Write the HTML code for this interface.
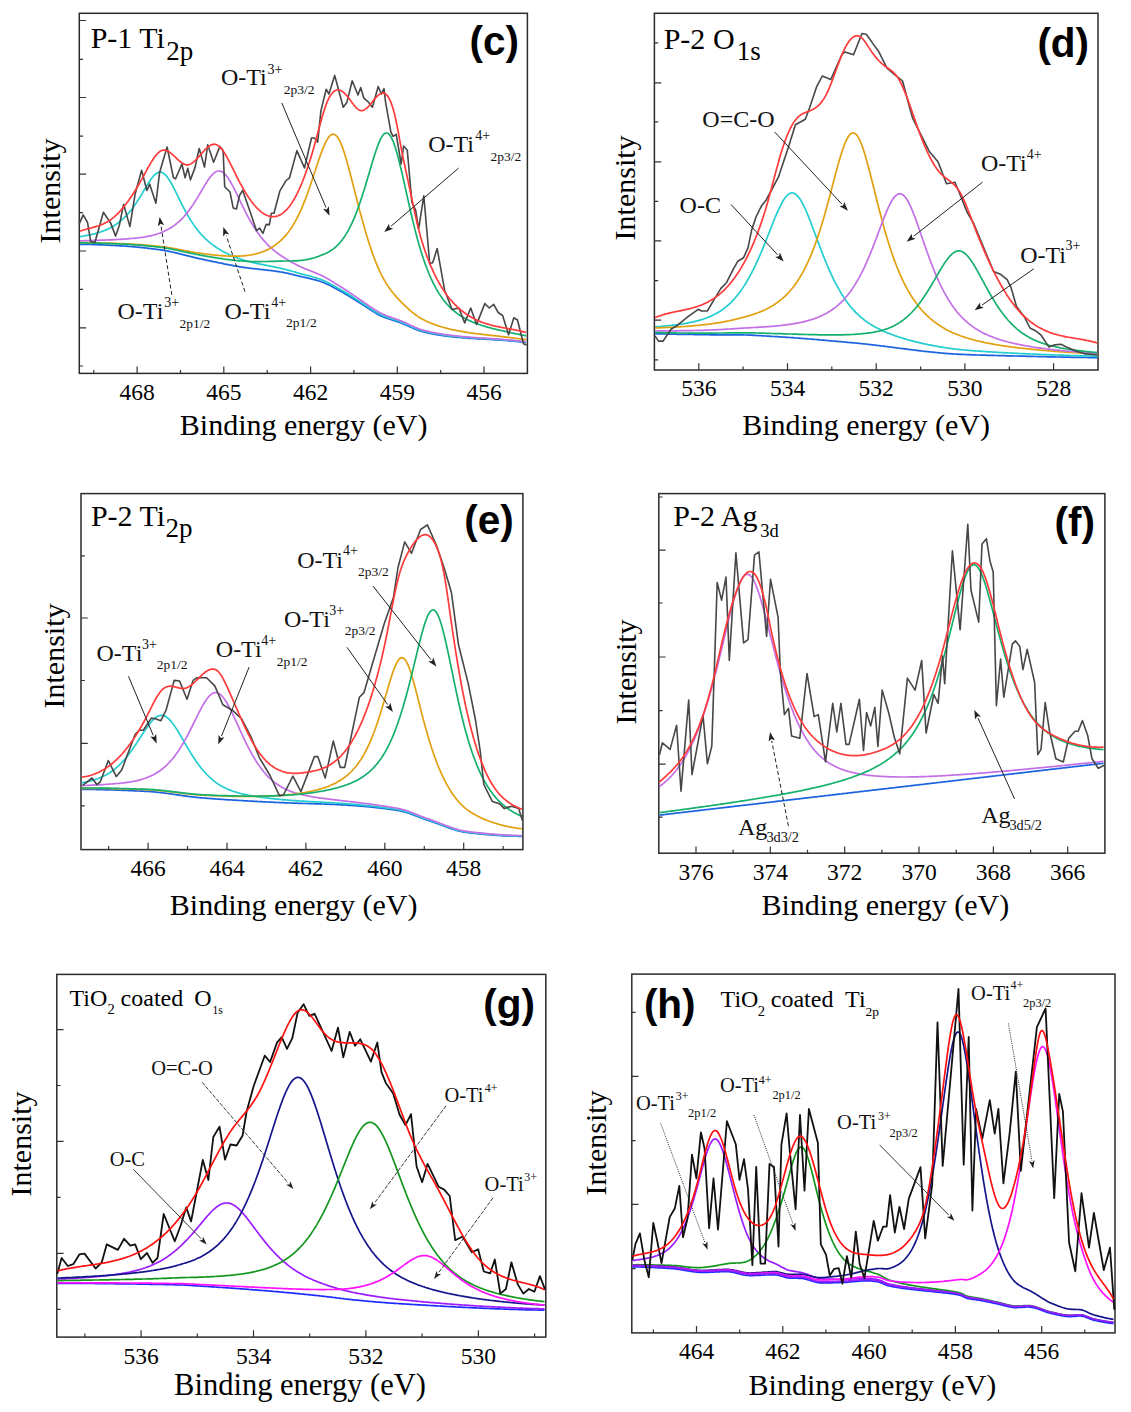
<!DOCTYPE html><html><head><meta charset="utf-8"><style>html,body{margin:0;padding:0;background:#fff;}svg{display:block}</style></head><body>
<svg width="1131" height="1412" viewBox="0 0 1131 1412">
<rect width="1131" height="1412" fill="#fff"/>
<rect x="79.3" y="13.3" width="448.1" height="360.1" fill="none" stroke="#2b2b2b" stroke-width="1.5"/>
<path d="M137.1,373.4V366.6 M223.8,373.4V366.6 M310.6,373.4V366.6 M397.3,373.4V366.6 M484.0,373.4V366.6 M93.8,373.4V369.9 M180.5,373.4V369.9 M267.2,373.4V369.9 M353.9,373.4V369.9 M440.7,373.4V369.9 M79.3,20.5H86.1 M79.3,97.5H86.1 M79.3,174.2H86.1 M79.3,251.0H86.1 M79.3,327.8H86.1 M79.3,59.3H83.1 M79.3,136.1H83.1 M79.3,212.6H83.1 M79.3,289.3H83.1 M79.3,366.0H83.1" stroke="#333" stroke-width="1.2" fill="none"/>
<text x="137.1" y="400.0" text-anchor="middle" font-family='"Liberation Serif", serif' font-size="23.5" fill="#000">468</text>
<text x="223.8" y="400.0" text-anchor="middle" font-family='"Liberation Serif", serif' font-size="23.5" fill="#000">465</text>
<text x="310.6" y="400.0" text-anchor="middle" font-family='"Liberation Serif", serif' font-size="23.5" fill="#000">462</text>
<text x="397.3" y="400.0" text-anchor="middle" font-family='"Liberation Serif", serif' font-size="23.5" fill="#000">459</text>
<text x="484.0" y="400.0" text-anchor="middle" font-family='"Liberation Serif", serif' font-size="23.5" fill="#000">456</text>
<path d="M80.0,244.3 L81.0,244.3 L82.0,244.3 L83.0,244.3 L84.0,244.4 L85.0,244.4 L86.0,244.4 L87.0,244.4 L88.0,244.4 L89.0,244.5 L90.0,244.5 L91.0,244.5 L92.0,244.5 L93.0,244.6 L94.0,244.6 L95.0,244.6 L96.0,244.7 L97.0,244.7 L98.0,244.7 L99.0,244.8 L100.0,244.8 L101.0,244.9 L102.0,244.9 L103.0,244.9 L104.0,245.0 L105.0,245.0 L106.0,245.1 L107.0,245.1 L108.0,245.2 L109.0,245.2 L110.0,245.3 L111.0,245.3 L112.0,245.4 L113.0,245.4 L114.0,245.5 L115.0,245.5 L116.0,245.6 L117.0,245.6 L118.0,245.7 L119.0,245.7 L120.0,245.8 L121.0,245.9 L122.0,245.9 L123.0,246.0 L124.0,246.0 L125.0,246.1 L126.0,246.2 L127.0,246.2 L128.1,246.3 L129.1,246.4 L130.1,246.5 L131.1,246.6 L132.1,246.6 L133.1,246.7 L134.1,246.8 L135.1,246.9 L136.1,247.0 L137.1,247.1 L138.1,247.2 L139.1,247.3 L140.1,247.4 L141.1,247.5 L142.1,247.6 L143.1,247.7 L144.1,247.8 L145.1,247.9 L146.1,248.0 L147.1,248.1 L148.1,248.3 L149.1,248.4 L150.1,248.5 L151.1,248.6 L152.1,248.8 L153.1,248.9 L154.1,249.0 L155.1,249.1 L156.1,249.3 L157.1,249.4 L158.1,249.5 L159.1,249.7 L160.1,249.8 L161.1,249.9 L162.1,250.1 L163.1,250.3 L164.1,250.4 L165.1,250.6 L166.1,250.8 L167.1,251.0 L168.1,251.2 L169.1,251.4 L170.1,251.6 L171.1,251.8 L172.1,252.0 L173.1,252.2 L174.1,252.5 L175.1,252.7 L176.1,252.9 L177.1,253.2 L178.1,253.4 L179.1,253.7 L180.1,253.9 L181.1,254.2 L182.1,254.4 L183.1,254.7 L184.1,254.9 L185.1,255.2 L186.1,255.4 L187.1,255.7 L188.1,255.9 L189.1,256.2 L190.1,256.4 L191.1,256.7 L192.1,256.9 L193.1,257.2 L194.1,257.4 L195.1,257.7 L196.1,257.9 L197.1,258.1 L198.1,258.4 L199.1,258.6 L200.1,258.8 L201.1,259.0 L202.1,259.2 L203.1,259.4 L204.1,259.6 L205.1,259.9 L206.1,260.1 L207.1,260.3 L208.1,260.5 L209.1,260.7 L210.1,260.9 L211.1,261.1 L212.1,261.4 L213.1,261.6 L214.1,261.8 L215.1,262.0 L216.1,262.2 L217.1,262.4 L218.1,262.6 L219.1,262.8 L220.1,263.0 L221.1,263.2 L222.1,263.4 L223.1,263.6 L224.1,263.9 L225.1,264.1 L226.1,264.3 L227.1,264.4 L228.1,264.6 L229.1,264.8 L230.1,265.0 L231.1,265.2 L232.1,265.4 L233.1,265.6 L234.1,265.8 L235.1,265.9 L236.1,266.1 L237.1,266.3 L238.1,266.5 L239.1,266.6 L240.1,266.8 L241.1,267.0 L242.1,267.1 L243.1,267.3 L244.1,267.4 L245.1,267.6 L246.1,267.7 L247.1,267.8 L248.1,268.0 L249.1,268.1 L250.1,268.2 L251.1,268.3 L252.1,268.5 L253.1,268.6 L254.1,268.7 L255.1,268.8 L256.1,268.9 L257.1,269.0 L258.1,269.1 L259.1,269.3 L260.1,269.4 L261.1,269.5 L262.1,269.6 L263.1,269.7 L264.1,269.8 L265.1,269.9 L266.1,270.0 L267.1,270.1 L268.1,270.3 L269.1,270.4 L270.1,270.5 L271.1,270.6 L272.1,270.7 L273.1,270.9 L274.1,271.0 L275.1,271.1 L276.1,271.3 L277.1,271.4 L278.1,271.6 L279.1,271.7 L280.1,271.9 L281.1,272.0 L282.1,272.2 L283.1,272.4 L284.1,272.6 L285.1,272.8 L286.1,273.0 L287.1,273.2 L288.1,273.4 L289.1,273.6 L290.1,273.9 L291.1,274.1 L292.1,274.3 L293.1,274.6 L294.1,274.8 L295.1,275.1 L296.1,275.3 L297.1,275.6 L298.1,275.8 L299.1,276.1 L300.1,276.3 L301.1,276.5 L302.1,276.8 L303.1,277.0 L304.1,277.2 L305.1,277.5 L306.1,277.7 L307.1,277.9 L308.1,278.1 L309.1,278.4 L310.1,278.6 L311.1,278.8 L312.1,279.1 L313.1,279.3 L314.1,279.6 L315.1,279.8 L316.1,280.1 L317.1,280.4 L318.1,280.7 L319.1,281.0 L320.1,281.3 L321.1,281.7 L322.1,282.0 L323.1,282.4 L324.1,282.8 L325.1,283.2 L326.1,283.7 L327.1,284.2 L328.1,284.6 L329.1,285.1 L330.1,285.6 L331.1,286.1 L332.1,286.6 L333.1,287.2 L334.1,287.7 L335.1,288.3 L336.1,288.8 L337.1,289.3 L338.1,289.9 L339.1,290.4 L340.1,291.0 L341.1,291.5 L342.1,292.1 L343.1,292.6 L344.1,293.2 L345.1,293.8 L346.1,294.4 L347.1,295.0 L348.1,295.6 L349.1,296.2 L350.1,296.8 L351.1,297.5 L352.1,298.1 L353.1,298.7 L354.1,299.4 L355.1,300.0 L356.1,300.6 L357.1,301.2 L358.1,301.9 L359.1,302.5 L360.1,303.1 L361.1,303.7 L362.1,304.3 L363.1,305.0 L364.1,305.6 L365.1,306.3 L366.1,306.9 L367.1,307.6 L368.1,308.3 L369.1,308.9 L370.1,309.6 L371.1,310.2 L372.1,310.9 L373.1,311.5 L374.1,312.1 L375.1,312.7 L376.1,313.3 L377.1,313.9 L378.1,314.4 L379.1,315.0 L380.1,315.5 L381.1,315.9 L382.1,316.4 L383.1,316.8 L384.1,317.2 L385.1,317.6 L386.1,317.9 L387.1,318.3 L388.1,318.6 L389.1,319.0 L390.1,319.3 L391.1,319.6 L392.1,320.0 L393.1,320.3 L394.1,320.6 L395.1,320.9 L396.1,321.3 L397.1,321.6 L398.1,321.9 L399.1,322.3 L400.1,322.6 L401.1,323.0 L402.1,323.4 L403.1,323.8 L404.1,324.2 L405.1,324.7 L406.1,325.1 L407.1,325.5 L408.1,326.0 L409.1,326.4 L410.1,326.9 L411.1,327.3 L412.1,327.8 L413.1,328.2 L414.1,328.7 L415.1,329.1 L416.1,329.5 L417.1,329.9 L418.1,330.2 L419.1,330.6 L420.1,330.9 L421.1,331.2 L422.1,331.5 L423.1,331.8 L424.1,332.0 L425.1,332.3 L426.1,332.5 L427.1,332.8 L428.1,333.0 L429.1,333.2 L430.1,333.4 L431.1,333.6 L432.1,333.8 L433.1,334.0 L434.1,334.2 L435.1,334.4 L436.1,334.6 L437.1,334.7 L438.1,334.9 L439.1,335.1 L440.1,335.2 L441.1,335.4 L442.1,335.5 L443.1,335.6 L444.1,335.8 L445.1,335.9 L446.1,336.0 L447.1,336.2 L448.1,336.3 L449.1,336.4 L450.1,336.5 L451.1,336.6 L452.1,336.8 L453.1,336.9 L454.1,337.0 L455.1,337.1 L456.1,337.2 L457.1,337.3 L458.1,337.4 L459.1,337.5 L460.1,337.5 L461.1,337.6 L462.1,337.7 L463.1,337.8 L464.1,337.9 L465.1,338.0 L466.1,338.0 L467.1,338.1 L468.1,338.2 L469.1,338.3 L470.1,338.3 L471.1,338.4 L472.1,338.5 L473.1,338.5 L474.1,338.6 L475.1,338.6 L476.1,338.7 L477.1,338.8 L478.1,338.8 L479.1,338.9 L480.1,338.9 L481.1,339.0 L482.1,339.0 L483.1,339.1 L484.1,339.1 L485.1,339.2 L486.1,339.2 L487.1,339.3 L488.1,339.4 L489.1,339.4 L490.1,339.5 L491.1,339.5 L492.1,339.6 L493.1,339.6 L494.1,339.7 L495.1,339.8 L496.1,339.8 L497.1,339.9 L498.1,340.0 L499.1,340.0 L500.1,340.1 L501.1,340.2 L502.1,340.2 L503.1,340.3 L504.1,340.4 L505.1,340.5 L506.1,340.5 L507.1,340.6 L508.1,340.7 L509.1,340.8 L510.1,340.9 L511.1,341.0 L512.0,341.0 L513.0,341.1 L514.0,341.2 L515.0,341.3 L516.0,341.4 L517.0,341.5 L518.0,341.6 L519.0,341.7 L520.0,341.8 L521.0,341.9 L522.0,342.0 L523.0,342.1 L524.0,342.2 L525.0,342.3 L526.0,342.4" stroke="#1a62e0" stroke-width="1.7" fill="none" transform="translate(0,0)"/>
<path d="M80.0,236.7 L81.0,236.5 L82.0,236.3 L83.0,236.2 L84.0,236.0 L85.0,235.8 L86.0,235.6 L87.0,235.4 L88.0,235.2 L89.0,235.0 L90.0,234.8 L91.0,234.6 L92.0,234.3 L93.0,234.1 L94.0,233.8 L95.0,233.6 L96.0,233.3 L97.0,233.0 L98.0,232.7 L99.0,232.4 L100.0,232.1 L101.0,231.8 L102.0,231.4 L103.0,231.1 L104.0,230.7 L105.0,230.3 L106.0,229.9 L107.0,229.4 L108.0,229.0 L109.0,228.5 L110.0,228.0 L111.0,227.5 L112.0,226.9 L113.0,226.4 L114.0,225.7 L115.0,225.1 L116.0,224.4 L117.0,223.7 L118.0,223.0 L119.0,222.2 L120.0,221.4 L121.0,220.6 L122.0,219.7 L123.0,218.8 L124.0,217.9 L125.0,216.9 L126.0,215.9 L127.0,214.8 L128.1,213.7 L129.1,212.5 L130.1,211.3 L131.1,210.1 L132.1,208.8 L133.1,207.4 L134.1,206.0 L135.1,204.6 L136.1,203.2 L137.1,201.6 L138.1,200.1 L139.1,198.5 L140.1,196.9 L141.1,195.2 L142.1,193.6 L143.1,191.9 L144.1,190.2 L145.1,188.5 L146.1,186.9 L147.1,185.2 L148.1,183.6 L149.1,182.0 L150.1,180.5 L151.1,179.1 L152.1,177.8 L153.1,176.5 L154.1,175.4 L155.1,174.5 L156.1,173.7 L157.1,173.0 L158.1,172.5 L159.1,172.2 L160.1,172.1 L161.1,172.2 L162.1,172.5 L163.1,173.0 L164.1,173.7 L165.1,174.6 L166.1,175.6 L167.1,176.8 L168.1,178.2 L169.1,179.7 L170.1,181.3 L171.1,183.0 L172.1,184.8 L173.1,186.7 L174.1,188.7 L175.1,190.6 L176.1,192.7 L177.1,194.7 L178.1,196.7 L179.1,198.8 L180.1,200.8 L181.1,202.8 L182.1,204.8 L183.1,206.7 L184.1,208.7 L185.1,210.5 L186.1,212.4 L187.1,214.2 L188.1,215.9 L189.1,217.6 L190.1,219.3 L191.1,220.9 L192.1,222.4 L193.1,223.9 L194.1,225.4 L195.1,226.8 L196.1,228.1 L197.1,229.4 L198.1,230.7 L199.1,231.9 L200.1,233.1 L201.1,234.2 L202.1,235.3 L203.1,236.3 L204.1,237.4 L205.1,238.3 L206.1,239.3 L207.1,240.2 L208.1,241.1 L209.1,241.9 L210.1,242.8 L211.1,243.6 L212.1,244.4 L213.1,245.1 L214.1,245.8 L215.1,246.5 L216.1,247.2 L217.1,247.9 L218.1,248.5 L219.1,249.2 L220.1,249.8 L221.1,250.4 L222.1,250.9 L223.1,251.5 L224.1,252.0 L225.1,252.5 L226.1,253.1 L227.1,253.6 L228.1,254.0 L229.1,254.5 L230.1,255.0 L231.1,255.4 L232.1,255.8 L233.1,256.3 L234.1,256.7 L235.1,257.1 L236.1,257.4 L237.1,257.8 L238.1,258.2 L239.1,258.5 L240.1,258.9 L241.1,259.2 L242.1,259.6 L243.1,259.9 L244.1,260.2 L245.1,260.5 L246.1,260.8 L247.1,261.1 L248.1,261.3 L249.1,261.6 L250.1,261.8 L251.1,262.1 L252.1,262.3 L253.1,262.6 L254.1,262.8 L255.1,263.0 L256.1,263.3 L257.1,263.5 L258.1,263.7 L259.1,263.9 L260.1,264.1 L261.1,264.3 L262.1,264.5 L263.1,264.7 L264.1,264.9 L265.1,265.1 L266.1,265.3 L267.1,265.5 L268.1,265.7 L269.1,265.9 L270.1,266.1 L271.1,266.3 L272.1,266.5 L273.1,266.7 L274.1,266.9 L275.1,267.1 L276.1,267.3 L277.1,267.5 L278.1,267.7 L279.1,268.0 L280.1,268.2 L281.1,268.4 L282.1,268.6 L283.1,268.8 L284.1,269.1 L285.1,269.3 L286.1,269.6 L287.1,269.9 L288.1,270.1 L289.1,270.4 L290.1,270.7 L291.1,271.0 L292.1,271.3 L293.1,271.5 L294.1,271.8 L295.1,272.1 L296.1,272.4 L297.1,272.7 L298.1,273.0 L299.1,273.3 L300.1,273.6 L301.1,273.8 L302.1,274.1 L303.1,274.4 L304.1,274.6 L305.1,274.9 L306.1,275.1 L307.1,275.4 L308.1,275.6 L309.1,275.9 L310.1,276.2 L311.1,276.4 L312.1,276.7 L313.1,277.0 L314.1,277.3 L315.1,277.6 L316.1,277.9 L317.1,278.2 L318.1,278.5 L319.1,278.8 L320.1,279.2 L321.1,279.6 L322.1,279.9 L323.1,280.4 L324.1,280.8 L325.1,281.2 L326.1,281.7 L327.1,282.2 L328.1,282.7 L329.1,283.2 L330.1,283.7 L331.1,284.3 L332.1,284.8 L333.1,285.3 L334.1,285.9 L335.1,286.5 L336.1,287.0 L337.1,287.6 L338.1,288.2 L339.1,288.7 L340.1,289.3 L341.1,289.9 L342.1,290.4 L343.1,291.0 L344.1,291.6 L345.1,292.2 L346.1,292.8 L347.1,293.4 L348.1,294.0 L349.1,294.7 L350.1,295.3 L351.1,296.0 L352.1,296.6 L353.1,297.2 L354.1,297.9 L355.1,298.5 L356.1,299.2 L357.1,299.8 L358.1,300.5 L359.1,301.1 L360.1,301.7 L361.1,302.4 L362.1,303.0 L363.1,303.6 L364.1,304.3 L365.1,305.0 L366.1,305.6 L367.1,306.3 L368.1,307.0 L369.1,307.7 L370.1,308.3 L371.1,309.0 L372.1,309.7 L373.1,310.3 L374.1,310.9 L375.1,311.6 L376.1,312.2 L377.1,312.7 L378.1,313.3 L379.1,313.8 L380.1,314.3 L381.1,314.8 L382.1,315.2 L383.1,315.7 L384.1,316.1 L385.1,316.5 L386.1,316.9 L387.1,317.2 L388.1,317.6 L389.1,317.9 L390.1,318.3 L391.1,318.6 L392.1,318.9 L393.1,319.3 L394.1,319.6 L395.1,319.9 L396.1,320.3 L397.1,320.6 L398.1,321.0 L399.1,321.3 L400.1,321.7 L401.1,322.1 L402.1,322.5 L403.1,322.9 L404.1,323.3 L405.1,323.7 L406.1,324.2 L407.1,324.6 L408.1,325.1 L409.1,325.5 L410.1,326.0 L411.1,326.5 L412.1,326.9 L413.1,327.4 L414.1,327.8 L415.1,328.2 L416.1,328.6 L417.1,329.0 L418.1,329.4 L419.1,329.8 L420.1,330.1 L421.1,330.4 L422.1,330.7 L423.1,331.0 L424.1,331.2 L425.1,331.5 L426.1,331.7 L427.1,332.0 L428.1,332.2 L429.1,332.4 L430.1,332.7 L431.1,332.9 L432.1,333.1 L433.1,333.3 L434.1,333.5 L435.1,333.7 L436.1,333.8 L437.1,334.0 L438.1,334.2 L439.1,334.3 L440.1,334.5 L441.1,334.7 L442.1,334.8 L443.1,335.0 L444.1,335.1 L445.1,335.2 L446.1,335.4 L447.1,335.5 L448.1,335.6 L449.1,335.8 L450.1,335.9 L451.1,336.0 L452.1,336.1 L453.1,336.2 L454.1,336.3 L455.1,336.4 L456.1,336.5 L457.1,336.6 L458.1,336.7 L459.1,336.8 L460.1,336.9 L461.1,337.0 L462.1,337.1 L463.1,337.2 L464.1,337.3 L465.1,337.4 L466.1,337.4 L467.1,337.5 L468.1,337.6 L469.1,337.7 L470.1,337.7 L471.1,337.8 L472.1,337.9 L473.1,337.9 L474.1,338.0 L475.1,338.1 L476.1,338.1 L477.1,338.2 L478.1,338.3 L479.1,338.3 L480.1,338.4 L481.1,338.4 L482.1,338.5 L483.1,338.6 L484.1,338.6 L485.1,338.7 L486.1,338.7 L487.1,338.8 L488.1,338.8 L489.1,338.9 L490.1,339.0 L491.1,339.0 L492.1,339.1 L493.1,339.1 L494.1,339.2 L495.1,339.3 L496.1,339.3 L497.1,339.4 L498.1,339.5 L499.1,339.5 L500.1,339.6 L501.1,339.7 L502.1,339.8 L503.1,339.8 L504.1,339.9 L505.1,340.0 L506.1,340.1 L507.1,340.2 L508.1,340.2 L509.1,340.3 L510.1,340.4 L511.1,340.5 L512.0,340.6 L513.0,340.7 L514.0,340.8 L515.0,340.9 L516.0,341.0 L517.0,341.1 L518.0,341.2 L519.0,341.3 L520.0,341.4 L521.0,341.5 L522.0,341.6 L523.0,341.7 L524.0,341.8 L525.0,341.9 L526.0,342.0" stroke="#22cdd0" stroke-width="1.7" fill="none"/>
<path d="M80.0,240.9 L81.0,240.8 L82.0,240.8 L83.0,240.8 L84.0,240.7 L85.0,240.7 L86.0,240.7 L87.0,240.6 L88.0,240.6 L89.0,240.6 L90.0,240.5 L91.0,240.5 L92.0,240.5 L93.0,240.4 L94.0,240.4 L95.0,240.4 L96.0,240.3 L97.0,240.3 L98.0,240.3 L99.0,240.3 L100.0,240.2 L101.0,240.2 L102.0,240.2 L103.0,240.1 L104.0,240.1 L105.0,240.1 L106.0,240.0 L107.0,240.0 L108.0,239.9 L109.0,239.9 L110.0,239.9 L111.0,239.8 L112.0,239.8 L113.0,239.7 L114.0,239.7 L115.0,239.6 L116.0,239.6 L117.0,239.5 L118.0,239.5 L119.0,239.4 L120.0,239.3 L121.0,239.3 L122.0,239.2 L123.0,239.1 L124.0,239.1 L125.0,239.0 L126.0,238.9 L127.0,238.9 L128.1,238.8 L129.1,238.7 L130.1,238.6 L131.1,238.5 L132.1,238.5 L133.1,238.4 L134.1,238.3 L135.1,238.2 L136.1,238.1 L137.1,238.0 L138.1,237.9 L139.1,237.7 L140.1,237.6 L141.1,237.5 L142.1,237.3 L143.1,237.2 L144.1,237.0 L145.1,236.9 L146.1,236.7 L147.1,236.5 L148.1,236.3 L149.1,236.1 L150.1,235.9 L151.1,235.7 L152.1,235.5 L153.1,235.2 L154.1,234.9 L155.1,234.7 L156.1,234.4 L157.1,234.0 L158.1,233.7 L159.1,233.3 L160.1,233.0 L161.1,232.6 L162.1,232.2 L163.1,231.7 L164.1,231.3 L165.1,230.8 L166.1,230.3 L167.1,229.8 L168.1,229.3 L169.1,228.8 L170.1,228.2 L171.1,227.6 L172.1,226.9 L173.1,226.3 L174.1,225.6 L175.1,224.8 L176.1,224.0 L177.1,223.2 L178.1,222.4 L179.1,221.5 L180.1,220.6 L181.1,219.6 L182.1,218.6 L183.1,217.6 L184.1,216.5 L185.1,215.3 L186.1,214.1 L187.1,212.9 L188.1,211.6 L189.1,210.3 L190.1,208.9 L191.1,207.5 L192.1,206.1 L193.1,204.6 L194.1,203.0 L195.1,201.5 L196.1,199.9 L197.1,198.2 L198.1,196.6 L199.1,194.9 L200.1,193.2 L201.1,191.5 L202.1,189.8 L203.1,188.0 L204.1,186.4 L205.1,184.7 L206.1,183.1 L207.1,181.5 L208.1,180.0 L209.1,178.6 L210.1,177.3 L211.1,176.0 L212.1,174.9 L213.1,173.9 L214.1,173.0 L215.1,172.3 L216.1,171.7 L217.1,171.3 L218.1,171.0 L219.1,171.0 L220.1,171.1 L221.1,171.4 L222.1,171.8 L223.1,172.5 L224.1,173.3 L225.1,174.3 L226.1,175.4 L227.1,176.7 L228.1,178.1 L229.1,179.6 L230.1,181.2 L231.1,183.0 L232.1,184.8 L233.1,186.7 L234.1,188.6 L235.1,190.6 L236.1,192.7 L237.1,194.7 L238.1,196.8 L239.1,198.9 L240.1,201.0 L241.1,203.1 L242.1,205.1 L243.1,207.2 L244.1,209.2 L245.1,211.2 L246.1,213.1 L247.1,215.0 L248.1,216.9 L249.1,218.7 L250.1,220.5 L251.1,222.3 L252.1,224.0 L253.1,225.6 L254.1,227.2 L255.1,228.8 L256.1,230.3 L257.1,231.8 L258.1,233.2 L259.1,234.6 L260.1,235.9 L261.1,237.2 L262.1,238.4 L263.1,239.6 L264.1,240.8 L265.1,241.9 L266.1,243.0 L267.1,244.1 L268.1,245.1 L269.1,246.1 L270.1,247.0 L271.1,247.9 L272.1,248.8 L273.1,249.7 L274.1,250.5 L275.1,251.3 L276.1,252.1 L277.1,252.8 L278.1,253.6 L279.1,254.3 L280.1,255.0 L281.1,255.7 L282.1,256.3 L283.1,257.0 L284.1,257.6 L285.1,258.2 L286.1,258.9 L287.1,259.5 L288.1,260.1 L289.1,260.7 L290.1,261.3 L291.1,261.8 L292.1,262.4 L293.1,262.9 L294.1,263.5 L295.1,264.0 L296.1,264.5 L297.1,265.1 L298.1,265.6 L299.1,266.0 L300.1,266.5 L301.1,267.0 L302.1,267.4 L303.1,267.9 L304.1,268.3 L305.1,268.7 L306.1,269.1 L307.1,269.5 L308.1,269.9 L309.1,270.3 L310.1,270.7 L311.1,271.1 L312.1,271.5 L313.1,271.9 L314.1,272.3 L315.1,272.7 L316.1,273.1 L317.1,273.5 L318.1,274.0 L319.1,274.4 L320.1,274.8 L321.1,275.3 L322.1,275.8 L323.1,276.3 L324.1,276.8 L325.1,277.3 L326.1,277.9 L327.1,278.4 L328.1,279.0 L329.1,279.6 L330.1,280.2 L331.1,280.8 L332.1,281.4 L333.1,282.0 L334.1,282.6 L335.1,283.3 L336.1,283.9 L337.1,284.5 L338.1,285.1 L339.1,285.8 L340.1,286.4 L341.1,287.0 L342.1,287.6 L343.1,288.2 L344.1,288.9 L345.1,289.5 L346.1,290.2 L347.1,290.8 L348.1,291.5 L349.1,292.2 L350.1,292.9 L351.1,293.6 L352.1,294.2 L353.1,294.9 L354.1,295.6 L355.1,296.3 L356.1,297.0 L357.1,297.7 L358.1,298.3 L359.1,299.0 L360.1,299.7 L361.1,300.3 L362.1,301.0 L363.1,301.7 L364.1,302.4 L365.1,303.1 L366.1,303.8 L367.1,304.5 L368.1,305.2 L369.1,305.9 L370.1,306.6 L371.1,307.3 L372.1,307.9 L373.1,308.6 L374.1,309.3 L375.1,309.9 L376.1,310.5 L377.1,311.1 L378.1,311.7 L379.1,312.3 L380.1,312.8 L381.1,313.3 L382.1,313.8 L383.1,314.2 L384.1,314.6 L385.1,315.1 L386.1,315.5 L387.1,315.8 L388.1,316.2 L389.1,316.6 L390.1,316.9 L391.1,317.3 L392.1,317.7 L393.1,318.0 L394.1,318.3 L395.1,318.7 L396.1,319.1 L397.1,319.4 L398.1,319.8 L399.1,320.1 L400.1,320.5 L401.1,320.9 L402.1,321.3 L403.1,321.8 L404.1,322.2 L405.1,322.6 L406.1,323.1 L407.1,323.6 L408.1,324.0 L409.1,324.5 L410.1,325.0 L411.1,325.5 L412.1,325.9 L413.1,326.4 L414.1,326.8 L415.1,327.3 L416.1,327.7 L417.1,328.1 L418.1,328.5 L419.1,328.9 L420.1,329.2 L421.1,329.5 L422.1,329.8 L423.1,330.1 L424.1,330.4 L425.1,330.6 L426.1,330.9 L427.1,331.1 L428.1,331.4 L429.1,331.6 L430.1,331.8 L431.1,332.1 L432.1,332.3 L433.1,332.5 L434.1,332.7 L435.1,332.9 L436.1,333.1 L437.1,333.3 L438.1,333.4 L439.1,333.6 L440.1,333.8 L441.1,333.9 L442.1,334.1 L443.1,334.3 L444.1,334.4 L445.1,334.5 L446.1,334.7 L447.1,334.8 L448.1,335.0 L449.1,335.1 L450.1,335.2 L451.1,335.3 L452.1,335.5 L453.1,335.6 L454.1,335.7 L455.1,335.8 L456.1,335.9 L457.1,336.0 L458.1,336.1 L459.1,336.2 L460.1,336.3 L461.1,336.4 L462.1,336.5 L463.1,336.6 L464.1,336.7 L465.1,336.8 L466.1,336.9 L467.1,337.0 L468.1,337.1 L469.1,337.1 L470.1,337.2 L471.1,337.3 L472.1,337.4 L473.1,337.4 L474.1,337.5 L475.1,337.6 L476.1,337.6 L477.1,337.7 L478.1,337.8 L479.1,337.8 L480.1,337.9 L481.1,338.0 L482.1,338.0 L483.1,338.1 L484.1,338.1 L485.1,338.2 L486.1,338.3 L487.1,338.3 L488.1,338.4 L489.1,338.4 L490.1,338.5 L491.1,338.6 L492.1,338.6 L493.1,338.7 L494.1,338.8 L495.1,338.8 L496.1,338.9 L497.1,339.0 L498.1,339.0 L499.1,339.1 L500.1,339.2 L501.1,339.3 L502.1,339.4 L503.1,339.4 L504.1,339.5 L505.1,339.6 L506.1,339.7 L507.1,339.8 L508.1,339.9 L509.1,339.9 L510.1,340.0 L511.1,340.1 L512.0,340.2 L513.0,340.3 L514.0,340.4 L515.0,340.5 L516.0,340.6 L517.0,340.7 L518.0,340.8 L519.0,340.9 L520.0,341.0 L521.0,341.1 L522.0,341.2 L523.0,341.3 L524.0,341.4 L525.0,341.5 L526.0,341.7" stroke="#c36fe6" stroke-width="1.7" fill="none"/>
<path d="M80.0,242.7 L81.0,242.7 L82.0,242.7 L83.0,242.7 L84.0,242.7 L85.0,242.7 L86.0,242.7 L87.0,242.7 L88.0,242.7 L89.0,242.7 L90.0,242.7 L91.0,242.8 L92.0,242.8 L93.0,242.8 L94.0,242.8 L95.0,242.8 L96.0,242.8 L97.0,242.9 L98.0,242.9 L99.0,242.9 L100.0,242.9 L101.0,243.0 L102.0,243.0 L103.0,243.0 L104.0,243.0 L105.0,243.1 L106.0,243.1 L107.0,243.1 L108.0,243.2 L109.0,243.2 L110.0,243.2 L111.0,243.3 L112.0,243.3 L113.0,243.3 L114.0,243.4 L115.0,243.4 L116.0,243.4 L117.0,243.5 L118.0,243.5 L119.0,243.5 L120.0,243.6 L121.0,243.6 L122.0,243.6 L123.0,243.7 L124.0,243.7 L125.0,243.8 L126.0,243.8 L127.0,243.9 L128.1,243.9 L129.1,244.0 L130.1,244.0 L131.1,244.1 L132.1,244.1 L133.1,244.2 L134.1,244.3 L135.1,244.3 L136.1,244.4 L137.1,244.5 L138.1,244.5 L139.1,244.6 L140.1,244.7 L141.1,244.7 L142.1,244.8 L143.1,244.9 L144.1,245.0 L145.1,245.1 L146.1,245.1 L147.1,245.2 L148.1,245.3 L149.1,245.4 L150.1,245.5 L151.1,245.6 L152.1,245.7 L153.1,245.8 L154.1,245.9 L155.1,246.0 L156.1,246.1 L157.1,246.2 L158.1,246.3 L159.1,246.4 L160.1,246.5 L161.1,246.6 L162.1,246.7 L163.1,246.8 L164.1,246.9 L165.1,247.1 L166.1,247.2 L167.1,247.4 L168.1,247.5 L169.1,247.7 L170.1,247.8 L171.1,248.0 L172.1,248.2 L173.1,248.4 L174.1,248.5 L175.1,248.7 L176.1,248.9 L177.1,249.1 L178.1,249.3 L179.1,249.5 L180.1,249.7 L181.1,249.9 L182.1,250.1 L183.1,250.3 L184.1,250.5 L185.1,250.7 L186.1,250.9 L187.1,251.1 L188.1,251.2 L189.1,251.4 L190.1,251.6 L191.1,251.8 L192.1,252.0 L193.1,252.2 L194.1,252.3 L195.1,252.5 L196.1,252.7 L197.1,252.8 L198.1,253.0 L199.1,253.1 L200.1,253.3 L201.1,253.4 L202.1,253.5 L203.1,253.7 L204.1,253.8 L205.1,253.9 L206.1,254.0 L207.1,254.2 L208.1,254.3 L209.1,254.4 L210.1,254.5 L211.1,254.6 L212.1,254.8 L213.1,254.9 L214.1,255.0 L215.1,255.1 L216.1,255.2 L217.1,255.3 L218.1,255.4 L219.1,255.5 L220.1,255.5 L221.1,255.6 L222.1,255.7 L223.1,255.8 L224.1,255.8 L225.1,255.9 L226.1,256.0 L227.1,256.0 L228.1,256.1 L229.1,256.1 L230.1,256.1 L231.1,256.2 L232.1,256.2 L233.1,256.2 L234.1,256.2 L235.1,256.2 L236.1,256.2 L237.1,256.2 L238.1,256.2 L239.1,256.1 L240.1,256.1 L241.1,256.0 L242.1,256.0 L243.1,255.9 L244.1,255.8 L245.1,255.7 L246.1,255.6 L247.1,255.5 L248.1,255.3 L249.1,255.2 L250.1,255.0 L251.1,254.9 L252.1,254.7 L253.1,254.5 L254.1,254.3 L255.1,254.0 L256.1,253.8 L257.1,253.5 L258.1,253.2 L259.1,252.9 L260.1,252.6 L261.1,252.3 L262.1,251.9 L263.1,251.6 L264.1,251.2 L265.1,250.8 L266.1,250.3 L267.1,249.9 L268.1,249.4 L269.1,248.9 L270.1,248.3 L271.1,247.8 L272.1,247.2 L273.1,246.6 L274.1,245.9 L275.1,245.2 L276.1,244.5 L277.1,243.7 L278.1,242.9 L279.1,242.1 L280.1,241.2 L281.1,240.2 L282.1,239.3 L283.1,238.2 L284.1,237.2 L285.1,236.1 L286.1,234.9 L287.1,233.7 L288.1,232.4 L289.1,231.1 L290.1,229.7 L291.1,228.2 L292.1,226.7 L293.1,225.1 L294.1,223.4 L295.1,221.7 L296.1,219.9 L297.1,218.0 L298.1,216.0 L299.1,214.0 L300.1,211.8 L301.1,209.6 L302.1,207.3 L303.1,204.9 L304.1,202.4 L305.1,199.9 L306.1,197.2 L307.1,194.5 L308.1,191.8 L309.1,188.9 L310.1,186.0 L311.1,183.1 L312.1,180.1 L313.1,177.1 L314.1,174.1 L315.1,171.0 L316.1,168.0 L317.1,165.0 L318.1,162.0 L319.1,159.0 L320.1,156.1 L321.1,153.3 L322.1,150.6 L323.1,148.1 L324.1,145.7 L325.1,143.4 L326.1,141.4 L327.1,139.6 L328.1,138.0 L329.1,136.6 L330.1,135.6 L331.1,134.8 L332.1,134.3 L333.1,134.1 L334.1,134.3 L335.1,134.7 L336.1,135.5 L337.1,136.6 L338.1,138.0 L339.1,139.7 L340.1,141.7 L341.1,143.9 L342.1,146.4 L343.1,149.2 L344.1,152.1 L345.1,155.3 L346.1,158.6 L347.1,162.1 L348.1,165.7 L349.1,169.4 L350.1,173.2 L351.1,177.1 L352.1,181.0 L353.1,185.0 L354.1,188.9 L355.1,192.9 L356.1,196.8 L357.1,200.7 L358.1,204.6 L359.1,208.4 L360.1,212.1 L361.1,215.8 L362.1,219.5 L363.1,223.1 L364.1,226.6 L365.1,230.1 L366.1,233.5 L367.1,236.8 L368.1,240.0 L369.1,243.2 L370.1,246.3 L371.1,249.3 L372.1,252.2 L373.1,255.0 L374.1,257.7 L375.1,260.4 L376.1,262.9 L377.1,265.3 L378.1,267.7 L379.1,269.9 L380.1,272.1 L381.1,274.2 L382.1,276.1 L383.1,278.0 L384.1,279.8 L385.1,281.5 L386.1,283.2 L387.1,284.8 L388.1,286.3 L389.1,287.7 L390.1,289.1 L391.1,290.5 L392.1,291.8 L393.1,293.0 L394.1,294.3 L395.1,295.4 L396.1,296.6 L397.1,297.7 L398.1,298.7 L399.1,299.8 L400.1,300.8 L401.1,301.8 L402.1,302.8 L403.1,303.8 L404.1,304.8 L405.1,305.8 L406.1,306.7 L407.1,307.7 L408.1,308.6 L409.1,309.5 L410.1,310.4 L411.1,311.2 L412.1,312.1 L413.1,312.9 L414.1,313.7 L415.1,314.5 L416.1,315.2 L417.1,315.9 L418.1,316.6 L419.1,317.3 L420.1,317.9 L421.1,318.5 L422.1,319.0 L423.1,319.6 L424.1,320.1 L425.1,320.6 L426.1,321.0 L427.1,321.5 L428.1,322.0 L429.1,322.4 L430.1,322.8 L431.1,323.2 L432.1,323.6 L433.1,324.0 L434.1,324.4 L435.1,324.8 L436.1,325.1 L437.1,325.4 L438.1,325.8 L439.1,326.1 L440.1,326.4 L441.1,326.7 L442.1,327.0 L443.1,327.3 L444.1,327.6 L445.1,327.8 L446.1,328.1 L447.1,328.4 L448.1,328.6 L449.1,328.9 L450.1,329.1 L451.1,329.3 L452.1,329.6 L453.1,329.8 L454.1,330.0 L455.1,330.2 L456.1,330.4 L457.1,330.6 L458.1,330.8 L459.1,331.0 L460.1,331.2 L461.1,331.4 L462.1,331.6 L463.1,331.7 L464.1,331.9 L465.1,332.1 L466.1,332.2 L467.1,332.4 L468.1,332.5 L469.1,332.7 L470.1,332.8 L471.1,333.0 L472.1,333.1 L473.1,333.2 L474.1,333.4 L475.1,333.5 L476.1,333.6 L477.1,333.8 L478.1,333.9 L479.1,334.0 L480.1,334.1 L481.1,334.2 L482.1,334.4 L483.1,334.5 L484.1,334.6 L485.1,334.7 L486.1,334.8 L487.1,334.9 L488.1,335.0 L489.1,335.1 L490.1,335.3 L491.1,335.4 L492.1,335.5 L493.1,335.6 L494.1,335.7 L495.1,335.8 L496.1,335.9 L497.1,336.0 L498.1,336.1 L499.1,336.2 L500.1,336.4 L501.1,336.5 L502.1,336.6 L503.1,336.7 L504.1,336.8 L505.1,336.9 L506.1,337.1 L507.1,337.2 L508.1,337.3 L509.1,337.4 L510.1,337.5 L511.1,337.7 L512.0,337.8 L513.0,337.9 L514.0,338.0 L515.0,338.2 L516.0,338.3 L517.0,338.4 L518.0,338.5 L519.0,338.7 L520.0,338.8 L521.0,338.9 L522.0,339.1 L523.0,339.2 L524.0,339.3 L525.0,339.5 L526.0,339.6" stroke="#e0a010" stroke-width="1.7" fill="none"/>
<path d="M80.0,242.9 L81.0,242.9 L82.0,242.9 L83.0,242.9 L84.0,242.9 L85.0,242.9 L86.0,242.9 L87.0,242.9 L88.0,243.0 L89.0,243.0 L90.0,243.0 L91.0,243.0 L92.0,243.0 L93.0,243.0 L94.0,243.1 L95.0,243.1 L96.0,243.1 L97.0,243.1 L98.0,243.2 L99.0,243.2 L100.0,243.2 L101.0,243.3 L102.0,243.3 L103.0,243.3 L104.0,243.4 L105.0,243.4 L106.0,243.4 L107.0,243.5 L108.0,243.5 L109.0,243.5 L110.0,243.6 L111.0,243.6 L112.0,243.6 L113.0,243.7 L114.0,243.7 L115.0,243.8 L116.0,243.8 L117.0,243.8 L118.0,243.9 L119.0,243.9 L120.0,244.0 L121.0,244.0 L122.0,244.0 L123.0,244.1 L124.0,244.1 L125.0,244.2 L126.0,244.2 L127.0,244.3 L128.1,244.4 L129.1,244.4 L130.1,244.5 L131.1,244.6 L132.1,244.6 L133.1,244.7 L134.1,244.8 L135.1,244.8 L136.1,244.9 L137.1,245.0 L138.1,245.1 L139.1,245.2 L140.1,245.2 L141.1,245.3 L142.1,245.4 L143.1,245.5 L144.1,245.6 L145.1,245.7 L146.1,245.8 L147.1,245.9 L148.1,246.0 L149.1,246.1 L150.1,246.2 L151.1,246.3 L152.1,246.4 L153.1,246.5 L154.1,246.6 L155.1,246.7 L156.1,246.8 L157.1,246.9 L158.1,247.0 L159.1,247.2 L160.1,247.3 L161.1,247.4 L162.1,247.5 L163.1,247.7 L164.1,247.8 L165.1,248.0 L166.1,248.1 L167.1,248.3 L168.1,248.5 L169.1,248.6 L170.1,248.8 L171.1,249.0 L172.1,249.2 L173.1,249.4 L174.1,249.6 L175.1,249.8 L176.1,250.0 L177.1,250.2 L178.1,250.4 L179.1,250.7 L180.1,250.9 L181.1,251.1 L182.1,251.3 L183.1,251.5 L184.1,251.8 L185.1,252.0 L186.1,252.2 L187.1,252.4 L188.1,252.7 L189.1,252.9 L190.1,253.1 L191.1,253.3 L192.1,253.5 L193.1,253.7 L194.1,253.9 L195.1,254.1 L196.1,254.3 L197.1,254.5 L198.1,254.7 L199.1,254.9 L200.1,255.1 L201.1,255.3 L202.1,255.4 L203.1,255.6 L204.1,255.8 L205.1,256.0 L206.1,256.1 L207.1,256.3 L208.1,256.5 L209.1,256.6 L210.1,256.8 L211.1,257.0 L212.1,257.1 L213.1,257.3 L214.1,257.5 L215.1,257.6 L216.1,257.8 L217.1,258.0 L218.1,258.1 L219.1,258.3 L220.1,258.4 L221.1,258.6 L222.1,258.7 L223.1,258.9 L224.1,259.0 L225.1,259.2 L226.1,259.3 L227.1,259.4 L228.1,259.6 L229.1,259.7 L230.1,259.8 L231.1,260.0 L232.1,260.1 L233.1,260.2 L234.1,260.3 L235.1,260.4 L236.1,260.5 L237.1,260.6 L238.1,260.7 L239.1,260.8 L240.1,260.9 L241.1,261.0 L242.1,261.0 L243.1,261.1 L244.1,261.2 L245.1,261.2 L246.1,261.3 L247.1,261.3 L248.1,261.4 L249.1,261.4 L250.1,261.5 L251.1,261.5 L252.1,261.5 L253.1,261.5 L254.1,261.5 L255.1,261.6 L256.1,261.6 L257.1,261.6 L258.1,261.6 L259.1,261.6 L260.1,261.6 L261.1,261.6 L262.1,261.5 L263.1,261.5 L264.1,261.5 L265.1,261.5 L266.1,261.5 L267.1,261.5 L268.1,261.4 L269.1,261.4 L270.1,261.4 L271.1,261.4 L272.1,261.3 L273.1,261.3 L274.1,261.3 L275.1,261.3 L276.1,261.2 L277.1,261.2 L278.1,261.2 L279.1,261.2 L280.1,261.1 L281.1,261.1 L282.1,261.1 L283.1,261.0 L284.1,261.0 L285.1,261.0 L286.1,261.0 L287.1,261.0 L288.1,261.0 L289.1,261.0 L290.1,261.0 L291.1,261.0 L292.1,260.9 L293.1,260.9 L294.1,260.9 L295.1,260.9 L296.1,260.8 L297.1,260.8 L298.1,260.7 L299.1,260.6 L300.1,260.5 L301.1,260.4 L302.1,260.3 L303.1,260.2 L304.1,260.0 L305.1,259.9 L306.1,259.7 L307.1,259.5 L308.1,259.3 L309.1,259.1 L310.1,258.8 L311.1,258.6 L312.1,258.3 L313.1,258.0 L314.1,257.8 L315.1,257.5 L316.1,257.1 L317.1,256.8 L318.1,256.5 L319.1,256.1 L320.1,255.7 L321.1,255.3 L322.1,254.9 L323.1,254.5 L324.1,254.1 L325.1,253.7 L326.1,253.2 L327.1,252.7 L328.1,252.2 L329.1,251.7 L330.1,251.1 L331.1,250.4 L332.1,249.8 L333.1,249.1 L334.1,248.3 L335.1,247.5 L336.1,246.6 L337.1,245.7 L338.1,244.7 L339.1,243.6 L340.1,242.5 L341.1,241.2 L342.1,239.9 L343.1,238.6 L344.1,237.2 L345.1,235.6 L346.1,234.1 L347.1,232.4 L348.1,230.7 L349.1,228.8 L350.1,226.9 L351.1,224.9 L352.1,222.8 L353.1,220.6 L354.1,218.3 L355.1,215.9 L356.1,213.4 L357.1,210.8 L358.1,208.1 L359.1,205.3 L360.1,202.3 L361.1,199.3 L362.1,196.3 L363.1,193.1 L364.1,189.9 L365.1,186.7 L366.1,183.3 L367.1,180.0 L368.1,176.6 L369.1,173.2 L370.1,169.8 L371.1,166.4 L372.1,163.1 L373.1,159.8 L374.1,156.5 L375.1,153.4 L376.1,150.4 L377.1,147.5 L378.1,144.9 L379.1,142.4 L380.1,140.1 L381.1,138.1 L382.1,136.4 L383.1,135.0 L384.1,134.0 L385.1,133.3 L386.1,133.0 L387.1,133.0 L388.1,133.5 L389.1,134.3 L390.1,135.5 L391.1,137.1 L392.1,139.1 L393.1,141.4 L394.1,144.0 L395.1,146.9 L396.1,150.2 L397.1,153.6 L398.1,157.3 L399.1,161.1 L400.1,165.2 L401.1,169.3 L402.1,173.6 L403.1,178.0 L404.1,182.4 L405.1,186.9 L406.1,191.4 L407.1,195.9 L408.1,200.4 L409.1,204.8 L410.1,209.2 L411.1,213.6 L412.1,217.8 L413.1,222.0 L414.1,226.1 L415.1,230.1 L416.1,234.0 L417.1,237.7 L418.1,241.4 L419.1,244.9 L420.1,248.3 L421.1,251.6 L422.1,254.8 L423.1,257.8 L424.1,260.8 L425.1,263.6 L426.1,266.4 L427.1,269.0 L428.1,271.5 L429.1,274.0 L430.1,276.3 L431.1,278.6 L432.1,280.7 L433.1,282.8 L434.1,284.8 L435.1,286.7 L436.1,288.6 L437.1,290.3 L438.1,292.0 L439.1,293.6 L440.1,295.1 L441.1,296.6 L442.1,298.0 L443.1,299.4 L444.1,300.7 L445.1,301.9 L446.1,303.1 L447.1,304.3 L448.1,305.3 L449.1,306.4 L450.1,307.4 L451.1,308.4 L452.1,309.3 L453.1,310.2 L454.1,311.0 L455.1,311.8 L456.1,312.6 L457.1,313.4 L458.1,314.1 L459.1,314.8 L460.1,315.5 L461.1,316.1 L462.1,316.7 L463.1,317.3 L464.1,317.9 L465.1,318.5 L466.1,319.0 L467.1,319.5 L468.1,320.0 L469.1,320.5 L470.1,320.9 L471.1,321.4 L472.1,321.8 L473.1,322.2 L474.1,322.6 L475.1,323.0 L476.1,323.4 L477.1,323.8 L478.1,324.1 L479.1,324.5 L480.1,324.8 L481.1,325.2 L482.1,325.5 L483.1,325.8 L484.1,326.1 L485.1,326.4 L486.1,326.7 L487.1,327.0 L488.1,327.3 L489.1,327.5 L490.1,327.8 L491.1,328.1 L492.1,328.3 L493.1,328.6 L494.1,328.8 L495.1,329.1 L496.1,329.3 L497.1,329.6 L498.1,329.8 L499.1,330.1 L500.1,330.3 L501.1,330.5 L502.1,330.7 L503.1,331.0 L504.1,331.2 L505.1,331.4 L506.1,331.7 L507.1,331.9 L508.1,332.1 L509.1,332.3 L510.1,332.5 L511.1,332.7 L512.0,333.0 L513.0,333.2 L514.0,333.4 L515.0,333.6 L516.0,333.8 L517.0,334.0 L518.0,334.2 L519.0,334.4 L520.0,334.6 L521.0,334.8 L522.0,335.0 L523.0,335.2 L524.0,335.4 L525.0,335.6 L526.0,335.8" stroke="#16b06e" stroke-width="1.7" fill="none"/>
<path d="M79.0,224.4 L83.2,214.9 L87.5,222.3 L90.7,241.4 L94.9,242.5 L103.4,212.2 L110.8,223.4 L115.6,236.1 L119.3,225.5 L123.6,204.3 L129.9,226.6 L135.2,193.7 L141.6,170.3 L146.9,190.5 L149.6,184.1 L155.9,203.2 L159.6,172.4 L167.1,147.0 L173.4,177.7 L175.6,178.8 L181.9,164.0 L185.1,177.7 L187.8,168.2 L190.4,179.9 L195.0,167.6 L199.2,148.5 L204.5,167.1 L207.7,144.8 L213.6,162.3 L219.9,146.4 L223.1,150.6 L224.7,186.7 L230.0,192.0 L233.2,207.9 L236.4,209.0 L239.6,195.2 L242.7,190.4 L250.2,212.1 L256.5,230.7 L259.7,228.1 L262.9,233.4 L266.1,224.4 L269.3,224.9 L271.4,213.2 L274.0,213.2 L279.9,190.9 L286.2,180.3 L289.4,178.2 L296.9,150.6 L304.5,168.0 L311.5,138.0 L314.5,138.0 L317.7,142.2 L320.9,110.9 L326.2,89.2 L328.9,94.0 L334.7,75.4 L343.2,107.2 L346.9,102.4 L352.2,80.7 L358.0,95.0 L360.7,87.6 L363.9,98.2 L368.7,102.4 L372.4,107.2 L378.2,86.5 L381.4,94.0 L384.0,88.6 L385.6,102.4 L390.9,132.1 L393.1,136.4 L396.2,134.3 L401.2,164.0 L403.6,146.0 L407.3,150.3 L411.9,202.5 L415.6,209.9 L418.6,229.2 L423.8,195.8 L429.7,263.4 L432.7,262.7 L437.2,248.6 L444.6,290.2 L452.1,309.5 L458.8,308.0 L464.7,322.9 L470.7,308.0 L476.6,324.4 L484.8,303.6 L489.2,308.0 L493.7,304.3 L498.2,312.5 L502.6,315.5 L508.6,334.8 L513.8,317.7 L517.5,320.0 L523.5,343.7 L526.5,345.0" stroke="#474747" stroke-width="1.6" fill="none" stroke-linejoin="round"/>
<path d="M80.0,231.1 L81.0,230.8 L82.0,230.5 L83.0,230.1 L84.0,229.8 L85.0,229.5 L86.0,229.3 L87.0,229.0 L88.0,228.7 L89.0,228.5 L90.0,228.2 L91.0,228.0 L92.0,227.7 L93.0,227.4 L94.0,227.2 L95.0,226.9 L96.0,226.6 L97.0,226.3 L98.0,226.0 L99.0,225.6 L100.0,225.3 L101.0,224.9 L102.0,224.5 L103.0,224.1 L104.0,223.6 L105.0,223.1 L106.0,222.6 L107.0,222.1 L108.0,221.5 L109.0,220.8 L110.0,220.2 L111.0,219.5 L112.0,218.7 L113.0,217.9 L114.0,217.1 L115.0,216.2 L116.0,215.3 L117.0,214.3 L118.0,213.3 L119.0,212.3 L120.0,211.2 L121.0,210.1 L122.0,208.9 L123.0,207.7 L124.0,206.5 L125.0,205.2 L126.0,203.9 L127.0,202.5 L128.1,201.2 L129.1,199.8 L130.1,198.3 L131.1,196.8 L132.1,195.3 L133.1,193.8 L134.1,192.2 L135.1,190.6 L136.1,189.0 L137.1,187.3 L138.1,185.7 L139.1,183.9 L140.1,182.2 L141.1,180.4 L142.1,178.6 L143.1,176.8 L144.1,175.0 L145.1,173.1 L146.1,171.3 L147.1,169.4 L148.1,167.6 L149.1,165.8 L150.1,164.1 L151.1,162.4 L152.1,160.8 L153.1,159.2 L154.1,157.7 L155.1,156.4 L156.1,155.1 L157.1,154.0 L158.1,153.0 L159.1,152.1 L160.1,151.3 L161.1,150.8 L162.1,150.4 L163.1,150.2 L164.1,150.1 L165.1,150.2 L166.1,150.5 L167.1,150.8 L168.1,151.3 L169.1,151.9 L170.1,152.6 L171.1,153.4 L172.1,154.2 L173.1,155.1 L174.1,156.0 L175.1,157.0 L176.1,157.9 L177.1,158.9 L178.1,159.8 L179.1,160.7 L180.1,161.5 L181.1,162.3 L182.1,163.0 L183.1,163.6 L184.1,164.1 L185.1,164.5 L186.1,164.8 L187.1,164.8 L188.1,164.8 L189.1,164.5 L190.1,164.2 L191.1,163.7 L192.1,163.1 L193.1,162.3 L194.1,161.5 L195.1,160.6 L196.1,159.6 L197.1,158.6 L198.1,157.5 L199.1,156.4 L200.1,155.3 L201.1,154.1 L202.1,153.0 L203.1,151.9 L204.1,150.8 L205.1,149.7 L206.1,148.7 L207.1,147.8 L208.1,147.0 L209.1,146.2 L210.1,145.6 L211.1,145.0 L212.1,144.6 L213.1,144.4 L214.1,144.2 L215.1,144.3 L216.1,144.5 L217.1,145.0 L218.1,145.6 L219.1,146.3 L220.1,147.3 L221.1,148.4 L222.1,149.6 L223.1,150.9 L224.1,152.4 L225.1,154.0 L226.1,155.7 L227.1,157.4 L228.1,159.3 L229.1,161.2 L230.1,163.1 L231.1,165.1 L232.1,167.1 L233.1,169.2 L234.1,171.2 L235.1,173.2 L236.1,175.3 L237.1,177.3 L238.1,179.3 L239.1,181.2 L240.1,183.1 L241.1,184.9 L242.1,186.7 L243.1,188.5 L244.1,190.2 L245.1,191.9 L246.1,193.5 L247.1,195.1 L248.1,196.7 L249.1,198.1 L250.1,199.6 L251.1,201.0 L252.1,202.3 L253.1,203.6 L254.1,204.8 L255.1,206.0 L256.1,207.1 L257.1,208.2 L258.1,209.2 L259.1,210.1 L260.1,211.0 L261.1,211.8 L262.1,212.6 L263.1,213.3 L264.1,213.9 L265.1,214.5 L266.1,215.0 L267.1,215.5 L268.1,215.8 L269.1,216.2 L270.1,216.4 L271.1,216.6 L272.1,216.7 L273.1,216.7 L274.1,216.7 L275.1,216.6 L276.1,216.4 L277.1,216.1 L278.1,215.8 L279.1,215.3 L280.1,214.9 L281.1,214.3 L282.1,213.6 L283.1,212.9 L284.1,212.1 L285.1,211.2 L286.1,210.2 L287.1,209.1 L288.1,208.0 L289.1,206.8 L290.1,205.4 L291.1,204.0 L292.1,202.5 L293.1,200.9 L294.1,199.3 L295.1,197.5 L296.1,195.6 L297.1,193.7 L298.1,191.6 L299.1,189.5 L300.1,187.2 L301.1,184.9 L302.1,182.5 L303.1,180.0 L304.1,177.4 L305.1,174.7 L306.1,171.9 L307.1,169.1 L308.1,166.1 L309.1,163.1 L310.1,159.9 L311.1,156.7 L312.1,153.4 L313.1,150.0 L314.1,146.5 L315.1,143.0 L316.1,139.3 L317.1,135.6 L318.1,131.8 L319.1,128.1 L320.1,124.3 L321.1,120.7 L322.1,117.1 L323.1,113.7 L324.1,110.4 L325.1,107.4 L326.1,104.6 L327.1,102.0 L328.1,99.8 L329.1,97.7 L330.1,96.0 L331.1,94.5 L332.1,93.2 L333.1,92.1 L334.1,91.3 L335.1,90.7 L336.1,90.2 L337.1,90.0 L338.1,89.9 L339.1,90.0 L340.1,90.3 L341.1,90.7 L342.1,91.3 L343.1,92.0 L344.1,92.8 L345.1,93.8 L346.1,94.8 L347.1,96.0 L348.1,97.2 L349.1,98.5 L350.1,99.9 L351.1,101.3 L352.1,102.7 L353.1,104.0 L354.1,105.3 L355.1,106.5 L356.1,107.6 L357.1,108.6 L358.1,109.4 L359.1,110.1 L360.1,110.5 L361.1,110.7 L362.1,110.7 L363.1,110.5 L364.1,110.0 L365.1,109.4 L366.1,108.7 L367.1,107.8 L368.1,106.8 L369.1,105.7 L370.1,104.5 L371.1,103.3 L372.1,102.1 L373.1,100.8 L374.1,99.6 L375.1,98.4 L376.1,97.3 L377.1,96.3 L378.1,95.4 L379.1,94.6 L380.1,93.9 L381.1,93.5 L382.1,93.2 L383.1,93.1 L384.1,93.3 L385.1,93.7 L386.1,94.4 L387.1,95.4 L388.1,96.7 L389.1,98.3 L390.1,100.4 L391.1,102.8 L392.1,105.6 L393.1,108.8 L394.1,112.4 L395.1,116.4 L396.1,120.9 L397.1,125.8 L398.1,131.1 L399.1,136.7 L400.1,142.3 L401.1,147.7 L402.1,152.8 L403.1,157.7 L404.1,162.6 L405.1,167.2 L406.1,171.9 L407.1,176.5 L408.1,181.1 L409.1,185.7 L410.1,190.5 L411.1,195.2 L412.1,200.0 L413.1,204.8 L414.1,209.5 L415.1,214.1 L416.1,218.6 L417.1,223.0 L418.1,227.2 L419.1,231.1 L420.1,234.9 L421.1,238.5 L422.1,241.9 L423.1,245.1 L424.1,248.2 L425.1,251.2 L426.1,254.0 L427.1,256.7 L428.1,259.3 L429.1,261.9 L430.1,264.3 L431.1,266.6 L432.1,268.9 L433.1,271.1 L434.1,273.3 L435.1,275.3 L436.1,277.3 L437.1,279.3 L438.1,281.1 L439.1,283.0 L440.1,284.7 L441.1,286.4 L442.1,288.0 L443.1,289.6 L444.1,291.1 L445.1,292.6 L446.1,294.0 L447.1,295.4 L448.1,296.7 L449.1,298.0 L450.1,299.2 L451.1,300.4 L452.1,301.5 L453.1,302.6 L454.1,303.7 L455.1,304.7 L456.1,305.7 L457.1,306.7 L458.1,307.6 L459.1,308.5 L460.1,309.3 L461.1,310.2 L462.1,311.0 L463.1,311.8 L464.1,312.5 L465.1,313.3 L466.1,314.0 L467.1,314.6 L468.1,315.3 L469.1,315.9 L470.1,316.5 L471.1,317.1 L472.1,317.7 L473.1,318.2 L474.1,318.7 L475.1,319.3 L476.1,319.7 L477.1,320.2 L478.1,320.6 L479.1,321.1 L480.1,321.5 L481.1,321.9 L482.1,322.3 L483.1,322.6 L484.1,323.0 L485.1,323.3 L486.1,323.6 L487.1,324.0 L488.1,324.2 L489.1,324.5 L490.1,324.8 L491.1,325.1 L492.1,325.3 L493.1,325.6 L494.1,325.8 L495.1,326.0 L496.1,326.3 L497.1,326.5 L498.1,326.7 L499.1,326.9 L500.1,327.1 L501.1,327.3 L502.1,327.5 L503.1,327.7 L504.1,327.9 L505.1,328.0 L506.1,328.2 L507.1,328.4 L508.1,328.6 L509.1,328.8 L510.1,328.9 L511.1,329.1 L512.0,329.3 L513.0,329.5 L514.0,329.7 L515.0,329.9 L516.0,330.1 L517.0,330.3 L518.0,330.5 L519.0,330.7 L520.0,330.9 L521.0,331.1 L522.0,331.4 L523.0,331.6 L524.0,331.9 L525.0,332.1 L526.0,332.4" stroke="#ff3a3a" stroke-width="1.7" fill="none"/>
<text x="90.7" y="48.2" font-family='"Liberation Serif", serif' font-size="30" fill="#000">P-1 Ti</text>
<text x="166.2" y="59.6" font-family='"Liberation Serif", serif' font-size="27" fill="#000">2p</text>
<text x="518.9" y="55.3" font-family='"Liberation Sans", sans-serif' font-size="40.5" font-weight="bold" fill="#000" text-anchor="end">(c)</text>
<text x="220.9" y="85.2" font-family='"Liberation Serif", serif' font-size="24" fill="#111">O-Ti</text>
<text x="267.5" y="73.6" font-family='"Liberation Serif", serif' font-size="14" fill="#111">3+</text>
<text x="283.7" y="93.7" font-family='"Liberation Serif", serif' font-size="13.5" fill="#111">2p3/2</text>
<text x="428.2" y="152.1" font-family='"Liberation Serif", serif' font-size="24" fill="#111">O-Ti</text>
<text x="475.3" y="140.4" font-family='"Liberation Serif", serif' font-size="14" fill="#111">4+</text>
<text x="490.4" y="160.9" font-family='"Liberation Serif", serif' font-size="13.5" fill="#111">2p3/2</text>
<text x="117.5" y="319.0" font-family='"Liberation Serif", serif' font-size="24" fill="#111">O-Ti</text>
<text x="164.2" y="307.4" font-family='"Liberation Serif", serif' font-size="14" fill="#111">3+</text>
<text x="179.6" y="327.8" font-family='"Liberation Serif", serif' font-size="13.5" fill="#111">2p1/2</text>
<text x="224.5" y="318.6" font-family='"Liberation Serif", serif' font-size="24" fill="#111">O-Ti</text>
<text x="271.2" y="307.0" font-family='"Liberation Serif", serif' font-size="14" fill="#111">4+</text>
<text x="285.9" y="327.4" font-family='"Liberation Serif", serif' font-size="13.5" fill="#111">2p1/2</text>
<path d="M281.8,103.0L326.0,207.5" stroke="#222" stroke-width="1.0" fill="none"/>
<path d="M329.5,215.8L323.0,208.8L326.8,209.4L328.9,206.3Z" fill="#222"/>
<path d="M458.6,168.1L391.1,226.2" stroke="#222" stroke-width="1.0" fill="none"/>
<path d="M384.3,232.1L389.0,223.8L389.6,227.5L393.2,228.7Z" fill="#222"/>
<path d="M171.8,294.9L161.0,225.8" stroke="#222" stroke-width="1.0" stroke-dasharray="4,2.5" fill="none"/>
<path d="M159.6,216.9L164.2,225.3L160.7,223.8L157.8,226.3Z" fill="#222"/>
<path d="M245.0,291.7L226.2,235.5" stroke="#222" stroke-width="1.0" stroke-dasharray="4,2.5" fill="none"/>
<path d="M223.3,227.0L229.2,234.5L225.5,233.6L223.1,236.6Z" fill="#222"/>
<text x="179.8" y="434.6" font-family='"Liberation Serif", serif' font-size="30" fill="#000">Binding energy (eV)</text>
<text transform="translate(59.7,242.4) rotate(-90)" font-family='"Liberation Serif", serif' font-size="30" fill="#000" x="-1">Intensity</text>
<rect x="654.4" y="13.3" width="443.6" height="356.7" fill="none" stroke="#2b2b2b" stroke-width="1.5"/>
<path d="M698.8,370.0V363.2 M787.5,370.0V363.2 M876.2,370.0V363.2 M964.9,370.0V363.2 M1053.6,370.0V363.2 M743.1,370.0V366.5 M831.8,370.0V366.5 M920.6,370.0V366.5 M1009.3,370.0V366.5 M654.4,82.9H661.2 M654.4,161.8H661.2 M654.4,240.9H661.2 M654.4,320.2H661.2 M654.4,42.8H658.2 M654.4,121.9H658.2 M654.4,201.3H658.2 M654.4,280.7H658.2 M654.4,359.8H658.2" stroke="#333" stroke-width="1.2" fill="none"/>
<text x="698.8" y="396.0" text-anchor="middle" font-family='"Liberation Serif", serif' font-size="23.5" fill="#000">536</text>
<text x="787.5" y="396.0" text-anchor="middle" font-family='"Liberation Serif", serif' font-size="23.5" fill="#000">534</text>
<text x="876.2" y="396.0" text-anchor="middle" font-family='"Liberation Serif", serif' font-size="23.5" fill="#000">532</text>
<text x="964.9" y="396.0" text-anchor="middle" font-family='"Liberation Serif", serif' font-size="23.5" fill="#000">530</text>
<text x="1053.6" y="396.0" text-anchor="middle" font-family='"Liberation Serif", serif' font-size="23.5" fill="#000">528</text>
<path d="M655.1,333.7 L656.1,333.8 L657.1,333.8 L658.1,333.8 L659.1,333.8 L660.1,333.9 L661.1,333.9 L662.1,333.9 L663.1,333.9 L664.1,334.0 L665.1,334.0 L666.1,334.0 L667.1,334.0 L668.1,334.1 L669.1,334.1 L670.1,334.1 L671.1,334.1 L672.1,334.2 L673.1,334.2 L674.1,334.2 L675.1,334.2 L676.1,334.2 L677.1,334.3 L678.1,334.3 L679.1,334.3 L680.1,334.3 L681.1,334.3 L682.1,334.4 L683.1,334.4 L684.1,334.4 L685.1,334.4 L686.1,334.4 L687.1,334.5 L688.1,334.5 L689.1,334.5 L690.1,334.5 L691.1,334.5 L692.1,334.5 L693.1,334.5 L694.1,334.6 L695.1,334.6 L696.1,334.6 L697.1,334.6 L698.1,334.6 L699.1,334.6 L700.1,334.6 L701.1,334.7 L702.1,334.7 L703.1,334.7 L704.1,334.7 L705.1,334.7 L706.1,334.7 L707.1,334.7 L708.1,334.7 L709.1,334.7 L710.1,334.8 L711.1,334.8 L712.1,334.8 L713.1,334.8 L714.1,334.8 L715.1,334.8 L716.1,334.8 L717.1,334.8 L718.1,334.8 L719.1,334.8 L720.1,334.8 L721.1,334.8 L722.1,334.8 L723.1,334.8 L724.1,334.8 L725.1,334.8 L726.1,334.8 L727.1,334.8 L728.1,334.8 L729.1,334.8 L730.1,334.9 L731.1,334.9 L732.1,334.9 L733.1,334.9 L734.1,334.9 L735.1,334.9 L736.1,334.9 L737.1,334.9 L738.1,334.9 L739.1,334.9 L740.1,334.9 L741.1,334.9 L742.1,334.9 L743.1,334.9 L744.1,335.0 L745.1,335.0 L746.1,335.0 L747.1,335.0 L748.1,335.1 L749.1,335.1 L750.1,335.2 L751.1,335.2 L752.1,335.2 L753.1,335.3 L754.1,335.3 L755.1,335.4 L756.1,335.4 L757.1,335.5 L758.1,335.6 L759.1,335.6 L760.1,335.7 L761.1,335.7 L762.1,335.8 L763.1,335.8 L764.1,335.9 L765.1,336.0 L766.1,336.0 L767.1,336.1 L768.1,336.2 L769.1,336.2 L770.1,336.3 L771.1,336.3 L772.1,336.4 L773.1,336.5 L774.1,336.5 L775.1,336.6 L776.1,336.6 L777.1,336.7 L778.1,336.7 L779.1,336.8 L780.1,336.9 L781.1,336.9 L782.1,337.0 L783.1,337.1 L784.1,337.1 L785.1,337.2 L786.1,337.3 L787.1,337.3 L788.1,337.4 L789.1,337.5 L790.1,337.5 L791.1,337.6 L792.1,337.7 L793.1,337.7 L794.1,337.8 L795.1,337.9 L796.1,338.0 L797.1,338.0 L798.1,338.1 L799.1,338.2 L800.1,338.3 L801.1,338.3 L802.1,338.4 L803.1,338.5 L804.1,338.6 L805.1,338.6 L806.1,338.7 L807.1,338.8 L808.1,338.9 L809.1,339.0 L810.1,339.0 L811.1,339.1 L812.1,339.2 L813.1,339.3 L814.1,339.4 L815.1,339.5 L816.1,339.5 L817.1,339.6 L818.1,339.7 L819.1,339.8 L820.1,339.9 L821.1,340.0 L822.1,340.1 L823.1,340.1 L824.1,340.2 L825.1,340.3 L826.1,340.4 L827.1,340.5 L828.1,340.6 L829.1,340.7 L830.1,340.8 L831.1,340.8 L832.1,340.9 L833.1,341.0 L834.1,341.1 L835.1,341.2 L836.1,341.3 L837.1,341.4 L838.1,341.5 L839.1,341.6 L840.1,341.6 L841.1,341.7 L842.1,341.8 L843.1,341.9 L844.1,342.0 L845.1,342.1 L846.1,342.2 L847.1,342.3 L848.1,342.4 L849.1,342.5 L850.1,342.6 L851.1,342.6 L852.1,342.7 L853.1,342.8 L854.1,342.9 L855.1,343.0 L856.1,343.1 L857.1,343.2 L858.1,343.3 L859.1,343.4 L860.1,343.5 L861.1,343.6 L862.1,343.7 L863.1,343.8 L864.1,343.9 L865.1,344.0 L866.1,344.1 L867.1,344.2 L868.1,344.3 L869.1,344.5 L870.1,344.6 L871.1,344.7 L872.1,344.8 L873.1,344.9 L874.1,345.0 L875.1,345.1 L876.1,345.3 L877.1,345.4 L878.1,345.5 L879.1,345.6 L880.1,345.8 L881.1,345.9 L882.1,346.0 L883.1,346.1 L884.1,346.2 L885.1,346.4 L886.1,346.5 L887.1,346.6 L888.1,346.8 L889.1,346.9 L890.1,347.0 L891.1,347.1 L892.1,347.3 L893.1,347.4 L894.1,347.5 L895.1,347.7 L896.1,347.8 L897.1,347.9 L898.1,348.0 L899.1,348.2 L900.1,348.3 L901.1,348.4 L902.1,348.6 L903.1,348.7 L904.1,348.8 L905.1,348.9 L906.1,349.1 L907.1,349.2 L908.1,349.3 L909.1,349.5 L910.1,349.6 L911.1,349.7 L912.1,349.8 L913.1,350.0 L914.1,350.1 L915.1,350.2 L916.1,350.3 L917.1,350.4 L918.1,350.6 L919.1,350.7 L920.1,350.8 L921.1,350.9 L922.1,351.0 L923.1,351.2 L924.1,351.3 L925.1,351.4 L926.1,351.5 L927.1,351.6 L928.1,351.7 L929.1,351.8 L930.1,351.9 L931.1,352.0 L932.1,352.1 L933.1,352.2 L934.1,352.3 L935.1,352.4 L936.1,352.5 L937.1,352.6 L938.1,352.7 L939.1,352.8 L940.1,352.9 L941.1,353.0 L942.1,353.1 L943.1,353.2 L944.1,353.3 L945.1,353.3 L946.1,353.4 L947.1,353.5 L948.1,353.6 L949.1,353.7 L950.1,353.7 L951.1,353.8 L952.1,353.9 L953.1,353.9 L954.1,354.0 L955.1,354.0 L956.1,354.1 L957.1,354.2 L958.1,354.2 L959.1,354.3 L960.1,354.3 L961.1,354.4 L962.1,354.4 L963.1,354.4 L964.1,354.5 L965.1,354.5 L966.1,354.6 L967.1,354.6 L968.1,354.6 L969.1,354.7 L970.1,354.7 L971.1,354.8 L972.1,354.8 L973.1,354.8 L974.1,354.9 L975.1,354.9 L976.1,354.9 L977.1,355.0 L978.1,355.0 L979.1,355.0 L980.1,355.1 L981.1,355.1 L982.1,355.1 L983.1,355.1 L984.1,355.2 L985.1,355.2 L986.1,355.2 L987.1,355.3 L988.1,355.3 L989.1,355.3 L990.1,355.3 L991.1,355.4 L992.1,355.4 L993.1,355.4 L994.1,355.4 L995.1,355.5 L996.1,355.5 L997.1,355.5 L998.1,355.6 L999.1,355.6 L1000.1,355.6 L1001.1,355.6 L1002.1,355.7 L1003.1,355.7 L1004.1,355.7 L1005.1,355.7 L1006.1,355.8 L1007.1,355.8 L1008.1,355.8 L1009.1,355.8 L1010.1,355.9 L1011.1,355.9 L1012.1,355.9 L1013.1,355.9 L1014.1,356.0 L1015.1,356.0 L1016.1,356.0 L1017.1,356.0 L1018.1,356.1 L1019.1,356.1 L1020.1,356.1 L1021.1,356.1 L1022.1,356.2 L1023.1,356.2 L1024.2,356.2 L1025.2,356.2 L1026.2,356.3 L1027.2,356.3 L1028.2,356.3 L1029.2,356.3 L1030.2,356.4 L1031.2,356.4 L1032.2,356.4 L1033.2,356.4 L1034.2,356.5 L1035.2,356.5 L1036.2,356.5 L1037.2,356.5 L1038.2,356.6 L1039.2,356.6 L1040.2,356.6 L1041.2,356.6 L1042.2,356.7 L1043.2,356.7 L1044.2,356.7 L1045.2,356.7 L1046.2,356.7 L1047.2,356.8 L1048.2,356.8 L1049.2,356.8 L1050.2,356.8 L1051.2,356.9 L1052.2,356.9 L1053.2,356.9 L1054.2,356.9 L1055.2,356.9 L1056.2,357.0 L1057.2,357.0 L1058.2,357.0 L1059.2,357.0 L1060.2,357.0 L1061.2,357.1 L1062.2,357.1 L1063.2,357.1 L1064.2,357.1 L1065.2,357.1 L1066.2,357.2 L1067.2,357.2 L1068.2,357.2 L1069.2,357.2 L1070.2,357.2 L1071.2,357.3 L1072.2,357.3 L1073.2,357.3 L1074.2,357.3 L1075.2,357.3 L1076.2,357.4 L1077.2,357.4 L1078.2,357.4 L1079.2,357.4 L1080.2,357.4 L1081.2,357.4 L1082.2,357.5 L1083.2,357.5 L1084.2,357.5 L1085.2,357.5 L1086.2,357.5 L1087.2,357.5 L1088.2,357.6 L1089.2,357.6 L1090.2,357.6 L1091.2,357.6 L1092.2,357.6 L1093.2,357.6 L1094.2,357.6 L1095.2,357.7 L1096.2,357.7 L1097.2,357.7" stroke="#1a62e0" stroke-width="1.7" fill="none" transform="translate(0,0)"/>
<path d="M655.1,326.8 L656.1,326.8 L657.1,326.7 L658.1,326.6 L659.1,326.5 L660.1,326.5 L661.1,326.4 L662.1,326.3 L663.1,326.2 L664.1,326.1 L665.1,326.0 L666.1,325.9 L667.1,325.8 L668.1,325.7 L669.1,325.6 L670.1,325.5 L671.1,325.4 L672.1,325.3 L673.1,325.2 L674.1,325.1 L675.1,325.0 L676.1,324.8 L677.1,324.7 L678.1,324.6 L679.1,324.4 L680.1,324.3 L681.1,324.1 L682.1,324.0 L683.1,323.8 L684.1,323.6 L685.1,323.5 L686.1,323.3 L687.1,323.1 L688.1,322.9 L689.1,322.7 L690.1,322.5 L691.1,322.3 L692.1,322.1 L693.1,321.9 L694.1,321.7 L695.1,321.4 L696.1,321.2 L697.1,320.9 L698.1,320.6 L699.1,320.4 L700.1,320.1 L701.1,319.8 L702.1,319.5 L703.1,319.2 L704.1,318.8 L705.1,318.5 L706.1,318.1 L707.1,317.7 L708.1,317.3 L709.1,316.9 L710.1,316.5 L711.1,316.1 L712.1,315.6 L713.1,315.1 L714.1,314.6 L715.1,314.1 L716.1,313.6 L717.1,313.0 L718.1,312.4 L719.1,311.8 L720.1,311.2 L721.1,310.6 L722.1,309.9 L723.1,309.2 L724.1,308.4 L725.1,307.6 L726.1,306.8 L727.1,306.0 L728.1,305.1 L729.1,304.2 L730.1,303.3 L731.1,302.3 L732.1,301.3 L733.1,300.2 L734.1,299.2 L735.1,298.0 L736.1,296.8 L737.1,295.6 L738.1,294.4 L739.1,293.1 L740.1,291.7 L741.1,290.3 L742.1,288.9 L743.1,287.4 L744.1,285.9 L745.1,284.3 L746.1,282.7 L747.1,281.0 L748.1,279.3 L749.1,277.5 L750.1,275.7 L751.1,273.8 L752.1,271.9 L753.1,269.9 L754.1,267.9 L755.1,265.8 L756.1,263.7 L757.1,261.6 L758.1,259.4 L759.1,257.1 L760.1,254.8 L761.1,252.5 L762.1,250.1 L763.1,247.7 L764.1,245.2 L765.1,242.7 L766.1,240.2 L767.1,237.7 L768.1,235.2 L769.1,232.6 L770.1,230.1 L771.1,227.5 L772.1,225.0 L773.1,222.5 L774.1,220.0 L775.1,217.5 L776.1,215.2 L777.1,212.8 L778.1,210.6 L779.1,208.4 L780.1,206.3 L781.1,204.3 L782.1,202.5 L783.1,200.8 L784.1,199.2 L785.1,197.8 L786.1,196.5 L787.1,195.5 L788.1,194.6 L789.1,193.9 L790.1,193.3 L791.1,193.0 L792.1,192.9 L793.1,193.0 L794.1,193.3 L795.1,193.9 L796.1,194.6 L797.1,195.5 L798.1,196.6 L799.1,197.8 L800.1,199.3 L801.1,200.9 L802.1,202.7 L803.1,204.6 L804.1,206.6 L805.1,208.7 L806.1,211.0 L807.1,213.3 L808.1,215.7 L809.1,218.2 L810.1,220.8 L811.1,223.4 L812.1,226.0 L813.1,228.7 L814.1,231.3 L815.1,234.0 L816.1,236.7 L817.1,239.4 L818.1,242.1 L819.1,244.8 L820.1,247.4 L821.1,250.0 L822.1,252.6 L823.1,255.2 L824.1,257.7 L825.1,260.2 L826.1,262.6 L827.1,265.0 L828.1,267.3 L829.1,269.6 L830.1,271.9 L831.1,274.0 L832.1,276.2 L833.1,278.3 L834.1,280.3 L835.1,282.3 L836.1,284.2 L837.1,286.1 L838.1,287.9 L839.1,289.7 L840.1,291.4 L841.1,293.1 L842.1,294.7 L843.1,296.3 L844.1,297.9 L845.1,299.3 L846.1,300.8 L847.1,302.2 L848.1,303.5 L849.1,304.8 L850.1,306.1 L851.1,307.3 L852.1,308.4 L853.1,309.6 L854.1,310.7 L855.1,311.7 L856.1,312.8 L857.1,313.7 L858.1,314.7 L859.1,315.6 L860.1,316.5 L861.1,317.4 L862.1,318.2 L863.1,319.0 L864.1,319.8 L865.1,320.6 L866.1,321.3 L867.1,322.0 L868.1,322.7 L869.1,323.4 L870.1,324.1 L871.1,324.7 L872.1,325.3 L873.1,325.9 L874.1,326.5 L875.1,327.0 L876.1,327.6 L877.1,328.1 L878.1,328.6 L879.1,329.1 L880.1,329.6 L881.1,330.1 L882.1,330.6 L883.1,331.0 L884.1,331.5 L885.1,331.9 L886.1,332.3 L887.1,332.7 L888.1,333.1 L889.1,333.5 L890.1,333.9 L891.1,334.3 L892.1,334.7 L893.1,335.0 L894.1,335.4 L895.1,335.8 L896.1,336.1 L897.1,336.4 L898.1,336.8 L899.1,337.1 L900.1,337.4 L901.1,337.7 L902.1,338.0 L903.1,338.4 L904.1,338.7 L905.1,338.9 L906.1,339.2 L907.1,339.5 L908.1,339.8 L909.1,340.1 L910.1,340.4 L911.1,340.6 L912.1,340.9 L913.1,341.2 L914.1,341.4 L915.1,341.7 L916.1,341.9 L917.1,342.2 L918.1,342.4 L919.1,342.6 L920.1,342.9 L921.1,343.1 L922.1,343.3 L923.1,343.6 L924.1,343.8 L925.1,344.0 L926.1,344.2 L927.1,344.4 L928.1,344.6 L929.1,344.8 L930.1,345.1 L931.1,345.2 L932.1,345.4 L933.1,345.6 L934.1,345.8 L935.1,346.0 L936.1,346.2 L937.1,346.4 L938.1,346.5 L939.1,346.7 L940.1,346.9 L941.1,347.1 L942.1,347.2 L943.1,347.4 L944.1,347.5 L945.1,347.7 L946.1,347.8 L947.1,348.0 L948.1,348.1 L949.1,348.3 L950.1,348.4 L951.1,348.5 L952.1,348.7 L953.1,348.8 L954.1,348.9 L955.1,349.0 L956.1,349.1 L957.1,349.3 L958.1,349.4 L959.1,349.5 L960.1,349.6 L961.1,349.7 L962.1,349.8 L963.1,349.9 L964.1,350.0 L965.1,350.0 L966.1,350.1 L967.1,350.2 L968.1,350.3 L969.1,350.4 L970.1,350.5 L971.1,350.6 L972.1,350.6 L973.1,350.7 L974.1,350.8 L975.1,350.9 L976.1,351.0 L977.1,351.0 L978.1,351.1 L979.1,351.2 L980.1,351.2 L981.1,351.3 L982.1,351.4 L983.1,351.4 L984.1,351.5 L985.1,351.6 L986.1,351.6 L987.1,351.7 L988.1,351.8 L989.1,351.8 L990.1,351.9 L991.1,351.9 L992.1,352.0 L993.1,352.1 L994.1,352.1 L995.1,352.2 L996.1,352.2 L997.1,352.3 L998.1,352.4 L999.1,352.4 L1000.1,352.5 L1001.1,352.5 L1002.1,352.6 L1003.1,352.6 L1004.1,352.7 L1005.1,352.7 L1006.1,352.8 L1007.1,352.9 L1008.1,352.9 L1009.1,353.0 L1010.1,353.0 L1011.1,353.1 L1012.1,353.1 L1013.1,353.2 L1014.1,353.2 L1015.1,353.3 L1016.1,353.3 L1017.1,353.4 L1018.1,353.4 L1019.1,353.5 L1020.1,353.5 L1021.1,353.6 L1022.1,353.6 L1023.1,353.6 L1024.2,353.7 L1025.2,353.7 L1026.2,353.8 L1027.2,353.8 L1028.2,353.9 L1029.2,353.9 L1030.2,354.0 L1031.2,354.0 L1032.2,354.0 L1033.2,354.1 L1034.2,354.1 L1035.2,354.2 L1036.2,354.2 L1037.2,354.3 L1038.2,354.3 L1039.2,354.3 L1040.2,354.4 L1041.2,354.4 L1042.2,354.5 L1043.2,354.5 L1044.2,354.5 L1045.2,354.6 L1046.2,354.6 L1047.2,354.7 L1048.2,354.7 L1049.2,354.7 L1050.2,354.8 L1051.2,354.8 L1052.2,354.9 L1053.2,354.9 L1054.2,354.9 L1055.2,355.0 L1056.2,355.0 L1057.2,355.0 L1058.2,355.1 L1059.2,355.1 L1060.2,355.1 L1061.2,355.2 L1062.2,355.2 L1063.2,355.2 L1064.2,355.3 L1065.2,355.3 L1066.2,355.3 L1067.2,355.4 L1068.2,355.4 L1069.2,355.4 L1070.2,355.5 L1071.2,355.5 L1072.2,355.5 L1073.2,355.6 L1074.2,355.6 L1075.2,355.6 L1076.2,355.7 L1077.2,355.7 L1078.2,355.7 L1079.2,355.7 L1080.2,355.8 L1081.2,355.8 L1082.2,355.8 L1083.2,355.9 L1084.2,355.9 L1085.2,355.9 L1086.2,355.9 L1087.2,356.0 L1088.2,356.0 L1089.2,356.0 L1090.2,356.0 L1091.2,356.1 L1092.2,356.1 L1093.2,356.1 L1094.2,356.1 L1095.2,356.2 L1096.2,356.2 L1097.2,356.2" stroke="#22cdd0" stroke-width="1.7" fill="none"/>
<path d="M655.1,327.9 L656.1,327.9 L657.1,327.9 L658.1,327.8 L659.1,327.8 L660.1,327.8 L661.1,327.7 L662.1,327.7 L663.1,327.7 L664.1,327.6 L665.1,327.6 L666.1,327.5 L667.1,327.5 L668.1,327.5 L669.1,327.4 L670.1,327.4 L671.1,327.3 L672.1,327.3 L673.1,327.2 L674.1,327.2 L675.1,327.1 L676.1,327.0 L677.1,327.0 L678.1,326.9 L679.1,326.9 L680.1,326.8 L681.1,326.7 L682.1,326.7 L683.1,326.6 L684.1,326.5 L685.1,326.5 L686.1,326.4 L687.1,326.3 L688.1,326.2 L689.1,326.2 L690.1,326.1 L691.1,326.0 L692.1,325.9 L693.1,325.8 L694.1,325.7 L695.1,325.6 L696.1,325.5 L697.1,325.5 L698.1,325.4 L699.1,325.3 L700.1,325.1 L701.1,325.0 L702.1,324.9 L703.1,324.8 L704.1,324.7 L705.1,324.6 L706.1,324.5 L707.1,324.3 L708.1,324.2 L709.1,324.1 L710.1,324.0 L711.1,323.8 L712.1,323.7 L713.1,323.5 L714.1,323.4 L715.1,323.3 L716.1,323.1 L717.1,322.9 L718.1,322.8 L719.1,322.6 L720.1,322.5 L721.1,322.3 L722.1,322.1 L723.1,321.9 L724.1,321.7 L725.1,321.6 L726.1,321.4 L727.1,321.2 L728.1,321.0 L729.1,320.8 L730.1,320.5 L731.1,320.3 L732.1,320.1 L733.1,319.9 L734.1,319.7 L735.1,319.4 L736.1,319.2 L737.1,318.9 L738.1,318.7 L739.1,318.4 L740.1,318.2 L741.1,317.9 L742.1,317.6 L743.1,317.4 L744.1,317.1 L745.1,316.8 L746.1,316.5 L747.1,316.3 L748.1,316.0 L749.1,315.7 L750.1,315.4 L751.1,315.1 L752.1,314.7 L753.1,314.4 L754.1,314.1 L755.1,313.7 L756.1,313.4 L757.1,313.0 L758.1,312.7 L759.1,312.3 L760.1,311.9 L761.1,311.5 L762.1,311.1 L763.1,310.6 L764.1,310.2 L765.1,309.7 L766.1,309.2 L767.1,308.7 L768.1,308.2 L769.1,307.7 L770.1,307.1 L771.1,306.6 L772.1,306.0 L773.1,305.4 L774.1,304.7 L775.1,304.1 L776.1,303.4 L777.1,302.7 L778.1,302.0 L779.1,301.2 L780.1,300.4 L781.1,299.6 L782.1,298.8 L783.1,297.9 L784.1,297.0 L785.1,296.1 L786.1,295.1 L787.1,294.1 L788.1,293.0 L789.1,292.0 L790.1,290.8 L791.1,289.7 L792.1,288.5 L793.1,287.2 L794.1,285.9 L795.1,284.5 L796.1,283.1 L797.1,281.7 L798.1,280.2 L799.1,278.6 L800.1,277.0 L801.1,275.3 L802.1,273.6 L803.1,271.8 L804.1,269.9 L805.1,268.0 L806.1,266.0 L807.1,263.9 L808.1,261.7 L809.1,259.5 L810.1,257.2 L811.1,254.9 L812.1,252.4 L813.1,249.9 L814.1,247.3 L815.1,244.6 L816.1,241.8 L817.1,238.9 L818.1,236.0 L819.1,232.9 L820.1,229.8 L821.1,226.6 L822.1,223.4 L823.1,220.0 L824.1,216.6 L825.1,213.1 L826.1,209.5 L827.1,205.9 L828.1,202.2 L829.1,198.5 L830.1,194.7 L831.1,191.0 L832.1,187.1 L833.1,183.3 L834.1,179.5 L835.1,175.7 L836.1,172.0 L837.1,168.3 L838.1,164.6 L839.1,161.1 L840.1,157.7 L841.1,154.4 L842.1,151.3 L843.1,148.3 L844.1,145.6 L845.1,143.0 L846.1,140.7 L847.1,138.7 L848.1,137.0 L849.1,135.5 L850.1,134.4 L851.1,133.5 L852.1,133.0 L853.1,132.9 L854.1,133.1 L855.1,133.6 L856.1,134.4 L857.1,135.6 L858.1,137.1 L859.1,138.9 L860.1,141.0 L861.1,143.3 L862.1,145.9 L863.1,148.8 L864.1,151.8 L865.1,155.0 L866.1,158.5 L867.1,162.0 L868.1,165.7 L869.1,169.5 L870.1,173.3 L871.1,177.3 L872.1,181.3 L873.1,185.3 L874.1,189.3 L875.1,193.3 L876.1,197.3 L877.1,201.3 L878.1,205.3 L879.1,209.2 L880.1,213.0 L881.1,216.8 L882.1,220.6 L883.1,224.3 L884.1,227.9 L885.1,231.4 L886.1,234.8 L887.1,238.2 L888.1,241.5 L889.1,244.7 L890.1,247.8 L891.1,250.8 L892.1,253.8 L893.1,256.6 L894.1,259.4 L895.1,262.1 L896.1,264.7 L897.1,267.3 L898.1,269.8 L899.1,272.2 L900.1,274.5 L901.1,276.7 L902.1,278.9 L903.1,281.0 L904.1,283.1 L905.1,285.0 L906.1,286.9 L907.1,288.8 L908.1,290.6 L909.1,292.3 L910.1,294.0 L911.1,295.6 L912.1,297.2 L913.1,298.7 L914.1,300.2 L915.1,301.6 L916.1,303.0 L917.1,304.3 L918.1,305.6 L919.1,306.9 L920.1,308.1 L921.1,309.3 L922.1,310.4 L923.1,311.5 L924.1,312.6 L925.1,313.6 L926.1,314.6 L927.1,315.6 L928.1,316.5 L929.1,317.4 L930.1,318.3 L931.1,319.2 L932.1,320.0 L933.1,320.8 L934.1,321.6 L935.1,322.4 L936.1,323.1 L937.1,323.8 L938.1,324.5 L939.1,325.2 L940.1,325.8 L941.1,326.5 L942.1,327.1 L943.1,327.7 L944.1,328.3 L945.1,328.9 L946.1,329.4 L947.1,329.9 L948.1,330.5 L949.1,331.0 L950.1,331.5 L951.1,331.9 L952.1,332.4 L953.1,332.9 L954.1,333.3 L955.1,333.7 L956.1,334.1 L957.1,334.5 L958.1,334.9 L959.1,335.3 L960.1,335.7 L961.1,336.0 L962.1,336.4 L963.1,336.7 L964.1,337.1 L965.1,337.4 L966.1,337.7 L967.1,338.0 L968.1,338.3 L969.1,338.6 L970.1,338.9 L971.1,339.2 L972.1,339.5 L973.1,339.7 L974.1,340.0 L975.1,340.3 L976.1,340.5 L977.1,340.8 L978.1,341.0 L979.1,341.2 L980.1,341.5 L981.1,341.7 L982.1,341.9 L983.1,342.1 L984.1,342.4 L985.1,342.6 L986.1,342.8 L987.1,343.0 L988.1,343.2 L989.1,343.4 L990.1,343.6 L991.1,343.7 L992.1,343.9 L993.1,344.1 L994.1,344.3 L995.1,344.5 L996.1,344.6 L997.1,344.8 L998.1,345.0 L999.1,345.1 L1000.1,345.3 L1001.1,345.5 L1002.1,345.6 L1003.1,345.8 L1004.1,345.9 L1005.1,346.1 L1006.1,346.2 L1007.1,346.3 L1008.1,346.5 L1009.1,346.6 L1010.1,346.8 L1011.1,346.9 L1012.1,347.0 L1013.1,347.2 L1014.1,347.3 L1015.1,347.4 L1016.1,347.6 L1017.1,347.7 L1018.1,347.8 L1019.1,347.9 L1020.1,348.0 L1021.1,348.2 L1022.1,348.3 L1023.1,348.4 L1024.2,348.5 L1025.2,348.6 L1026.2,348.7 L1027.2,348.8 L1028.2,348.9 L1029.2,349.0 L1030.2,349.1 L1031.2,349.2 L1032.2,349.3 L1033.2,349.4 L1034.2,349.5 L1035.2,349.6 L1036.2,349.7 L1037.2,349.8 L1038.2,349.9 L1039.2,350.0 L1040.2,350.1 L1041.2,350.2 L1042.2,350.3 L1043.2,350.4 L1044.2,350.5 L1045.2,350.5 L1046.2,350.6 L1047.2,350.7 L1048.2,350.8 L1049.2,350.9 L1050.2,351.0 L1051.2,351.0 L1052.2,351.1 L1053.2,351.2 L1054.2,351.3 L1055.2,351.3 L1056.2,351.4 L1057.2,351.5 L1058.2,351.6 L1059.2,351.6 L1060.2,351.7 L1061.2,351.8 L1062.2,351.9 L1063.2,351.9 L1064.2,352.0 L1065.2,352.1 L1066.2,352.1 L1067.2,352.2 L1068.2,352.3 L1069.2,352.3 L1070.2,352.4 L1071.2,352.4 L1072.2,352.5 L1073.2,352.6 L1074.2,352.6 L1075.2,352.7 L1076.2,352.7 L1077.2,352.8 L1078.2,352.9 L1079.2,352.9 L1080.2,353.0 L1081.2,353.0 L1082.2,353.1 L1083.2,353.1 L1084.2,353.2 L1085.2,353.2 L1086.2,353.3 L1087.2,353.3 L1088.2,353.4 L1089.2,353.4 L1090.2,353.5 L1091.2,353.5 L1092.2,353.6 L1093.2,353.6 L1094.2,353.7 L1095.2,353.7 L1096.2,353.8 L1097.2,353.8" stroke="#e0a010" stroke-width="1.7" fill="none"/>
<path d="M655.1,330.8 L656.1,330.8 L657.1,330.8 L658.1,330.8 L659.1,330.8 L660.1,330.9 L661.1,330.9 L662.1,330.9 L663.1,330.9 L664.1,330.9 L665.1,330.8 L666.1,330.8 L667.1,330.8 L668.1,330.8 L669.1,330.8 L670.1,330.8 L671.1,330.8 L672.1,330.8 L673.1,330.8 L674.1,330.8 L675.1,330.8 L676.1,330.8 L677.1,330.8 L678.1,330.8 L679.1,330.8 L680.1,330.7 L681.1,330.7 L682.1,330.7 L683.1,330.7 L684.1,330.7 L685.1,330.7 L686.1,330.7 L687.1,330.6 L688.1,330.6 L689.1,330.6 L690.1,330.6 L691.1,330.6 L692.1,330.6 L693.1,330.5 L694.1,330.5 L695.1,330.5 L696.1,330.5 L697.1,330.4 L698.1,330.4 L699.1,330.4 L700.1,330.4 L701.1,330.3 L702.1,330.3 L703.1,330.3 L704.1,330.2 L705.1,330.2 L706.1,330.2 L707.1,330.1 L708.1,330.1 L709.1,330.0 L710.1,330.0 L711.1,330.0 L712.1,329.9 L713.1,329.9 L714.1,329.8 L715.1,329.8 L716.1,329.8 L717.1,329.7 L718.1,329.7 L719.1,329.6 L720.1,329.6 L721.1,329.5 L722.1,329.4 L723.1,329.4 L724.1,329.3 L725.1,329.3 L726.1,329.2 L727.1,329.2 L728.1,329.1 L729.1,329.0 L730.1,329.0 L731.1,328.9 L732.1,328.9 L733.1,328.8 L734.1,328.7 L735.1,328.7 L736.1,328.6 L737.1,328.5 L738.1,328.4 L739.1,328.4 L740.1,328.3 L741.1,328.2 L742.1,328.2 L743.1,328.1 L744.1,328.0 L745.1,328.0 L746.1,327.9 L747.1,327.9 L748.1,327.8 L749.1,327.8 L750.1,327.7 L751.1,327.7 L752.1,327.6 L753.1,327.5 L754.1,327.5 L755.1,327.4 L756.1,327.4 L757.1,327.3 L758.1,327.3 L759.1,327.2 L760.1,327.2 L761.1,327.1 L762.1,327.1 L763.1,327.0 L764.1,326.9 L765.1,326.9 L766.1,326.8 L767.1,326.7 L768.1,326.7 L769.1,326.6 L770.1,326.5 L771.1,326.4 L772.1,326.4 L773.1,326.3 L774.1,326.2 L775.1,326.1 L776.1,326.0 L777.1,325.9 L778.1,325.8 L779.1,325.7 L780.1,325.6 L781.1,325.5 L782.1,325.3 L783.1,325.2 L784.1,325.1 L785.1,325.0 L786.1,324.8 L787.1,324.7 L788.1,324.6 L789.1,324.4 L790.1,324.3 L791.1,324.1 L792.1,324.0 L793.1,323.8 L794.1,323.6 L795.1,323.5 L796.1,323.3 L797.1,323.1 L798.1,322.9 L799.1,322.7 L800.1,322.5 L801.1,322.3 L802.1,322.1 L803.1,321.8 L804.1,321.6 L805.1,321.4 L806.1,321.1 L807.1,320.8 L808.1,320.6 L809.1,320.3 L810.1,320.0 L811.1,319.7 L812.1,319.4 L813.1,319.1 L814.1,318.7 L815.1,318.4 L816.1,318.0 L817.1,317.6 L818.1,317.2 L819.1,316.8 L820.1,316.4 L821.1,315.9 L822.1,315.5 L823.1,315.0 L824.1,314.5 L825.1,314.0 L826.1,313.4 L827.1,312.9 L828.1,312.3 L829.1,311.7 L830.1,311.1 L831.1,310.4 L832.1,309.7 L833.1,309.0 L834.1,308.3 L835.1,307.6 L836.1,306.8 L837.1,305.9 L838.1,305.1 L839.1,304.2 L840.1,303.3 L841.1,302.3 L842.1,301.3 L843.1,300.3 L844.1,299.2 L845.1,298.1 L846.1,296.9 L847.1,295.8 L848.1,294.5 L849.1,293.2 L850.1,291.9 L851.1,290.5 L852.1,289.1 L853.1,287.6 L854.1,286.1 L855.1,284.5 L856.1,282.8 L857.1,281.1 L858.1,279.4 L859.1,277.6 L860.1,275.7 L861.1,273.8 L862.1,271.9 L863.1,269.8 L864.1,267.8 L865.1,265.6 L866.1,263.4 L867.1,261.2 L868.1,258.9 L869.1,256.5 L870.1,254.1 L871.1,251.7 L872.1,249.2 L873.1,246.6 L874.1,244.0 L875.1,241.4 L876.1,238.8 L877.1,236.1 L878.1,233.4 L879.1,230.8 L880.1,228.1 L881.1,225.4 L882.1,222.8 L883.1,220.2 L884.1,217.6 L885.1,215.1 L886.1,212.6 L887.1,210.3 L888.1,208.0 L889.1,205.9 L890.1,203.9 L891.1,202.0 L892.1,200.3 L893.1,198.8 L894.1,197.4 L895.1,196.3 L896.1,195.3 L897.1,194.6 L898.1,194.1 L899.1,193.8 L900.1,193.8 L901.1,194.0 L902.1,194.4 L903.1,195.0 L904.1,195.9 L905.1,197.0 L906.1,198.3 L907.1,199.8 L908.1,201.5 L909.1,203.4 L910.1,205.5 L911.1,207.6 L912.1,210.0 L913.1,212.4 L914.1,215.0 L915.1,217.6 L916.1,220.3 L917.1,223.1 L918.1,226.0 L919.1,228.8 L920.1,231.7 L921.1,234.7 L922.1,237.6 L923.1,240.5 L924.1,243.4 L925.1,246.3 L926.1,249.1 L927.1,252.0 L928.1,254.7 L929.1,257.5 L930.1,260.2 L931.1,262.8 L932.1,265.4 L933.1,268.0 L934.1,270.5 L935.1,272.9 L936.1,275.3 L937.1,277.6 L938.1,279.8 L939.1,282.0 L940.1,284.2 L941.1,286.2 L942.1,288.3 L943.1,290.2 L944.1,292.1 L945.1,293.9 L946.1,295.7 L947.1,297.5 L948.1,299.1 L949.1,300.8 L950.1,302.3 L951.1,303.8 L952.1,305.3 L953.1,306.7 L954.1,308.1 L955.1,309.4 L956.1,310.7 L957.1,312.0 L958.1,313.1 L959.1,314.3 L960.1,315.4 L961.1,316.5 L962.1,317.5 L963.1,318.5 L964.1,319.5 L965.1,320.4 L966.1,321.3 L967.1,322.2 L968.1,323.1 L969.1,323.9 L970.1,324.7 L971.1,325.4 L972.1,326.2 L973.1,326.9 L974.1,327.6 L975.1,328.3 L976.1,328.9 L977.1,329.5 L978.1,330.1 L979.1,330.7 L980.1,331.3 L981.1,331.8 L982.1,332.4 L983.1,332.9 L984.1,333.4 L985.1,333.9 L986.1,334.3 L987.1,334.8 L988.1,335.2 L989.1,335.7 L990.1,336.1 L991.1,336.5 L992.1,336.9 L993.1,337.3 L994.1,337.7 L995.1,338.0 L996.1,338.4 L997.1,338.7 L998.1,339.1 L999.1,339.4 L1000.1,339.7 L1001.1,340.0 L1002.1,340.3 L1003.1,340.6 L1004.1,340.9 L1005.1,341.2 L1006.1,341.5 L1007.1,341.7 L1008.1,342.0 L1009.1,342.3 L1010.1,342.5 L1011.1,342.7 L1012.1,343.0 L1013.1,343.2 L1014.1,343.5 L1015.1,343.7 L1016.1,343.9 L1017.1,344.1 L1018.1,344.3 L1019.1,344.5 L1020.1,344.7 L1021.1,344.9 L1022.1,345.1 L1023.1,345.3 L1024.2,345.5 L1025.2,345.7 L1026.2,345.9 L1027.2,346.0 L1028.2,346.2 L1029.2,346.4 L1030.2,346.6 L1031.2,346.7 L1032.2,346.9 L1033.2,347.0 L1034.2,347.2 L1035.2,347.3 L1036.2,347.5 L1037.2,347.6 L1038.2,347.8 L1039.2,347.9 L1040.2,348.1 L1041.2,348.2 L1042.2,348.3 L1043.2,348.5 L1044.2,348.6 L1045.2,348.7 L1046.2,348.9 L1047.2,349.0 L1048.2,349.1 L1049.2,349.2 L1050.2,349.3 L1051.2,349.5 L1052.2,349.6 L1053.2,349.7 L1054.2,349.8 L1055.2,349.9 L1056.2,350.0 L1057.2,350.1 L1058.2,350.2 L1059.2,350.3 L1060.2,350.4 L1061.2,350.5 L1062.2,350.6 L1063.2,350.7 L1064.2,350.8 L1065.2,350.9 L1066.2,351.0 L1067.2,351.1 L1068.2,351.2 L1069.2,351.3 L1070.2,351.3 L1071.2,351.4 L1072.2,351.5 L1073.2,351.6 L1074.2,351.7 L1075.2,351.8 L1076.2,351.8 L1077.2,351.9 L1078.2,352.0 L1079.2,352.1 L1080.2,352.1 L1081.2,352.2 L1082.2,352.3 L1083.2,352.3 L1084.2,352.4 L1085.2,352.5 L1086.2,352.6 L1087.2,352.6 L1088.2,352.7 L1089.2,352.8 L1090.2,352.8 L1091.2,352.9 L1092.2,352.9 L1093.2,353.0 L1094.2,353.1 L1095.2,353.1 L1096.2,353.2 L1097.2,353.2" stroke="#c36fe6" stroke-width="1.7" fill="none"/>
<path d="M655.1,332.6 L656.1,332.6 L657.1,332.6 L658.1,332.7 L659.1,332.7 L660.1,332.7 L661.1,332.7 L662.1,332.7 L663.1,332.8 L664.1,332.8 L665.1,332.8 L666.1,332.8 L667.1,332.8 L668.1,332.8 L669.1,332.9 L670.1,332.9 L671.1,332.9 L672.1,332.9 L673.1,332.9 L674.1,332.9 L675.1,332.9 L676.1,332.9 L677.1,333.0 L678.1,333.0 L679.1,333.0 L680.1,333.0 L681.1,333.0 L682.1,333.0 L683.1,333.0 L684.1,333.0 L685.1,333.0 L686.1,333.0 L687.1,333.1 L688.1,333.1 L689.1,333.1 L690.1,333.1 L691.1,333.1 L692.1,333.1 L693.1,333.1 L694.1,333.1 L695.1,333.1 L696.1,333.1 L697.1,333.1 L698.1,333.1 L699.1,333.1 L700.1,333.1 L701.1,333.1 L702.1,333.1 L703.1,333.1 L704.1,333.1 L705.1,333.1 L706.1,333.1 L707.1,333.1 L708.1,333.1 L709.1,333.1 L710.1,333.1 L711.1,333.1 L712.1,333.1 L713.1,333.1 L714.1,333.1 L715.1,333.1 L716.1,333.1 L717.1,333.0 L718.1,333.0 L719.1,333.0 L720.1,333.0 L721.1,333.0 L722.1,333.0 L723.1,333.0 L724.1,333.0 L725.1,333.0 L726.1,332.9 L727.1,332.9 L728.1,332.9 L729.1,332.9 L730.1,332.9 L731.1,332.9 L732.1,332.9 L733.1,332.9 L734.1,332.8 L735.1,332.8 L736.1,332.8 L737.1,332.8 L738.1,332.8 L739.1,332.8 L740.1,332.8 L741.1,332.8 L742.1,332.8 L743.1,332.8 L744.1,332.8 L745.1,332.8 L746.1,332.8 L747.1,332.8 L748.1,332.8 L749.1,332.8 L750.1,332.8 L751.1,332.8 L752.1,332.9 L753.1,332.9 L754.1,332.9 L755.1,332.9 L756.1,333.0 L757.1,333.0 L758.1,333.0 L759.1,333.1 L760.1,333.1 L761.1,333.1 L762.1,333.2 L763.1,333.2 L764.1,333.2 L765.1,333.3 L766.1,333.3 L767.1,333.3 L768.1,333.4 L769.1,333.4 L770.1,333.4 L771.1,333.5 L772.1,333.5 L773.1,333.5 L774.1,333.6 L775.1,333.6 L776.1,333.6 L777.1,333.6 L778.1,333.7 L779.1,333.7 L780.1,333.7 L781.1,333.7 L782.1,333.8 L783.1,333.8 L784.1,333.8 L785.1,333.9 L786.1,333.9 L787.1,333.9 L788.1,334.0 L789.1,334.0 L790.1,334.0 L791.1,334.0 L792.1,334.1 L793.1,334.1 L794.1,334.1 L795.1,334.2 L796.1,334.2 L797.1,334.2 L798.1,334.3 L799.1,334.3 L800.1,334.3 L801.1,334.3 L802.1,334.4 L803.1,334.4 L804.1,334.4 L805.1,334.5 L806.1,334.5 L807.1,334.5 L808.1,334.5 L809.1,334.6 L810.1,334.6 L811.1,334.6 L812.1,334.6 L813.1,334.7 L814.1,334.7 L815.1,334.7 L816.1,334.7 L817.1,334.7 L818.1,334.8 L819.1,334.8 L820.1,334.8 L821.1,334.8 L822.1,334.8 L823.1,334.8 L824.1,334.9 L825.1,334.9 L826.1,334.9 L827.1,334.9 L828.1,334.9 L829.1,334.9 L830.1,334.9 L831.1,334.9 L832.1,334.9 L833.1,334.9 L834.1,334.9 L835.1,334.9 L836.1,334.9 L837.1,334.9 L838.1,334.9 L839.1,334.9 L840.1,334.9 L841.1,334.8 L842.1,334.8 L843.1,334.8 L844.1,334.8 L845.1,334.7 L846.1,334.7 L847.1,334.7 L848.1,334.6 L849.1,334.6 L850.1,334.6 L851.1,334.5 L852.1,334.5 L853.1,334.4 L854.1,334.3 L855.1,334.3 L856.1,334.2 L857.1,334.1 L858.1,334.1 L859.1,334.0 L860.1,333.9 L861.1,333.8 L862.1,333.7 L863.1,333.6 L864.1,333.5 L865.1,333.4 L866.1,333.3 L867.1,333.2 L868.1,333.1 L869.1,332.9 L870.1,332.8 L871.1,332.6 L872.1,332.5 L873.1,332.3 L874.1,332.1 L875.1,331.9 L876.1,331.7 L877.1,331.5 L878.1,331.3 L879.1,331.1 L880.1,330.8 L881.1,330.6 L882.1,330.3 L883.1,330.0 L884.1,329.7 L885.1,329.4 L886.1,329.1 L887.1,328.7 L888.1,328.4 L889.1,328.0 L890.1,327.6 L891.1,327.1 L892.1,326.7 L893.1,326.2 L894.1,325.7 L895.1,325.2 L896.1,324.6 L897.1,324.1 L898.1,323.5 L899.1,322.9 L900.1,322.2 L901.1,321.5 L902.1,320.8 L903.1,320.1 L904.1,319.3 L905.1,318.5 L906.1,317.7 L907.1,316.8 L908.1,315.9 L909.1,315.0 L910.1,314.0 L911.1,313.0 L912.1,312.0 L913.1,310.9 L914.1,309.8 L915.1,308.7 L916.1,307.5 L917.1,306.3 L918.1,305.0 L919.1,303.7 L920.1,302.4 L921.1,301.1 L922.1,299.7 L923.1,298.2 L924.1,296.8 L925.1,295.3 L926.1,293.7 L927.1,292.2 L928.1,290.6 L929.1,289.0 L930.1,287.3 L931.1,285.7 L932.1,284.0 L933.1,282.3 L934.1,280.6 L935.1,278.8 L936.1,277.1 L937.1,275.4 L938.1,273.7 L939.1,272.0 L940.1,270.3 L941.1,268.6 L942.1,267.0 L943.1,265.4 L944.1,263.8 L945.1,262.3 L946.1,260.9 L947.1,259.5 L948.1,258.2 L949.1,257.0 L950.1,255.8 L951.1,254.8 L952.1,253.9 L953.1,253.1 L954.1,252.4 L955.1,251.8 L956.1,251.4 L957.1,251.1 L958.1,250.9 L959.1,250.9 L960.1,251.0 L961.1,251.3 L962.1,251.6 L963.1,252.2 L964.1,252.8 L965.1,253.6 L966.1,254.5 L967.1,255.5 L968.1,256.6 L969.1,257.9 L970.1,259.2 L971.1,260.6 L972.1,262.1 L973.1,263.6 L974.1,265.2 L975.1,266.9 L976.1,268.6 L977.1,270.4 L978.1,272.2 L979.1,274.0 L980.1,275.8 L981.1,277.7 L982.1,279.5 L983.1,281.4 L984.1,283.2 L985.1,285.1 L986.1,286.9 L987.1,288.7 L988.1,290.5 L989.1,292.3 L990.1,294.0 L991.1,295.8 L992.1,297.5 L993.1,299.1 L994.1,300.8 L995.1,302.4 L996.1,304.0 L997.1,305.5 L998.1,307.0 L999.1,308.5 L1000.1,309.9 L1001.1,311.3 L1002.1,312.7 L1003.1,314.0 L1004.1,315.3 L1005.1,316.6 L1006.1,317.8 L1007.1,319.0 L1008.1,320.2 L1009.1,321.3 L1010.1,322.4 L1011.1,323.4 L1012.1,324.4 L1013.1,325.4 L1014.1,326.4 L1015.1,327.3 L1016.1,328.2 L1017.1,329.1 L1018.1,329.9 L1019.1,330.7 L1020.1,331.5 L1021.1,332.2 L1022.1,333.0 L1023.1,333.7 L1024.2,334.3 L1025.2,335.0 L1026.2,335.6 L1027.2,336.2 L1028.2,336.8 L1029.2,337.4 L1030.2,337.9 L1031.2,338.4 L1032.2,339.0 L1033.2,339.4 L1034.2,339.9 L1035.2,340.4 L1036.2,340.8 L1037.2,341.2 L1038.2,341.6 L1039.2,342.0 L1040.2,342.4 L1041.2,342.8 L1042.2,343.1 L1043.2,343.4 L1044.2,343.8 L1045.2,344.1 L1046.2,344.4 L1047.2,344.7 L1048.2,345.0 L1049.2,345.3 L1050.2,345.5 L1051.2,345.8 L1052.2,346.0 L1053.2,346.3 L1054.2,346.5 L1055.2,346.7 L1056.2,347.0 L1057.2,347.2 L1058.2,347.4 L1059.2,347.6 L1060.2,347.8 L1061.2,348.0 L1062.2,348.2 L1063.2,348.3 L1064.2,348.5 L1065.2,348.7 L1066.2,348.9 L1067.2,349.0 L1068.2,349.2 L1069.2,349.3 L1070.2,349.5 L1071.2,349.6 L1072.2,349.8 L1073.2,349.9 L1074.2,350.1 L1075.2,350.2 L1076.2,350.3 L1077.2,350.5 L1078.2,350.6 L1079.2,350.7 L1080.2,350.8 L1081.2,350.9 L1082.2,351.1 L1083.2,351.2 L1084.2,351.3 L1085.2,351.4 L1086.2,351.5 L1087.2,351.6 L1088.2,351.7 L1089.2,351.8 L1090.2,351.9 L1091.2,352.0 L1092.2,352.1 L1093.2,352.2 L1094.2,352.3 L1095.2,352.4 L1096.2,352.4 L1097.2,352.5" stroke="#16b06e" stroke-width="1.7" fill="none"/>
<path d="M655.0,336.0 L658.5,341.1 L663.1,341.1 L671.0,329.2 L676.7,325.8 L688.0,316.7 L698.2,309.3 L701.6,311.0 L707.3,311.0 L714.1,299.7 L720.9,288.4 L726.5,282.7 L733.3,269.1 L737.9,261.2 L743.5,257.8 L748.1,247.6 L751.5,230.6 L756.0,217.0 L761.6,205.7 L766.2,200.0 L778.4,177.2 L788.3,147.5 L795.4,124.8 L805.3,119.2 L809.6,107.8 L816.7,86.6 L822.3,76.0 L830.8,79.5 L836.5,66.7 L842.2,54.0 L845.0,51.9 L853.5,54.7 L862.0,33.5 L866.3,34.2 L873.3,44.1 L878.5,51.2 L887.0,68.2 L895.5,75.3 L902.6,81.0 L909.7,107.9 L912.5,117.8 L922.4,137.6 L929.5,151.8 L938.0,161.7 L946.5,183.7 L955.0,182.3 L961.0,197.0 L967.0,212.0 L973.5,223.1 L993.6,271.5 L1000.4,274.2 L1007.1,279.6 L1011.1,287.7 L1016.5,306.5 L1024.6,317.3 L1030.0,328.0 L1035.4,330.7 L1040.8,334.8 L1048.8,346.9 L1054.2,344.9 L1060.9,344.2 L1067.7,347.6 L1075.7,350.9 L1083.8,353.6 L1097.0,355.0" stroke="#474747" stroke-width="1.6" fill="none" stroke-linejoin="round"/>
<path d="M655.1,317.5 L656.1,317.1 L657.1,316.8 L658.1,316.4 L659.1,316.0 L660.1,315.7 L661.1,315.4 L662.1,315.0 L663.1,314.7 L664.1,314.4 L665.1,314.2 L666.1,313.9 L667.1,313.6 L668.1,313.4 L669.1,313.1 L670.1,312.9 L671.1,312.7 L672.1,312.5 L673.1,312.2 L674.1,312.0 L675.1,311.8 L676.1,311.6 L677.1,311.4 L678.1,311.2 L679.1,311.0 L680.1,310.8 L681.1,310.6 L682.1,310.4 L683.1,310.2 L684.1,309.9 L685.1,309.7 L686.1,309.5 L687.1,309.3 L688.1,309.0 L689.1,308.8 L690.1,308.6 L691.1,308.3 L692.1,308.0 L693.1,307.8 L694.1,307.5 L695.1,307.2 L696.1,306.9 L697.1,306.5 L698.1,306.2 L699.1,305.8 L700.1,305.5 L701.1,305.1 L702.1,304.7 L703.1,304.3 L704.1,303.8 L705.1,303.4 L706.1,302.9 L707.1,302.4 L708.1,301.9 L709.1,301.3 L710.1,300.8 L711.1,300.2 L712.1,299.6 L713.1,298.9 L714.1,298.3 L715.1,297.6 L716.1,296.9 L717.1,296.1 L718.1,295.4 L719.1,294.6 L720.1,293.7 L721.1,292.9 L722.1,292.0 L723.1,291.0 L724.1,290.1 L725.1,289.1 L726.1,288.0 L727.1,287.0 L728.1,285.9 L729.1,284.7 L730.1,283.5 L731.1,282.3 L732.1,281.1 L733.1,279.8 L734.1,278.4 L735.1,277.1 L736.1,275.6 L737.1,274.2 L738.1,272.7 L739.1,271.1 L740.1,269.5 L741.1,267.9 L742.1,266.2 L743.1,264.4 L744.1,262.6 L745.1,260.8 L746.1,258.9 L747.1,257.0 L748.1,255.0 L749.1,252.9 L750.1,250.8 L751.1,248.7 L752.1,246.4 L753.1,244.1 L754.1,241.8 L755.1,239.3 L756.1,236.8 L757.1,234.3 L758.1,231.6 L759.1,228.9 L760.1,226.1 L761.1,223.2 L762.1,220.3 L763.1,217.2 L764.1,214.1 L765.1,210.9 L766.1,207.6 L767.1,204.2 L768.1,200.7 L769.1,197.1 L770.1,193.4 L771.1,189.7 L772.1,185.9 L773.1,182.1 L774.1,178.3 L775.1,174.5 L776.1,170.8 L777.1,167.0 L778.1,163.4 L779.1,159.8 L780.1,156.3 L781.1,152.9 L782.1,149.7 L783.1,146.6 L784.1,143.7 L785.1,140.9 L786.1,138.2 L787.1,135.7 L788.1,133.3 L789.1,131.0 L790.1,128.9 L791.1,126.9 L792.1,125.1 L793.1,123.4 L794.1,121.9 L795.1,120.4 L796.1,119.2 L797.1,118.0 L798.1,117.0 L799.1,116.2 L800.1,115.4 L801.1,114.7 L802.1,114.1 L803.1,113.6 L804.1,113.1 L805.1,112.7 L806.1,112.3 L807.1,111.9 L808.1,111.5 L809.1,111.1 L810.1,110.7 L811.1,110.3 L812.1,109.8 L813.1,109.3 L814.1,108.7 L815.1,108.1 L816.1,107.4 L817.1,106.6 L818.1,105.8 L819.1,104.8 L820.1,103.8 L821.1,102.6 L822.1,101.4 L823.1,99.9 L824.1,98.4 L825.1,96.7 L826.1,94.9 L827.1,92.9 L828.1,90.7 L829.1,88.4 L830.1,86.0 L831.1,83.5 L832.1,80.9 L833.1,78.2 L834.1,75.5 L835.1,72.8 L836.1,70.0 L837.1,67.3 L838.1,64.6 L839.1,61.9 L840.1,59.3 L841.1,56.7 L842.1,54.3 L843.1,52.0 L844.1,49.8 L845.1,47.8 L846.1,45.9 L847.1,44.2 L848.1,42.6 L849.1,41.2 L850.1,39.9 L851.1,38.8 L852.1,37.9 L853.1,37.1 L854.1,36.5 L855.1,36.1 L856.1,35.8 L857.1,35.8 L858.1,35.9 L859.1,36.2 L860.1,36.7 L861.1,37.4 L862.1,38.2 L863.1,39.3 L864.1,40.5 L865.1,41.9 L866.1,43.3 L867.1,44.8 L868.1,46.4 L869.1,47.9 L870.1,49.5 L871.1,51.0 L872.1,52.4 L873.1,53.8 L874.1,55.1 L875.1,56.4 L876.1,57.6 L877.1,58.8 L878.1,59.9 L879.1,61.0 L880.1,62.0 L881.1,62.9 L882.1,63.9 L883.1,64.7 L884.1,65.5 L885.1,66.2 L886.1,66.9 L887.1,67.6 L888.1,68.3 L889.1,69.0 L890.1,69.7 L891.1,70.4 L892.1,71.2 L893.1,72.1 L894.1,73.1 L895.1,74.1 L896.1,75.3 L897.1,76.6 L898.1,78.1 L899.1,79.7 L900.1,81.5 L901.1,83.5 L902.1,85.6 L903.1,87.8 L904.1,90.1 L905.1,92.6 L906.1,95.1 L907.1,97.7 L908.1,100.4 L909.1,103.2 L910.1,106.0 L911.1,108.8 L912.1,111.7 L913.1,114.6 L914.1,117.5 L915.1,120.4 L916.1,123.2 L917.1,126.1 L918.1,128.9 L919.1,131.7 L920.1,134.4 L921.1,137.0 L922.1,139.6 L923.1,142.1 L924.1,144.5 L925.1,146.9 L926.1,149.1 L927.1,151.4 L928.1,153.5 L929.1,155.6 L930.1,157.5 L931.1,159.4 L932.1,161.3 L933.1,163.0 L934.1,164.7 L935.1,166.3 L936.1,167.8 L937.1,169.2 L938.1,170.5 L939.1,171.8 L940.1,172.9 L941.1,174.0 L942.1,174.9 L943.1,175.8 L944.1,176.7 L945.1,177.5 L946.1,178.2 L947.1,179.0 L948.1,179.7 L949.1,180.4 L950.1,181.2 L951.1,181.9 L952.1,182.8 L953.1,183.7 L954.1,184.6 L955.1,185.6 L956.1,186.8 L957.1,188.0 L958.1,189.4 L959.1,190.9 L960.1,192.5 L961.1,194.3 L962.1,196.3 L963.1,198.4 L964.1,200.6 L965.1,202.9 L966.1,205.2 L967.1,207.7 L968.1,210.2 L969.1,212.8 L970.1,215.4 L971.1,218.1 L972.1,220.7 L973.1,223.3 L974.1,225.9 L975.1,228.5 L976.1,231.1 L977.1,233.6 L978.1,236.1 L979.1,238.6 L980.1,241.0 L981.1,243.5 L982.1,245.9 L983.1,248.2 L984.1,250.6 L985.1,252.9 L986.1,255.1 L987.1,257.4 L988.1,259.6 L989.1,261.8 L990.1,263.9 L991.1,266.0 L992.1,268.1 L993.1,270.1 L994.1,272.1 L995.1,274.1 L996.1,276.1 L997.1,278.0 L998.1,279.9 L999.1,281.7 L1000.1,283.5 L1001.1,285.3 L1002.1,287.0 L1003.1,288.7 L1004.1,290.4 L1005.1,292.0 L1006.1,293.6 L1007.1,295.2 L1008.1,296.7 L1009.1,298.2 L1010.1,299.7 L1011.1,301.1 L1012.1,302.5 L1013.1,303.8 L1014.1,305.1 L1015.1,306.4 L1016.1,307.6 L1017.1,308.8 L1018.1,310.0 L1019.1,311.1 L1020.1,312.2 L1021.1,313.3 L1022.1,314.3 L1023.1,315.3 L1024.2,316.3 L1025.2,317.2 L1026.2,318.2 L1027.2,319.0 L1028.2,319.9 L1029.2,320.7 L1030.2,321.5 L1031.2,322.3 L1032.2,323.0 L1033.2,323.7 L1034.2,324.4 L1035.2,325.1 L1036.2,325.7 L1037.2,326.4 L1038.2,327.0 L1039.2,327.5 L1040.2,328.1 L1041.2,328.6 L1042.2,329.1 L1043.2,329.6 L1044.2,330.1 L1045.2,330.6 L1046.2,331.0 L1047.2,331.4 L1048.2,331.8 L1049.2,332.2 L1050.2,332.6 L1051.2,332.9 L1052.2,333.2 L1053.2,333.6 L1054.2,333.9 L1055.2,334.2 L1056.2,334.5 L1057.2,334.7 L1058.2,335.0 L1059.2,335.3 L1060.2,335.5 L1061.2,335.7 L1062.2,336.0 L1063.2,336.2 L1064.2,336.4 L1065.2,336.6 L1066.2,336.8 L1067.2,337.0 L1068.2,337.2 L1069.2,337.3 L1070.2,337.5 L1071.2,337.7 L1072.2,337.9 L1073.2,338.0 L1074.2,338.2 L1075.2,338.4 L1076.2,338.5 L1077.2,338.7 L1078.2,338.9 L1079.2,339.0 L1080.2,339.2 L1081.2,339.4 L1082.2,339.5 L1083.2,339.7 L1084.2,339.9 L1085.2,340.1 L1086.2,340.3 L1087.2,340.5 L1088.2,340.7 L1089.2,340.9 L1090.2,341.1 L1091.2,341.4 L1092.2,341.6 L1093.2,341.8 L1094.2,342.1 L1095.2,342.4 L1096.2,342.7 L1097.2,343.0" stroke="#ff3a3a" stroke-width="1.7" fill="none"/>
<text x="663.7" y="49.4" font-family='"Liberation Serif", serif' font-size="30" fill="#000">P-2</text>
<text x="712.9" y="49.4" font-family='"Liberation Serif", serif' font-size="30" fill="#000">O</text>
<text x="736.8" y="59.6" font-family='"Liberation Serif", serif' font-size="27" fill="#000">1s</text>
<text x="1089.1" y="57.0" font-family='"Liberation Sans", sans-serif' font-size="40.5" font-weight="bold" fill="#000" text-anchor="end">(d)</text>
<text x="702.3" y="126.6" font-family='"Liberation Serif", serif' font-size="24" fill="#111">O=C-O</text>
<text x="679.6" y="213.0" font-family='"Liberation Serif", serif' font-size="24" fill="#111">O-C</text>
<text x="980.9" y="170.9" font-family='"Liberation Serif", serif' font-size="24" fill="#111">O-Ti</text>
<text x="1026.7" y="159.0" font-family='"Liberation Serif", serif' font-size="14" fill="#111">4+</text>
<text x="1020.2" y="262.8" font-family='"Liberation Serif", serif' font-size="24" fill="#111">O-Ti</text>
<text x="1065.6" y="250.0" font-family='"Liberation Serif", serif' font-size="14" fill="#111">3+</text>
<path d="M731.0,204.5L777.6,254.8" stroke="#222" stroke-width="1.0" fill="none"/>
<path d="M783.7,261.4L775.2,257.0L778.9,256.3L779.9,252.6Z" fill="#222"/>
<path d="M774.7,132.0L841.9,204.1" stroke="#222" stroke-width="1.0" fill="none"/>
<path d="M848.0,210.7L839.5,206.3L843.2,205.6L844.2,201.9Z" fill="#222"/>
<path d="M982.5,182.2L913.7,236.2" stroke="#222" stroke-width="1.0" fill="none"/>
<path d="M906.6,241.8L911.7,233.7L912.1,237.5L915.7,238.8Z" fill="#222"/>
<path d="M1033.8,268.8L982.0,305.1" stroke="#222" stroke-width="1.0" fill="none"/>
<path d="M974.6,310.3L980.1,302.5L980.3,306.3L983.8,307.8Z" fill="#222"/>
<text x="742.2" y="434.6" font-family='"Liberation Serif", serif' font-size="30" fill="#000">Binding energy (eV)</text>
<text transform="translate(635.2,239.4) rotate(-90)" font-family='"Liberation Serif", serif' font-size="30" fill="#000" x="-1">Intensity</text>
<rect x="81.0" y="493.6" width="441.9" height="356.0" fill="none" stroke="#2b2b2b" stroke-width="1.5"/>
<path d="M148.1,849.6V842.8 M227.0,849.6V842.8 M305.9,849.6V842.8 M384.8,849.6V842.8 M463.7,849.6V842.8 M108.6,849.6V846.1 M187.5,849.6V846.1 M266.4,849.6V846.1 M345.4,849.6V846.1 M424.3,849.6V846.1 M503.2,849.6V846.1 M81.0,618.0H87.8 M81.0,743.4H87.8 M81.0,555.9H84.8 M81.0,680.5H84.8 M81.0,805.9H84.8" stroke="#333" stroke-width="1.2" fill="none"/>
<text x="148.1" y="875.8" text-anchor="middle" font-family='"Liberation Serif", serif' font-size="23.5" fill="#000">466</text>
<text x="227.0" y="875.8" text-anchor="middle" font-family='"Liberation Serif", serif' font-size="23.5" fill="#000">464</text>
<text x="305.9" y="875.8" text-anchor="middle" font-family='"Liberation Serif", serif' font-size="23.5" fill="#000">462</text>
<text x="384.8" y="875.8" text-anchor="middle" font-family='"Liberation Serif", serif' font-size="23.5" fill="#000">460</text>
<text x="463.7" y="875.8" text-anchor="middle" font-family='"Liberation Serif", serif' font-size="23.5" fill="#000">458</text>
<path d="M81.8,789.4 L82.8,789.4 L83.8,789.4 L84.8,789.4 L85.8,789.4 L86.8,789.4 L87.8,789.4 L88.8,789.4 L89.8,789.5 L90.8,789.5 L91.8,789.5 L92.8,789.5 L93.8,789.5 L94.8,789.5 L95.8,789.5 L96.8,789.6 L97.8,789.6 L98.8,789.6 L99.8,789.6 L100.8,789.6 L101.8,789.7 L102.8,789.7 L103.8,789.7 L104.8,789.7 L105.8,789.8 L106.8,789.8 L107.8,789.8 L108.8,789.8 L109.8,789.9 L110.8,789.9 L111.8,789.9 L112.8,790.0 L113.8,790.0 L114.8,790.0 L115.8,790.1 L116.8,790.1 L117.8,790.1 L118.8,790.2 L119.8,790.2 L120.8,790.2 L121.8,790.3 L122.8,790.3 L123.8,790.4 L124.8,790.4 L125.8,790.4 L126.8,790.5 L127.8,790.5 L128.8,790.6 L129.8,790.6 L130.8,790.6 L131.8,790.7 L132.8,790.7 L133.8,790.8 L134.8,790.8 L135.8,790.9 L136.8,790.9 L137.8,791.0 L138.8,791.0 L139.8,791.1 L140.8,791.1 L141.8,791.1 L142.8,791.2 L143.8,791.2 L144.8,791.3 L145.8,791.3 L146.8,791.4 L147.8,791.4 L148.8,791.5 L149.8,791.6 L150.8,791.6 L151.8,791.7 L152.8,791.8 L153.8,791.9 L154.8,792.0 L155.8,792.1 L156.8,792.2 L157.8,792.3 L158.8,792.4 L159.8,792.5 L160.8,792.6 L161.8,792.7 L162.8,792.8 L163.8,793.0 L164.8,793.1 L165.8,793.2 L166.8,793.4 L167.8,793.5 L168.8,793.6 L169.8,793.8 L170.8,793.9 L171.8,794.0 L172.8,794.2 L173.8,794.3 L174.8,794.5 L175.8,794.6 L176.8,794.8 L177.8,794.9 L178.8,795.1 L179.8,795.2 L180.8,795.3 L181.8,795.5 L182.8,795.6 L183.8,795.8 L184.8,795.9 L185.8,796.1 L186.8,796.2 L187.8,796.3 L188.8,796.5 L189.8,796.6 L190.8,796.7 L191.8,796.8 L192.8,797.0 L193.8,797.1 L194.8,797.2 L195.8,797.3 L196.8,797.4 L197.8,797.5 L198.8,797.6 L199.8,797.7 L200.8,797.8 L201.8,797.9 L202.8,797.9 L203.8,798.0 L204.8,798.1 L205.8,798.2 L206.8,798.3 L207.8,798.3 L208.8,798.4 L209.8,798.5 L210.8,798.6 L211.8,798.7 L212.8,798.7 L213.8,798.8 L214.8,798.9 L215.8,798.9 L216.8,799.0 L217.8,799.1 L218.8,799.2 L219.8,799.2 L220.8,799.3 L221.8,799.4 L222.8,799.4 L223.8,799.5 L224.8,799.6 L225.8,799.6 L226.8,799.7 L227.8,799.8 L228.8,799.8 L229.8,799.9 L230.8,799.9 L231.8,800.0 L232.8,800.1 L233.8,800.1 L234.8,800.2 L235.8,800.2 L236.8,800.3 L237.8,800.4 L238.8,800.4 L239.8,800.5 L240.8,800.5 L241.8,800.6 L242.8,800.7 L243.8,800.7 L244.8,800.8 L245.8,800.8 L246.8,800.9 L247.8,800.9 L248.8,801.0 L249.8,801.1 L250.8,801.1 L251.8,801.2 L252.8,801.2 L253.8,801.3 L254.8,801.3 L255.8,801.4 L256.8,801.4 L257.8,801.5 L258.8,801.5 L259.8,801.6 L260.8,801.7 L261.8,801.7 L262.8,801.8 L263.8,801.8 L264.8,801.9 L265.8,801.9 L266.8,802.0 L267.8,802.0 L268.8,802.1 L269.8,802.1 L270.8,802.2 L271.8,802.2 L272.8,802.2 L273.8,802.3 L274.8,802.3 L275.8,802.4 L276.8,802.4 L277.8,802.5 L278.8,802.5 L279.8,802.6 L280.8,802.6 L281.8,802.7 L282.8,802.7 L283.8,802.7 L284.8,802.8 L285.8,802.8 L286.8,802.9 L287.8,802.9 L288.8,802.9 L289.8,803.0 L290.8,803.0 L291.8,803.1 L292.8,803.1 L293.8,803.1 L294.8,803.2 L295.8,803.2 L296.8,803.2 L297.8,803.3 L298.8,803.3 L299.8,803.3 L300.8,803.4 L301.8,803.4 L302.8,803.4 L303.8,803.5 L304.8,803.5 L305.8,803.5 L306.8,803.5 L307.8,803.6 L308.8,803.6 L309.8,803.6 L310.8,803.7 L311.8,803.7 L312.8,803.7 L313.8,803.7 L314.8,803.8 L315.8,803.8 L316.8,803.8 L317.8,803.9 L318.8,803.9 L319.8,803.9 L320.8,803.9 L321.8,804.0 L322.8,804.0 L323.8,804.0 L324.8,804.1 L325.8,804.1 L326.8,804.2 L327.8,804.2 L328.8,804.2 L329.8,804.3 L330.8,804.3 L331.8,804.4 L332.8,804.4 L333.8,804.4 L334.8,804.5 L335.8,804.5 L336.8,804.6 L337.8,804.6 L338.8,804.7 L339.8,804.7 L340.8,804.8 L341.8,804.8 L342.8,804.9 L343.8,805.0 L344.8,805.0 L345.8,805.1 L346.8,805.1 L347.8,805.2 L348.8,805.3 L349.8,805.3 L350.8,805.4 L351.8,805.5 L352.8,805.5 L353.8,805.6 L354.8,805.7 L355.8,805.7 L356.8,805.8 L357.8,805.9 L358.8,806.0 L359.8,806.1 L360.8,806.1 L361.8,806.2 L362.8,806.3 L363.8,806.4 L364.8,806.5 L365.8,806.6 L366.8,806.7 L367.8,806.7 L368.8,806.8 L369.8,806.9 L370.8,807.0 L371.8,807.1 L372.8,807.2 L373.8,807.3 L374.8,807.4 L375.8,807.6 L376.8,807.7 L377.8,807.8 L378.8,807.9 L379.8,808.0 L380.8,808.1 L381.8,808.2 L382.8,808.4 L383.8,808.5 L384.8,808.6 L385.8,808.7 L386.8,808.9 L387.8,809.0 L388.8,809.1 L389.8,809.3 L390.8,809.4 L391.8,809.6 L392.8,809.7 L393.8,809.8 L394.8,810.0 L395.8,810.2 L396.8,810.3 L397.8,810.5 L398.8,810.6 L399.8,810.8 L400.8,811.0 L401.8,811.3 L402.8,811.5 L403.8,811.8 L404.8,812.0 L405.8,812.3 L406.8,812.7 L407.8,813.0 L408.8,813.3 L409.8,813.7 L410.8,814.0 L411.8,814.4 L412.8,814.8 L413.8,815.1 L414.8,815.5 L415.8,815.9 L416.8,816.3 L417.8,816.7 L418.8,817.0 L419.8,817.4 L420.8,817.8 L421.8,818.2 L422.8,818.5 L423.8,818.9 L424.8,819.3 L425.8,819.6 L426.8,819.9 L427.8,820.2 L428.8,820.6 L429.8,820.9 L430.8,821.3 L431.8,821.6 L432.8,822.0 L433.8,822.3 L434.8,822.7 L435.8,823.1 L436.8,823.4 L437.8,823.8 L438.8,824.2 L439.8,824.5 L440.8,824.9 L441.8,825.3 L442.8,825.7 L443.8,826.0 L444.8,826.4 L445.8,826.8 L446.8,827.1 L447.8,827.5 L448.8,827.9 L449.8,828.2 L450.8,828.5 L451.8,828.9 L452.8,829.2 L453.8,829.5 L454.8,829.8 L455.8,830.1 L456.8,830.4 L457.8,830.7 L458.8,830.9 L459.8,831.2 L460.8,831.4 L461.8,831.7 L462.8,831.9 L463.8,832.1 L464.8,832.2 L465.8,832.4 L466.8,832.5 L467.8,832.7 L468.8,832.8 L469.8,832.9 L470.8,833.0 L471.8,833.1 L472.8,833.2 L473.8,833.3 L474.8,833.4 L475.8,833.5 L476.8,833.6 L477.8,833.7 L478.8,833.8 L479.8,833.9 L480.8,834.0 L481.8,834.1 L482.8,834.2 L483.8,834.3 L484.8,834.4 L485.8,834.5 L486.8,834.6 L487.8,834.7 L488.8,834.7 L489.8,834.8 L490.8,834.9 L491.8,835.0 L492.8,835.1 L493.8,835.1 L494.8,835.2 L495.8,835.3 L496.8,835.4 L497.8,835.4 L498.8,835.5 L499.8,835.5 L500.8,835.6 L501.8,835.7 L502.8,835.7 L503.8,835.8 L504.8,835.8 L505.8,835.9 L506.8,835.9 L507.8,836.0 L508.8,836.0 L509.8,836.0 L510.8,836.1 L511.8,836.1 L512.8,836.1 L513.8,836.2 L514.8,836.2 L515.8,836.2 L516.8,836.2 L517.8,836.3 L518.8,836.3 L519.8,836.3 L520.8,836.3 L521.8,836.3" stroke="#1a62e0" stroke-width="1.7" fill="none" transform="translate(0,0)"/>
<path d="M81.8,782.8 L82.8,782.6 L83.8,782.4 L84.8,782.2 L85.8,782.0 L86.8,781.8 L87.8,781.6 L88.8,781.3 L89.8,781.1 L90.8,780.9 L91.8,780.6 L92.8,780.3 L93.8,780.0 L94.8,779.7 L95.8,779.4 L96.8,779.0 L97.8,778.7 L98.8,778.3 L99.8,777.9 L100.8,777.5 L101.8,777.1 L102.8,776.6 L103.8,776.1 L104.8,775.6 L105.8,775.1 L106.8,774.5 L107.8,774.0 L108.8,773.4 L109.8,772.7 L110.8,772.0 L111.8,771.3 L112.8,770.6 L113.8,769.8 L114.8,769.1 L115.8,768.2 L116.8,767.4 L117.8,766.5 L118.8,765.5 L119.8,764.6 L120.8,763.5 L121.8,762.5 L122.8,761.4 L123.8,760.3 L124.8,759.2 L125.8,758.0 L126.8,756.8 L127.8,755.5 L128.8,754.2 L129.8,752.9 L130.8,751.5 L131.8,750.2 L132.8,748.7 L133.8,747.3 L134.8,745.8 L135.8,744.4 L136.8,742.9 L137.8,741.3 L138.8,739.8 L139.8,738.3 L140.8,736.7 L141.8,735.2 L142.8,733.6 L143.8,732.1 L144.8,730.6 L145.8,729.1 L146.8,727.7 L147.8,726.2 L148.8,724.9 L149.8,723.6 L150.8,722.3 L151.8,721.2 L152.8,720.1 L153.8,719.1 L154.8,718.2 L155.8,717.5 L156.8,716.8 L157.8,716.2 L158.8,715.8 L159.8,715.5 L160.8,715.4 L161.8,715.4 L162.8,715.5 L163.8,715.7 L164.8,716.1 L165.8,716.6 L166.8,717.3 L167.8,718.1 L168.8,718.9 L169.8,719.9 L170.8,721.1 L171.8,722.3 L172.8,723.5 L173.8,724.9 L174.8,726.4 L175.8,727.9 L176.8,729.4 L177.8,731.0 L178.8,732.7 L179.8,734.4 L180.8,736.1 L181.8,737.8 L182.8,739.5 L183.8,741.2 L184.8,743.0 L185.8,744.7 L186.8,746.4 L187.8,748.1 L188.8,749.8 L189.8,751.4 L190.8,753.1 L191.8,754.7 L192.8,756.3 L193.8,757.8 L194.8,759.3 L195.8,760.8 L196.8,762.2 L197.8,763.6 L198.8,765.0 L199.8,766.3 L200.8,767.6 L201.8,768.8 L202.8,770.0 L203.8,771.2 L204.8,772.3 L205.8,773.4 L206.8,774.5 L207.8,775.5 L208.8,776.5 L209.8,777.4 L210.8,778.3 L211.8,779.2 L212.8,780.1 L213.8,780.9 L214.8,781.6 L215.8,782.4 L216.8,783.1 L217.8,783.8 L218.8,784.4 L219.8,785.1 L220.8,785.7 L221.8,786.2 L222.8,786.8 L223.8,787.3 L224.8,787.8 L225.8,788.3 L226.8,788.8 L227.8,789.2 L228.8,789.6 L229.8,790.0 L230.8,790.4 L231.8,790.8 L232.8,791.1 L233.8,791.5 L234.8,791.8 L235.8,792.1 L236.8,792.4 L237.8,792.7 L238.8,793.0 L239.8,793.3 L240.8,793.5 L241.8,793.8 L242.8,794.0 L243.8,794.2 L244.8,794.4 L245.8,794.7 L246.8,794.9 L247.8,795.1 L248.8,795.3 L249.8,795.5 L250.8,795.6 L251.8,795.8 L252.8,796.0 L253.8,796.2 L254.8,796.3 L255.8,796.5 L256.8,796.6 L257.8,796.8 L258.8,796.9 L259.8,797.1 L260.8,797.2 L261.8,797.3 L262.8,797.5 L263.8,797.6 L264.8,797.7 L265.8,797.9 L266.8,798.0 L267.8,798.1 L268.8,798.2 L269.8,798.3 L270.8,798.5 L271.8,798.6 L272.8,798.7 L273.8,798.8 L274.8,798.9 L275.8,799.0 L276.8,799.1 L277.8,799.2 L278.8,799.3 L279.8,799.4 L280.8,799.5 L281.8,799.6 L282.8,799.7 L283.8,799.8 L284.8,799.8 L285.8,799.9 L286.8,800.0 L287.8,800.1 L288.8,800.2 L289.8,800.3 L290.8,800.3 L291.8,800.4 L292.8,800.5 L293.8,800.6 L294.8,800.6 L295.8,800.7 L296.8,800.8 L297.8,800.8 L298.8,800.9 L299.8,801.0 L300.8,801.0 L301.8,801.1 L302.8,801.2 L303.8,801.2 L304.8,801.3 L305.8,801.3 L306.8,801.4 L307.8,801.4 L308.8,801.5 L309.8,801.6 L310.8,801.6 L311.8,801.7 L312.8,801.7 L313.8,801.8 L314.8,801.8 L315.8,801.9 L316.8,801.9 L317.8,802.0 L318.8,802.0 L319.8,802.1 L320.8,802.1 L321.8,802.2 L322.8,802.3 L323.8,802.3 L324.8,802.4 L325.8,802.4 L326.8,802.5 L327.8,802.5 L328.8,802.6 L329.8,802.6 L330.8,802.7 L331.8,802.8 L332.8,802.8 L333.8,802.9 L334.8,803.0 L335.8,803.0 L336.8,803.1 L337.8,803.2 L338.8,803.2 L339.8,803.3 L340.8,803.4 L341.8,803.4 L342.8,803.5 L343.8,803.6 L344.8,803.6 L345.8,803.7 L346.8,803.8 L347.8,803.9 L348.8,803.9 L349.8,804.0 L350.8,804.1 L351.8,804.2 L352.8,804.3 L353.8,804.4 L354.8,804.4 L355.8,804.5 L356.8,804.6 L357.8,804.7 L358.8,804.8 L359.8,804.9 L360.8,805.0 L361.8,805.1 L362.8,805.2 L363.8,805.3 L364.8,805.4 L365.8,805.5 L366.8,805.6 L367.8,805.7 L368.8,805.8 L369.8,805.9 L370.8,806.0 L371.8,806.1 L372.8,806.2 L373.8,806.3 L374.8,806.4 L375.8,806.5 L376.8,806.7 L377.8,806.8 L378.8,806.9 L379.8,807.0 L380.8,807.2 L381.8,807.3 L382.8,807.4 L383.8,807.5 L384.8,807.7 L385.8,807.8 L386.8,808.0 L387.8,808.1 L388.8,808.2 L389.8,808.4 L390.8,808.5 L391.8,808.7 L392.8,808.8 L393.8,809.0 L394.8,809.1 L395.8,809.3 L396.8,809.5 L397.8,809.6 L398.8,809.8 L399.8,810.0 L400.8,810.2 L401.8,810.4 L402.8,810.7 L403.8,811.0 L404.8,811.3 L405.8,811.6 L406.8,811.9 L407.8,812.2 L408.8,812.6 L409.8,812.9 L410.8,813.3 L411.8,813.6 L412.8,814.0 L413.8,814.4 L414.8,814.8 L415.8,815.2 L416.8,815.6 L417.8,816.0 L418.8,816.3 L419.8,816.7 L420.8,817.1 L421.8,817.5 L422.8,817.9 L423.8,818.2 L424.8,818.6 L425.8,818.9 L426.8,819.3 L427.8,819.6 L428.8,819.9 L429.8,820.3 L430.8,820.6 L431.8,821.0 L432.8,821.3 L433.8,821.7 L434.8,822.1 L435.8,822.4 L436.8,822.8 L437.8,823.2 L438.8,823.6 L439.8,823.9 L440.8,824.3 L441.8,824.7 L442.8,825.1 L443.8,825.5 L444.8,825.8 L445.8,826.2 L446.8,826.6 L447.8,826.9 L448.8,827.3 L449.8,827.6 L450.8,828.0 L451.8,828.3 L452.8,828.6 L453.8,829.0 L454.8,829.3 L455.8,829.6 L456.8,829.9 L457.8,830.2 L458.8,830.4 L459.8,830.7 L460.8,830.9 L461.8,831.1 L462.8,831.4 L463.8,831.6 L464.8,831.7 L465.8,831.9 L466.8,832.0 L467.8,832.2 L468.8,832.3 L469.8,832.4 L470.8,832.5 L471.8,832.6 L472.8,832.7 L473.8,832.8 L474.8,833.0 L475.8,833.1 L476.8,833.2 L477.8,833.3 L478.8,833.4 L479.8,833.5 L480.8,833.6 L481.8,833.7 L482.8,833.8 L483.8,833.9 L484.8,834.0 L485.8,834.0 L486.8,834.1 L487.8,834.2 L488.8,834.3 L489.8,834.4 L490.8,834.5 L491.8,834.6 L492.8,834.6 L493.8,834.7 L494.8,834.8 L495.8,834.9 L496.8,834.9 L497.8,835.0 L498.8,835.1 L499.8,835.1 L500.8,835.2 L501.8,835.3 L502.8,835.3 L503.8,835.4 L504.8,835.4 L505.8,835.5 L506.8,835.5 L507.8,835.6 L508.8,835.6 L509.8,835.7 L510.8,835.7 L511.8,835.7 L512.8,835.8 L513.8,835.8 L514.8,835.8 L515.8,835.8 L516.8,835.9 L517.8,835.9 L518.8,835.9 L519.8,835.9 L520.8,835.9 L521.8,835.9" stroke="#22cdd0" stroke-width="1.7" fill="none"/>
<path d="M81.8,785.7 L82.8,785.6 L83.8,785.6 L84.8,785.5 L85.8,785.5 L86.8,785.4 L87.8,785.4 L88.8,785.3 L89.8,785.3 L90.8,785.2 L91.8,785.2 L92.8,785.1 L93.8,785.1 L94.8,785.0 L95.8,785.0 L96.8,784.9 L97.8,784.9 L98.8,784.8 L99.8,784.8 L100.8,784.7 L101.8,784.6 L102.8,784.6 L103.8,784.5 L104.8,784.5 L105.8,784.4 L106.8,784.3 L107.8,784.3 L108.8,784.2 L109.8,784.1 L110.8,784.0 L111.8,784.0 L112.8,783.9 L113.8,783.8 L114.8,783.7 L115.8,783.6 L116.8,783.5 L117.8,783.5 L118.8,783.4 L119.8,783.3 L120.8,783.2 L121.8,783.0 L122.8,782.9 L123.8,782.8 L124.8,782.7 L125.8,782.6 L126.8,782.4 L127.8,782.3 L128.8,782.1 L129.8,782.0 L130.8,781.8 L131.8,781.6 L132.8,781.5 L133.8,781.3 L134.8,781.1 L135.8,780.9 L136.8,780.6 L137.8,780.4 L138.8,780.1 L139.8,779.9 L140.8,779.6 L141.8,779.3 L142.8,779.0 L143.8,778.7 L144.8,778.3 L145.8,778.0 L146.8,777.6 L147.8,777.2 L148.8,776.8 L149.8,776.4 L150.8,775.9 L151.8,775.4 L152.8,774.9 L153.8,774.4 L154.8,773.9 L155.8,773.3 L156.8,772.7 L157.8,772.1 L158.8,771.5 L159.8,770.8 L160.8,770.1 L161.8,769.3 L162.8,768.5 L163.8,767.7 L164.8,766.8 L165.8,765.9 L166.8,765.0 L167.8,764.0 L168.8,763.0 L169.8,761.9 L170.8,760.8 L171.8,759.7 L172.8,758.5 L173.8,757.2 L174.8,755.9 L175.8,754.6 L176.8,753.2 L177.8,751.8 L178.8,750.3 L179.8,748.7 L180.8,747.1 L181.8,745.5 L182.8,743.8 L183.8,742.1 L184.8,740.4 L185.8,738.6 L186.8,736.7 L187.8,734.8 L188.8,732.9 L189.8,731.0 L190.8,729.0 L191.8,727.0 L192.8,725.0 L193.8,723.0 L194.8,721.0 L195.8,718.9 L196.8,716.9 L197.8,714.9 L198.8,712.9 L199.8,711.0 L200.8,709.1 L201.8,707.2 L202.8,705.4 L203.8,703.7 L204.8,702.0 L205.8,700.5 L206.8,699.1 L207.8,697.8 L208.8,696.6 L209.8,695.5 L210.8,694.6 L211.8,693.9 L212.8,693.3 L213.8,692.9 L214.8,692.6 L215.8,692.6 L216.8,692.7 L217.8,693.0 L218.8,693.5 L219.8,694.1 L220.8,694.9 L221.8,695.9 L222.8,697.0 L223.8,698.3 L224.8,699.7 L225.8,701.2 L226.8,702.8 L227.8,704.5 L228.8,706.4 L229.8,708.3 L230.8,710.3 L231.8,712.3 L232.8,714.4 L233.8,716.5 L234.8,718.7 L235.8,720.8 L236.8,723.0 L237.8,725.2 L238.8,727.4 L239.8,729.6 L240.8,731.8 L241.8,734.0 L242.8,736.1 L243.8,738.2 L244.8,740.3 L245.8,742.4 L246.8,744.4 L247.8,746.4 L248.8,748.3 L249.8,750.2 L250.8,752.0 L251.8,753.8 L252.8,755.6 L253.8,757.3 L254.8,759.0 L255.8,760.6 L256.8,762.2 L257.8,763.7 L258.8,765.1 L259.8,766.6 L260.8,767.9 L261.8,769.3 L262.8,770.5 L263.8,771.8 L264.8,773.0 L265.8,774.1 L266.8,775.2 L267.8,776.3 L268.8,777.3 L269.8,778.3 L270.8,779.2 L271.8,780.1 L272.8,780.9 L273.8,781.8 L274.8,782.6 L275.8,783.3 L276.8,784.0 L277.8,784.7 L278.8,785.4 L279.8,786.0 L280.8,786.6 L281.8,787.2 L282.8,787.7 L283.8,788.3 L284.8,788.8 L285.8,789.3 L286.8,789.7 L287.8,790.2 L288.8,790.6 L289.8,791.0 L290.8,791.4 L291.8,791.7 L292.8,792.1 L293.8,792.4 L294.8,792.8 L295.8,793.1 L296.8,793.4 L297.8,793.6 L298.8,793.9 L299.8,794.2 L300.8,794.4 L301.8,794.7 L302.8,794.9 L303.8,795.1 L304.8,795.3 L305.8,795.5 L306.8,795.7 L307.8,795.9 L308.8,796.1 L309.8,796.3 L310.8,796.5 L311.8,796.7 L312.8,796.8 L313.8,797.0 L314.8,797.2 L315.8,797.3 L316.8,797.5 L317.8,797.6 L318.8,797.8 L319.8,797.9 L320.8,798.0 L321.8,798.2 L322.8,798.3 L323.8,798.4 L324.8,798.6 L325.8,798.7 L326.8,798.8 L327.8,799.0 L328.8,799.1 L329.8,799.2 L330.8,799.3 L331.8,799.4 L332.8,799.6 L333.8,799.7 L334.8,799.8 L335.8,799.9 L336.8,800.1 L337.8,800.2 L338.8,800.3 L339.8,800.4 L340.8,800.5 L341.8,800.7 L342.8,800.8 L343.8,800.9 L344.8,801.0 L345.8,801.1 L346.8,801.2 L347.8,801.4 L348.8,801.5 L349.8,801.6 L350.8,801.7 L351.8,801.8 L352.8,801.9 L353.8,802.1 L354.8,802.2 L355.8,802.3 L356.8,802.4 L357.8,802.6 L358.8,802.7 L359.8,802.8 L360.8,802.9 L361.8,803.0 L362.8,803.2 L363.8,803.3 L364.8,803.4 L365.8,803.6 L366.8,803.7 L367.8,803.8 L368.8,803.9 L369.8,804.1 L370.8,804.2 L371.8,804.3 L372.8,804.5 L373.8,804.6 L374.8,804.8 L375.8,804.9 L376.8,805.0 L377.8,805.2 L378.8,805.3 L379.8,805.5 L380.8,805.6 L381.8,805.8 L382.8,805.9 L383.8,806.1 L384.8,806.2 L385.8,806.4 L386.8,806.5 L387.8,806.7 L388.8,806.8 L389.8,807.0 L390.8,807.2 L391.8,807.3 L392.8,807.5 L393.8,807.7 L394.8,807.9 L395.8,808.0 L396.8,808.2 L397.8,808.4 L398.8,808.6 L399.8,808.8 L400.8,809.0 L401.8,809.3 L402.8,809.5 L403.8,809.8 L404.8,810.1 L405.8,810.4 L406.8,810.8 L407.8,811.1 L408.8,811.5 L409.8,811.8 L410.8,812.2 L411.8,812.6 L412.8,813.0 L413.8,813.4 L414.8,813.8 L415.8,814.2 L416.8,814.6 L417.8,815.0 L418.8,815.4 L419.8,815.8 L420.8,816.2 L421.8,816.5 L422.8,816.9 L423.8,817.3 L424.8,817.7 L425.8,818.0 L426.8,818.4 L427.8,818.7 L428.8,819.0 L429.8,819.4 L430.8,819.8 L431.8,820.1 L432.8,820.5 L433.8,820.9 L434.8,821.2 L435.8,821.6 L436.8,822.0 L437.8,822.4 L438.8,822.8 L439.8,823.2 L440.8,823.5 L441.8,823.9 L442.8,824.3 L443.8,824.7 L444.8,825.1 L445.8,825.5 L446.8,825.8 L447.8,826.2 L448.8,826.6 L449.8,826.9 L450.8,827.3 L451.8,827.6 L452.8,828.0 L453.8,828.3 L454.8,828.6 L455.8,828.9 L456.8,829.2 L457.8,829.5 L458.8,829.8 L459.8,830.0 L460.8,830.3 L461.8,830.5 L462.8,830.7 L463.8,830.9 L464.8,831.1 L465.8,831.3 L466.8,831.4 L467.8,831.6 L468.8,831.7 L469.8,831.8 L470.8,831.9 L471.8,832.0 L472.8,832.2 L473.8,832.3 L474.8,832.4 L475.8,832.5 L476.8,832.6 L477.8,832.7 L478.8,832.8 L479.8,832.9 L480.8,833.0 L481.8,833.1 L482.8,833.2 L483.8,833.3 L484.8,833.4 L485.8,833.5 L486.8,833.6 L487.8,833.7 L488.8,833.8 L489.8,833.9 L490.8,834.0 L491.8,834.1 L492.8,834.2 L493.8,834.2 L494.8,834.3 L495.8,834.4 L496.8,834.5 L497.8,834.5 L498.8,834.6 L499.8,834.7 L500.8,834.7 L501.8,834.8 L502.8,834.9 L503.8,834.9 L504.8,835.0 L505.8,835.0 L506.8,835.1 L507.8,835.1 L508.8,835.2 L509.8,835.2 L510.8,835.3 L511.8,835.3 L512.8,835.4 L513.8,835.4 L514.8,835.4 L515.8,835.4 L516.8,835.5 L517.8,835.5 L518.8,835.5 L519.8,835.5 L520.8,835.5 L521.8,835.5" stroke="#c36fe6" stroke-width="1.7" fill="none"/>
<path d="M81.8,788.3 L82.8,788.3 L83.8,788.3 L84.8,788.3 L85.8,788.3 L86.8,788.3 L87.8,788.3 L88.8,788.3 L89.8,788.3 L90.8,788.3 L91.8,788.3 L92.8,788.3 L93.8,788.3 L94.8,788.3 L95.8,788.4 L96.8,788.4 L97.8,788.4 L98.8,788.4 L99.8,788.4 L100.8,788.4 L101.8,788.4 L102.8,788.4 L103.8,788.5 L104.8,788.5 L105.8,788.5 L106.8,788.5 L107.8,788.5 L108.8,788.6 L109.8,788.6 L110.8,788.6 L111.8,788.6 L112.8,788.6 L113.8,788.7 L114.8,788.7 L115.8,788.7 L116.8,788.7 L117.8,788.8 L118.8,788.8 L119.8,788.8 L120.8,788.8 L121.8,788.9 L122.8,788.9 L123.8,788.9 L124.8,789.0 L125.8,789.0 L126.8,789.0 L127.8,789.0 L128.8,789.1 L129.8,789.1 L130.8,789.1 L131.8,789.2 L132.8,789.2 L133.8,789.2 L134.8,789.3 L135.8,789.3 L136.8,789.3 L137.8,789.4 L138.8,789.4 L139.8,789.4 L140.8,789.5 L141.8,789.5 L142.8,789.5 L143.8,789.6 L144.8,789.6 L145.8,789.7 L146.8,789.7 L147.8,789.7 L148.8,789.8 L149.8,789.8 L150.8,789.9 L151.8,789.9 L152.8,790.0 L153.8,790.1 L154.8,790.1 L155.8,790.2 L156.8,790.3 L157.8,790.4 L158.8,790.5 L159.8,790.6 L160.8,790.7 L161.8,790.8 L162.8,790.9 L163.8,791.0 L164.8,791.1 L165.8,791.2 L166.8,791.4 L167.8,791.5 L168.8,791.6 L169.8,791.7 L170.8,791.8 L171.8,792.0 L172.8,792.1 L173.8,792.2 L174.8,792.3 L175.8,792.5 L176.8,792.6 L177.8,792.7 L178.8,792.8 L179.8,793.0 L180.8,793.1 L181.8,793.2 L182.8,793.3 L183.8,793.5 L184.8,793.6 L185.8,793.7 L186.8,793.8 L187.8,793.9 L188.8,794.0 L189.8,794.1 L190.8,794.2 L191.8,794.3 L192.8,794.4 L193.8,794.5 L194.8,794.6 L195.8,794.7 L196.8,794.8 L197.8,794.9 L198.8,794.9 L199.8,795.0 L200.8,795.1 L201.8,795.1 L202.8,795.2 L203.8,795.2 L204.8,795.3 L205.8,795.3 L206.8,795.4 L207.8,795.4 L208.8,795.5 L209.8,795.5 L210.8,795.6 L211.8,795.6 L212.8,795.7 L213.8,795.7 L214.8,795.7 L215.8,795.8 L216.8,795.8 L217.8,795.9 L218.8,795.9 L219.8,795.9 L220.8,796.0 L221.8,796.0 L222.8,796.0 L223.8,796.1 L224.8,796.1 L225.8,796.1 L226.8,796.1 L227.8,796.2 L228.8,796.2 L229.8,796.2 L230.8,796.2 L231.8,796.2 L232.8,796.3 L233.8,796.3 L234.8,796.3 L235.8,796.3 L236.8,796.3 L237.8,796.3 L238.8,796.3 L239.8,796.4 L240.8,796.4 L241.8,796.4 L242.8,796.4 L243.8,796.4 L244.8,796.4 L245.8,796.4 L246.8,796.4 L247.8,796.4 L248.8,796.4 L249.8,796.4 L250.8,796.4 L251.8,796.4 L252.8,796.4 L253.8,796.4 L254.8,796.4 L255.8,796.3 L256.8,796.3 L257.8,796.3 L258.8,796.3 L259.8,796.3 L260.8,796.3 L261.8,796.2 L262.8,796.2 L263.8,796.2 L264.8,796.2 L265.8,796.1 L266.8,796.1 L267.8,796.1 L268.8,796.0 L269.8,796.0 L270.8,795.9 L271.8,795.9 L272.8,795.9 L273.8,795.8 L274.8,795.8 L275.8,795.7 L276.8,795.7 L277.8,795.6 L278.8,795.5 L279.8,795.5 L280.8,795.4 L281.8,795.3 L282.8,795.3 L283.8,795.2 L284.8,795.1 L285.8,795.0 L286.8,794.9 L287.8,794.8 L288.8,794.7 L289.8,794.7 L290.8,794.6 L291.8,794.4 L292.8,794.3 L293.8,794.2 L294.8,794.1 L295.8,794.0 L296.8,793.8 L297.8,793.7 L298.8,793.6 L299.8,793.4 L300.8,793.3 L301.8,793.1 L302.8,792.9 L303.8,792.8 L304.8,792.6 L305.8,792.4 L306.8,792.2 L307.8,792.0 L308.8,791.8 L309.8,791.6 L310.8,791.4 L311.8,791.2 L312.8,791.0 L313.8,790.7 L314.8,790.5 L315.8,790.2 L316.8,790.0 L317.8,789.7 L318.8,789.4 L319.8,789.1 L320.8,788.8 L321.8,788.5 L322.8,788.2 L323.8,787.9 L324.8,787.6 L325.8,787.2 L326.8,786.8 L327.8,786.5 L328.8,786.1 L329.8,785.7 L330.8,785.2 L331.8,784.8 L332.8,784.3 L333.8,783.9 L334.8,783.4 L335.8,782.9 L336.8,782.3 L337.8,781.8 L338.8,781.2 L339.8,780.6 L340.8,780.0 L341.8,779.3 L342.8,778.7 L343.8,777.9 L344.8,777.2 L345.8,776.4 L346.8,775.6 L347.8,774.8 L348.8,773.9 L349.8,773.0 L350.8,772.0 L351.8,771.0 L352.8,769.9 L353.8,768.8 L354.8,767.7 L355.8,766.5 L356.8,765.2 L357.8,763.9 L358.8,762.5 L359.8,761.1 L360.8,759.6 L361.8,758.0 L362.8,756.3 L363.8,754.6 L364.8,752.8 L365.8,751.0 L366.8,749.0 L367.8,747.0 L368.8,744.8 L369.8,742.6 L370.8,740.3 L371.8,737.9 L372.8,735.4 L373.8,732.8 L374.8,730.2 L375.8,727.4 L376.8,724.5 L377.8,721.6 L378.8,718.5 L379.8,715.4 L380.8,712.2 L381.8,708.9 L382.8,705.6 L383.8,702.2 L384.8,698.8 L385.8,695.3 L386.8,691.9 L387.8,688.5 L388.8,685.1 L389.8,681.8 L390.8,678.5 L391.8,675.4 L392.8,672.4 L393.8,669.7 L394.8,667.1 L395.8,664.8 L396.8,662.7 L397.8,661.0 L398.8,659.6 L399.8,658.5 L400.8,657.9 L401.8,657.6 L402.8,657.8 L403.8,658.3 L404.8,659.3 L405.8,660.6 L406.8,662.3 L407.8,664.4 L408.8,666.8 L409.8,669.5 L410.8,672.5 L411.8,675.6 L412.8,679.0 L413.8,682.6 L414.8,686.3 L415.8,690.1 L416.8,694.0 L417.8,697.9 L418.8,701.9 L419.8,705.8 L420.8,709.7 L421.8,713.6 L422.8,717.5 L423.8,721.3 L424.8,725.0 L425.8,728.6 L426.8,732.1 L427.8,735.6 L428.8,738.9 L429.8,742.2 L430.8,745.4 L431.8,748.5 L432.8,751.4 L433.8,754.4 L434.8,757.2 L435.8,759.9 L436.8,762.5 L437.8,765.1 L438.8,767.5 L439.8,769.9 L440.8,772.2 L441.8,774.4 L442.8,776.6 L443.8,778.7 L444.8,780.7 L445.8,782.6 L446.8,784.4 L447.8,786.2 L448.8,787.9 L449.8,789.6 L450.8,791.2 L451.8,792.7 L452.8,794.2 L453.8,795.6 L454.8,797.0 L455.8,798.3 L456.8,799.5 L457.8,800.7 L458.8,801.9 L459.8,803.0 L460.8,804.0 L461.8,805.0 L462.8,806.0 L463.8,806.9 L464.8,807.8 L465.8,808.6 L466.8,809.4 L467.8,810.1 L468.8,810.8 L469.8,811.5 L470.8,812.2 L471.8,812.8 L472.8,813.4 L473.8,814.0 L474.8,814.6 L475.8,815.1 L476.8,815.7 L477.8,816.2 L478.8,816.7 L479.8,817.2 L480.8,817.7 L481.8,818.2 L482.8,818.6 L483.8,819.0 L484.8,819.5 L485.8,819.9 L486.8,820.3 L487.8,820.7 L488.8,821.0 L489.8,821.4 L490.8,821.8 L491.8,822.1 L492.8,822.5 L493.8,822.8 L494.8,823.1 L495.8,823.4 L496.8,823.7 L497.8,824.0 L498.8,824.3 L499.8,824.6 L500.8,824.8 L501.8,825.1 L502.8,825.3 L503.8,825.6 L504.8,825.8 L505.8,826.0 L506.8,826.3 L507.8,826.5 L508.8,826.7 L509.8,826.9 L510.8,827.1 L511.8,827.3 L512.8,827.4 L513.8,827.6 L514.8,827.8 L515.8,828.0 L516.8,828.1 L517.8,828.3 L518.8,828.4 L519.8,828.5 L520.8,828.7 L521.8,828.8" stroke="#e0a010" stroke-width="1.7" fill="none"/>
<path d="M81.8,788.0 L82.8,788.0 L83.8,788.0 L84.8,788.0 L85.8,788.0 L86.8,788.0 L87.8,788.0 L88.8,788.0 L89.8,788.0 L90.8,788.0 L91.8,788.0 L92.8,788.0 L93.8,788.0 L94.8,788.0 L95.8,788.0 L96.8,788.1 L97.8,788.1 L98.8,788.1 L99.8,788.1 L100.8,788.1 L101.8,788.1 L102.8,788.1 L103.8,788.1 L104.8,788.2 L105.8,788.2 L106.8,788.2 L107.8,788.2 L108.8,788.2 L109.8,788.2 L110.8,788.3 L111.8,788.3 L112.8,788.3 L113.8,788.3 L114.8,788.4 L115.8,788.4 L116.8,788.4 L117.8,788.4 L118.8,788.4 L119.8,788.5 L120.8,788.5 L121.8,788.5 L122.8,788.6 L123.8,788.6 L124.8,788.6 L125.8,788.6 L126.8,788.7 L127.8,788.7 L128.8,788.7 L129.8,788.8 L130.8,788.8 L131.8,788.8 L132.8,788.8 L133.8,788.9 L134.8,788.9 L135.8,788.9 L136.8,789.0 L137.8,789.0 L138.8,789.0 L139.8,789.1 L140.8,789.1 L141.8,789.1 L142.8,789.2 L143.8,789.2 L144.8,789.2 L145.8,789.3 L146.8,789.3 L147.8,789.4 L148.8,789.4 L149.8,789.4 L150.8,789.5 L151.8,789.6 L152.8,789.6 L153.8,789.7 L154.8,789.8 L155.8,789.8 L156.8,789.9 L157.8,790.0 L158.8,790.1 L159.8,790.2 L160.8,790.3 L161.8,790.4 L162.8,790.5 L163.8,790.6 L164.8,790.7 L165.8,790.8 L166.8,791.0 L167.8,791.1 L168.8,791.2 L169.8,791.3 L170.8,791.4 L171.8,791.6 L172.8,791.7 L173.8,791.8 L174.8,791.9 L175.8,792.1 L176.8,792.2 L177.8,792.3 L178.8,792.4 L179.8,792.6 L180.8,792.7 L181.8,792.8 L182.8,792.9 L183.8,793.1 L184.8,793.2 L185.8,793.3 L186.8,793.4 L187.8,793.5 L188.8,793.6 L189.8,793.7 L190.8,793.8 L191.8,793.9 L192.8,794.0 L193.8,794.1 L194.8,794.2 L195.8,794.3 L196.8,794.4 L197.8,794.4 L198.8,794.5 L199.8,794.6 L200.8,794.6 L201.8,794.7 L202.8,794.8 L203.8,794.8 L204.8,794.9 L205.8,794.9 L206.8,795.0 L207.8,795.0 L208.8,795.1 L209.8,795.1 L210.8,795.2 L211.8,795.2 L212.8,795.3 L213.8,795.3 L214.8,795.3 L215.8,795.4 L216.8,795.4 L217.8,795.5 L218.8,795.5 L219.8,795.5 L220.8,795.6 L221.8,795.6 L222.8,795.6 L223.8,795.7 L224.8,795.7 L225.8,795.7 L226.8,795.7 L227.8,795.8 L228.8,795.8 L229.8,795.8 L230.8,795.8 L231.8,795.9 L232.8,795.9 L233.8,795.9 L234.8,795.9 L235.8,795.9 L236.8,796.0 L237.8,796.0 L238.8,796.0 L239.8,796.0 L240.8,796.0 L241.8,796.0 L242.8,796.0 L243.8,796.1 L244.8,796.1 L245.8,796.1 L246.8,796.1 L247.8,796.1 L248.8,796.1 L249.8,796.1 L250.8,796.1 L251.8,796.1 L252.8,796.1 L253.8,796.1 L254.8,796.1 L255.8,796.1 L256.8,796.1 L257.8,796.1 L258.8,796.1 L259.8,796.1 L260.8,796.1 L261.8,796.0 L262.8,796.0 L263.8,796.0 L264.8,796.0 L265.8,796.0 L266.8,796.0 L267.8,795.9 L268.8,795.9 L269.8,795.9 L270.8,795.9 L271.8,795.8 L272.8,795.8 L273.8,795.8 L274.8,795.8 L275.8,795.7 L276.8,795.7 L277.8,795.6 L278.8,795.6 L279.8,795.6 L280.8,795.5 L281.8,795.5 L282.8,795.4 L283.8,795.4 L284.8,795.3 L285.8,795.3 L286.8,795.2 L287.8,795.1 L288.8,795.1 L289.8,795.0 L290.8,795.0 L291.8,794.9 L292.8,794.8 L293.8,794.7 L294.8,794.7 L295.8,794.6 L296.8,794.5 L297.8,794.4 L298.8,794.3 L299.8,794.2 L300.8,794.1 L301.8,794.0 L302.8,793.9 L303.8,793.8 L304.8,793.7 L305.8,793.5 L306.8,793.4 L307.8,793.3 L308.8,793.2 L309.8,793.0 L310.8,792.9 L311.8,792.8 L312.8,792.6 L313.8,792.5 L314.8,792.3 L315.8,792.2 L316.8,792.0 L317.8,791.9 L318.8,791.7 L319.8,791.5 L320.8,791.3 L321.8,791.2 L322.8,791.0 L323.8,790.8 L324.8,790.6 L325.8,790.4 L326.8,790.2 L327.8,790.0 L328.8,789.8 L329.8,789.6 L330.8,789.3 L331.8,789.1 L332.8,788.9 L333.8,788.6 L334.8,788.4 L335.8,788.1 L336.8,787.9 L337.8,787.6 L338.8,787.3 L339.8,787.0 L340.8,786.7 L341.8,786.4 L342.8,786.1 L343.8,785.8 L344.8,785.4 L345.8,785.1 L346.8,784.7 L347.8,784.4 L348.8,784.0 L349.8,783.6 L350.8,783.2 L351.8,782.7 L352.8,782.3 L353.8,781.8 L354.8,781.4 L355.8,780.9 L356.8,780.4 L357.8,779.8 L358.8,779.3 L359.8,778.7 L360.8,778.1 L361.8,777.5 L362.8,776.8 L363.8,776.1 L364.8,775.4 L365.8,774.7 L366.8,773.9 L367.8,773.1 L368.8,772.3 L369.8,771.4 L370.8,770.5 L371.8,769.5 L372.8,768.6 L373.8,767.5 L374.8,766.4 L375.8,765.3 L376.8,764.1 L377.8,762.9 L378.8,761.6 L379.8,760.3 L380.8,758.8 L381.8,757.4 L382.8,755.8 L383.8,754.2 L384.8,752.6 L385.8,750.8 L386.8,749.0 L387.8,747.1 L388.8,745.1 L389.8,743.0 L390.8,740.9 L391.8,738.7 L392.8,736.3 L393.8,733.9 L394.8,731.4 L395.8,728.7 L396.8,726.0 L397.8,723.2 L398.8,720.3 L399.8,717.3 L400.8,714.2 L401.8,711.0 L402.8,707.7 L403.8,704.3 L404.8,700.8 L405.8,697.3 L406.8,693.7 L407.8,689.9 L408.8,686.1 L409.8,682.2 L410.8,678.3 L411.8,674.3 L412.8,670.2 L413.8,666.1 L414.8,661.9 L415.8,657.8 L416.8,653.7 L417.8,649.5 L418.8,645.5 L419.8,641.5 L420.8,637.6 L421.8,633.8 L422.8,630.2 L423.8,626.8 L424.8,623.6 L425.8,620.7 L426.8,618.1 L427.8,615.7 L428.8,613.7 L429.8,612.1 L430.8,611.0 L431.8,610.2 L432.8,609.9 L433.8,610.0 L434.8,610.5 L435.8,611.6 L436.8,613.0 L437.8,614.9 L438.8,617.1 L439.8,619.8 L440.8,622.8 L441.8,626.1 L442.8,629.7 L443.8,633.6 L444.8,637.7 L445.8,642.0 L446.8,646.5 L447.8,651.1 L448.8,655.8 L449.8,660.6 L450.8,665.5 L451.8,670.3 L452.8,675.2 L453.8,680.0 L454.8,684.8 L455.8,689.5 L456.8,694.2 L457.8,698.8 L458.8,703.3 L459.8,707.7 L460.8,712.0 L461.8,716.2 L462.8,720.3 L463.8,724.2 L464.8,728.1 L465.8,731.8 L466.8,735.3 L467.8,738.8 L468.8,742.1 L469.8,745.3 L470.8,748.4 L471.8,751.4 L472.8,754.3 L473.8,757.1 L474.8,759.8 L475.8,762.4 L476.8,764.9 L477.8,767.3 L478.8,769.6 L479.8,771.8 L480.8,774.0 L481.8,776.0 L482.8,778.0 L483.8,779.9 L484.8,781.7 L485.8,783.5 L486.8,785.1 L487.8,786.8 L488.8,788.3 L489.8,789.8 L490.8,791.2 L491.8,792.6 L492.8,793.9 L493.8,795.2 L494.8,796.4 L495.8,797.6 L496.8,798.7 L497.8,799.8 L498.8,800.8 L499.8,801.8 L500.8,802.8 L501.8,803.7 L502.8,804.6 L503.8,805.4 L504.8,806.3 L505.8,807.0 L506.8,807.8 L507.8,808.5 L508.8,809.2 L509.8,809.9 L510.8,810.6 L511.8,811.2 L512.8,811.8 L513.8,812.4 L514.8,812.9 L515.8,813.5 L516.8,814.0 L517.8,814.5 L518.8,814.9 L519.8,815.4 L520.8,815.9 L521.8,816.3" stroke="#16b06e" stroke-width="1.7" fill="none"/>
<path d="M82.7,785.4 L92.1,778.0 L96.8,784.7 L100.2,782.0 L108.3,760.5 L116.3,776.6 L121.7,769.9 L135.2,734.2 L139.2,730.2 L143.3,730.2 L151.3,718.1 L155.4,718.7 L160.8,720.8 L166.1,710.0 L174.2,680.4 L179.6,681.0 L187.0,699.2 L193.1,680.4 L197.1,677.7 L206.6,677.8 L214.8,685.9 L222.9,704.8 L232.3,710.2 L241.7,718.9 L251.1,737.1 L259.2,757.3 L270.0,775.5 L279.4,795.6 L283.4,795.0 L292.9,776.1 L300.9,791.6 L314.4,756.6 L317.8,756.6 L325.2,778.1 L333.3,741.0 L340.2,767.4 L344.7,767.4 L359.4,697.2 L364.0,692.6 L375.3,654.1 L384.3,623.5 L393.4,597.5 L397.9,568.0 L404.7,541.9 L411.5,553.3 L420.6,529.5 L427.4,524.9 L436.4,545.3 L444.1,567.8 L451.3,591.9 L458.5,644.8 L468.2,683.4 L475.4,719.5 L480.2,750.8 L483.8,784.5 L492.3,801.4 L499.5,803.8 L504.3,808.6 L511.5,806.2 L518.7,808.6 L522.4,820.6" stroke="#474747" stroke-width="1.6" fill="none" stroke-linejoin="round"/>
<path d="M81.8,777.1 L82.8,777.0 L83.8,776.8 L84.8,776.7 L85.8,776.5 L86.8,776.3 L87.8,776.1 L88.8,775.8 L89.8,775.6 L90.8,775.3 L91.8,775.0 L92.8,774.7 L93.8,774.3 L94.8,773.9 L95.8,773.5 L96.8,773.1 L97.8,772.7 L98.8,772.2 L99.8,771.7 L100.8,771.2 L101.8,770.6 L102.8,770.1 L103.8,769.5 L104.8,768.9 L105.8,768.2 L106.8,767.5 L107.8,766.9 L108.8,766.1 L109.8,765.4 L110.8,764.6 L111.8,763.8 L112.8,763.0 L113.8,762.1 L114.8,761.2 L115.8,760.3 L116.8,759.3 L117.8,758.4 L118.8,757.4 L119.8,756.3 L120.8,755.3 L121.8,754.2 L122.8,753.0 L123.8,751.9 L124.8,750.7 L125.8,749.5 L126.8,748.2 L127.8,747.0 L128.8,745.6 L129.8,744.3 L130.8,742.9 L131.8,741.5 L132.8,740.1 L133.8,738.6 L134.8,737.1 L135.8,735.5 L136.8,734.0 L137.8,732.4 L138.8,730.7 L139.8,729.0 L140.8,727.3 L141.8,725.6 L142.8,723.8 L143.8,722.0 L144.8,720.1 L145.8,718.2 L146.8,716.3 L147.8,714.3 L148.8,712.3 L149.8,710.3 L150.8,708.3 L151.8,706.3 L152.8,704.3 L153.8,702.4 L154.8,700.5 L155.8,698.7 L156.8,697.0 L157.8,695.4 L158.8,693.9 L159.8,692.5 L160.8,691.3 L161.8,690.2 L162.8,689.2 L163.8,688.4 L164.8,687.8 L165.8,687.3 L166.8,686.8 L167.8,686.5 L168.8,686.3 L169.8,686.2 L170.8,686.2 L171.8,686.3 L172.8,686.4 L173.8,686.6 L174.8,686.8 L175.8,687.1 L176.8,687.3 L177.8,687.6 L178.8,687.9 L179.8,688.1 L180.8,688.3 L181.8,688.4 L182.8,688.5 L183.8,688.4 L184.8,688.3 L185.8,688.1 L186.8,687.7 L187.8,687.2 L188.8,686.7 L189.8,686.1 L190.8,685.4 L191.8,684.6 L192.8,683.8 L193.8,682.9 L194.8,682.0 L195.8,681.0 L196.8,680.0 L197.8,679.1 L198.8,678.1 L199.8,677.1 L200.8,676.1 L201.8,675.2 L202.8,674.2 L203.8,673.4 L204.8,672.5 L205.8,671.8 L206.8,671.1 L207.8,670.5 L208.8,670.0 L209.8,669.6 L210.8,669.3 L211.8,669.1 L212.8,669.1 L213.8,669.2 L214.8,669.4 L215.8,669.8 L216.8,670.4 L217.8,671.2 L218.8,672.2 L219.8,673.4 L220.8,674.8 L221.8,676.3 L222.8,678.1 L223.8,680.0 L224.8,682.0 L225.8,684.1 L226.8,686.2 L227.8,688.4 L228.8,690.7 L229.8,692.9 L230.8,695.1 L231.8,697.4 L232.8,699.7 L233.8,702.0 L234.8,704.3 L235.8,706.6 L236.8,708.9 L237.8,711.2 L238.8,713.5 L239.8,715.7 L240.8,718.0 L241.8,720.2 L242.8,722.4 L243.8,724.6 L244.8,726.8 L245.8,728.9 L246.8,731.0 L247.8,733.0 L248.8,735.0 L249.8,737.0 L250.8,738.9 L251.8,740.8 L252.8,742.6 L253.8,744.3 L254.8,746.0 L255.8,747.6 L256.8,749.2 L257.8,750.7 L258.8,752.1 L259.8,753.5 L260.8,754.8 L261.8,756.0 L262.8,757.3 L263.8,758.4 L264.8,759.5 L265.8,760.6 L266.8,761.6 L267.8,762.5 L268.8,763.4 L269.8,764.3 L270.8,765.1 L271.8,765.8 L272.8,766.6 L273.8,767.2 L274.8,767.9 L275.8,768.5 L276.8,769.0 L277.8,769.5 L278.8,770.0 L279.8,770.4 L280.8,770.8 L281.8,771.2 L282.8,771.5 L283.8,771.8 L284.8,772.1 L285.8,772.4 L286.8,772.6 L287.8,772.8 L288.8,772.9 L289.8,773.0 L290.8,773.1 L291.8,773.2 L292.8,773.3 L293.8,773.3 L294.8,773.3 L295.8,773.3 L296.8,773.3 L297.8,773.3 L298.8,773.2 L299.8,773.1 L300.8,773.0 L301.8,772.9 L302.8,772.8 L303.8,772.7 L304.8,772.6 L305.8,772.4 L306.8,772.3 L307.8,772.1 L308.8,772.0 L309.8,771.8 L310.8,771.6 L311.8,771.4 L312.8,771.2 L313.8,771.0 L314.8,770.8 L315.8,770.5 L316.8,770.3 L317.8,770.0 L318.8,769.7 L319.8,769.4 L320.8,769.1 L321.8,768.7 L322.8,768.3 L323.8,767.9 L324.8,767.5 L325.8,767.1 L326.8,766.6 L327.8,766.1 L328.8,765.5 L329.8,764.9 L330.8,764.3 L331.8,763.7 L332.8,763.0 L333.8,762.3 L334.8,761.5 L335.8,760.7 L336.8,759.9 L337.8,759.0 L338.8,758.1 L339.8,757.1 L340.8,756.1 L341.8,755.0 L342.8,753.9 L343.8,752.8 L344.8,751.6 L345.8,750.3 L346.8,749.0 L347.8,747.6 L348.8,746.2 L349.8,744.7 L350.8,743.2 L351.8,741.6 L352.8,739.9 L353.8,738.2 L354.8,736.4 L355.8,734.5 L356.8,732.6 L357.8,730.6 L358.8,728.6 L359.8,726.4 L360.8,724.2 L361.8,721.9 L362.8,719.6 L363.8,717.1 L364.8,714.6 L365.8,712.0 L366.8,709.3 L367.8,706.6 L368.8,703.7 L369.8,700.7 L370.8,697.7 L371.8,694.6 L372.8,691.3 L373.8,688.0 L374.8,684.6 L375.8,681.1 L376.8,677.5 L377.8,673.7 L378.8,669.9 L379.8,665.9 L380.8,661.9 L381.8,657.6 L382.8,653.3 L383.8,648.8 L384.8,644.2 L385.8,639.4 L386.8,634.5 L387.8,629.4 L388.8,624.2 L389.8,619.0 L390.8,613.7 L391.8,608.4 L392.8,603.3 L393.8,598.2 L394.8,593.3 L395.8,588.6 L396.8,584.1 L397.8,580.0 L398.8,576.1 L399.8,572.6 L400.8,569.4 L401.8,566.5 L402.8,563.8 L403.8,561.3 L404.8,559.0 L405.8,556.8 L406.8,554.9 L407.8,553.0 L408.8,551.2 L409.8,549.5 L410.8,547.9 L411.8,546.3 L412.8,544.8 L413.8,543.4 L414.8,542.0 L415.8,540.8 L416.8,539.6 L417.8,538.5 L418.8,537.6 L419.8,536.8 L420.8,536.1 L421.8,535.5 L422.8,535.1 L423.8,534.8 L424.8,534.7 L425.8,534.7 L426.8,534.9 L427.8,535.3 L428.8,535.8 L429.8,536.6 L430.8,537.5 L431.8,538.6 L432.8,539.9 L433.8,541.5 L434.8,543.2 L435.8,545.2 L436.8,547.4 L437.8,549.8 L438.8,552.6 L439.8,555.7 L440.8,559.1 L441.8,563.1 L442.8,567.5 L443.8,572.4 L444.8,578.0 L445.8,584.1 L446.8,590.6 L447.8,597.4 L448.8,604.4 L449.8,611.6 L450.8,618.6 L451.8,625.6 L452.8,632.5 L453.8,639.2 L454.8,645.7 L455.8,652.1 L456.8,658.3 L457.8,664.4 L458.8,670.2 L459.8,675.9 L460.8,681.5 L461.8,686.8 L462.8,692.0 L463.8,697.0 L464.8,701.9 L465.8,706.6 L466.8,711.1 L467.8,715.5 L468.8,719.8 L469.8,723.9 L470.8,727.8 L471.8,731.6 L472.8,735.3 L473.8,738.9 L474.8,742.3 L475.8,745.6 L476.8,748.8 L477.8,751.8 L478.8,754.8 L479.8,757.6 L480.8,760.3 L481.8,762.9 L482.8,765.4 L483.8,767.8 L484.8,770.1 L485.8,772.4 L486.8,774.5 L487.8,776.5 L488.8,778.4 L489.8,780.3 L490.8,782.0 L491.8,783.7 L492.8,785.3 L493.8,786.9 L494.8,788.3 L495.8,789.7 L496.8,791.0 L497.8,792.3 L498.8,793.5 L499.8,794.6 L500.8,795.7 L501.8,796.7 L502.8,797.7 L503.8,798.6 L504.8,799.4 L505.8,800.2 L506.8,801.0 L507.8,801.8 L508.8,802.5 L509.8,803.1 L510.8,803.8 L511.8,804.4 L512.8,804.9 L513.8,805.5 L514.8,806.0 L515.8,806.5 L516.8,807.0 L517.8,807.5 L518.8,808.0 L519.8,808.4 L520.8,808.9 L521.8,809.3" stroke="#ff3a3a" stroke-width="1.7" fill="none"/>
<text x="90.9" y="525.8" font-family='"Liberation Serif", serif' font-size="30" fill="#000">P-2 Ti</text>
<text x="165.6" y="537.2" font-family='"Liberation Serif", serif' font-size="27" fill="#000">2p</text>
<text x="513.7" y="534.1" font-family='"Liberation Sans", sans-serif' font-size="40.5" font-weight="bold" fill="#000" text-anchor="end">(e)</text>
<text x="96.5" y="660.9" font-family='"Liberation Serif", serif' font-size="24" fill="#111">O-Ti</text>
<text x="142.0" y="649.3" font-family='"Liberation Serif", serif' font-size="14" fill="#111">3+</text>
<text x="156.8" y="668.9" font-family='"Liberation Serif", serif' font-size="13.5" fill="#111">2p1/2</text>
<text x="215.8" y="657.0" font-family='"Liberation Serif", serif' font-size="24" fill="#111">O-Ti</text>
<text x="261.3" y="645.4" font-family='"Liberation Serif", serif' font-size="14" fill="#111">4+</text>
<text x="276.8" y="665.8" font-family='"Liberation Serif", serif' font-size="13.5" fill="#111">2p1/2</text>
<text x="297.2" y="567.6" font-family='"Liberation Serif", serif' font-size="24" fill="#111">O-Ti</text>
<text x="343.0" y="554.9" font-family='"Liberation Serif", serif' font-size="14" fill="#111">4+</text>
<text x="357.9" y="575.6" font-family='"Liberation Serif", serif' font-size="13.5" fill="#111">2p3/2</text>
<text x="284.0" y="627.4" font-family='"Liberation Serif", serif' font-size="24" fill="#111">O-Ti</text>
<text x="329.2" y="614.7" font-family='"Liberation Serif", serif' font-size="14" fill="#111">3+</text>
<text x="344.7" y="635.4" font-family='"Liberation Serif", serif' font-size="13.5" fill="#111">2p3/2</text>
<path d="M128.5,676.3L153.2,735.3" stroke="#222" stroke-width="1.0" fill="none"/>
<path d="M156.7,743.6L150.3,736.5L154.0,737.1L156.2,734.1Z" fill="#222"/>
<path d="M249.1,667.1L221.5,736.1" stroke="#222" stroke-width="1.0" fill="none"/>
<path d="M218.2,744.5L218.6,735.0L220.8,738.0L224.5,737.3Z" fill="#222"/>
<path d="M373.0,586.1L430.8,659.5" stroke="#222" stroke-width="1.0" fill="none"/>
<path d="M436.4,666.6L428.3,661.5L432.1,661.1L433.3,657.5Z" fill="#222"/>
<path d="M347.0,647.3L387.7,704.6" stroke="#222" stroke-width="1.0" fill="none"/>
<path d="M392.9,711.9L385.1,706.4L388.8,706.2L390.3,702.7Z" fill="#222"/>
<text x="169.8" y="914.6" font-family='"Liberation Serif", serif' font-size="30" fill="#000">Binding energy (eV)</text>
<text transform="translate(63.7,707.5) rotate(-90)" font-family='"Liberation Serif", serif' font-size="30" fill="#000" x="-1">Intensity</text>
<rect x="658.8" y="493.6" width="446.1" height="359.6" fill="none" stroke="#2b2b2b" stroke-width="1.5"/>
<path d="M696.0,853.2V846.4 M770.3,853.2V846.4 M844.7,853.2V846.4 M919.0,853.2V846.4 M993.4,853.2V846.4 M1067.7,853.2V846.4 M733.1,853.2V849.7 M807.5,853.2V849.7 M881.9,853.2V849.7 M956.2,853.2V849.7 M1030.6,853.2V849.7 M658.8,550.2H665.6 M658.8,657.0H665.6 M658.8,764.1H665.6 M658.8,497.0H662.6 M658.8,603.0H662.6 M658.8,710.6H662.6 M658.8,817.2H662.6" stroke="#333" stroke-width="1.2" fill="none"/>
<text x="696.0" y="879.8" text-anchor="middle" font-family='"Liberation Serif", serif' font-size="23.5" fill="#000">376</text>
<text x="770.3" y="879.8" text-anchor="middle" font-family='"Liberation Serif", serif' font-size="23.5" fill="#000">374</text>
<text x="844.7" y="879.8" text-anchor="middle" font-family='"Liberation Serif", serif' font-size="23.5" fill="#000">372</text>
<text x="919.0" y="879.8" text-anchor="middle" font-family='"Liberation Serif", serif' font-size="23.5" fill="#000">370</text>
<text x="993.4" y="879.8" text-anchor="middle" font-family='"Liberation Serif", serif' font-size="23.5" fill="#000">368</text>
<text x="1067.7" y="879.8" text-anchor="middle" font-family='"Liberation Serif", serif' font-size="23.5" fill="#000">366</text>
<path d="M659.5,815.1 L660.5,815.0 L661.5,814.9 L662.5,814.8 L663.5,814.7 L664.5,814.5 L665.5,814.4 L666.5,814.3 L667.5,814.2 L668.5,814.1 L669.5,814.0 L670.5,813.8 L671.5,813.7 L672.5,813.6 L673.5,813.5 L674.5,813.4 L675.5,813.2 L676.5,813.1 L677.5,813.0 L678.5,812.9 L679.5,812.8 L680.5,812.7 L681.5,812.5 L682.5,812.4 L683.5,812.3 L684.5,812.2 L685.5,812.1 L686.5,812.0 L687.5,811.8 L688.5,811.7 L689.5,811.6 L690.5,811.5 L691.5,811.4 L692.5,811.3 L693.5,811.1 L694.5,811.0 L695.5,810.9 L696.5,810.8 L697.5,810.7 L698.5,810.6 L699.5,810.4 L700.5,810.3 L701.5,810.2 L702.5,810.1 L703.5,810.0 L704.5,809.9 L705.5,809.7 L706.5,809.6 L707.5,809.5 L708.5,809.4 L709.5,809.3 L710.5,809.2 L711.5,809.0 L712.5,808.9 L713.5,808.8 L714.5,808.7 L715.5,808.6 L716.5,808.5 L717.5,808.3 L718.5,808.2 L719.5,808.1 L720.5,808.0 L721.5,807.9 L722.5,807.8 L723.5,807.6 L724.5,807.5 L725.5,807.4 L726.5,807.3 L727.5,807.2 L728.5,807.1 L729.5,806.9 L730.5,806.8 L731.5,806.7 L732.5,806.6 L733.5,806.5 L734.5,806.4 L735.5,806.2 L736.5,806.1 L737.5,806.0 L738.5,805.9 L739.5,805.8 L740.5,805.7 L741.5,805.5 L742.5,805.4 L743.5,805.3 L744.5,805.2 L745.5,805.1 L746.5,805.0 L747.5,804.8 L748.5,804.7 L749.5,804.6 L750.5,804.5 L751.5,804.4 L752.5,804.3 L753.5,804.1 L754.5,804.0 L755.5,803.9 L756.5,803.8 L757.5,803.7 L758.5,803.6 L759.5,803.4 L760.5,803.3 L761.5,803.2 L762.5,803.1 L763.5,803.0 L764.5,802.8 L765.5,802.7 L766.5,802.6 L767.5,802.5 L768.5,802.4 L769.5,802.3 L770.5,802.1 L771.5,802.0 L772.5,801.9 L773.5,801.8 L774.5,801.7 L775.5,801.6 L776.5,801.4 L777.5,801.3 L778.5,801.2 L779.5,801.1 L780.5,801.0 L781.5,800.9 L782.5,800.7 L783.5,800.6 L784.5,800.5 L785.5,800.4 L786.5,800.3 L787.5,800.2 L788.5,800.0 L789.5,799.9 L790.5,799.8 L791.5,799.7 L792.5,799.6 L793.5,799.5 L794.5,799.3 L795.5,799.2 L796.5,799.1 L797.5,799.0 L798.5,798.9 L799.5,798.8 L800.5,798.6 L801.5,798.5 L802.5,798.4 L803.5,798.3 L804.5,798.2 L805.5,798.1 L806.5,797.9 L807.5,797.8 L808.5,797.7 L809.5,797.6 L810.5,797.5 L811.5,797.4 L812.5,797.2 L813.5,797.1 L814.5,797.0 L815.5,796.9 L816.5,796.8 L817.5,796.7 L818.5,796.5 L819.5,796.4 L820.5,796.3 L821.5,796.2 L822.5,796.1 L823.5,796.0 L824.5,795.8 L825.5,795.7 L826.5,795.6 L827.5,795.5 L828.5,795.4 L829.5,795.3 L830.5,795.1 L831.5,795.0 L832.5,794.9 L833.5,794.8 L834.5,794.7 L835.5,794.6 L836.5,794.4 L837.5,794.3 L838.5,794.2 L839.5,794.1 L840.5,794.0 L841.5,793.9 L842.5,793.7 L843.5,793.6 L844.5,793.5 L845.5,793.4 L846.5,793.3 L847.5,793.1 L848.5,793.0 L849.5,792.9 L850.5,792.8 L851.5,792.7 L852.5,792.6 L853.5,792.4 L854.5,792.3 L855.5,792.2 L856.5,792.1 L857.5,792.0 L858.5,791.9 L859.5,791.7 L860.5,791.6 L861.5,791.5 L862.5,791.4 L863.5,791.3 L864.5,791.2 L865.5,791.0 L866.5,790.9 L867.5,790.8 L868.5,790.7 L869.5,790.6 L870.5,790.5 L871.5,790.3 L872.5,790.2 L873.5,790.1 L874.5,790.0 L875.5,789.9 L876.5,789.8 L877.5,789.6 L878.5,789.5 L879.5,789.4 L880.5,789.3 L881.5,789.2 L882.5,789.1 L883.5,788.9 L884.5,788.8 L885.5,788.7 L886.5,788.6 L887.5,788.5 L888.5,788.4 L889.5,788.2 L890.5,788.1 L891.5,788.0 L892.5,787.9 L893.5,787.8 L894.5,787.7 L895.5,787.5 L896.5,787.4 L897.5,787.3 L898.5,787.2 L899.5,787.1 L900.5,787.0 L901.5,786.8 L902.5,786.7 L903.5,786.6 L904.5,786.5 L905.5,786.4 L906.5,786.3 L907.5,786.1 L908.5,786.0 L909.5,785.9 L910.5,785.8 L911.5,785.7 L912.5,785.6 L913.5,785.4 L914.5,785.3 L915.5,785.2 L916.5,785.1 L917.5,785.0 L918.5,784.9 L919.5,784.7 L920.5,784.6 L921.5,784.5 L922.5,784.4 L923.5,784.3 L924.5,784.2 L925.5,784.0 L926.5,783.9 L927.5,783.8 L928.5,783.7 L929.5,783.6 L930.5,783.5 L931.5,783.3 L932.5,783.2 L933.5,783.1 L934.5,783.0 L935.5,782.9 L936.5,782.7 L937.5,782.6 L938.5,782.5 L939.5,782.4 L940.5,782.3 L941.5,782.2 L942.5,782.0 L943.5,781.9 L944.5,781.8 L945.5,781.7 L946.5,781.6 L947.5,781.5 L948.5,781.3 L949.5,781.2 L950.5,781.1 L951.5,781.0 L952.5,780.9 L953.5,780.8 L954.5,780.6 L955.5,780.5 L956.5,780.4 L957.5,780.3 L958.5,780.2 L959.5,780.1 L960.5,779.9 L961.5,779.8 L962.5,779.7 L963.5,779.6 L964.5,779.5 L965.5,779.4 L966.5,779.2 L967.5,779.1 L968.5,779.0 L969.5,778.9 L970.5,778.8 L971.5,778.7 L972.5,778.5 L973.5,778.4 L974.5,778.3 L975.5,778.2 L976.5,778.1 L977.5,778.0 L978.5,777.8 L979.5,777.7 L980.5,777.6 L981.5,777.5 L982.5,777.4 L983.5,777.3 L984.5,777.1 L985.5,777.0 L986.5,776.9 L987.5,776.8 L988.5,776.7 L989.5,776.6 L990.5,776.4 L991.5,776.3 L992.5,776.2 L993.5,776.1 L994.5,776.0 L995.5,775.9 L996.5,775.7 L997.5,775.6 L998.5,775.5 L999.5,775.4 L1000.5,775.3 L1001.5,775.2 L1002.5,775.0 L1003.5,774.9 L1004.5,774.8 L1005.5,774.7 L1006.5,774.6 L1007.5,774.5 L1008.5,774.3 L1009.5,774.2 L1010.5,774.1 L1011.5,774.0 L1012.5,773.9 L1013.5,773.8 L1014.5,773.6 L1015.5,773.5 L1016.5,773.4 L1017.5,773.3 L1018.5,773.2 L1019.5,773.1 L1020.5,772.9 L1021.5,772.8 L1022.5,772.7 L1023.5,772.6 L1024.5,772.5 L1025.5,772.3 L1026.5,772.2 L1027.5,772.1 L1028.5,772.0 L1029.5,771.9 L1030.5,771.8 L1031.5,771.6 L1032.5,771.5 L1033.5,771.4 L1034.5,771.3 L1035.5,771.2 L1036.5,771.1 L1037.5,770.9 L1038.5,770.8 L1039.5,770.7 L1040.5,770.6 L1041.5,770.5 L1042.5,770.4 L1043.5,770.2 L1044.5,770.1 L1045.5,770.0 L1046.5,769.9 L1047.5,769.8 L1048.5,769.7 L1049.5,769.5 L1050.5,769.4 L1051.5,769.3 L1052.5,769.2 L1053.5,769.1 L1054.5,769.0 L1055.5,768.8 L1056.5,768.7 L1057.5,768.6 L1058.5,768.5 L1059.5,768.4 L1060.5,768.3 L1061.5,768.1 L1062.5,768.0 L1063.5,767.9 L1064.5,767.8 L1065.5,767.7 L1066.5,767.6 L1067.5,767.4 L1068.5,767.3 L1069.5,767.2 L1070.5,767.1 L1071.5,767.0 L1072.5,766.9 L1073.5,766.7 L1074.5,766.6 L1075.5,766.5 L1076.5,766.4 L1077.5,766.3 L1078.5,766.2 L1079.5,766.0 L1080.5,765.9 L1081.5,765.8 L1082.5,765.7 L1083.5,765.6 L1084.5,765.5 L1085.5,765.3 L1086.5,765.2 L1087.5,765.1 L1088.5,765.0 L1089.5,764.9 L1090.5,764.8 L1091.5,764.6 L1092.5,764.5 L1093.5,764.4 L1094.5,764.3 L1095.5,764.2 L1096.5,764.1 L1097.5,763.9 L1098.5,763.8 L1099.5,763.7 L1100.5,763.6 L1101.5,763.5 L1102.5,763.4 L1103.5,763.2" stroke="#1a62e0" stroke-width="1.7" fill="none" transform="translate(0,0)"/>
<path d="M659.5,786.5 L660.5,785.8 L661.5,785.0 L662.5,784.2 L663.5,783.4 L664.5,782.5 L665.5,781.6 L666.5,780.7 L667.5,779.8 L668.5,778.8 L669.5,777.9 L670.5,776.8 L671.5,775.8 L672.5,774.7 L673.5,773.5 L674.5,772.4 L675.5,771.2 L676.5,769.9 L677.5,768.6 L678.5,767.3 L679.5,765.9 L680.5,764.5 L681.5,763.0 L682.5,761.5 L683.5,759.9 L684.5,758.2 L685.5,756.6 L686.5,754.8 L687.5,753.0 L688.5,751.1 L689.5,749.2 L690.5,747.2 L691.5,745.2 L692.5,743.0 L693.5,740.9 L694.5,738.6 L695.5,736.3 L696.5,733.9 L697.5,731.4 L698.5,728.8 L699.5,726.2 L700.5,723.5 L701.5,720.7 L702.5,717.9 L703.5,714.9 L704.5,711.9 L705.5,708.8 L706.5,705.6 L707.5,702.4 L708.5,699.0 L709.5,695.6 L710.5,692.1 L711.5,688.5 L712.5,684.9 L713.5,681.2 L714.5,677.4 L715.5,673.6 L716.5,669.7 L717.5,665.7 L718.5,661.7 L719.5,657.6 L720.5,653.5 L721.5,649.4 L722.5,645.2 L723.5,641.1 L724.5,636.9 L725.5,632.7 L726.5,628.6 L727.5,624.5 L728.5,620.4 L729.5,616.4 L730.5,612.5 L731.5,608.7 L732.5,604.9 L733.5,601.3 L734.5,597.9 L735.5,594.6 L736.5,591.5 L737.5,588.6 L738.5,586.0 L739.5,583.5 L740.5,581.4 L741.5,579.4 L742.5,577.8 L743.5,576.5 L744.5,575.4 L745.5,574.7 L746.5,574.3 L747.5,574.2 L748.5,574.4 L749.5,574.9 L750.5,575.8 L751.5,576.9 L752.5,578.3 L753.5,580.0 L754.5,582.0 L755.5,584.2 L756.5,586.7 L757.5,589.4 L758.5,592.2 L759.5,595.3 L760.5,598.5 L761.5,601.9 L762.5,605.4 L763.5,609.0 L764.5,612.7 L765.5,616.5 L766.5,620.3 L767.5,624.2 L768.5,628.1 L769.5,632.0 L770.5,636.0 L771.5,639.9 L772.5,643.8 L773.5,647.7 L774.5,651.6 L775.5,655.4 L776.5,659.2 L777.5,662.9 L778.5,666.6 L779.5,670.2 L780.5,673.7 L781.5,677.2 L782.5,680.6 L783.5,683.9 L784.5,687.2 L785.5,690.3 L786.5,693.4 L787.5,696.5 L788.5,699.4 L789.5,702.3 L790.5,705.0 L791.5,707.7 L792.5,710.3 L793.5,712.9 L794.5,715.4 L795.5,717.7 L796.5,720.1 L797.5,722.3 L798.5,724.4 L799.5,726.5 L800.5,728.6 L801.5,730.5 L802.5,732.4 L803.5,734.2 L804.5,736.0 L805.5,737.6 L806.5,739.3 L807.5,740.8 L808.5,742.3 L809.5,743.8 L810.5,745.2 L811.5,746.5 L812.5,747.8 L813.5,749.1 L814.5,750.3 L815.5,751.4 L816.5,752.5 L817.5,753.6 L818.5,754.6 L819.5,755.5 L820.5,756.5 L821.5,757.4 L822.5,758.2 L823.5,759.0 L824.5,759.8 L825.5,760.6 L826.5,761.3 L827.5,762.0 L828.5,762.7 L829.5,763.3 L830.5,763.9 L831.5,764.5 L832.5,765.1 L833.5,765.6 L834.5,766.1 L835.5,766.6 L836.5,767.1 L837.5,767.5 L838.5,768.0 L839.5,768.4 L840.5,768.8 L841.5,769.2 L842.5,769.6 L843.5,769.9 L844.5,770.2 L845.5,770.6 L846.5,770.9 L847.5,771.2 L848.5,771.5 L849.5,771.7 L850.5,772.0 L851.5,772.3 L852.5,772.5 L853.5,772.7 L854.5,773.0 L855.5,773.2 L856.5,773.4 L857.5,773.6 L858.5,773.8 L859.5,773.9 L860.5,774.1 L861.5,774.3 L862.5,774.4 L863.5,774.6 L864.5,774.7 L865.5,774.9 L866.5,775.0 L867.5,775.1 L868.5,775.3 L869.5,775.4 L870.5,775.5 L871.5,775.6 L872.5,775.7 L873.5,775.8 L874.5,775.9 L875.5,776.0 L876.5,776.0 L877.5,776.1 L878.5,776.2 L879.5,776.3 L880.5,776.3 L881.5,776.4 L882.5,776.4 L883.5,776.5 L884.5,776.6 L885.5,776.6 L886.5,776.6 L887.5,776.7 L888.5,776.7 L889.5,776.8 L890.5,776.8 L891.5,776.8 L892.5,776.9 L893.5,776.9 L894.5,776.9 L895.5,776.9 L896.5,776.9 L897.5,777.0 L898.5,777.0 L899.5,777.0 L900.5,777.0 L901.5,777.0 L902.5,777.0 L903.5,777.0 L904.5,777.0 L905.5,777.0 L906.5,777.0 L907.5,777.0 L908.5,777.0 L909.5,776.9 L910.5,776.9 L911.5,776.9 L912.5,776.9 L913.5,776.9 L914.5,776.9 L915.5,776.8 L916.5,776.8 L917.5,776.8 L918.5,776.8 L919.5,776.7 L920.5,776.7 L921.5,776.7 L922.5,776.7 L923.5,776.6 L924.5,776.6 L925.5,776.6 L926.5,776.5 L927.5,776.5 L928.5,776.4 L929.5,776.4 L930.5,776.4 L931.5,776.3 L932.5,776.3 L933.5,776.2 L934.5,776.2 L935.5,776.1 L936.5,776.1 L937.5,776.0 L938.5,776.0 L939.5,775.9 L940.5,775.9 L941.5,775.8 L942.5,775.8 L943.5,775.7 L944.5,775.7 L945.5,775.6 L946.5,775.5 L947.5,775.5 L948.5,775.4 L949.5,775.4 L950.5,775.3 L951.5,775.2 L952.5,775.2 L953.5,775.1 L954.5,775.0 L955.5,775.0 L956.5,774.9 L957.5,774.9 L958.5,774.8 L959.5,774.7 L960.5,774.6 L961.5,774.6 L962.5,774.5 L963.5,774.4 L964.5,774.4 L965.5,774.3 L966.5,774.2 L967.5,774.2 L968.5,774.1 L969.5,774.0 L970.5,773.9 L971.5,773.9 L972.5,773.8 L973.5,773.7 L974.5,773.6 L975.5,773.5 L976.5,773.5 L977.5,773.4 L978.5,773.3 L979.5,773.2 L980.5,773.2 L981.5,773.1 L982.5,773.0 L983.5,772.9 L984.5,772.8 L985.5,772.8 L986.5,772.7 L987.5,772.6 L988.5,772.5 L989.5,772.4 L990.5,772.3 L991.5,772.3 L992.5,772.2 L993.5,772.1 L994.5,772.0 L995.5,771.9 L996.5,771.8 L997.5,771.7 L998.5,771.7 L999.5,771.6 L1000.5,771.5 L1001.5,771.4 L1002.5,771.3 L1003.5,771.2 L1004.5,771.1 L1005.5,771.0 L1006.5,770.9 L1007.5,770.9 L1008.5,770.8 L1009.5,770.7 L1010.5,770.6 L1011.5,770.5 L1012.5,770.4 L1013.5,770.3 L1014.5,770.2 L1015.5,770.1 L1016.5,770.0 L1017.5,769.9 L1018.5,769.9 L1019.5,769.8 L1020.5,769.7 L1021.5,769.6 L1022.5,769.5 L1023.5,769.4 L1024.5,769.3 L1025.5,769.2 L1026.5,769.1 L1027.5,769.0 L1028.5,768.9 L1029.5,768.8 L1030.5,768.7 L1031.5,768.6 L1032.5,768.5 L1033.5,768.4 L1034.5,768.3 L1035.5,768.2 L1036.5,768.1 L1037.5,768.0 L1038.5,767.9 L1039.5,767.9 L1040.5,767.8 L1041.5,767.7 L1042.5,767.6 L1043.5,767.5 L1044.5,767.4 L1045.5,767.3 L1046.5,767.2 L1047.5,767.1 L1048.5,767.0 L1049.5,766.9 L1050.5,766.8 L1051.5,766.7 L1052.5,766.6 L1053.5,766.5 L1054.5,766.4 L1055.5,766.3 L1056.5,766.2 L1057.5,766.1 L1058.5,766.0 L1059.5,765.9 L1060.5,765.8 L1061.5,765.7 L1062.5,765.6 L1063.5,765.5 L1064.5,765.4 L1065.5,765.3 L1066.5,765.2 L1067.5,765.1 L1068.5,764.9 L1069.5,764.8 L1070.5,764.7 L1071.5,764.6 L1072.5,764.5 L1073.5,764.4 L1074.5,764.3 L1075.5,764.2 L1076.5,764.1 L1077.5,764.0 L1078.5,763.9 L1079.5,763.8 L1080.5,763.7 L1081.5,763.6 L1082.5,763.5 L1083.5,763.4 L1084.5,763.3 L1085.5,763.2 L1086.5,763.1 L1087.5,763.0 L1088.5,762.9 L1089.5,762.8 L1090.5,762.7 L1091.5,762.6 L1092.5,762.5 L1093.5,762.4 L1094.5,762.2 L1095.5,762.1 L1096.5,762.0 L1097.5,761.9 L1098.5,761.8 L1099.5,761.7 L1100.5,761.6 L1101.5,761.5 L1102.5,761.4 L1103.5,761.3" stroke="#c36fe6" stroke-width="1.7" fill="none"/>
<path d="M659.5,812.7 L660.5,812.5 L661.5,812.4 L662.5,812.3 L663.5,812.1 L664.5,812.0 L665.5,811.9 L666.5,811.7 L667.5,811.6 L668.5,811.5 L669.5,811.3 L670.5,811.2 L671.5,811.1 L672.5,810.9 L673.5,810.8 L674.5,810.7 L675.5,810.5 L676.5,810.4 L677.5,810.3 L678.5,810.1 L679.5,810.0 L680.5,809.8 L681.5,809.7 L682.5,809.6 L683.5,809.4 L684.5,809.3 L685.5,809.2 L686.5,809.0 L687.5,808.9 L688.5,808.8 L689.5,808.6 L690.5,808.5 L691.5,808.3 L692.5,808.2 L693.5,808.1 L694.5,807.9 L695.5,807.8 L696.5,807.6 L697.5,807.5 L698.5,807.4 L699.5,807.2 L700.5,807.1 L701.5,806.9 L702.5,806.8 L703.5,806.7 L704.5,806.5 L705.5,806.4 L706.5,806.2 L707.5,806.1 L708.5,806.0 L709.5,805.8 L710.5,805.7 L711.5,805.5 L712.5,805.4 L713.5,805.2 L714.5,805.1 L715.5,805.0 L716.5,804.8 L717.5,804.7 L718.5,804.5 L719.5,804.4 L720.5,804.2 L721.5,804.1 L722.5,803.9 L723.5,803.8 L724.5,803.6 L725.5,803.5 L726.5,803.3 L727.5,803.2 L728.5,803.0 L729.5,802.9 L730.5,802.8 L731.5,802.6 L732.5,802.4 L733.5,802.3 L734.5,802.1 L735.5,802.0 L736.5,801.8 L737.5,801.7 L738.5,801.5 L739.5,801.4 L740.5,801.2 L741.5,801.1 L742.5,800.9 L743.5,800.8 L744.5,800.6 L745.5,800.5 L746.5,800.3 L747.5,800.1 L748.5,800.0 L749.5,799.8 L750.5,799.7 L751.5,799.5 L752.5,799.3 L753.5,799.2 L754.5,799.0 L755.5,798.9 L756.5,798.7 L757.5,798.5 L758.5,798.4 L759.5,798.2 L760.5,798.0 L761.5,797.9 L762.5,797.7 L763.5,797.6 L764.5,797.4 L765.5,797.2 L766.5,797.0 L767.5,796.9 L768.5,796.7 L769.5,796.5 L770.5,796.4 L771.5,796.2 L772.5,796.0 L773.5,795.8 L774.5,795.7 L775.5,795.5 L776.5,795.3 L777.5,795.1 L778.5,795.0 L779.5,794.8 L780.5,794.6 L781.5,794.4 L782.5,794.2 L783.5,794.1 L784.5,793.9 L785.5,793.7 L786.5,793.5 L787.5,793.3 L788.5,793.1 L789.5,792.9 L790.5,792.7 L791.5,792.6 L792.5,792.4 L793.5,792.2 L794.5,792.0 L795.5,791.8 L796.5,791.6 L797.5,791.4 L798.5,791.2 L799.5,791.0 L800.5,790.8 L801.5,790.6 L802.5,790.4 L803.5,790.1 L804.5,789.9 L805.5,789.7 L806.5,789.5 L807.5,789.3 L808.5,789.1 L809.5,788.9 L810.5,788.6 L811.5,788.4 L812.5,788.2 L813.5,788.0 L814.5,787.8 L815.5,787.5 L816.5,787.3 L817.5,787.1 L818.5,786.8 L819.5,786.6 L820.5,786.3 L821.5,786.1 L822.5,785.9 L823.5,785.6 L824.5,785.4 L825.5,785.1 L826.5,784.9 L827.5,784.6 L828.5,784.3 L829.5,784.1 L830.5,783.8 L831.5,783.6 L832.5,783.3 L833.5,783.0 L834.5,782.7 L835.5,782.5 L836.5,782.2 L837.5,781.9 L838.5,781.6 L839.5,781.3 L840.5,781.0 L841.5,780.7 L842.5,780.4 L843.5,780.1 L844.5,779.8 L845.5,779.5 L846.5,779.1 L847.5,778.8 L848.5,778.5 L849.5,778.1 L850.5,777.8 L851.5,777.5 L852.5,777.1 L853.5,776.8 L854.5,776.4 L855.5,776.0 L856.5,775.6 L857.5,775.3 L858.5,774.9 L859.5,774.5 L860.5,774.1 L861.5,773.7 L862.5,773.3 L863.5,772.9 L864.5,772.4 L865.5,772.0 L866.5,771.6 L867.5,771.1 L868.5,770.7 L869.5,770.2 L870.5,769.7 L871.5,769.2 L872.5,768.7 L873.5,768.2 L874.5,767.7 L875.5,767.2 L876.5,766.6 L877.5,766.1 L878.5,765.5 L879.5,764.9 L880.5,764.4 L881.5,763.8 L882.5,763.1 L883.5,762.5 L884.5,761.9 L885.5,761.2 L886.5,760.5 L887.5,759.8 L888.5,759.1 L889.5,758.4 L890.5,757.6 L891.5,756.8 L892.5,756.1 L893.5,755.2 L894.5,754.4 L895.5,753.5 L896.5,752.6 L897.5,751.7 L898.5,750.8 L899.5,749.8 L900.5,748.8 L901.5,747.8 L902.5,746.8 L903.5,745.7 L904.5,744.6 L905.5,743.4 L906.5,742.2 L907.5,741.0 L908.5,739.7 L909.5,738.4 L910.5,737.1 L911.5,735.7 L912.5,734.2 L913.5,732.7 L914.5,731.2 L915.5,729.6 L916.5,728.0 L917.5,726.3 L918.5,724.6 L919.5,722.8 L920.5,720.9 L921.5,719.0 L922.5,717.0 L923.5,714.9 L924.5,712.8 L925.5,710.7 L926.5,708.4 L927.5,706.1 L928.5,703.7 L929.5,701.2 L930.5,698.7 L931.5,696.0 L932.5,693.3 L933.5,690.5 L934.5,687.7 L935.5,684.7 L936.5,681.7 L937.5,678.5 L938.5,675.3 L939.5,672.1 L940.5,668.7 L941.5,665.2 L942.5,661.7 L943.5,658.1 L944.5,654.4 L945.5,650.6 L946.5,646.8 L947.5,642.9 L948.5,639.0 L949.5,635.0 L950.5,631.0 L951.5,627.0 L952.5,622.9 L953.5,618.9 L954.5,614.8 L955.5,610.8 L956.5,606.8 L957.5,602.9 L958.5,599.0 L959.5,595.3 L960.5,591.7 L961.5,588.2 L962.5,584.9 L963.5,581.7 L964.5,578.8 L965.5,576.1 L966.5,573.6 L967.5,571.4 L968.5,569.5 L969.5,567.9 L970.5,566.6 L971.5,565.6 L972.5,565.0 L973.5,564.7 L974.5,564.7 L975.5,565.1 L976.5,565.8 L977.5,566.8 L978.5,568.2 L979.5,569.8 L980.5,571.8 L981.5,574.0 L982.5,576.4 L983.5,579.1 L984.5,582.0 L985.5,585.0 L986.5,588.3 L987.5,591.7 L988.5,595.2 L989.5,598.8 L990.5,602.4 L991.5,606.2 L992.5,610.0 L993.5,613.8 L994.5,617.6 L995.5,621.4 L996.5,625.3 L997.5,629.0 L998.5,632.8 L999.5,636.5 L1000.5,640.1 L1001.5,643.7 L1002.5,647.3 L1003.5,650.7 L1004.5,654.1 L1005.5,657.4 L1006.5,660.6 L1007.5,663.8 L1008.5,666.8 L1009.5,669.8 L1010.5,672.7 L1011.5,675.5 L1012.5,678.3 L1013.5,680.9 L1014.5,683.5 L1015.5,686.0 L1016.5,688.4 L1017.5,690.7 L1018.5,692.9 L1019.5,695.1 L1020.5,697.2 L1021.5,699.2 L1022.5,701.2 L1023.5,703.1 L1024.5,704.9 L1025.5,706.6 L1026.5,708.3 L1027.5,710.0 L1028.5,711.5 L1029.5,713.1 L1030.5,714.5 L1031.5,715.9 L1032.5,717.3 L1033.5,718.6 L1034.5,719.8 L1035.5,721.0 L1036.5,722.2 L1037.5,723.3 L1038.5,724.4 L1039.5,725.4 L1040.5,726.4 L1041.5,727.4 L1042.5,728.3 L1043.5,729.2 L1044.5,730.1 L1045.5,730.9 L1046.5,731.7 L1047.5,732.5 L1048.5,733.2 L1049.5,733.9 L1050.5,734.6 L1051.5,735.2 L1052.5,735.9 L1053.5,736.5 L1054.5,737.1 L1055.5,737.6 L1056.5,738.2 L1057.5,738.7 L1058.5,739.2 L1059.5,739.7 L1060.5,740.1 L1061.5,740.6 L1062.5,741.0 L1063.5,741.4 L1064.5,741.8 L1065.5,742.2 L1066.5,742.6 L1067.5,742.9 L1068.5,743.3 L1069.5,743.6 L1070.5,743.9 L1071.5,744.2 L1072.5,744.5 L1073.5,744.8 L1074.5,745.1 L1075.5,745.3 L1076.5,745.6 L1077.5,745.8 L1078.5,746.1 L1079.5,746.3 L1080.5,746.5 L1081.5,746.7 L1082.5,746.9 L1083.5,747.1 L1084.5,747.3 L1085.5,747.5 L1086.5,747.7 L1087.5,747.8 L1088.5,748.0 L1089.5,748.1 L1090.5,748.3 L1091.5,748.4 L1092.5,748.6 L1093.5,748.7 L1094.5,748.8 L1095.5,748.9 L1096.5,749.0 L1097.5,749.1 L1098.5,749.2 L1099.5,749.3 L1100.5,749.4 L1101.5,749.5 L1102.5,749.6 L1103.5,749.7" stroke="#16b06e" stroke-width="1.7" fill="none"/>
<path d="M659.5,754.9 L662.4,742.8 L670.1,749.4 L676.6,725.3 L681.0,791.1 L688.7,700.0 L692.0,774.7 L703.0,715.4 L707.4,763.7 L711.8,746.1 L717.2,582.6 L721.6,600.1 L726.0,577.1 L729.3,660.5 L735.9,552.9 L743.6,642.9 L748.0,639.6 L754.5,555.1 L758.9,551.8 L766.6,636.4 L770.5,579.2 L778.1,617.3 L780.3,671.4 L784.4,714.6 L788.5,708.4 L791.6,736.1 L799.8,738.2 L807.0,673.5 L814.2,716.6 L818.3,714.6 L825.5,761.8 L832.7,703.3 L836.8,732.0 L840.9,703.3 L846.0,744.4 L849.1,744.4 L859.4,699.2 L863.5,750.5 L866.6,712.5 L870.7,725.9 L874.8,707.4 L877.9,746.4 L882.2,690.1 L888.8,713.2 L894.3,737.3 L899.7,753.8 L907.4,678.1 L915.1,690.1 L921.7,660.5 L926.1,733.0 L933.8,694.5 L938.1,703.3 L942.5,656.1 L944.7,683.6 L952.4,550.7 L960.1,629.8 L967.8,524.4 L971.0,590.3 L978.7,622.1 L982.0,544.1 L986.4,538.7 L990.0,561.2 L993.2,571.9 L996.4,705.7 L1000.6,659.0 L1003.8,697.2 L1012.3,644.1 L1015.5,640.9 L1019.7,646.2 L1022.9,669.6 L1027.2,649.4 L1034.6,682.3 L1037.8,754.6 L1041.0,749.3 L1045.2,702.5 L1049.5,731.2 L1055.9,758.8 L1063.3,762.0 L1068.6,738.6 L1075.0,731.2 L1078.2,731.2 L1082.4,720.6 L1087.7,735.5 L1092.0,758.8 L1098.3,768.4 L1104.0,765.2" stroke="#474747" stroke-width="1.6" fill="none" stroke-linejoin="round"/>
<path d="M659.5,782.0 L660.5,781.1 L661.5,780.2 L662.5,779.3 L663.5,778.4 L664.5,777.5 L665.5,776.6 L666.5,775.6 L667.5,774.7 L668.5,773.7 L669.5,772.8 L670.5,771.8 L671.5,770.8 L672.5,769.8 L673.5,768.7 L674.5,767.6 L675.5,766.5 L676.5,765.4 L677.5,764.2 L678.5,763.0 L679.5,761.7 L680.5,760.4 L681.5,759.1 L682.5,757.7 L683.5,756.3 L684.5,754.8 L685.5,753.2 L686.5,751.6 L687.5,750.0 L688.5,748.3 L689.5,746.5 L690.5,744.7 L691.5,742.7 L692.5,740.8 L693.5,738.7 L694.5,736.6 L695.5,734.4 L696.5,732.1 L697.5,729.7 L698.5,727.3 L699.5,724.7 L700.5,722.1 L701.5,719.4 L702.5,716.6 L703.5,713.7 L704.5,710.7 L705.5,707.5 L706.5,704.3 L707.5,701.0 L708.5,697.6 L709.5,694.1 L710.5,690.4 L711.5,686.6 L712.5,682.8 L713.5,678.8 L714.5,674.7 L715.5,670.5 L716.5,666.2 L717.5,661.9 L718.5,657.6 L719.5,653.2 L720.5,648.9 L721.5,644.5 L722.5,640.3 L723.5,636.1 L724.5,632.0 L725.5,628.0 L726.5,624.1 L727.5,620.2 L728.5,616.5 L729.5,612.9 L730.5,609.5 L731.5,606.1 L732.5,602.8 L733.5,599.7 L734.5,596.7 L735.5,593.9 L736.5,591.1 L737.5,588.6 L738.5,586.1 L739.5,583.9 L740.5,581.8 L741.5,579.8 L742.5,578.1 L743.5,576.5 L744.5,575.2 L745.5,574.0 L746.5,573.1 L747.5,572.3 L748.5,571.8 L749.5,571.5 L750.5,571.5 L751.5,571.7 L752.5,572.2 L753.5,572.9 L754.5,573.9 L755.5,575.2 L756.5,576.8 L757.5,578.6 L758.5,580.8 L759.5,583.3 L760.5,586.0 L761.5,589.1 L762.5,592.4 L763.5,596.0 L764.5,599.9 L765.5,604.0 L766.5,608.3 L767.5,612.9 L768.5,617.7 L769.5,622.6 L770.5,627.4 L771.5,632.1 L772.5,636.6 L773.5,641.0 L774.5,645.3 L775.5,649.5 L776.5,653.6 L777.5,657.5 L778.5,661.3 L779.5,665.0 L780.5,668.6 L781.5,672.1 L782.5,675.5 L783.5,678.8 L784.5,681.9 L785.5,685.0 L786.5,688.0 L787.5,690.8 L788.5,693.6 L789.5,696.3 L790.5,698.8 L791.5,701.3 L792.5,703.7 L793.5,706.0 L794.5,708.3 L795.5,710.4 L796.5,712.5 L797.5,714.5 L798.5,716.4 L799.5,718.3 L800.5,720.0 L801.5,721.7 L802.5,723.4 L803.5,724.9 L804.5,726.4 L805.5,727.9 L806.5,729.3 L807.5,730.6 L808.5,731.9 L809.5,733.1 L810.5,734.3 L811.5,735.4 L812.5,736.5 L813.5,737.5 L814.5,738.5 L815.5,739.4 L816.5,740.3 L817.5,741.2 L818.5,742.0 L819.5,742.9 L820.5,743.6 L821.5,744.4 L822.5,745.1 L823.5,745.8 L824.5,746.4 L825.5,747.1 L826.5,747.7 L827.5,748.3 L828.5,748.9 L829.5,749.4 L830.5,749.9 L831.5,750.4 L832.5,750.9 L833.5,751.3 L834.5,751.7 L835.5,752.1 L836.5,752.5 L837.5,752.9 L838.5,753.2 L839.5,753.5 L840.5,753.8 L841.5,754.1 L842.5,754.3 L843.5,754.5 L844.5,754.7 L845.5,754.9 L846.5,755.1 L847.5,755.2 L848.5,755.3 L849.5,755.4 L850.5,755.5 L851.5,755.6 L852.5,755.6 L853.5,755.6 L854.5,755.7 L855.5,755.6 L856.5,755.6 L857.5,755.6 L858.5,755.5 L859.5,755.4 L860.5,755.3 L861.5,755.2 L862.5,755.1 L863.5,755.0 L864.5,754.8 L865.5,754.6 L866.5,754.4 L867.5,754.2 L868.5,754.0 L869.5,753.8 L870.5,753.6 L871.5,753.3 L872.5,753.0 L873.5,752.7 L874.5,752.4 L875.5,752.1 L876.5,751.8 L877.5,751.5 L878.5,751.1 L879.5,750.8 L880.5,750.4 L881.5,750.0 L882.5,749.6 L883.5,749.2 L884.5,748.8 L885.5,748.4 L886.5,747.9 L887.5,747.4 L888.5,746.9 L889.5,746.4 L890.5,745.8 L891.5,745.3 L892.5,744.7 L893.5,744.0 L894.5,743.4 L895.5,742.7 L896.5,742.0 L897.5,741.2 L898.5,740.4 L899.5,739.6 L900.5,738.7 L901.5,737.8 L902.5,736.9 L903.5,735.9 L904.5,734.9 L905.5,733.8 L906.5,732.7 L907.5,731.5 L908.5,730.3 L909.5,729.1 L910.5,727.8 L911.5,726.4 L912.5,725.0 L913.5,723.5 L914.5,722.0 L915.5,720.4 L916.5,718.8 L917.5,717.0 L918.5,715.3 L919.5,713.4 L920.5,711.6 L921.5,709.6 L922.5,707.6 L923.5,705.5 L924.5,703.3 L925.5,701.1 L926.5,698.7 L927.5,696.4 L928.5,693.9 L929.5,691.4 L930.5,688.7 L931.5,686.1 L932.5,683.3 L933.5,680.4 L934.5,677.5 L935.5,674.5 L936.5,671.3 L937.5,668.1 L938.5,664.9 L939.5,661.5 L940.5,658.0 L941.5,654.5 L942.5,650.8 L943.5,647.1 L944.5,643.3 L945.5,639.4 L946.5,635.5 L947.5,631.6 L948.5,627.7 L949.5,623.8 L950.5,619.9 L951.5,616.0 L952.5,612.1 L953.5,608.4 L954.5,604.6 L955.5,601.0 L956.5,597.5 L957.5,594.0 L958.5,590.7 L959.5,587.5 L960.5,584.5 L961.5,581.6 L962.5,579.0 L963.5,576.5 L964.5,574.1 L965.5,572.0 L966.5,570.1 L967.5,568.5 L968.5,567.0 L969.5,565.7 L970.5,564.7 L971.5,563.9 L972.5,563.3 L973.5,563.0 L974.5,562.9 L975.5,563.0 L976.5,563.4 L977.5,564.0 L978.5,564.9 L979.5,566.0 L980.5,567.4 L981.5,569.0 L982.5,570.9 L983.5,573.1 L984.5,575.5 L985.5,578.2 L986.5,581.1 L987.5,584.2 L988.5,587.5 L989.5,590.9 L990.5,594.5 L991.5,598.2 L992.5,602.0 L993.5,605.9 L994.5,609.9 L995.5,613.9 L996.5,618.0 L997.5,622.0 L998.5,626.0 L999.5,630.0 L1000.5,634.0 L1001.5,637.8 L1002.5,641.6 L1003.5,645.4 L1004.5,649.0 L1005.5,652.6 L1006.5,656.1 L1007.5,659.5 L1008.5,662.9 L1009.5,666.2 L1010.5,669.4 L1011.5,672.5 L1012.5,675.5 L1013.5,678.5 L1014.5,681.4 L1015.5,684.2 L1016.5,686.9 L1017.5,689.5 L1018.5,692.0 L1019.5,694.4 L1020.5,696.8 L1021.5,699.0 L1022.5,701.2 L1023.5,703.3 L1024.5,705.2 L1025.5,707.1 L1026.5,708.9 L1027.5,710.7 L1028.5,712.3 L1029.5,713.9 L1030.5,715.4 L1031.5,716.8 L1032.5,718.2 L1033.5,719.5 L1034.5,720.7 L1035.5,721.9 L1036.5,723.0 L1037.5,724.1 L1038.5,725.1 L1039.5,726.0 L1040.5,726.9 L1041.5,727.8 L1042.5,728.6 L1043.5,729.4 L1044.5,730.1 L1045.5,730.8 L1046.5,731.5 L1047.5,732.2 L1048.5,732.8 L1049.5,733.4 L1050.5,733.9 L1051.5,734.5 L1052.5,735.0 L1053.5,735.5 L1054.5,736.1 L1055.5,736.5 L1056.5,737.0 L1057.5,737.5 L1058.5,738.0 L1059.5,738.4 L1060.5,738.9 L1061.5,739.3 L1062.5,739.7 L1063.5,740.1 L1064.5,740.5 L1065.5,740.9 L1066.5,741.3 L1067.5,741.6 L1068.5,742.0 L1069.5,742.3 L1070.5,742.6 L1071.5,743.0 L1072.5,743.3 L1073.5,743.6 L1074.5,743.8 L1075.5,744.1 L1076.5,744.4 L1077.5,744.6 L1078.5,744.9 L1079.5,745.1 L1080.5,745.3 L1081.5,745.5 L1082.5,745.7 L1083.5,745.9 L1084.5,746.1 L1085.5,746.2 L1086.5,746.4 L1087.5,746.5 L1088.5,746.6 L1089.5,746.7 L1090.5,746.8 L1091.5,746.9 L1092.5,747.0 L1093.5,747.1 L1094.5,747.1 L1095.5,747.2 L1096.5,747.2 L1097.5,747.2 L1098.5,747.3 L1099.5,747.3 L1100.5,747.3 L1101.5,747.2 L1102.5,747.2 L1103.5,747.2" stroke="#ff3a3a" stroke-width="1.7" fill="none"/>
<text x="673.3" y="526.4" font-family='"Liberation Serif", serif' font-size="30" fill="#000">P-2 Ag</text>
<text x="760.3" y="536.7" font-family='"Liberation Serif", serif' font-size="18.5" fill="#000">3d</text>
<text x="1095.0" y="536.4" font-family='"Liberation Sans", sans-serif' font-size="40.5" font-weight="bold" fill="#000" text-anchor="end">(f)</text>
<text x="737.9" y="834.5" font-family='"Liberation Serif", serif' font-size="24" fill="#111">Ag</text>
<text x="766.4" y="842.4" font-family='"Liberation Serif", serif' font-size="14.3" fill="#111">3d3/2</text>
<text x="981.2" y="822.5" font-family='"Liberation Serif", serif' font-size="24" fill="#111">Ag</text>
<text x="1009.4" y="829.7" font-family='"Liberation Serif", serif' font-size="14.3" fill="#111">3d5/2</text>
<path d="M788.4,826.0L771.7,740.8" stroke="#222" stroke-width="1.0" stroke-dasharray="4,2.5" fill="none"/>
<path d="M770.0,732.0L774.9,740.2L771.3,738.9L768.6,741.4Z" fill="#222"/>
<path d="M1014.6,799.0L978.0,718.1" stroke="#222" stroke-width="1.0" fill="none"/>
<path d="M974.3,709.9L980.9,716.8L977.2,716.3L975.1,719.4Z" fill="#222"/>
<text x="761.5" y="915.1" font-family='"Liberation Serif", serif' font-size="30" fill="#000">Binding energy (eV)</text>
<text transform="translate(636.3,723.4) rotate(-90)" font-family='"Liberation Serif", serif' font-size="30" fill="#000" x="-1">Intensity</text>
<rect x="56.8" y="974.4" width="489.0" height="362.7" fill="none" stroke="#2b2b2b" stroke-width="1.5"/>
<path d="M141.1,1337.1V1330.3 M253.5,1337.1V1330.3 M365.9,1337.1V1330.3 M478.4,1337.1V1330.3 M84.9,1337.1V1333.6 M197.3,1337.1V1333.6 M309.7,1337.1V1333.6 M422.1,1337.1V1333.6 M534.6,1337.1V1333.6 M56.8,1029.6H63.6 M56.8,1141.3H63.6 M56.8,1253.3H63.6 M56.8,1085.5H60.6 M56.8,1197.4H60.6 M56.8,1309.4H60.6" stroke="#333" stroke-width="1.2" fill="none"/>
<text x="141.1" y="1363.6" text-anchor="middle" font-family='"Liberation Serif", serif' font-size="23.5" fill="#000">536</text>
<text x="253.5" y="1363.6" text-anchor="middle" font-family='"Liberation Serif", serif' font-size="23.5" fill="#000">534</text>
<text x="365.9" y="1363.6" text-anchor="middle" font-family='"Liberation Serif", serif' font-size="23.5" fill="#000">532</text>
<text x="478.4" y="1363.6" text-anchor="middle" font-family='"Liberation Serif", serif' font-size="23.5" fill="#000">530</text>
<path d="M57.5,1283.4 L58.5,1283.4 L59.5,1283.4 L60.5,1283.4 L61.5,1283.4 L62.5,1283.4 L63.5,1283.4 L64.5,1283.4 L65.5,1283.4 L66.5,1283.4 L67.5,1283.4 L68.5,1283.4 L69.5,1283.4 L70.5,1283.4 L71.5,1283.4 L72.5,1283.4 L73.5,1283.4 L74.5,1283.4 L75.5,1283.4 L76.5,1283.4 L77.5,1283.4 L78.5,1283.5 L79.5,1283.5 L80.5,1283.5 L81.5,1283.5 L82.5,1283.5 L83.5,1283.5 L84.5,1283.5 L85.5,1283.5 L86.5,1283.5 L87.5,1283.5 L88.5,1283.5 L89.5,1283.5 L90.5,1283.5 L91.5,1283.5 L92.5,1283.5 L93.5,1283.5 L94.5,1283.5 L95.5,1283.6 L96.5,1283.6 L97.5,1283.6 L98.5,1283.6 L99.5,1283.6 L100.5,1283.6 L101.5,1283.6 L102.5,1283.6 L103.5,1283.6 L104.5,1283.6 L105.5,1283.6 L106.5,1283.7 L107.5,1283.7 L108.5,1283.7 L109.5,1283.7 L110.5,1283.7 L111.5,1283.7 L112.5,1283.7 L113.5,1283.7 L114.5,1283.7 L115.5,1283.8 L116.5,1283.8 L117.5,1283.8 L118.5,1283.8 L119.5,1283.8 L120.5,1283.8 L121.5,1283.8 L122.5,1283.8 L123.5,1283.9 L124.5,1283.9 L125.5,1283.9 L126.5,1283.9 L127.5,1283.9 L128.6,1283.9 L129.6,1283.9 L130.6,1283.9 L131.6,1284.0 L132.6,1284.0 L133.6,1284.0 L134.6,1284.0 L135.6,1284.0 L136.6,1284.0 L137.6,1284.1 L138.6,1284.1 L139.6,1284.1 L140.6,1284.1 L141.6,1284.1 L142.6,1284.1 L143.6,1284.2 L144.6,1284.2 L145.6,1284.2 L146.6,1284.2 L147.6,1284.2 L148.6,1284.2 L149.6,1284.3 L150.6,1284.3 L151.6,1284.3 L152.6,1284.3 L153.6,1284.3 L154.6,1284.4 L155.6,1284.4 L156.6,1284.4 L157.6,1284.4 L158.6,1284.4 L159.6,1284.5 L160.6,1284.5 L161.6,1284.5 L162.6,1284.5 L163.6,1284.5 L164.6,1284.6 L165.6,1284.6 L166.6,1284.6 L167.6,1284.6 L168.6,1284.6 L169.6,1284.7 L170.6,1284.7 L171.6,1284.7 L172.6,1284.7 L173.6,1284.7 L174.6,1284.8 L175.6,1284.8 L176.6,1284.8 L177.6,1284.8 L178.6,1284.9 L179.6,1284.9 L180.6,1284.9 L181.6,1284.9 L182.6,1285.0 L183.6,1285.0 L184.6,1285.1 L185.6,1285.1 L186.6,1285.2 L187.6,1285.2 L188.6,1285.3 L189.6,1285.4 L190.6,1285.4 L191.6,1285.5 L192.6,1285.6 L193.6,1285.6 L194.6,1285.7 L195.6,1285.8 L196.6,1285.8 L197.6,1285.9 L198.6,1286.0 L199.6,1286.0 L200.6,1286.1 L201.6,1286.1 L202.6,1286.2 L203.6,1286.3 L204.6,1286.3 L205.6,1286.4 L206.6,1286.5 L207.6,1286.5 L208.6,1286.6 L209.6,1286.7 L210.6,1286.7 L211.6,1286.8 L212.6,1286.9 L213.6,1286.9 L214.6,1287.0 L215.6,1287.0 L216.6,1287.1 L217.6,1287.2 L218.6,1287.3 L219.6,1287.3 L220.6,1287.4 L221.6,1287.5 L222.6,1287.5 L223.6,1287.6 L224.6,1287.7 L225.6,1287.7 L226.6,1287.8 L227.6,1287.9 L228.6,1287.9 L229.6,1288.0 L230.6,1288.1 L231.6,1288.1 L232.6,1288.2 L233.6,1288.3 L234.6,1288.4 L235.6,1288.4 L236.6,1288.5 L237.6,1288.6 L238.6,1288.7 L239.6,1288.7 L240.6,1288.8 L241.6,1288.9 L242.6,1288.9 L243.6,1289.0 L244.6,1289.1 L245.6,1289.2 L246.6,1289.2 L247.6,1289.3 L248.6,1289.4 L249.6,1289.5 L250.6,1289.6 L251.6,1289.6 L252.6,1289.7 L253.6,1289.8 L254.6,1289.9 L255.6,1289.9 L256.6,1290.0 L257.6,1290.1 L258.6,1290.2 L259.6,1290.3 L260.6,1290.3 L261.6,1290.4 L262.6,1290.5 L263.6,1290.6 L264.6,1290.7 L265.6,1290.7 L266.6,1290.8 L267.6,1290.9 L268.6,1291.0 L269.6,1291.1 L270.6,1291.1 L271.6,1291.2 L272.6,1291.3 L273.6,1291.4 L274.6,1291.5 L275.6,1291.6 L276.6,1291.7 L277.6,1291.7 L278.6,1291.8 L279.6,1291.9 L280.6,1292.0 L281.6,1292.1 L282.6,1292.2 L283.6,1292.3 L284.6,1292.4 L285.6,1292.5 L286.6,1292.6 L287.6,1292.6 L288.6,1292.7 L289.6,1292.8 L290.6,1292.9 L291.6,1293.0 L292.6,1293.1 L293.6,1293.2 L294.6,1293.3 L295.6,1293.4 L296.6,1293.5 L297.6,1293.6 L298.6,1293.7 L299.6,1293.8 L300.6,1293.9 L301.6,1294.0 L302.6,1294.1 L303.6,1294.2 L304.6,1294.3 L305.6,1294.4 L306.6,1294.5 L307.6,1294.6 L308.6,1294.7 L309.6,1294.8 L310.6,1294.9 L311.6,1295.0 L312.6,1295.1 L313.6,1295.2 L314.6,1295.3 L315.6,1295.4 L316.6,1295.5 L317.6,1295.6 L318.6,1295.7 L319.6,1295.9 L320.6,1296.0 L321.6,1296.1 L322.6,1296.2 L323.6,1296.3 L324.6,1296.4 L325.6,1296.5 L326.6,1296.6 L327.6,1296.8 L328.6,1296.9 L329.6,1297.0 L330.6,1297.1 L331.6,1297.2 L332.6,1297.4 L333.6,1297.5 L334.6,1297.6 L335.6,1297.7 L336.6,1297.9 L337.6,1298.0 L338.6,1298.1 L339.6,1298.2 L340.6,1298.4 L341.6,1298.5 L342.6,1298.6 L343.6,1298.7 L344.6,1298.9 L345.6,1299.0 L346.6,1299.1 L347.6,1299.2 L348.6,1299.3 L349.6,1299.4 L350.6,1299.5 L351.6,1299.6 L352.6,1299.8 L353.6,1299.9 L354.6,1300.0 L355.6,1300.1 L356.6,1300.2 L357.6,1300.2 L358.6,1300.3 L359.6,1300.4 L360.6,1300.5 L361.6,1300.6 L362.6,1300.7 L363.6,1300.8 L364.6,1300.9 L365.6,1301.0 L366.6,1301.1 L367.6,1301.2 L368.6,1301.3 L369.6,1301.4 L370.6,1301.5 L371.6,1301.5 L372.6,1301.6 L373.6,1301.7 L374.6,1301.8 L375.6,1301.9 L376.6,1302.0 L377.6,1302.1 L378.6,1302.1 L379.6,1302.2 L380.6,1302.3 L381.6,1302.4 L382.6,1302.5 L383.6,1302.5 L384.6,1302.6 L385.6,1302.7 L386.6,1302.8 L387.6,1302.9 L388.6,1302.9 L389.6,1303.0 L390.6,1303.1 L391.6,1303.1 L392.6,1303.2 L393.6,1303.3 L394.6,1303.4 L395.6,1303.4 L396.6,1303.5 L397.6,1303.5 L398.6,1303.6 L399.6,1303.7 L400.6,1303.7 L401.6,1303.8 L402.6,1303.9 L403.6,1303.9 L404.6,1304.0 L405.6,1304.0 L406.6,1304.1 L407.6,1304.2 L408.6,1304.2 L409.6,1304.3 L410.6,1304.3 L411.6,1304.4 L412.6,1304.5 L413.6,1304.5 L414.6,1304.6 L415.6,1304.6 L416.6,1304.7 L417.6,1304.8 L418.6,1304.8 L419.6,1304.9 L420.6,1304.9 L421.6,1305.0 L422.6,1305.1 L423.6,1305.1 L424.6,1305.2 L425.6,1305.2 L426.6,1305.3 L427.6,1305.3 L428.6,1305.4 L429.6,1305.5 L430.6,1305.5 L431.6,1305.6 L432.6,1305.6 L433.6,1305.7 L434.6,1305.7 L435.6,1305.8 L436.6,1305.9 L437.6,1305.9 L438.6,1306.0 L439.6,1306.0 L440.6,1306.1 L441.6,1306.1 L442.6,1306.2 L443.6,1306.3 L444.6,1306.3 L445.6,1306.4 L446.6,1306.4 L447.6,1306.5 L448.6,1306.5 L449.6,1306.6 L450.6,1306.6 L451.6,1306.7 L452.6,1306.7 L453.6,1306.8 L454.6,1306.8 L455.6,1306.9 L456.6,1307.0 L457.6,1307.0 L458.6,1307.1 L459.6,1307.1 L460.6,1307.2 L461.6,1307.2 L462.6,1307.3 L463.6,1307.3 L464.6,1307.4 L465.6,1307.4 L466.6,1307.5 L467.6,1307.5 L468.6,1307.6 L469.6,1307.6 L470.6,1307.7 L471.6,1307.7 L472.6,1307.8 L473.6,1307.8 L474.6,1307.8 L475.6,1307.9 L476.6,1307.9 L477.6,1308.0 L478.6,1308.0 L479.6,1308.1 L480.6,1308.1 L481.6,1308.2 L482.6,1308.2 L483.6,1308.3 L484.6,1308.3 L485.6,1308.3 L486.6,1308.4 L487.6,1308.4 L488.6,1308.5 L489.6,1308.5 L490.6,1308.6 L491.6,1308.6 L492.6,1308.6 L493.6,1308.7 L494.6,1308.7 L495.6,1308.8 L496.6,1308.8 L497.6,1308.8 L498.6,1308.9 L499.6,1308.9 L500.6,1309.0 L501.6,1309.0 L502.6,1309.0 L503.6,1309.1 L504.6,1309.1 L505.6,1309.1 L506.6,1309.2 L507.6,1309.2 L508.6,1309.2 L509.6,1309.3 L510.6,1309.3 L511.6,1309.3 L512.5,1309.4 L513.5,1309.4 L514.5,1309.4 L515.5,1309.5 L516.5,1309.5 L517.5,1309.5 L518.5,1309.6 L519.5,1309.6 L520.5,1309.6 L521.5,1309.7 L522.5,1309.7 L523.5,1309.7 L524.5,1309.7 L525.5,1309.8 L526.5,1309.8 L527.5,1309.8 L528.5,1309.8 L529.5,1309.9 L530.5,1309.9 L531.5,1309.9 L532.5,1309.9 L533.5,1310.0 L534.5,1310.0 L535.5,1310.0 L536.5,1310.0 L537.5,1310.0 L538.5,1310.1 L539.5,1310.1 L540.5,1310.1 L541.5,1310.1 L542.5,1310.1 L543.5,1310.2 L544.5,1310.2" stroke="#1f2cff" stroke-width="1.7" fill="none" transform="translate(0,0)"/>
<path d="M57.5,1279.1 L58.5,1279.1 L59.5,1279.0 L60.5,1279.0 L61.5,1279.0 L62.5,1278.9 L63.5,1278.9 L64.5,1278.8 L65.5,1278.8 L66.5,1278.7 L67.5,1278.6 L68.5,1278.6 L69.5,1278.5 L70.5,1278.5 L71.5,1278.4 L72.5,1278.4 L73.5,1278.3 L74.5,1278.3 L75.5,1278.2 L76.5,1278.1 L77.5,1278.1 L78.5,1278.0 L79.5,1277.9 L80.5,1277.9 L81.5,1277.8 L82.5,1277.7 L83.5,1277.7 L84.5,1277.6 L85.5,1277.5 L86.5,1277.5 L87.5,1277.4 L88.5,1277.3 L89.5,1277.2 L90.5,1277.2 L91.5,1277.1 L92.5,1277.0 L93.5,1276.9 L94.5,1276.8 L95.5,1276.7 L96.5,1276.7 L97.5,1276.6 L98.5,1276.5 L99.5,1276.4 L100.5,1276.3 L101.5,1276.2 L102.5,1276.1 L103.5,1276.0 L104.5,1275.9 L105.5,1275.8 L106.5,1275.7 L107.5,1275.5 L108.5,1275.4 L109.5,1275.3 L110.5,1275.2 L111.5,1275.1 L112.5,1274.9 L113.5,1274.8 L114.5,1274.7 L115.5,1274.5 L116.5,1274.4 L117.5,1274.2 L118.5,1274.1 L119.5,1273.9 L120.5,1273.8 L121.5,1273.6 L122.5,1273.4 L123.5,1273.2 L124.5,1273.1 L125.5,1272.9 L126.5,1272.7 L127.5,1272.5 L128.6,1272.3 L129.6,1272.1 L130.6,1271.9 L131.6,1271.6 L132.6,1271.4 L133.6,1271.2 L134.6,1270.9 L135.6,1270.7 L136.6,1270.4 L137.6,1270.1 L138.6,1269.9 L139.6,1269.6 L140.6,1269.3 L141.6,1269.0 L142.6,1268.7 L143.6,1268.3 L144.6,1268.0 L145.6,1267.7 L146.6,1267.3 L147.6,1266.9 L148.6,1266.5 L149.6,1266.2 L150.6,1265.8 L151.6,1265.3 L152.6,1264.9 L153.6,1264.5 L154.6,1264.0 L155.6,1263.5 L156.6,1263.0 L157.6,1262.5 L158.6,1262.0 L159.6,1261.5 L160.6,1260.9 L161.6,1260.4 L162.6,1259.8 L163.6,1259.2 L164.6,1258.6 L165.6,1257.9 L166.6,1257.3 L167.6,1256.6 L168.6,1255.9 L169.6,1255.2 L170.6,1254.5 L171.6,1253.7 L172.6,1252.9 L173.6,1252.1 L174.6,1251.3 L175.6,1250.5 L176.6,1249.6 L177.6,1248.8 L178.6,1247.9 L179.6,1247.0 L180.6,1246.0 L181.6,1245.1 L182.6,1244.1 L183.6,1243.1 L184.6,1242.1 L185.6,1241.1 L186.6,1240.1 L187.6,1239.0 L188.6,1238.0 L189.6,1236.9 L190.6,1235.8 L191.6,1234.7 L192.6,1233.6 L193.6,1232.4 L194.6,1231.2 L195.6,1230.1 L196.6,1228.9 L197.6,1227.7 L198.6,1226.5 L199.6,1225.3 L200.6,1224.1 L201.6,1222.9 L202.6,1221.7 L203.6,1220.5 L204.6,1219.3 L205.6,1218.1 L206.6,1216.9 L207.6,1215.8 L208.6,1214.7 L209.6,1213.6 L210.6,1212.5 L211.6,1211.5 L212.6,1210.5 L213.6,1209.5 L214.6,1208.6 L215.6,1207.8 L216.6,1207.0 L217.6,1206.3 L218.6,1205.6 L219.6,1205.0 L220.6,1204.5 L221.6,1204.0 L222.6,1203.7 L223.6,1203.4 L224.6,1203.1 L225.6,1203.0 L226.6,1203.0 L227.6,1203.0 L228.6,1203.1 L229.6,1203.3 L230.6,1203.6 L231.6,1204.0 L232.6,1204.5 L233.6,1205.0 L234.6,1205.6 L235.6,1206.3 L236.6,1207.1 L237.6,1207.9 L238.6,1208.8 L239.6,1209.7 L240.6,1210.7 L241.6,1211.8 L242.6,1212.9 L243.6,1214.0 L244.6,1215.2 L245.6,1216.4 L246.6,1217.7 L247.6,1219.0 L248.6,1220.2 L249.6,1221.6 L250.6,1222.9 L251.6,1224.2 L252.6,1225.5 L253.6,1226.9 L254.6,1228.2 L255.6,1229.6 L256.6,1230.9 L257.6,1232.3 L258.6,1233.6 L259.6,1234.9 L260.6,1236.2 L261.6,1237.5 L262.6,1238.8 L263.6,1240.1 L264.6,1241.4 L265.6,1242.6 L266.6,1243.8 L267.6,1245.0 L268.6,1246.2 L269.6,1247.4 L270.6,1248.5 L271.6,1249.6 L272.6,1250.7 L273.6,1251.8 L274.6,1252.9 L275.6,1253.9 L276.6,1254.9 L277.6,1255.9 L278.6,1256.9 L279.6,1257.9 L280.6,1258.8 L281.6,1259.7 L282.6,1260.6 L283.6,1261.5 L284.6,1262.4 L285.6,1263.2 L286.6,1264.0 L287.6,1264.8 L288.6,1265.6 L289.6,1266.4 L290.6,1267.1 L291.6,1267.9 L292.6,1268.6 L293.6,1269.3 L294.6,1269.9 L295.6,1270.6 L296.6,1271.3 L297.6,1271.9 L298.6,1272.5 L299.6,1273.1 L300.6,1273.7 L301.6,1274.3 L302.6,1274.8 L303.6,1275.4 L304.6,1275.9 L305.6,1276.4 L306.6,1276.9 L307.6,1277.4 L308.6,1277.9 L309.6,1278.4 L310.6,1278.8 L311.6,1279.3 L312.6,1279.7 L313.6,1280.2 L314.6,1280.6 L315.6,1281.0 L316.6,1281.4 L317.6,1281.8 L318.6,1282.2 L319.6,1282.6 L320.6,1282.9 L321.6,1283.3 L322.6,1283.7 L323.6,1284.0 L324.6,1284.4 L325.6,1284.7 L326.6,1285.1 L327.6,1285.4 L328.6,1285.7 L329.6,1286.1 L330.6,1286.4 L331.6,1286.7 L332.6,1287.0 L333.6,1287.3 L334.6,1287.6 L335.6,1287.9 L336.6,1288.2 L337.6,1288.5 L338.6,1288.8 L339.6,1289.1 L340.6,1289.3 L341.6,1289.6 L342.6,1289.9 L343.6,1290.1 L344.6,1290.4 L345.6,1290.6 L346.6,1290.9 L347.6,1291.1 L348.6,1291.4 L349.6,1291.6 L350.6,1291.8 L351.6,1292.0 L352.6,1292.3 L353.6,1292.5 L354.6,1292.7 L355.6,1292.9 L356.6,1293.1 L357.6,1293.3 L358.6,1293.5 L359.6,1293.7 L360.6,1293.8 L361.6,1294.0 L362.6,1294.2 L363.6,1294.4 L364.6,1294.6 L365.6,1294.8 L366.6,1294.9 L367.6,1295.1 L368.6,1295.3 L369.6,1295.4 L370.6,1295.6 L371.6,1295.8 L372.6,1295.9 L373.6,1296.1 L374.6,1296.2 L375.6,1296.4 L376.6,1296.6 L377.6,1296.7 L378.6,1296.9 L379.6,1297.0 L380.6,1297.1 L381.6,1297.3 L382.6,1297.4 L383.6,1297.6 L384.6,1297.7 L385.6,1297.8 L386.6,1298.0 L387.6,1298.1 L388.6,1298.2 L389.6,1298.4 L390.6,1298.5 L391.6,1298.6 L392.6,1298.7 L393.6,1298.8 L394.6,1299.0 L395.6,1299.1 L396.6,1299.2 L397.6,1299.3 L398.6,1299.4 L399.6,1299.5 L400.6,1299.6 L401.6,1299.7 L402.6,1299.8 L403.6,1299.9 L404.6,1300.0 L405.6,1300.1 L406.6,1300.2 L407.6,1300.3 L408.6,1300.4 L409.6,1300.5 L410.6,1300.6 L411.6,1300.7 L412.6,1300.8 L413.6,1300.9 L414.6,1301.0 L415.6,1301.1 L416.6,1301.2 L417.6,1301.3 L418.6,1301.4 L419.6,1301.5 L420.6,1301.6 L421.6,1301.7 L422.6,1301.8 L423.6,1301.9 L424.6,1302.0 L425.6,1302.1 L426.6,1302.1 L427.6,1302.2 L428.6,1302.3 L429.6,1302.4 L430.6,1302.5 L431.6,1302.6 L432.6,1302.7 L433.6,1302.7 L434.6,1302.8 L435.6,1302.9 L436.6,1303.0 L437.6,1303.1 L438.6,1303.2 L439.6,1303.2 L440.6,1303.3 L441.6,1303.4 L442.6,1303.5 L443.6,1303.6 L444.6,1303.6 L445.6,1303.7 L446.6,1303.8 L447.6,1303.9 L448.6,1304.0 L449.6,1304.0 L450.6,1304.1 L451.6,1304.2 L452.6,1304.3 L453.6,1304.3 L454.6,1304.4 L455.6,1304.5 L456.6,1304.5 L457.6,1304.6 L458.6,1304.7 L459.6,1304.8 L460.6,1304.8 L461.6,1304.9 L462.6,1305.0 L463.6,1305.0 L464.6,1305.1 L465.6,1305.2 L466.6,1305.2 L467.6,1305.3 L468.6,1305.4 L469.6,1305.4 L470.6,1305.5 L471.6,1305.6 L472.6,1305.6 L473.6,1305.7 L474.6,1305.8 L475.6,1305.8 L476.6,1305.9 L477.6,1306.0 L478.6,1306.0 L479.6,1306.1 L480.6,1306.1 L481.6,1306.2 L482.6,1306.3 L483.6,1306.3 L484.6,1306.4 L485.6,1306.4 L486.6,1306.5 L487.6,1306.6 L488.6,1306.6 L489.6,1306.7 L490.6,1306.7 L491.6,1306.8 L492.6,1306.8 L493.6,1306.9 L494.6,1306.9 L495.6,1307.0 L496.6,1307.0 L497.6,1307.1 L498.6,1307.1 L499.6,1307.2 L500.6,1307.2 L501.6,1307.3 L502.6,1307.3 L503.6,1307.4 L504.6,1307.4 L505.6,1307.5 L506.6,1307.5 L507.6,1307.6 L508.6,1307.6 L509.6,1307.7 L510.6,1307.7 L511.6,1307.8 L512.5,1307.8 L513.5,1307.9 L514.5,1307.9 L515.5,1307.9 L516.5,1308.0 L517.5,1308.0 L518.5,1308.1 L519.5,1308.1 L520.5,1308.1 L521.5,1308.2 L522.5,1308.2 L523.5,1308.3 L524.5,1308.3 L525.5,1308.3 L526.5,1308.4 L527.5,1308.4 L528.5,1308.4 L529.5,1308.5 L530.5,1308.5 L531.5,1308.5 L532.5,1308.6 L533.5,1308.6 L534.5,1308.6 L535.5,1308.7 L536.5,1308.7 L537.5,1308.7 L538.5,1308.7 L539.5,1308.8 L540.5,1308.8 L541.5,1308.8 L542.5,1308.9 L543.5,1308.9 L544.5,1308.9" stroke="#9b1cff" stroke-width="1.7" fill="none"/>
<path d="M57.5,1278.1 L58.5,1278.0 L59.5,1278.0 L60.5,1278.0 L61.5,1277.9 L62.5,1277.9 L63.5,1277.8 L64.5,1277.8 L65.5,1277.7 L66.5,1277.7 L67.5,1277.6 L68.5,1277.6 L69.5,1277.5 L70.5,1277.5 L71.5,1277.5 L72.5,1277.4 L73.5,1277.4 L74.5,1277.3 L75.5,1277.3 L76.5,1277.2 L77.5,1277.2 L78.5,1277.1 L79.5,1277.1 L80.5,1277.0 L81.5,1277.0 L82.5,1276.9 L83.5,1276.8 L84.5,1276.8 L85.5,1276.7 L86.5,1276.7 L87.5,1276.6 L88.5,1276.6 L89.5,1276.5 L90.5,1276.5 L91.5,1276.4 L92.5,1276.3 L93.5,1276.3 L94.5,1276.2 L95.5,1276.2 L96.5,1276.1 L97.5,1276.0 L98.5,1276.0 L99.5,1275.9 L100.5,1275.8 L101.5,1275.8 L102.5,1275.7 L103.5,1275.6 L104.5,1275.6 L105.5,1275.5 L106.5,1275.4 L107.5,1275.3 L108.5,1275.3 L109.5,1275.2 L110.5,1275.1 L111.5,1275.1 L112.5,1275.0 L113.5,1274.9 L114.5,1274.8 L115.5,1274.7 L116.5,1274.7 L117.5,1274.6 L118.5,1274.5 L119.5,1274.4 L120.5,1274.3 L121.5,1274.2 L122.5,1274.1 L123.5,1274.0 L124.5,1273.9 L125.5,1273.8 L126.5,1273.8 L127.5,1273.7 L128.6,1273.6 L129.6,1273.5 L130.6,1273.4 L131.6,1273.2 L132.6,1273.1 L133.6,1273.0 L134.6,1272.9 L135.6,1272.8 L136.6,1272.7 L137.6,1272.6 L138.6,1272.5 L139.6,1272.3 L140.6,1272.2 L141.6,1272.1 L142.6,1272.0 L143.6,1271.8 L144.6,1271.7 L145.6,1271.6 L146.6,1271.4 L147.6,1271.3 L148.6,1271.1 L149.6,1271.0 L150.6,1270.9 L151.6,1270.7 L152.6,1270.5 L153.6,1270.4 L154.6,1270.2 L155.6,1270.1 L156.6,1269.9 L157.6,1269.7 L158.6,1269.5 L159.6,1269.4 L160.6,1269.2 L161.6,1269.0 L162.6,1268.8 L163.6,1268.6 L164.6,1268.4 L165.6,1268.2 L166.6,1268.0 L167.6,1267.8 L168.6,1267.6 L169.6,1267.3 L170.6,1267.1 L171.6,1266.9 L172.6,1266.6 L173.6,1266.4 L174.6,1266.1 L175.6,1265.9 L176.6,1265.6 L177.6,1265.3 L178.6,1265.0 L179.6,1264.7 L180.6,1264.4 L181.6,1264.1 L182.6,1263.8 L183.6,1263.5 L184.6,1263.2 L185.6,1262.9 L186.6,1262.6 L187.6,1262.3 L188.6,1261.9 L189.6,1261.6 L190.6,1261.2 L191.6,1260.9 L192.6,1260.5 L193.6,1260.1 L194.6,1259.7 L195.6,1259.2 L196.6,1258.8 L197.6,1258.3 L198.6,1257.9 L199.6,1257.4 L200.6,1256.9 L201.6,1256.4 L202.6,1255.8 L203.6,1255.3 L204.6,1254.7 L205.6,1254.1 L206.6,1253.5 L207.6,1252.8 L208.6,1252.2 L209.6,1251.5 L210.6,1250.8 L211.6,1250.0 L212.6,1249.3 L213.6,1248.5 L214.6,1247.7 L215.6,1246.8 L216.6,1246.0 L217.6,1245.1 L218.6,1244.1 L219.6,1243.2 L220.6,1242.2 L221.6,1241.1 L222.6,1240.1 L223.6,1239.0 L224.6,1237.9 L225.6,1236.7 L226.6,1235.5 L227.6,1234.2 L228.6,1232.9 L229.6,1231.6 L230.6,1230.2 L231.6,1228.8 L232.6,1227.4 L233.6,1225.9 L234.6,1224.3 L235.6,1222.7 L236.6,1221.1 L237.6,1219.4 L238.6,1217.7 L239.6,1215.9 L240.6,1214.0 L241.6,1212.1 L242.6,1210.2 L243.6,1208.2 L244.6,1206.2 L245.6,1204.1 L246.6,1201.9 L247.6,1199.7 L248.6,1197.5 L249.6,1195.1 L250.6,1192.8 L251.6,1190.4 L252.6,1187.9 L253.6,1185.4 L254.6,1182.8 L255.6,1180.2 L256.6,1177.5 L257.6,1174.8 L258.6,1172.0 L259.6,1169.2 L260.6,1166.3 L261.6,1163.4 L262.6,1160.4 L263.6,1157.4 L264.6,1154.4 L265.6,1151.4 L266.6,1148.3 L267.6,1145.2 L268.6,1142.1 L269.6,1138.9 L270.6,1135.8 L271.6,1132.6 L272.6,1129.5 L273.6,1126.3 L274.6,1123.2 L275.6,1120.1 L276.6,1117.1 L277.6,1114.1 L278.6,1111.1 L279.6,1108.2 L280.6,1105.3 L281.6,1102.6 L282.6,1099.9 L283.6,1097.3 L284.6,1094.9 L285.6,1092.5 L286.6,1090.3 L287.6,1088.3 L288.6,1086.4 L289.6,1084.6 L290.6,1083.0 L291.6,1081.6 L292.6,1080.4 L293.6,1079.4 L294.6,1078.6 L295.6,1078.0 L296.6,1077.6 L297.6,1077.4 L298.6,1077.4 L299.6,1077.7 L300.6,1078.1 L301.6,1078.8 L302.6,1079.6 L303.6,1080.7 L304.6,1082.0 L305.6,1083.4 L306.6,1085.1 L307.6,1086.9 L308.6,1088.9 L309.6,1091.1 L310.6,1093.4 L311.6,1095.8 L312.6,1098.4 L313.6,1101.1 L314.6,1103.9 L315.6,1106.8 L316.6,1109.7 L317.6,1112.8 L318.6,1115.9 L319.6,1119.1 L320.6,1122.3 L321.6,1125.6 L322.6,1128.9 L323.6,1132.2 L324.6,1135.5 L325.6,1138.9 L326.6,1142.2 L327.6,1145.6 L328.6,1148.9 L329.6,1152.2 L330.6,1155.6 L331.6,1158.8 L332.6,1162.1 L333.6,1165.3 L334.6,1168.5 L335.6,1171.6 L336.6,1174.7 L337.6,1177.8 L338.6,1180.8 L339.6,1183.8 L340.6,1186.7 L341.6,1189.5 L342.6,1192.3 L343.6,1195.1 L344.6,1197.8 L345.6,1200.5 L346.6,1203.1 L347.6,1205.6 L348.6,1208.1 L349.6,1210.5 L350.6,1212.9 L351.6,1215.2 L352.6,1217.5 L353.6,1219.7 L354.6,1221.8 L355.6,1223.9 L356.6,1226.0 L357.6,1228.0 L358.6,1229.9 L359.6,1231.8 L360.6,1233.6 L361.6,1235.4 L362.6,1237.2 L363.6,1238.9 L364.6,1240.5 L365.6,1242.1 L366.6,1243.7 L367.6,1245.2 L368.6,1246.7 L369.6,1248.1 L370.6,1249.5 L371.6,1250.9 L372.6,1252.2 L373.6,1253.5 L374.6,1254.7 L375.6,1255.9 L376.6,1257.1 L377.6,1258.2 L378.6,1259.3 L379.6,1260.4 L380.6,1261.4 L381.6,1262.4 L382.6,1263.4 L383.6,1264.4 L384.6,1265.3 L385.6,1266.2 L386.6,1267.1 L387.6,1267.9 L388.6,1268.7 L389.6,1269.5 L390.6,1270.3 L391.6,1271.0 L392.6,1271.8 L393.6,1272.5 L394.6,1273.1 L395.6,1273.8 L396.6,1274.5 L397.6,1275.1 L398.6,1275.7 L399.6,1276.3 L400.6,1276.9 L401.6,1277.4 L402.6,1278.0 L403.6,1278.5 L404.6,1279.0 L405.6,1279.5 L406.6,1280.0 L407.6,1280.5 L408.6,1281.0 L409.6,1281.4 L410.6,1281.9 L411.6,1282.3 L412.6,1282.7 L413.6,1283.1 L414.6,1283.5 L415.6,1283.9 L416.6,1284.3 L417.6,1284.7 L418.6,1285.1 L419.6,1285.4 L420.6,1285.8 L421.6,1286.1 L422.6,1286.5 L423.6,1286.8 L424.6,1287.1 L425.6,1287.5 L426.6,1287.8 L427.6,1288.1 L428.6,1288.4 L429.6,1288.7 L430.6,1289.0 L431.6,1289.3 L432.6,1289.6 L433.6,1289.8 L434.6,1290.1 L435.6,1290.4 L436.6,1290.6 L437.6,1290.9 L438.6,1291.1 L439.6,1291.4 L440.6,1291.6 L441.6,1291.9 L442.6,1292.1 L443.6,1292.4 L444.6,1292.6 L445.6,1292.8 L446.6,1293.0 L447.6,1293.3 L448.6,1293.5 L449.6,1293.7 L450.6,1293.9 L451.6,1294.1 L452.6,1294.3 L453.6,1294.5 L454.6,1294.7 L455.6,1294.9 L456.6,1295.1 L457.6,1295.3 L458.6,1295.5 L459.6,1295.7 L460.6,1295.9 L461.6,1296.0 L462.6,1296.2 L463.6,1296.4 L464.6,1296.6 L465.6,1296.7 L466.6,1296.9 L467.6,1297.1 L468.6,1297.2 L469.6,1297.4 L470.6,1297.6 L471.6,1297.7 L472.6,1297.9 L473.6,1298.0 L474.6,1298.2 L475.6,1298.3 L476.6,1298.5 L477.6,1298.6 L478.6,1298.8 L479.6,1298.9 L480.6,1299.0 L481.6,1299.2 L482.6,1299.3 L483.6,1299.5 L484.6,1299.6 L485.6,1299.7 L486.6,1299.8 L487.6,1300.0 L488.6,1300.1 L489.6,1300.2 L490.6,1300.4 L491.6,1300.5 L492.6,1300.6 L493.6,1300.7 L494.6,1300.8 L495.6,1300.9 L496.6,1301.1 L497.6,1301.2 L498.6,1301.3 L499.6,1301.4 L500.6,1301.5 L501.6,1301.6 L502.6,1301.7 L503.6,1301.8 L504.6,1301.9 L505.6,1302.0 L506.6,1302.1 L507.6,1302.2 L508.6,1302.3 L509.6,1302.4 L510.6,1302.5 L511.6,1302.6 L512.5,1302.7 L513.5,1302.8 L514.5,1302.9 L515.5,1303.0 L516.5,1303.1 L517.5,1303.2 L518.5,1303.2 L519.5,1303.3 L520.5,1303.4 L521.5,1303.5 L522.5,1303.6 L523.5,1303.7 L524.5,1303.7 L525.5,1303.8 L526.5,1303.9 L527.5,1304.0 L528.5,1304.0 L529.5,1304.1 L530.5,1304.2 L531.5,1304.3 L532.5,1304.3 L533.5,1304.4 L534.5,1304.5 L535.5,1304.5 L536.5,1304.6 L537.5,1304.7 L538.5,1304.7 L539.5,1304.8 L540.5,1304.8 L541.5,1304.9 L542.5,1305.0 L543.5,1305.0 L544.5,1305.1" stroke="#16168c" stroke-width="1.7" fill="none"/>
<path d="M57.5,1280.6 L58.5,1280.6 L59.5,1280.6 L60.5,1280.6 L61.5,1280.6 L62.5,1280.6 L63.5,1280.5 L64.5,1280.5 L65.5,1280.5 L66.5,1280.5 L67.5,1280.5 L68.5,1280.5 L69.5,1280.4 L70.5,1280.4 L71.5,1280.4 L72.5,1280.4 L73.5,1280.4 L74.5,1280.4 L75.5,1280.3 L76.5,1280.3 L77.5,1280.3 L78.5,1280.3 L79.5,1280.3 L80.5,1280.3 L81.5,1280.2 L82.5,1280.2 L83.5,1280.2 L84.5,1280.2 L85.5,1280.2 L86.5,1280.2 L87.5,1280.1 L88.5,1280.1 L89.5,1280.1 L90.5,1280.1 L91.5,1280.1 L92.5,1280.1 L93.5,1280.0 L94.5,1280.0 L95.5,1280.0 L96.5,1280.0 L97.5,1280.0 L98.5,1280.0 L99.5,1279.9 L100.5,1279.9 L101.5,1279.9 L102.5,1279.9 L103.5,1279.9 L104.5,1279.9 L105.5,1279.8 L106.5,1279.8 L107.5,1279.8 L108.5,1279.8 L109.5,1279.8 L110.5,1279.7 L111.5,1279.7 L112.5,1279.7 L113.5,1279.7 L114.5,1279.7 L115.5,1279.6 L116.5,1279.6 L117.5,1279.6 L118.5,1279.6 L119.5,1279.6 L120.5,1279.5 L121.5,1279.5 L122.5,1279.5 L123.5,1279.5 L124.5,1279.5 L125.5,1279.4 L126.5,1279.4 L127.5,1279.4 L128.6,1279.4 L129.6,1279.4 L130.6,1279.3 L131.6,1279.3 L132.6,1279.3 L133.6,1279.3 L134.6,1279.2 L135.6,1279.2 L136.6,1279.2 L137.6,1279.2 L138.6,1279.1 L139.6,1279.1 L140.6,1279.1 L141.6,1279.1 L142.6,1279.0 L143.6,1279.0 L144.6,1279.0 L145.6,1279.0 L146.6,1278.9 L147.6,1278.9 L148.6,1278.9 L149.6,1278.8 L150.6,1278.8 L151.6,1278.8 L152.6,1278.8 L153.6,1278.7 L154.6,1278.7 L155.6,1278.7 L156.6,1278.6 L157.6,1278.6 L158.6,1278.6 L159.6,1278.5 L160.6,1278.5 L161.6,1278.5 L162.6,1278.4 L163.6,1278.4 L164.6,1278.4 L165.6,1278.3 L166.6,1278.3 L167.6,1278.2 L168.6,1278.2 L169.6,1278.2 L170.6,1278.1 L171.6,1278.1 L172.6,1278.0 L173.6,1278.0 L174.6,1278.0 L175.6,1277.9 L176.6,1277.9 L177.6,1277.8 L178.6,1277.8 L179.6,1277.7 L180.6,1277.7 L181.6,1277.6 L182.6,1277.6 L183.6,1277.6 L184.6,1277.6 L185.6,1277.5 L186.6,1277.5 L187.6,1277.5 L188.6,1277.5 L189.6,1277.5 L190.6,1277.4 L191.6,1277.4 L192.6,1277.4 L193.6,1277.4 L194.6,1277.4 L195.6,1277.3 L196.6,1277.3 L197.6,1277.3 L198.6,1277.2 L199.6,1277.2 L200.6,1277.2 L201.6,1277.1 L202.6,1277.1 L203.6,1277.1 L204.6,1277.0 L205.6,1277.0 L206.6,1276.9 L207.6,1276.9 L208.6,1276.8 L209.6,1276.8 L210.6,1276.7 L211.6,1276.7 L212.6,1276.6 L213.6,1276.6 L214.6,1276.5 L215.6,1276.5 L216.6,1276.4 L217.6,1276.3 L218.6,1276.3 L219.6,1276.2 L220.6,1276.1 L221.6,1276.1 L222.6,1276.0 L223.6,1275.9 L224.6,1275.8 L225.6,1275.7 L226.6,1275.7 L227.6,1275.6 L228.6,1275.5 L229.6,1275.4 L230.6,1275.3 L231.6,1275.2 L232.6,1275.1 L233.6,1275.0 L234.6,1274.9 L235.6,1274.7 L236.6,1274.6 L237.6,1274.5 L238.6,1274.4 L239.6,1274.3 L240.6,1274.1 L241.6,1274.0 L242.6,1273.8 L243.6,1273.7 L244.6,1273.5 L245.6,1273.4 L246.6,1273.2 L247.6,1273.0 L248.6,1272.9 L249.6,1272.7 L250.6,1272.5 L251.6,1272.3 L252.6,1272.1 L253.6,1271.9 L254.6,1271.7 L255.6,1271.5 L256.6,1271.2 L257.6,1271.0 L258.6,1270.7 L259.6,1270.5 L260.6,1270.2 L261.6,1269.9 L262.6,1269.7 L263.6,1269.4 L264.6,1269.1 L265.6,1268.7 L266.6,1268.4 L267.6,1268.1 L268.6,1267.7 L269.6,1267.4 L270.6,1267.0 L271.6,1266.6 L272.6,1266.2 L273.6,1265.8 L274.6,1265.3 L275.6,1264.9 L276.6,1264.4 L277.6,1264.0 L278.6,1263.5 L279.6,1262.9 L280.6,1262.4 L281.6,1261.9 L282.6,1261.3 L283.6,1260.7 L284.6,1260.1 L285.6,1259.4 L286.6,1258.8 L287.6,1258.1 L288.6,1257.4 L289.6,1256.7 L290.6,1255.9 L291.6,1255.1 L292.6,1254.3 L293.6,1253.5 L294.6,1252.6 L295.6,1251.7 L296.6,1250.8 L297.6,1249.9 L298.6,1248.9 L299.6,1247.9 L300.6,1246.8 L301.6,1245.7 L302.6,1244.6 L303.6,1243.5 L304.6,1242.3 L305.6,1241.1 L306.6,1239.8 L307.6,1238.5 L308.6,1237.2 L309.6,1235.8 L310.6,1234.4 L311.6,1232.9 L312.6,1231.4 L313.6,1229.9 L314.6,1228.3 L315.6,1226.7 L316.6,1225.1 L317.6,1223.4 L318.6,1221.6 L319.6,1219.8 L320.6,1218.0 L321.6,1216.1 L322.6,1214.2 L323.6,1212.3 L324.6,1210.3 L325.6,1208.3 L326.6,1206.2 L327.6,1204.1 L328.6,1201.9 L329.6,1199.7 L330.6,1197.5 L331.6,1195.3 L332.6,1193.0 L333.6,1190.7 L334.6,1188.3 L335.6,1185.9 L336.6,1183.5 L337.6,1181.1 L338.6,1178.6 L339.6,1176.2 L340.6,1173.7 L341.6,1171.2 L342.6,1168.7 L343.6,1166.2 L344.6,1163.7 L345.6,1161.2 L346.6,1158.7 L347.6,1156.2 L348.6,1153.8 L349.6,1151.4 L350.6,1149.1 L351.6,1146.8 L352.6,1144.5 L353.6,1142.3 L354.6,1140.2 L355.6,1138.1 L356.6,1136.2 L357.6,1134.3 L358.6,1132.6 L359.6,1130.9 L360.6,1129.4 L361.6,1128.0 L362.6,1126.8 L363.6,1125.7 L364.6,1124.7 L365.6,1123.9 L366.6,1123.3 L367.6,1122.8 L368.6,1122.4 L369.6,1122.3 L370.6,1122.3 L371.6,1122.5 L372.6,1122.8 L373.6,1123.4 L374.6,1124.0 L375.6,1124.9 L376.6,1125.9 L377.6,1127.0 L378.6,1128.3 L379.6,1129.8 L380.6,1131.4 L381.6,1133.1 L382.6,1134.9 L383.6,1136.8 L384.6,1138.9 L385.6,1141.0 L386.6,1143.2 L387.6,1145.5 L388.6,1147.9 L389.6,1150.3 L390.6,1152.8 L391.6,1155.4 L392.6,1158.0 L393.6,1160.6 L394.6,1163.2 L395.6,1165.9 L396.6,1168.6 L397.6,1171.2 L398.6,1173.9 L399.6,1176.6 L400.6,1179.3 L401.6,1182.0 L402.6,1184.6 L403.6,1187.3 L404.6,1189.9 L405.6,1192.5 L406.6,1195.0 L407.6,1197.6 L408.6,1200.1 L409.6,1202.5 L410.6,1205.0 L411.6,1207.4 L412.6,1209.7 L413.6,1212.1 L414.6,1214.3 L415.6,1216.6 L416.6,1218.8 L417.6,1220.9 L418.6,1223.1 L419.6,1225.1 L420.6,1227.2 L421.6,1229.2 L422.6,1231.1 L423.6,1233.0 L424.6,1234.9 L425.6,1236.7 L426.6,1238.5 L427.6,1240.2 L428.6,1241.9 L429.6,1243.5 L430.6,1245.1 L431.6,1246.7 L432.6,1248.2 L433.6,1249.7 L434.6,1251.2 L435.6,1252.6 L436.6,1254.0 L437.6,1255.3 L438.6,1256.6 L439.6,1257.9 L440.6,1259.1 L441.6,1260.3 L442.6,1261.5 L443.6,1262.6 L444.6,1263.7 L445.6,1264.8 L446.6,1265.8 L447.6,1266.8 L448.6,1267.8 L449.6,1268.8 L450.6,1269.7 L451.6,1270.6 L452.6,1271.5 L453.6,1272.3 L454.6,1273.1 L455.6,1273.9 L456.6,1274.7 L457.6,1275.5 L458.6,1276.2 L459.6,1276.9 L460.6,1277.6 L461.6,1278.3 L462.6,1278.9 L463.6,1279.6 L464.6,1280.2 L465.6,1280.8 L466.6,1281.4 L467.6,1281.9 L468.6,1282.5 L469.6,1283.0 L470.6,1283.6 L471.6,1284.1 L472.6,1284.6 L473.6,1285.0 L474.6,1285.5 L475.6,1286.0 L476.6,1286.4 L477.6,1286.8 L478.6,1287.2 L479.6,1287.7 L480.6,1288.1 L481.6,1288.4 L482.6,1288.8 L483.6,1289.2 L484.6,1289.5 L485.6,1289.9 L486.6,1290.2 L487.6,1290.6 L488.6,1290.9 L489.6,1291.2 L490.6,1291.5 L491.6,1291.8 L492.6,1292.1 L493.6,1292.4 L494.6,1292.7 L495.6,1293.0 L496.6,1293.3 L497.6,1293.5 L498.6,1293.8 L499.6,1294.0 L500.6,1294.3 L501.6,1294.5 L502.6,1294.8 L503.6,1295.0 L504.6,1295.2 L505.6,1295.5 L506.6,1295.7 L507.6,1295.9 L508.6,1296.1 L509.6,1296.3 L510.6,1296.5 L511.6,1296.7 L512.5,1296.9 L513.5,1297.1 L514.5,1297.3 L515.5,1297.5 L516.5,1297.7 L517.5,1297.9 L518.5,1298.0 L519.5,1298.2 L520.5,1298.4 L521.5,1298.6 L522.5,1298.7 L523.5,1298.9 L524.5,1299.0 L525.5,1299.2 L526.5,1299.3 L527.5,1299.5 L528.5,1299.6 L529.5,1299.8 L530.5,1299.9 L531.5,1300.1 L532.5,1300.2 L533.5,1300.3 L534.5,1300.5 L535.5,1300.6 L536.5,1300.7 L537.5,1300.8 L538.5,1301.0 L539.5,1301.1 L540.5,1301.2 L541.5,1301.3 L542.5,1301.4 L543.5,1301.5 L544.5,1301.7" stroke="#14961e" stroke-width="1.7" fill="none"/>
<path d="M57.5,1282.8 L58.5,1282.8 L59.5,1282.8 L60.5,1282.8 L61.5,1282.8 L62.5,1282.8 L63.5,1282.8 L64.5,1282.8 L65.5,1282.8 L66.5,1282.8 L67.5,1282.8 L68.5,1282.8 L69.5,1282.8 L70.5,1282.8 L71.5,1282.8 L72.5,1282.8 L73.5,1282.8 L74.5,1282.8 L75.5,1282.8 L76.5,1282.8 L77.5,1282.8 L78.5,1282.8 L79.5,1282.8 L80.5,1282.8 L81.5,1282.8 L82.5,1282.8 L83.5,1282.8 L84.5,1282.8 L85.5,1282.8 L86.5,1282.8 L87.5,1282.8 L88.5,1282.8 L89.5,1282.8 L90.5,1282.8 L91.5,1282.8 L92.5,1282.8 L93.5,1282.8 L94.5,1282.8 L95.5,1282.8 L96.5,1282.8 L97.5,1282.8 L98.5,1282.8 L99.5,1282.8 L100.5,1282.8 L101.5,1282.8 L102.5,1282.9 L103.5,1282.9 L104.5,1282.9 L105.5,1282.9 L106.5,1282.9 L107.5,1282.9 L108.5,1282.9 L109.5,1282.9 L110.5,1282.9 L111.5,1282.9 L112.5,1282.9 L113.5,1282.9 L114.5,1282.9 L115.5,1282.9 L116.5,1282.9 L117.5,1282.9 L118.5,1282.9 L119.5,1283.0 L120.5,1283.0 L121.5,1283.0 L122.5,1283.0 L123.5,1283.0 L124.5,1283.0 L125.5,1283.0 L126.5,1283.0 L127.5,1283.0 L128.6,1283.0 L129.6,1283.0 L130.6,1283.0 L131.6,1283.0 L132.6,1283.1 L133.6,1283.1 L134.6,1283.1 L135.6,1283.1 L136.6,1283.1 L137.6,1283.1 L138.6,1283.1 L139.6,1283.1 L140.6,1283.1 L141.6,1283.1 L142.6,1283.1 L143.6,1283.2 L144.6,1283.2 L145.6,1283.2 L146.6,1283.2 L147.6,1283.2 L148.6,1283.2 L149.6,1283.2 L150.6,1283.2 L151.6,1283.2 L152.6,1283.3 L153.6,1283.3 L154.6,1283.3 L155.6,1283.3 L156.6,1283.3 L157.6,1283.3 L158.6,1283.3 L159.6,1283.3 L160.6,1283.3 L161.6,1283.4 L162.6,1283.4 L163.6,1283.4 L164.6,1283.4 L165.6,1283.4 L166.6,1283.4 L167.6,1283.4 L168.6,1283.4 L169.6,1283.5 L170.6,1283.5 L171.6,1283.5 L172.6,1283.5 L173.6,1283.5 L174.6,1283.5 L175.6,1283.5 L176.6,1283.6 L177.6,1283.6 L178.6,1283.6 L179.6,1283.6 L180.6,1283.6 L181.6,1283.6 L182.6,1283.7 L183.6,1283.7 L184.6,1283.7 L185.6,1283.8 L186.6,1283.8 L187.6,1283.9 L188.6,1283.9 L189.6,1284.0 L190.6,1284.0 L191.6,1284.1 L192.6,1284.1 L193.6,1284.2 L194.6,1284.2 L195.6,1284.3 L196.6,1284.3 L197.6,1284.4 L198.6,1284.4 L199.6,1284.5 L200.6,1284.5 L201.6,1284.6 L202.6,1284.6 L203.6,1284.7 L204.6,1284.7 L205.6,1284.8 L206.6,1284.8 L207.6,1284.9 L208.6,1284.9 L209.6,1285.0 L210.6,1285.0 L211.6,1285.1 L212.6,1285.1 L213.6,1285.2 L214.6,1285.2 L215.6,1285.3 L216.6,1285.3 L217.6,1285.4 L218.6,1285.4 L219.6,1285.5 L220.6,1285.5 L221.6,1285.6 L222.6,1285.6 L223.6,1285.7 L224.6,1285.7 L225.6,1285.8 L226.6,1285.8 L227.6,1285.9 L228.6,1285.9 L229.6,1286.0 L230.6,1286.0 L231.6,1286.1 L232.6,1286.1 L233.6,1286.2 L234.6,1286.2 L235.6,1286.3 L236.6,1286.3 L237.6,1286.4 L238.6,1286.4 L239.6,1286.5 L240.6,1286.5 L241.6,1286.6 L242.6,1286.6 L243.6,1286.7 L244.6,1286.7 L245.6,1286.8 L246.6,1286.8 L247.6,1286.9 L248.6,1286.9 L249.6,1287.0 L250.6,1287.0 L251.6,1287.1 L252.6,1287.1 L253.6,1287.2 L254.6,1287.2 L255.6,1287.3 L256.6,1287.3 L257.6,1287.4 L258.6,1287.4 L259.6,1287.5 L260.6,1287.5 L261.6,1287.6 L262.6,1287.6 L263.6,1287.7 L264.6,1287.7 L265.6,1287.8 L266.6,1287.8 L267.6,1287.9 L268.6,1287.9 L269.6,1287.9 L270.6,1288.0 L271.6,1288.0 L272.6,1288.1 L273.6,1288.1 L274.6,1288.2 L275.6,1288.2 L276.6,1288.3 L277.6,1288.3 L278.6,1288.4 L279.6,1288.4 L280.6,1288.4 L281.6,1288.5 L282.6,1288.5 L283.6,1288.6 L284.6,1288.6 L285.6,1288.7 L286.6,1288.7 L287.6,1288.7 L288.6,1288.8 L289.6,1288.8 L290.6,1288.9 L291.6,1288.9 L292.6,1288.9 L293.6,1289.0 L294.6,1289.0 L295.6,1289.0 L296.6,1289.1 L297.6,1289.1 L298.6,1289.1 L299.6,1289.2 L300.6,1289.2 L301.6,1289.2 L302.6,1289.3 L303.6,1289.3 L304.6,1289.3 L305.6,1289.3 L306.6,1289.4 L307.6,1289.4 L308.6,1289.4 L309.6,1289.4 L310.6,1289.5 L311.6,1289.5 L312.6,1289.5 L313.6,1289.5 L314.6,1289.5 L315.6,1289.5 L316.6,1289.5 L317.6,1289.5 L318.6,1289.6 L319.6,1289.6 L320.6,1289.6 L321.6,1289.6 L322.6,1289.6 L323.6,1289.6 L324.6,1289.6 L325.6,1289.6 L326.6,1289.5 L327.6,1289.5 L328.6,1289.5 L329.6,1289.5 L330.6,1289.5 L331.6,1289.5 L332.6,1289.5 L333.6,1289.5 L334.6,1289.4 L335.6,1289.4 L336.6,1289.4 L337.6,1289.3 L338.6,1289.3 L339.6,1289.3 L340.6,1289.2 L341.6,1289.1 L342.6,1289.1 L343.6,1289.0 L344.6,1288.9 L345.6,1288.9 L346.6,1288.8 L347.6,1288.7 L348.6,1288.6 L349.6,1288.5 L350.6,1288.3 L351.6,1288.2 L352.6,1288.1 L353.6,1287.9 L354.6,1287.8 L355.6,1287.6 L356.6,1287.4 L357.6,1287.2 L358.6,1287.1 L359.6,1286.9 L360.6,1286.6 L361.6,1286.4 L362.6,1286.2 L363.6,1286.0 L364.6,1285.7 L365.6,1285.4 L366.6,1285.2 L367.6,1284.9 L368.6,1284.6 L369.6,1284.3 L370.6,1284.0 L371.6,1283.6 L372.6,1283.3 L373.6,1282.9 L374.6,1282.6 L375.6,1282.2 L376.6,1281.8 L377.6,1281.4 L378.6,1280.9 L379.6,1280.5 L380.6,1280.0 L381.6,1279.5 L382.6,1279.0 L383.6,1278.5 L384.6,1278.0 L385.6,1277.5 L386.6,1276.9 L387.6,1276.3 L388.6,1275.7 L389.6,1275.1 L390.6,1274.5 L391.6,1273.9 L392.6,1273.2 L393.6,1272.6 L394.6,1271.9 L395.6,1271.2 L396.6,1270.5 L397.6,1269.8 L398.6,1269.0 L399.6,1268.3 L400.6,1267.6 L401.6,1266.8 L402.6,1266.1 L403.6,1265.4 L404.6,1264.6 L405.6,1263.9 L406.6,1263.2 L407.6,1262.5 L408.6,1261.8 L409.6,1261.1 L410.6,1260.5 L411.6,1259.8 L412.6,1259.3 L413.6,1258.7 L414.6,1258.2 L415.6,1257.7 L416.6,1257.2 L417.6,1256.8 L418.6,1256.5 L419.6,1256.2 L420.6,1256.0 L421.6,1255.8 L422.6,1255.6 L423.6,1255.6 L424.6,1255.6 L425.6,1255.6 L426.6,1255.7 L427.6,1255.9 L428.6,1256.2 L429.6,1256.5 L430.6,1256.8 L431.6,1257.2 L432.6,1257.7 L433.6,1258.2 L434.6,1258.7 L435.6,1259.3 L436.6,1260.0 L437.6,1260.6 L438.6,1261.4 L439.6,1262.1 L440.6,1262.9 L441.6,1263.6 L442.6,1264.4 L443.6,1265.3 L444.6,1266.1 L445.6,1266.9 L446.6,1267.8 L447.6,1268.6 L448.6,1269.5 L449.6,1270.3 L450.6,1271.2 L451.6,1272.0 L452.6,1272.9 L453.6,1273.7 L454.6,1274.5 L455.6,1275.4 L456.6,1276.2 L457.6,1276.9 L458.6,1277.7 L459.6,1278.5 L460.6,1279.2 L461.6,1280.0 L462.6,1280.7 L463.6,1281.4 L464.6,1282.1 L465.6,1282.7 L466.6,1283.4 L467.6,1284.0 L468.6,1284.7 L469.6,1285.3 L470.6,1285.9 L471.6,1286.4 L472.6,1287.0 L473.6,1287.5 L474.6,1288.1 L475.6,1288.6 L476.6,1289.1 L477.6,1289.6 L478.6,1290.1 L479.6,1290.6 L480.6,1291.0 L481.6,1291.5 L482.6,1291.9 L483.6,1292.3 L484.6,1292.7 L485.6,1293.1 L486.6,1293.5 L487.6,1293.9 L488.6,1294.2 L489.6,1294.6 L490.6,1294.9 L491.6,1295.3 L492.6,1295.6 L493.6,1295.9 L494.6,1296.3 L495.6,1296.6 L496.6,1296.9 L497.6,1297.1 L498.6,1297.4 L499.6,1297.7 L500.6,1298.0 L501.6,1298.2 L502.6,1298.5 L503.6,1298.7 L504.6,1299.0 L505.6,1299.2 L506.6,1299.4 L507.6,1299.7 L508.6,1299.9 L509.6,1300.1 L510.6,1300.3 L511.6,1300.5 L512.5,1300.7 L513.5,1300.9 L514.5,1301.1 L515.5,1301.3 L516.5,1301.5 L517.5,1301.6 L518.5,1301.8 L519.5,1302.0 L520.5,1302.1 L521.5,1302.3 L522.5,1302.5 L523.5,1302.6 L524.5,1302.8 L525.5,1302.9 L526.5,1303.0 L527.5,1303.2 L528.5,1303.3 L529.5,1303.5 L530.5,1303.6 L531.5,1303.7 L532.5,1303.8 L533.5,1304.0 L534.5,1304.1 L535.5,1304.2 L536.5,1304.3 L537.5,1304.4 L538.5,1304.5 L539.5,1304.6 L540.5,1304.7 L541.5,1304.8 L542.5,1304.9 L543.5,1305.0 L544.5,1305.1" stroke="#ff10ff" stroke-width="1.7" fill="none"/>
<path d="M57.2,1274.1 L61.6,1258.0 L67.8,1266.0 L73.3,1264.2 L79.5,1254.3 L84.5,1253.6 L95.6,1268.5 L101.8,1262.3 L106.7,1244.4 L117.9,1249.9 L124.1,1238.8 L130.3,1245.6 L135.2,1244.4 L140.8,1259.2 L147.0,1253.0 L152.5,1262.9 L157.5,1258.0 L163.7,1214.0 L174.8,1241.3 L180.5,1226.0 L186.2,1207.4 L191.1,1221.4 L202.8,1160.0 L208.4,1180.0 L213.3,1137.0 L219.5,1126.6 L225.0,1159.6 L230.4,1144.5 L236.6,1145.5 L242.6,1135.5 L246.6,1111.5 L253.7,1086.0 L264.7,1055.7 L270.1,1062.0 L277.0,1042.6 L281.7,1037.2 L287.0,1048.9 L292.3,1038.2 L297.6,1012.7 L303.6,1004.2 L309.3,1015.9 L314.6,1013.8 L321.0,1027.6 L331.6,1051.0 L338.0,1027.6 L343.3,1057.4 L349.7,1031.9 L355.0,1045.7 L360.3,1039.3 L370.9,1061.6 L377.3,1042.5 L381.5,1072.2 L385.8,1082.9 L393.2,1093.5 L399.6,1114.7 L405.5,1125.1 L411.0,1114.1 L416.6,1166.5 L422.1,1182.2 L427.6,1163.8 L438.7,1186.8 L444.2,1189.6 L449.7,1196.0 L455.2,1240.2 L462.6,1236.5 L471.8,1252.2 L478.2,1249.4 L483.8,1271.5 L490.2,1273.3 L494.8,1259.5 L500.3,1293.6 L505.9,1289.0 L511.4,1262.3 L517.8,1284.4 L523.3,1293.6 L528.9,1289.0 L534.4,1291.7 L539.9,1276.1 L545.2,1289.9" stroke="#111" stroke-width="1.8" fill="none" stroke-linejoin="round"/>
<path d="M57.5,1270.9 L58.5,1270.7 L59.5,1270.4 L60.5,1270.2 L61.5,1269.9 L62.5,1269.7 L63.5,1269.5 L64.5,1269.3 L65.5,1269.1 L66.5,1268.9 L67.5,1268.7 L68.5,1268.5 L69.5,1268.3 L70.5,1268.1 L71.5,1268.0 L72.5,1267.8 L73.5,1267.6 L74.5,1267.5 L75.5,1267.3 L76.5,1267.1 L77.5,1267.0 L78.5,1266.8 L79.5,1266.7 L80.5,1266.5 L81.5,1266.4 L82.5,1266.2 L83.5,1266.1 L84.5,1265.9 L85.5,1265.8 L86.5,1265.7 L87.5,1265.5 L88.5,1265.4 L89.5,1265.2 L90.5,1265.1 L91.5,1264.9 L92.5,1264.8 L93.5,1264.6 L94.5,1264.5 L95.5,1264.3 L96.5,1264.2 L97.5,1264.0 L98.5,1263.9 L99.5,1263.7 L100.5,1263.5 L101.5,1263.4 L102.5,1263.2 L103.5,1263.0 L104.5,1262.8 L105.5,1262.7 L106.5,1262.5 L107.5,1262.3 L108.5,1262.1 L109.5,1261.9 L110.5,1261.7 L111.5,1261.4 L112.5,1261.2 L113.5,1261.0 L114.5,1260.7 L115.5,1260.5 L116.5,1260.2 L117.5,1260.0 L118.5,1259.7 L119.5,1259.4 L120.5,1259.2 L121.5,1258.9 L122.5,1258.6 L123.5,1258.2 L124.5,1257.9 L125.5,1257.6 L126.5,1257.2 L127.5,1256.9 L128.6,1256.5 L129.6,1256.2 L130.6,1255.8 L131.6,1255.4 L132.6,1255.0 L133.6,1254.5 L134.6,1254.1 L135.6,1253.7 L136.6,1253.2 L137.6,1252.7 L138.6,1252.3 L139.6,1251.8 L140.6,1251.3 L141.6,1250.7 L142.6,1250.2 L143.6,1249.6 L144.6,1249.1 L145.6,1248.5 L146.6,1247.9 L147.6,1247.3 L148.6,1246.6 L149.6,1246.0 L150.6,1245.3 L151.6,1244.7 L152.6,1244.0 L153.6,1243.3 L154.6,1242.5 L155.6,1241.8 L156.6,1241.0 L157.6,1240.2 L158.6,1239.4 L159.6,1238.6 L160.6,1237.8 L161.6,1236.9 L162.6,1236.0 L163.6,1235.1 L164.6,1234.2 L165.6,1233.3 L166.6,1232.3 L167.6,1231.3 L168.6,1230.3 L169.6,1229.3 L170.6,1228.3 L171.6,1227.2 L172.6,1226.1 L173.6,1225.0 L174.6,1223.9 L175.6,1222.7 L176.6,1221.5 L177.6,1220.3 L178.6,1219.1 L179.6,1217.9 L180.6,1216.6 L181.6,1215.3 L182.6,1214.0 L183.6,1212.6 L184.6,1211.3 L185.6,1209.9 L186.6,1208.4 L187.6,1207.0 L188.6,1205.5 L189.6,1204.0 L190.6,1202.5 L191.6,1200.9 L192.6,1199.3 L193.6,1197.7 L194.6,1196.1 L195.6,1194.4 L196.6,1192.7 L197.6,1191.0 L198.6,1189.2 L199.6,1187.5 L200.6,1185.7 L201.6,1183.8 L202.6,1182.0 L203.6,1180.2 L204.6,1178.3 L205.6,1176.4 L206.6,1174.5 L207.6,1172.6 L208.6,1170.7 L209.6,1168.8 L210.6,1166.9 L211.6,1164.9 L212.6,1163.0 L213.6,1161.1 L214.6,1159.2 L215.6,1157.3 L216.6,1155.4 L217.6,1153.6 L218.6,1151.7 L219.6,1149.9 L220.6,1148.1 L221.6,1146.3 L222.6,1144.5 L223.6,1142.7 L224.6,1141.0 L225.6,1139.3 L226.6,1137.7 L227.6,1136.1 L228.6,1134.5 L229.6,1132.9 L230.6,1131.4 L231.6,1129.9 L232.6,1128.5 L233.6,1127.1 L234.6,1125.8 L235.6,1124.5 L236.6,1123.2 L237.6,1122.0 L238.6,1120.7 L239.6,1119.5 L240.6,1118.3 L241.6,1117.1 L242.6,1115.9 L243.6,1114.7 L244.6,1113.5 L245.6,1112.3 L246.6,1111.1 L247.6,1109.8 L248.6,1108.5 L249.6,1107.2 L250.6,1105.8 L251.6,1104.5 L252.6,1103.0 L253.6,1101.5 L254.6,1100.0 L255.6,1098.4 L256.6,1096.7 L257.6,1095.0 L258.6,1093.2 L259.6,1091.3 L260.6,1089.3 L261.6,1087.3 L262.6,1085.2 L263.6,1083.0 L264.6,1080.8 L265.6,1078.5 L266.6,1076.2 L267.6,1073.8 L268.6,1071.4 L269.6,1069.0 L270.6,1066.5 L271.6,1064.0 L272.6,1061.5 L273.6,1059.0 L274.6,1056.4 L275.6,1053.9 L276.6,1051.4 L277.6,1048.8 L278.6,1046.3 L279.6,1043.8 L280.6,1041.4 L281.6,1038.9 L282.6,1036.5 L283.6,1034.2 L284.6,1031.9 L285.6,1029.7 L286.6,1027.5 L287.6,1025.4 L288.6,1023.4 L289.6,1021.6 L290.6,1019.8 L291.6,1018.1 L292.6,1016.6 L293.6,1015.2 L294.6,1013.9 L295.6,1012.8 L296.6,1011.8 L297.6,1011.1 L298.6,1010.4 L299.6,1010.0 L300.6,1009.8 L301.6,1009.7 L302.6,1009.8 L303.6,1010.1 L304.6,1010.5 L305.6,1011.0 L306.6,1011.7 L307.6,1012.5 L308.6,1013.5 L309.6,1014.5 L310.6,1015.6 L311.6,1016.7 L312.6,1018.0 L313.6,1019.2 L314.6,1020.6 L315.6,1021.9 L316.6,1023.3 L317.6,1024.7 L318.6,1026.0 L319.6,1027.4 L320.6,1028.8 L321.6,1030.1 L322.6,1031.3 L323.6,1032.5 L324.6,1033.7 L325.6,1034.7 L326.6,1035.7 L327.6,1036.6 L328.6,1037.4 L329.6,1038.2 L330.6,1038.8 L331.6,1039.4 L332.6,1040.0 L333.6,1040.5 L334.6,1040.9 L335.6,1041.3 L336.6,1041.6 L337.6,1041.9 L338.6,1042.1 L339.6,1042.3 L340.6,1042.4 L341.6,1042.6 L342.6,1042.7 L343.6,1042.7 L344.6,1042.8 L345.6,1042.8 L346.6,1042.9 L347.6,1042.9 L348.6,1042.9 L349.6,1042.9 L350.6,1042.9 L351.6,1042.9 L352.6,1042.9 L353.6,1042.9 L354.6,1042.9 L355.6,1043.0 L356.6,1043.0 L357.6,1043.1 L358.6,1043.2 L359.6,1043.4 L360.6,1043.6 L361.6,1043.8 L362.6,1044.1 L363.6,1044.4 L364.6,1044.7 L365.6,1045.1 L366.6,1045.6 L367.6,1046.2 L368.6,1046.8 L369.6,1047.5 L370.6,1048.3 L371.6,1049.2 L372.6,1050.2 L373.6,1051.3 L374.6,1052.5 L375.6,1053.8 L376.6,1055.2 L377.6,1056.7 L378.6,1058.4 L379.6,1060.1 L380.6,1061.9 L381.6,1063.7 L382.6,1065.7 L383.6,1067.7 L384.6,1069.8 L385.6,1072.0 L386.6,1074.2 L387.6,1076.5 L388.6,1078.9 L389.6,1081.3 L390.6,1083.7 L391.6,1086.2 L392.6,1088.8 L393.6,1091.3 L394.6,1093.9 L395.6,1096.5 L396.6,1099.2 L397.6,1101.9 L398.6,1104.6 L399.6,1107.3 L400.6,1110.0 L401.6,1112.7 L402.6,1115.4 L403.6,1118.0 L404.6,1120.7 L405.6,1123.4 L406.6,1126.0 L407.6,1128.6 L408.6,1131.1 L409.6,1133.6 L410.6,1136.0 L411.6,1138.4 L412.6,1140.7 L413.6,1143.0 L414.6,1145.3 L415.6,1147.4 L416.6,1149.6 L417.6,1151.7 L418.6,1153.7 L419.6,1155.7 L420.6,1157.7 L421.6,1159.6 L422.6,1161.5 L423.6,1163.4 L424.6,1165.2 L425.6,1167.0 L426.6,1168.8 L427.6,1170.6 L428.6,1172.4 L429.6,1174.1 L430.6,1175.9 L431.6,1177.6 L432.6,1179.4 L433.6,1181.1 L434.6,1182.9 L435.6,1184.7 L436.6,1186.5 L437.6,1188.3 L438.6,1190.1 L439.6,1192.0 L440.6,1193.9 L441.6,1195.8 L442.6,1197.7 L443.6,1199.6 L444.6,1201.5 L445.6,1203.4 L446.6,1205.3 L447.6,1207.3 L448.6,1209.2 L449.6,1211.1 L450.6,1213.0 L451.6,1215.0 L452.6,1216.9 L453.6,1218.8 L454.6,1220.7 L455.6,1222.6 L456.6,1224.5 L457.6,1226.3 L458.6,1228.2 L459.6,1230.0 L460.6,1231.8 L461.6,1233.6 L462.6,1235.3 L463.6,1237.1 L464.6,1238.8 L465.6,1240.5 L466.6,1242.1 L467.6,1243.7 L468.6,1245.3 L469.6,1246.8 L470.6,1248.3 L471.6,1249.8 L472.6,1251.2 L473.6,1252.6 L474.6,1253.9 L475.6,1255.2 L476.6,1256.5 L477.6,1257.7 L478.6,1258.8 L479.6,1259.9 L480.6,1261.0 L481.6,1262.1 L482.6,1263.1 L483.6,1264.0 L484.6,1265.0 L485.6,1265.8 L486.6,1266.7 L487.6,1267.5 L488.6,1268.3 L489.6,1269.1 L490.6,1269.8 L491.6,1270.5 L492.6,1271.2 L493.6,1271.8 L494.6,1272.4 L495.6,1273.0 L496.6,1273.6 L497.6,1274.1 L498.6,1274.6 L499.6,1275.1 L500.6,1275.6 L501.6,1276.1 L502.6,1276.5 L503.6,1276.9 L504.6,1277.3 L505.6,1277.7 L506.6,1278.1 L507.6,1278.4 L508.6,1278.7 L509.6,1279.1 L510.6,1279.4 L511.6,1279.7 L512.5,1280.0 L513.5,1280.3 L514.5,1280.5 L515.5,1280.8 L516.5,1281.1 L517.5,1281.3 L518.5,1281.6 L519.5,1281.8 L520.5,1282.1 L521.5,1282.3 L522.5,1282.5 L523.5,1282.8 L524.5,1283.0 L525.5,1283.3 L526.5,1283.5 L527.5,1283.8 L528.5,1284.0 L529.5,1284.3 L530.5,1284.6 L531.5,1284.9 L532.5,1285.1 L533.5,1285.4 L534.5,1285.7 L535.5,1286.1 L536.5,1286.4 L537.5,1286.7 L538.5,1287.1 L539.5,1287.5 L540.5,1287.9 L541.5,1288.3 L542.5,1288.7 L543.5,1289.2 L544.5,1289.6" stroke="#ff1010" stroke-width="1.7" fill="none"/>
<text x="69.5" y="1005.5" font-family='"Liberation Serif", serif' font-size="24" fill="#000">TiO</text>
<text x="107.5" y="1013.7" font-family='"Liberation Serif", serif' font-size="14.5" fill="#000">2</text>
<text x="120.6" y="1005.5" font-family='"Liberation Serif", serif' font-size="24" fill="#000">coated</text>
<text x="194.3" y="1005.5" font-family='"Liberation Serif", serif' font-size="24" fill="#000">O</text>
<text x="212.6" y="1014.2" font-family='"Liberation Serif", serif' font-size="11.5" fill="#000">1s</text>
<text x="535.0" y="1018.1" font-family='"Liberation Sans", sans-serif' font-size="40.5" font-weight="bold" fill="#000" text-anchor="end">(g)</text>
<text x="151.2" y="1075.4" font-family='"Liberation Serif", serif' font-size="20.5" fill="#111">O=C-O</text>
<text x="109.7" y="1166.4" font-family='"Liberation Serif", serif' font-size="20.5" fill="#111">O-C</text>
<text x="444.4" y="1101.8" font-family='"Liberation Serif", serif' font-size="20.5" fill="#111">O-Ti</text>
<text x="484.7" y="1091.5" font-family='"Liberation Serif", serif' font-size="12" fill="#111">4+</text>
<text x="484.6" y="1191.0" font-family='"Liberation Serif", serif' font-size="20.5" fill="#111">O-Ti</text>
<text x="524.3" y="1180.8" font-family='"Liberation Serif", serif' font-size="12" fill="#111">3+</text>
<path d="M202.1,1082.2L288.2,1183.0" stroke="#222" stroke-width="0.9" stroke-dasharray="4,1.5" fill="none"/>
<path d="M293.4,1189.1L286.1,1184.8L289.5,1184.5L290.3,1181.2Z" fill="#222"/>
<path d="M133.4,1169.4L201.1,1238.7" stroke="#222" stroke-width="0.9" fill="none"/>
<path d="M206.7,1244.4L199.1,1240.6L202.5,1240.1L203.1,1236.7Z" fill="#222"/>
<path d="M446.0,1105.8L374.6,1202.9" stroke="#222" stroke-width="0.9" stroke-dasharray="4,1.5" fill="none"/>
<path d="M369.9,1209.3L372.4,1201.2L373.5,1204.5L376.9,1204.5Z" fill="#222"/>
<path d="M493.0,1197.8L438.8,1272.4" stroke="#222" stroke-width="0.9" stroke-dasharray="4,1.5" fill="none"/>
<path d="M434.1,1278.9L436.5,1270.8L437.6,1274.0L441.1,1274.1Z" fill="#222"/>
<text x="174.1" y="1394.9" font-family='"Liberation Serif", serif' font-size="30.5" fill="#000">Binding energy (eV)</text>
<text transform="translate(31.3,1195.5) rotate(-90)" font-family='"Liberation Serif", serif' font-size="30" fill="#000" x="-1">Intensity</text>
<rect x="631.8" y="974.1" width="483.2" height="358.8" fill="none" stroke="#2b2b2b" stroke-width="1.5"/>
<path d="M696.5,1332.9V1326.1 M782.8,1332.9V1326.1 M869.1,1332.9V1326.1 M955.4,1332.9V1326.1 M1041.7,1332.9V1326.1 M653.4,1332.9V1329.4 M739.7,1332.9V1329.4 M825.9,1332.9V1329.4 M912.2,1332.9V1329.4 M998.5,1332.9V1329.4 M1084.8,1332.9V1329.4 M631.8,1076.4H638.6 M631.8,1204.4H638.6 M631.8,1012.4H635.6 M631.8,1140.6H635.6 M631.8,1268.6H635.6" stroke="#333" stroke-width="1.2" fill="none"/>
<text x="696.5" y="1358.7" text-anchor="middle" font-family='"Liberation Serif", serif' font-size="23.5" fill="#000">464</text>
<text x="782.8" y="1358.7" text-anchor="middle" font-family='"Liberation Serif", serif' font-size="23.5" fill="#000">462</text>
<text x="869.1" y="1358.7" text-anchor="middle" font-family='"Liberation Serif", serif' font-size="23.5" fill="#000">460</text>
<text x="955.4" y="1358.7" text-anchor="middle" font-family='"Liberation Serif", serif' font-size="23.5" fill="#000">458</text>
<text x="1041.7" y="1358.7" text-anchor="middle" font-family='"Liberation Serif", serif' font-size="23.5" fill="#000">456</text>
<path d="M632.5,1260.5 L633.5,1260.4 L634.5,1260.3 L635.5,1260.1 L636.5,1260.0 L637.5,1259.8 L638.5,1259.7 L639.5,1259.6 L640.5,1259.4 L641.5,1259.3 L642.5,1259.1 L643.5,1258.9 L644.5,1258.7 L645.5,1258.6 L646.5,1258.4 L647.5,1258.2 L648.5,1258.0 L649.5,1257.7 L650.5,1257.5 L651.5,1257.3 L652.5,1257.0 L653.5,1256.7 L654.5,1256.4 L655.5,1256.1 L656.5,1255.8 L657.5,1255.4 L658.5,1255.0 L659.5,1254.6 L660.5,1254.1 L661.5,1253.6 L662.5,1253.1 L663.5,1252.5 L664.5,1251.9 L665.5,1251.3 L666.5,1250.6 L667.5,1249.8 L668.5,1249.0 L669.5,1248.1 L670.5,1247.1 L671.5,1246.1 L672.5,1245.0 L673.5,1243.9 L674.5,1242.7 L675.5,1241.4 L676.5,1240.0 L677.5,1238.5 L678.5,1237.0 L679.5,1235.3 L680.5,1233.5 L681.5,1231.7 L682.5,1229.7 L683.5,1227.6 L684.5,1225.4 L685.5,1223.0 L686.5,1220.6 L687.5,1218.0 L688.5,1215.3 L689.5,1212.5 L690.5,1209.5 L691.5,1206.4 L692.5,1203.3 L693.5,1200.0 L694.5,1196.6 L695.5,1193.1 L696.5,1189.5 L697.5,1185.9 L698.5,1182.2 L699.5,1178.5 L700.5,1174.8 L701.5,1171.0 L702.5,1167.3 L703.5,1163.7 L704.5,1160.2 L705.5,1156.8 L706.5,1153.6 L707.5,1150.6 L708.5,1147.9 L709.5,1145.5 L710.5,1143.4 L711.5,1141.7 L712.5,1140.3 L713.5,1139.4 L714.5,1139.0 L715.5,1138.9 L716.5,1139.4 L717.5,1140.2 L718.5,1141.5 L719.5,1143.1 L720.5,1145.2 L721.5,1147.6 L722.5,1150.3 L723.5,1153.2 L724.5,1156.4 L725.5,1159.7 L726.5,1163.3 L727.5,1166.9 L728.5,1170.7 L729.5,1174.6 L730.5,1178.5 L731.5,1182.4 L732.5,1186.3 L733.5,1190.3 L734.5,1194.1 L735.5,1198.0 L736.5,1201.7 L737.5,1205.4 L738.5,1208.9 L739.5,1212.4 L740.5,1215.7 L741.5,1218.9 L742.5,1222.0 L743.5,1225.0 L744.5,1227.8 L745.5,1230.5 L746.5,1233.0 L747.5,1235.4 L748.5,1237.6 L749.5,1239.7 L750.5,1241.6 L751.5,1243.4 L752.5,1245.1 L753.5,1246.6 L754.5,1248.1 L755.5,1249.5 L756.5,1250.8 L757.5,1252.0 L758.5,1253.1 L759.5,1254.1 L760.5,1255.1 L761.5,1255.9 L762.5,1256.8 L763.5,1257.5 L764.5,1258.3 L765.5,1258.9 L766.5,1259.5 L767.5,1260.1 L768.5,1260.7 L769.5,1261.2 L770.5,1261.6 L771.5,1262.1 L772.5,1262.5 L773.5,1262.9 L774.5,1263.3 L775.5,1263.7 L776.5,1264.2 L777.5,1264.7 L778.5,1265.2 L779.5,1265.8 L780.5,1266.4 L781.5,1266.9 L782.5,1267.5 L783.5,1268.0 L784.5,1268.5 L785.5,1269.0 L786.5,1269.5 L787.5,1269.9 L788.5,1270.2 L789.5,1270.5 L790.5,1270.7 L791.5,1270.9 L792.5,1271.1 L793.5,1271.2 L794.5,1271.4 L795.5,1271.6 L796.5,1271.7 L797.5,1271.9 L798.5,1272.0 L799.5,1272.2 L800.5,1272.3 L801.5,1272.5 L802.5,1272.8 L803.5,1273.0 L804.5,1273.4 L805.5,1273.7 L806.5,1274.0 L807.5,1274.4 L808.5,1274.8 L809.5,1275.2 L810.5,1275.6 L811.5,1276.0 L812.5,1276.4 L813.5,1276.7 L814.5,1277.1 L815.5,1277.4 L816.5,1277.7 L817.5,1278.0 L818.5,1278.3 L819.5,1278.5 L820.5,1278.6 L821.5,1278.7 L822.5,1278.8 L823.5,1278.9 L824.5,1278.9 L825.5,1279.0 L826.5,1279.0 L827.5,1279.0 L828.5,1279.1 L829.5,1279.1 L830.5,1279.2 L831.5,1279.2 L832.5,1279.2 L833.5,1279.2 L834.5,1279.3 L835.5,1279.3 L836.5,1279.3 L837.5,1279.3 L838.5,1279.3 L839.5,1279.3 L840.5,1279.3 L841.5,1279.4 L842.5,1279.4 L843.5,1279.4 L844.5,1279.3 L845.5,1279.3 L846.5,1279.3 L847.5,1279.2 L848.5,1279.2 L849.5,1279.1 L850.5,1279.1 L851.5,1279.0 L852.5,1279.0 L853.5,1278.9 L854.5,1278.8 L855.5,1278.8 L856.5,1278.7 L857.5,1278.7 L858.5,1278.6 L859.5,1278.5 L860.5,1278.5 L861.5,1278.5 L862.5,1278.4 L863.5,1278.4 L864.5,1278.4 L865.5,1278.4 L866.5,1278.4 L867.5,1278.4 L868.5,1278.5 L869.5,1278.5 L870.5,1278.6 L871.5,1278.7 L872.5,1278.8 L873.5,1279.0 L874.5,1279.1 L875.5,1279.2 L876.5,1279.4 L877.5,1279.6 L878.5,1279.8 L879.5,1280.1 L880.5,1280.5 L881.5,1280.9 L882.5,1281.3 L883.5,1281.8 L884.5,1282.3 L885.5,1282.7 L886.5,1283.1 L887.5,1283.5 L888.5,1283.8 L889.5,1284.1 L890.5,1284.3 L891.5,1284.5 L892.5,1284.7 L893.5,1284.9 L894.5,1285.1 L895.5,1285.3 L896.5,1285.5 L897.5,1285.7 L898.5,1285.8 L899.5,1286.0 L900.5,1286.2 L901.5,1286.3 L902.5,1286.5 L903.5,1286.6 L904.5,1286.8 L905.5,1286.9 L906.5,1287.1 L907.5,1287.2 L908.5,1287.3 L909.5,1287.5 L910.5,1287.6 L911.5,1287.7 L912.5,1287.8 L913.5,1288.0 L914.5,1288.1 L915.5,1288.2 L916.5,1288.3 L917.5,1288.5 L918.5,1288.6 L919.5,1288.7 L920.5,1288.8 L921.5,1288.9 L922.5,1289.1 L923.5,1289.2 L924.5,1289.3 L925.5,1289.4 L926.5,1289.5 L927.5,1289.6 L928.5,1289.7 L929.5,1289.8 L930.5,1289.9 L931.5,1290.0 L932.5,1290.1 L933.5,1290.2 L934.5,1290.3 L935.5,1290.5 L936.5,1290.6 L937.5,1290.7 L938.5,1290.8 L939.5,1290.9 L940.5,1291.0 L941.5,1291.1 L942.5,1291.2 L943.5,1291.3 L944.5,1291.5 L945.5,1291.6 L946.5,1291.7 L947.5,1291.8 L948.5,1291.9 L949.5,1292.1 L950.5,1292.2 L951.5,1292.3 L952.5,1292.5 L953.5,1292.7 L954.5,1292.8 L955.5,1293.0 L956.5,1293.2 L957.5,1293.4 L958.5,1293.6 L959.5,1293.8 L960.5,1294.1 L961.5,1294.4 L962.5,1294.9 L963.5,1295.4 L964.5,1295.9 L965.5,1296.4 L966.5,1296.8 L967.5,1297.1 L968.5,1297.4 L969.5,1297.6 L970.5,1297.7 L971.5,1297.9 L972.5,1298.1 L973.5,1298.2 L974.5,1298.3 L975.5,1298.5 L976.5,1298.6 L977.5,1298.7 L978.5,1298.9 L979.5,1299.0 L980.5,1299.2 L981.5,1299.4 L982.5,1299.6 L983.5,1299.8 L984.5,1300.0 L985.5,1300.2 L986.5,1300.4 L987.5,1300.6 L988.5,1300.8 L989.5,1301.0 L990.5,1301.3 L991.5,1301.5 L992.5,1301.7 L993.5,1301.9 L994.5,1302.1 L995.5,1302.4 L996.5,1302.6 L997.5,1302.8 L998.5,1303.0 L999.5,1303.2 L1000.5,1303.5 L1001.5,1303.7 L1002.5,1304.0 L1003.5,1304.2 L1004.5,1304.5 L1005.5,1304.8 L1006.5,1305.0 L1007.5,1305.3 L1008.5,1305.5 L1009.5,1305.8 L1010.5,1306.0 L1011.5,1306.1 L1012.5,1306.3 L1013.5,1306.4 L1014.5,1306.5 L1015.5,1306.5 L1016.5,1306.5 L1017.5,1306.5 L1018.5,1306.5 L1019.5,1306.4 L1020.5,1306.4 L1021.5,1306.3 L1022.5,1306.2 L1023.5,1306.1 L1024.5,1306.1 L1025.5,1306.0 L1026.5,1306.0 L1027.5,1306.0 L1028.5,1306.0 L1029.5,1306.0 L1030.5,1306.1 L1031.5,1306.3 L1032.5,1306.5 L1033.5,1306.7 L1034.5,1306.9 L1035.5,1307.2 L1036.5,1307.5 L1037.5,1307.8 L1038.5,1308.2 L1039.5,1308.5 L1040.5,1308.9 L1041.5,1309.3 L1042.5,1309.6 L1043.5,1310.0 L1044.5,1310.4 L1045.5,1310.7 L1046.5,1311.1 L1047.5,1311.4 L1048.5,1311.7 L1049.5,1312.0 L1050.5,1312.3 L1051.5,1312.5 L1052.5,1312.7 L1053.5,1313.0 L1054.5,1313.2 L1055.5,1313.4 L1056.5,1313.6 L1057.5,1313.9 L1058.5,1314.1 L1059.5,1314.3 L1060.5,1314.5 L1061.5,1314.7 L1062.5,1314.9 L1063.5,1315.1 L1064.5,1315.2 L1065.5,1315.4 L1066.5,1315.5 L1067.5,1315.6 L1068.5,1315.6 L1069.5,1315.7 L1070.5,1315.7 L1071.5,1315.6 L1072.5,1315.6 L1073.5,1315.5 L1074.5,1315.4 L1075.5,1315.3 L1076.5,1315.2 L1077.5,1315.2 L1078.5,1315.1 L1079.5,1315.1 L1080.5,1315.1 L1081.5,1315.2 L1082.5,1315.4 L1083.5,1315.6 L1084.5,1315.9 L1085.5,1316.3 L1086.5,1316.6 L1087.5,1317.0 L1088.5,1317.4 L1089.5,1317.8 L1090.5,1318.2 L1091.5,1318.6 L1092.5,1318.9 L1093.5,1319.2 L1094.5,1319.4 L1095.5,1319.6 L1096.5,1319.9 L1097.5,1320.1 L1098.5,1320.3 L1099.5,1320.5 L1100.5,1320.7 L1101.5,1320.9 L1102.5,1321.1 L1103.5,1321.2 L1104.5,1321.4 L1105.5,1321.6 L1106.5,1321.8 L1107.5,1321.9 L1108.5,1322.1 L1109.5,1322.2 L1110.5,1322.3 L1111.5,1322.5 L1112.5,1322.6 L1113.5,1322.7" stroke="#9b1cff" stroke-width="1.7" fill="none"/>
<path d="M632.5,1264.8 L633.5,1264.8 L634.5,1264.8 L635.5,1264.8 L636.5,1264.8 L637.5,1264.7 L638.5,1264.7 L639.5,1264.8 L640.5,1264.8 L641.5,1264.8 L642.5,1264.8 L643.5,1264.8 L644.5,1264.8 L645.5,1264.8 L646.5,1264.8 L647.5,1264.8 L648.5,1264.8 L649.5,1264.9 L650.5,1264.9 L651.5,1264.9 L652.5,1264.9 L653.5,1264.9 L654.5,1265.0 L655.5,1265.0 L656.5,1265.0 L657.5,1265.0 L658.5,1265.1 L659.5,1265.1 L660.5,1265.1 L661.5,1265.1 L662.5,1265.2 L663.5,1265.2 L664.5,1265.2 L665.5,1265.3 L666.5,1265.3 L667.5,1265.3 L668.5,1265.3 L669.5,1265.4 L670.5,1265.4 L671.5,1265.4 L672.5,1265.5 L673.5,1265.5 L674.5,1265.6 L675.5,1265.7 L676.5,1265.7 L677.5,1265.8 L678.5,1265.9 L679.5,1266.0 L680.5,1266.1 L681.5,1266.3 L682.5,1266.4 L683.5,1266.5 L684.5,1266.6 L685.5,1266.7 L686.5,1266.9 L687.5,1267.0 L688.5,1267.1 L689.5,1267.2 L690.5,1267.3 L691.5,1267.4 L692.5,1267.4 L693.5,1267.5 L694.5,1267.6 L695.5,1267.6 L696.5,1267.7 L697.5,1267.7 L698.5,1267.7 L699.5,1267.7 L700.5,1267.6 L701.5,1267.6 L702.5,1267.5 L703.5,1267.4 L704.5,1267.3 L705.5,1267.2 L706.5,1267.1 L707.5,1267.0 L708.5,1266.8 L709.5,1266.7 L710.5,1266.6 L711.5,1266.4 L712.5,1266.3 L713.5,1266.1 L714.5,1265.9 L715.5,1265.8 L716.5,1265.6 L717.5,1265.4 L718.5,1265.2 L719.5,1265.0 L720.5,1264.9 L721.5,1264.7 L722.5,1264.5 L723.5,1264.3 L724.5,1264.1 L725.5,1263.9 L726.5,1263.8 L727.5,1263.6 L728.5,1263.5 L729.5,1263.4 L730.5,1263.3 L731.5,1263.2 L732.5,1263.2 L733.5,1263.1 L734.5,1263.1 L735.5,1263.1 L736.5,1263.0 L737.5,1263.0 L738.5,1263.0 L739.5,1262.9 L740.5,1262.8 L741.5,1262.7 L742.5,1262.5 L743.5,1262.4 L744.5,1262.1 L745.5,1261.9 L746.5,1261.5 L747.5,1261.2 L748.5,1260.7 L749.5,1260.2 L750.5,1259.6 L751.5,1258.9 L752.5,1258.2 L753.5,1257.5 L754.5,1256.6 L755.5,1255.7 L756.5,1254.8 L757.5,1253.8 L758.5,1252.7 L759.5,1251.5 L760.5,1250.3 L761.5,1249.0 L762.5,1247.6 L763.5,1246.1 L764.5,1244.5 L765.5,1242.8 L766.5,1241.0 L767.5,1239.1 L768.5,1237.1 L769.5,1235.0 L770.5,1232.8 L771.5,1230.4 L772.5,1228.0 L773.5,1225.4 L774.5,1222.7 L775.5,1220.0 L776.5,1217.2 L777.5,1214.3 L778.5,1211.3 L779.5,1208.3 L780.5,1205.2 L781.5,1202.0 L782.5,1198.7 L783.5,1195.3 L784.5,1191.9 L785.5,1188.3 L786.5,1184.8 L787.5,1181.1 L788.5,1177.5 L789.5,1173.8 L790.5,1170.2 L791.5,1166.6 L792.5,1163.3 L793.5,1160.1 L794.5,1157.2 L795.5,1154.5 L796.5,1152.2 L797.5,1150.3 L798.5,1148.8 L799.5,1147.7 L800.5,1147.1 L801.5,1147.0 L802.5,1147.5 L803.5,1148.4 L804.5,1149.8 L805.5,1151.7 L806.5,1154.1 L807.5,1156.8 L808.5,1159.8 L809.5,1163.1 L810.5,1166.7 L811.5,1170.4 L812.5,1174.3 L813.5,1178.3 L814.5,1182.4 L815.5,1186.5 L816.5,1190.5 L817.5,1194.6 L818.5,1198.5 L819.5,1202.4 L820.5,1206.1 L821.5,1209.7 L822.5,1213.2 L823.5,1216.6 L824.5,1219.8 L825.5,1222.9 L826.5,1226.0 L827.5,1228.8 L828.5,1231.6 L829.5,1234.2 L830.5,1236.7 L831.5,1239.1 L832.5,1241.4 L833.5,1243.5 L834.5,1245.5 L835.5,1247.4 L836.5,1249.2 L837.5,1250.9 L838.5,1252.5 L839.5,1253.9 L840.5,1255.3 L841.5,1256.6 L842.5,1257.9 L843.5,1259.0 L844.5,1260.0 L845.5,1261.0 L846.5,1261.9 L847.5,1262.7 L848.5,1263.4 L849.5,1264.1 L850.5,1264.8 L851.5,1265.4 L852.5,1265.9 L853.5,1266.4 L854.5,1266.9 L855.5,1267.3 L856.5,1267.7 L857.5,1268.1 L858.5,1268.5 L859.5,1268.8 L860.5,1269.1 L861.5,1269.4 L862.5,1269.7 L863.5,1270.0 L864.5,1270.3 L865.5,1270.5 L866.5,1270.8 L867.5,1271.1 L868.5,1271.3 L869.5,1271.6 L870.5,1271.9 L871.5,1272.2 L872.5,1272.5 L873.5,1272.9 L874.5,1273.2 L875.5,1273.5 L876.5,1273.8 L877.5,1274.1 L878.5,1274.5 L879.5,1275.0 L880.5,1275.5 L881.5,1276.0 L882.5,1276.6 L883.5,1277.2 L884.5,1277.8 L885.5,1278.3 L886.5,1278.9 L887.5,1279.3 L888.5,1279.7 L889.5,1280.1 L890.5,1280.4 L891.5,1280.7 L892.5,1281.0 L893.5,1281.3 L894.5,1281.6 L895.5,1281.9 L896.5,1282.1 L897.5,1282.4 L898.5,1282.6 L899.5,1282.9 L900.5,1283.1 L901.5,1283.3 L902.5,1283.6 L903.5,1283.8 L904.5,1284.0 L905.5,1284.2 L906.5,1284.4 L907.5,1284.6 L908.5,1284.8 L909.5,1284.9 L910.5,1285.1 L911.5,1285.3 L912.5,1285.5 L913.5,1285.7 L914.5,1285.8 L915.5,1286.0 L916.5,1286.2 L917.5,1286.3 L918.5,1286.5 L919.5,1286.7 L920.5,1286.8 L921.5,1287.0 L922.5,1287.1 L923.5,1287.3 L924.5,1287.4 L925.5,1287.5 L926.5,1287.7 L927.5,1287.8 L928.5,1288.0 L929.5,1288.1 L930.5,1288.2 L931.5,1288.4 L932.5,1288.5 L933.5,1288.7 L934.5,1288.8 L935.5,1288.9 L936.5,1289.1 L937.5,1289.2 L938.5,1289.4 L939.5,1289.5 L940.5,1289.6 L941.5,1289.8 L942.5,1289.9 L943.5,1290.0 L944.5,1290.2 L945.5,1290.3 L946.5,1290.4 L947.5,1290.6 L948.5,1290.7 L949.5,1290.9 L950.5,1291.0 L951.5,1291.2 L952.5,1291.4 L953.5,1291.5 L954.5,1291.7 L955.5,1291.9 L956.5,1292.1 L957.5,1292.3 L958.5,1292.5 L959.5,1292.8 L960.5,1293.1 L961.5,1293.5 L962.5,1293.9 L963.5,1294.4 L964.5,1294.9 L965.5,1295.4 L966.5,1295.9 L967.5,1296.2 L968.5,1296.5 L969.5,1296.7 L970.5,1296.9 L971.5,1297.1 L972.5,1297.2 L973.5,1297.4 L974.5,1297.5 L975.5,1297.6 L976.5,1297.8 L977.5,1297.9 L978.5,1298.1 L979.5,1298.3 L980.5,1298.4 L981.5,1298.6 L982.5,1298.8 L983.5,1299.0 L984.5,1299.3 L985.5,1299.5 L986.5,1299.7 L987.5,1299.9 L988.5,1300.1 L989.5,1300.4 L990.5,1300.6 L991.5,1300.8 L992.5,1301.1 L993.5,1301.3 L994.5,1301.5 L995.5,1301.7 L996.5,1302.0 L997.5,1302.2 L998.5,1302.4 L999.5,1302.6 L1000.5,1302.9 L1001.5,1303.1 L1002.5,1303.4 L1003.5,1303.7 L1004.5,1304.0 L1005.5,1304.2 L1006.5,1304.5 L1007.5,1304.8 L1008.5,1305.0 L1009.5,1305.2 L1010.5,1305.4 L1011.5,1305.6 L1012.5,1305.8 L1013.5,1305.9 L1014.5,1306.0 L1015.5,1306.0 L1016.5,1306.1 L1017.5,1306.0 L1018.5,1306.0 L1019.5,1306.0 L1020.5,1305.9 L1021.5,1305.8 L1022.5,1305.8 L1023.5,1305.7 L1024.5,1305.6 L1025.5,1305.6 L1026.5,1305.6 L1027.5,1305.5 L1028.5,1305.6 L1029.5,1305.6 L1030.5,1305.7 L1031.5,1305.9 L1032.5,1306.1 L1033.5,1306.3 L1034.5,1306.5 L1035.5,1306.8 L1036.5,1307.1 L1037.5,1307.5 L1038.5,1307.8 L1039.5,1308.2 L1040.5,1308.5 L1041.5,1308.9 L1042.5,1309.3 L1043.5,1309.6 L1044.5,1310.0 L1045.5,1310.4 L1046.5,1310.7 L1047.5,1311.1 L1048.5,1311.4 L1049.5,1311.7 L1050.5,1312.0 L1051.5,1312.2 L1052.5,1312.4 L1053.5,1312.6 L1054.5,1312.9 L1055.5,1313.1 L1056.5,1313.3 L1057.5,1313.6 L1058.5,1313.8 L1059.5,1314.0 L1060.5,1314.2 L1061.5,1314.4 L1062.5,1314.6 L1063.5,1314.8 L1064.5,1314.9 L1065.5,1315.1 L1066.5,1315.2 L1067.5,1315.3 L1068.5,1315.4 L1069.5,1315.4 L1070.5,1315.4 L1071.5,1315.4 L1072.5,1315.3 L1073.5,1315.2 L1074.5,1315.2 L1075.5,1315.1 L1076.5,1315.0 L1077.5,1314.9 L1078.5,1314.9 L1079.5,1314.8 L1080.5,1314.9 L1081.5,1315.0 L1082.5,1315.1 L1083.5,1315.4 L1084.5,1315.7 L1085.5,1316.0 L1086.5,1316.4 L1087.5,1316.8 L1088.5,1317.2 L1089.5,1317.6 L1090.5,1318.0 L1091.5,1318.4 L1092.5,1318.7 L1093.5,1319.0 L1094.5,1319.2 L1095.5,1319.4 L1096.5,1319.6 L1097.5,1319.9 L1098.5,1320.1 L1099.5,1320.3 L1100.5,1320.5 L1101.5,1320.7 L1102.5,1320.9 L1103.5,1321.0 L1104.5,1321.2 L1105.5,1321.4 L1106.5,1321.6 L1107.5,1321.7 L1108.5,1321.9 L1109.5,1322.0 L1110.5,1322.2 L1111.5,1322.3 L1112.5,1322.4 L1113.5,1322.5" stroke="#14961e" stroke-width="1.7" fill="none"/>
<path d="M632.5,1265.5 L633.5,1265.5 L634.5,1265.5 L635.5,1265.5 L636.5,1265.5 L637.5,1265.5 L638.5,1265.5 L639.5,1265.5 L640.5,1265.6 L641.5,1265.6 L642.5,1265.6 L643.5,1265.6 L644.5,1265.6 L645.5,1265.7 L646.5,1265.7 L647.5,1265.7 L648.5,1265.8 L649.5,1265.8 L650.5,1265.8 L651.5,1265.9 L652.5,1265.9 L653.5,1266.0 L654.5,1266.0 L655.5,1266.1 L656.5,1266.1 L657.5,1266.1 L658.5,1266.2 L659.5,1266.2 L660.5,1266.3 L661.5,1266.3 L662.5,1266.4 L663.5,1266.4 L664.5,1266.5 L665.5,1266.6 L666.5,1266.6 L667.5,1266.7 L668.5,1266.7 L669.5,1266.8 L670.5,1266.8 L671.5,1266.9 L672.5,1267.0 L673.5,1267.0 L674.5,1267.1 L675.5,1267.2 L676.5,1267.4 L677.5,1267.5 L678.5,1267.6 L679.5,1267.8 L680.5,1267.9 L681.5,1268.1 L682.5,1268.2 L683.5,1268.4 L684.5,1268.6 L685.5,1268.7 L686.5,1268.9 L687.5,1269.0 L688.5,1269.2 L689.5,1269.3 L690.5,1269.5 L691.5,1269.6 L692.5,1269.8 L693.5,1269.9 L694.5,1270.0 L695.5,1270.1 L696.5,1270.2 L697.5,1270.3 L698.5,1270.4 L699.5,1270.4 L700.5,1270.4 L701.5,1270.5 L702.5,1270.5 L703.5,1270.4 L704.5,1270.4 L705.5,1270.4 L706.5,1270.4 L707.5,1270.3 L708.5,1270.3 L709.5,1270.2 L710.5,1270.2 L711.5,1270.1 L712.5,1270.0 L713.5,1270.0 L714.5,1269.9 L715.5,1269.9 L716.5,1269.8 L717.5,1269.7 L718.5,1269.7 L719.5,1269.6 L720.5,1269.6 L721.5,1269.5 L722.5,1269.5 L723.5,1269.4 L724.5,1269.4 L725.5,1269.4 L726.5,1269.4 L727.5,1269.4 L728.5,1269.4 L729.5,1269.5 L730.5,1269.6 L731.5,1269.8 L732.5,1269.9 L733.5,1270.1 L734.5,1270.3 L735.5,1270.5 L736.5,1270.7 L737.5,1271.0 L738.5,1271.2 L739.5,1271.4 L740.5,1271.7 L741.5,1271.9 L742.5,1272.1 L743.5,1272.3 L744.5,1272.5 L745.5,1272.6 L746.5,1272.8 L747.5,1272.9 L748.5,1272.9 L749.5,1273.0 L750.5,1273.0 L751.5,1272.9 L752.5,1272.9 L753.5,1272.9 L754.5,1272.8 L755.5,1272.8 L756.5,1272.7 L757.5,1272.7 L758.5,1272.6 L759.5,1272.5 L760.5,1272.5 L761.5,1272.4 L762.5,1272.3 L763.5,1272.2 L764.5,1272.2 L765.5,1272.1 L766.5,1272.0 L767.5,1272.0 L768.5,1271.9 L769.5,1271.8 L770.5,1271.8 L771.5,1271.7 L772.5,1271.7 L773.5,1271.6 L774.5,1271.6 L775.5,1271.7 L776.5,1271.7 L777.5,1271.9 L778.5,1272.1 L779.5,1272.3 L780.5,1272.6 L781.5,1272.8 L782.5,1273.1 L783.5,1273.4 L784.5,1273.6 L785.5,1273.9 L786.5,1274.1 L787.5,1274.2 L788.5,1274.4 L789.5,1274.4 L790.5,1274.4 L791.5,1274.4 L792.5,1274.4 L793.5,1274.4 L794.5,1274.4 L795.5,1274.3 L796.5,1274.3 L797.5,1274.3 L798.5,1274.3 L799.5,1274.2 L800.5,1274.2 L801.5,1274.3 L802.5,1274.4 L803.5,1274.5 L804.5,1274.6 L805.5,1274.8 L806.5,1275.0 L807.5,1275.3 L808.5,1275.5 L809.5,1275.8 L810.5,1276.0 L811.5,1276.3 L812.5,1276.5 L813.5,1276.8 L814.5,1277.0 L815.5,1277.2 L816.5,1277.4 L817.5,1277.5 L818.5,1277.6 L819.5,1277.7 L820.5,1277.7 L821.5,1277.7 L822.5,1277.6 L823.5,1277.6 L824.5,1277.5 L825.5,1277.4 L826.5,1277.3 L827.5,1277.2 L828.5,1277.1 L829.5,1277.0 L830.5,1276.9 L831.5,1276.8 L832.5,1276.7 L833.5,1276.6 L834.5,1276.5 L835.5,1276.4 L836.5,1276.3 L837.5,1276.2 L838.5,1276.0 L839.5,1275.9 L840.5,1275.8 L841.5,1275.7 L842.5,1275.5 L843.5,1275.4 L844.5,1275.2 L845.5,1275.0 L846.5,1274.9 L847.5,1274.7 L848.5,1274.5 L849.5,1274.3 L850.5,1274.0 L851.5,1273.8 L852.5,1273.6 L853.5,1273.4 L854.5,1273.1 L855.5,1272.9 L856.5,1272.6 L857.5,1272.4 L858.5,1272.2 L859.5,1271.9 L860.5,1271.7 L861.5,1271.4 L862.5,1271.2 L863.5,1271.0 L864.5,1270.7 L865.5,1270.5 L866.5,1270.3 L867.5,1270.1 L868.5,1269.9 L869.5,1269.7 L870.5,1269.6 L871.5,1269.4 L872.5,1269.3 L873.5,1269.1 L874.5,1269.0 L875.5,1268.8 L876.5,1268.7 L877.5,1268.6 L878.5,1268.5 L879.5,1268.5 L880.5,1268.5 L881.5,1268.6 L882.5,1268.6 L883.5,1268.7 L884.5,1268.8 L885.5,1268.8 L886.5,1268.8 L887.5,1268.8 L888.5,1268.6 L889.5,1268.4 L890.5,1268.1 L891.5,1267.8 L892.5,1267.4 L893.5,1267.0 L894.5,1266.6 L895.5,1266.1 L896.5,1265.6 L897.5,1265.1 L898.5,1264.5 L899.5,1263.8 L900.5,1263.1 L901.5,1262.3 L902.5,1261.5 L903.5,1260.6 L904.5,1259.6 L905.5,1258.5 L906.5,1257.4 L907.5,1256.1 L908.5,1254.8 L909.5,1253.4 L910.5,1251.8 L911.5,1250.1 L912.5,1248.3 L913.5,1246.4 L914.5,1244.3 L915.5,1242.1 L916.5,1239.8 L917.5,1237.2 L918.5,1234.5 L919.5,1231.6 L920.5,1228.5 L921.5,1225.2 L922.5,1221.8 L923.5,1218.1 L924.5,1214.1 L925.5,1210.0 L926.5,1205.6 L927.5,1201.1 L928.5,1196.2 L929.5,1191.2 L930.5,1185.9 L931.5,1180.4 L932.5,1174.7 L933.5,1168.8 L934.5,1162.6 L935.5,1156.3 L936.5,1149.7 L937.5,1143.0 L938.5,1136.1 L939.5,1129.1 L940.5,1122.0 L941.5,1114.8 L942.5,1107.5 L943.5,1100.3 L944.5,1093.1 L945.5,1086.0 L946.5,1079.1 L947.5,1072.3 L948.5,1065.9 L949.5,1059.8 L950.5,1054.1 L951.5,1048.9 L952.5,1044.3 L953.5,1040.3 L954.5,1037.1 L955.5,1034.6 L956.5,1032.9 L957.5,1032.0 L958.5,1032.0 L959.5,1032.8 L960.5,1034.6 L961.5,1037.2 L962.5,1040.7 L963.5,1045.0 L964.5,1049.9 L965.5,1055.4 L966.5,1061.4 L967.5,1067.8 L968.5,1074.4 L969.5,1081.3 L970.5,1088.5 L971.5,1095.8 L972.5,1103.2 L973.5,1110.6 L974.5,1118.1 L975.5,1125.6 L976.5,1133.0 L977.5,1140.3 L978.5,1147.5 L979.5,1154.5 L980.5,1161.4 L981.5,1168.2 L982.5,1174.7 L983.5,1181.1 L984.5,1187.2 L985.5,1193.1 L986.5,1198.8 L987.5,1204.3 L988.5,1209.5 L989.5,1214.5 L990.5,1219.3 L991.5,1223.9 L992.5,1228.2 L993.5,1232.3 L994.5,1236.2 L995.5,1239.9 L996.5,1243.4 L997.5,1246.7 L998.5,1249.9 L999.5,1252.8 L1000.5,1255.6 L1001.5,1258.3 L1002.5,1260.8 L1003.5,1263.2 L1004.5,1265.4 L1005.5,1267.5 L1006.5,1269.5 L1007.5,1271.4 L1008.5,1273.1 L1009.5,1274.8 L1010.5,1276.3 L1011.5,1277.7 L1012.5,1279.0 L1013.5,1280.2 L1014.5,1281.3 L1015.5,1282.3 L1016.5,1283.1 L1017.5,1284.0 L1018.5,1284.7 L1019.5,1285.4 L1020.5,1286.0 L1021.5,1286.6 L1022.5,1287.2 L1023.5,1287.7 L1024.5,1288.2 L1025.5,1288.6 L1026.5,1289.1 L1027.5,1289.6 L1028.5,1290.0 L1029.5,1290.5 L1030.5,1291.0 L1031.5,1291.6 L1032.5,1292.2 L1033.5,1292.7 L1034.5,1293.3 L1035.5,1293.9 L1036.5,1294.6 L1037.5,1295.2 L1038.5,1295.8 L1039.5,1296.5 L1040.5,1297.1 L1041.5,1297.8 L1042.5,1298.4 L1043.5,1299.0 L1044.5,1299.6 L1045.5,1300.2 L1046.5,1300.8 L1047.5,1301.4 L1048.5,1301.9 L1049.5,1302.4 L1050.5,1302.9 L1051.5,1303.3 L1052.5,1303.7 L1053.5,1304.1 L1054.5,1304.5 L1055.5,1304.9 L1056.5,1305.3 L1057.5,1305.7 L1058.5,1306.1 L1059.5,1306.4 L1060.5,1306.8 L1061.5,1307.2 L1062.5,1307.5 L1063.5,1307.8 L1064.5,1308.1 L1065.5,1308.3 L1066.5,1308.6 L1067.5,1308.8 L1068.5,1309.0 L1069.5,1309.1 L1070.5,1309.2 L1071.5,1309.3 L1072.5,1309.4 L1073.5,1309.4 L1074.5,1309.4 L1075.5,1309.4 L1076.5,1309.5 L1077.5,1309.5 L1078.5,1309.5 L1079.5,1309.6 L1080.5,1309.7 L1081.5,1309.9 L1082.5,1310.1 L1083.5,1310.5 L1084.5,1310.8 L1085.5,1311.3 L1086.5,1311.7 L1087.5,1312.2 L1088.5,1312.7 L1089.5,1313.2 L1090.5,1313.6 L1091.5,1314.1 L1092.5,1314.4 L1093.5,1314.8 L1094.5,1315.1 L1095.5,1315.4 L1096.5,1315.6 L1097.5,1315.9 L1098.5,1316.2 L1099.5,1316.4 L1100.5,1316.7 L1101.5,1316.9 L1102.5,1317.2 L1103.5,1317.4 L1104.5,1317.7 L1105.5,1317.9 L1106.5,1318.1 L1107.5,1318.3 L1108.5,1318.5 L1109.5,1318.7 L1110.5,1318.9 L1111.5,1319.1 L1112.5,1319.2 L1113.5,1319.4" stroke="#16168c" stroke-width="1.7" fill="none"/>
<path d="M632.5,1265.6 L633.5,1265.6 L634.5,1265.6 L635.5,1265.6 L636.5,1265.7 L637.5,1265.7 L638.5,1265.7 L639.5,1265.7 L640.5,1265.7 L641.5,1265.7 L642.5,1265.8 L643.5,1265.8 L644.5,1265.8 L645.5,1265.9 L646.5,1265.9 L647.5,1265.9 L648.5,1266.0 L649.5,1266.0 L650.5,1266.0 L651.5,1266.1 L652.5,1266.1 L653.5,1266.2 L654.5,1266.2 L655.5,1266.3 L656.5,1266.3 L657.5,1266.4 L658.5,1266.4 L659.5,1266.5 L660.5,1266.5 L661.5,1266.6 L662.5,1266.6 L663.5,1266.7 L664.5,1266.7 L665.5,1266.8 L666.5,1266.8 L667.5,1266.9 L668.5,1267.0 L669.5,1267.0 L670.5,1267.1 L671.5,1267.1 L672.5,1267.2 L673.5,1267.3 L674.5,1267.4 L675.5,1267.5 L676.5,1267.6 L677.5,1267.8 L678.5,1267.9 L679.5,1268.1 L680.5,1268.2 L681.5,1268.4 L682.5,1268.5 L683.5,1268.7 L684.5,1268.9 L685.5,1269.0 L686.5,1269.2 L687.5,1269.3 L688.5,1269.5 L689.5,1269.7 L690.5,1269.8 L691.5,1270.0 L692.5,1270.1 L693.5,1270.2 L694.5,1270.3 L695.5,1270.4 L696.5,1270.5 L697.5,1270.6 L698.5,1270.7 L699.5,1270.8 L700.5,1270.8 L701.5,1270.8 L702.5,1270.8 L703.5,1270.8 L704.5,1270.8 L705.5,1270.8 L706.5,1270.7 L707.5,1270.7 L708.5,1270.7 L709.5,1270.6 L710.5,1270.6 L711.5,1270.5 L712.5,1270.5 L713.5,1270.4 L714.5,1270.4 L715.5,1270.3 L716.5,1270.2 L717.5,1270.2 L718.5,1270.1 L719.5,1270.1 L720.5,1270.0 L721.5,1270.0 L722.5,1270.0 L723.5,1269.9 L724.5,1269.9 L725.5,1269.9 L726.5,1269.9 L727.5,1269.9 L728.5,1269.9 L729.5,1270.0 L730.5,1270.2 L731.5,1270.3 L732.5,1270.5 L733.5,1270.7 L734.5,1270.9 L735.5,1271.1 L736.5,1271.3 L737.5,1271.6 L738.5,1271.8 L739.5,1272.1 L740.5,1272.3 L741.5,1272.5 L742.5,1272.7 L743.5,1272.9 L744.5,1273.1 L745.5,1273.3 L746.5,1273.4 L747.5,1273.6 L748.5,1273.6 L749.5,1273.7 L750.5,1273.7 L751.5,1273.7 L752.5,1273.6 L753.5,1273.6 L754.5,1273.6 L755.5,1273.5 L756.5,1273.5 L757.5,1273.4 L758.5,1273.4 L759.5,1273.3 L760.5,1273.3 L761.5,1273.2 L762.5,1273.2 L763.5,1273.1 L764.5,1273.0 L765.5,1273.0 L766.5,1272.9 L767.5,1272.9 L768.5,1272.8 L769.5,1272.8 L770.5,1272.7 L771.5,1272.7 L772.5,1272.7 L773.5,1272.7 L774.5,1272.6 L775.5,1272.7 L776.5,1272.8 L777.5,1273.0 L778.5,1273.2 L779.5,1273.4 L780.5,1273.7 L781.5,1274.0 L782.5,1274.3 L783.5,1274.6 L784.5,1274.8 L785.5,1275.1 L786.5,1275.3 L787.5,1275.5 L788.5,1275.6 L789.5,1275.7 L790.5,1275.8 L791.5,1275.8 L792.5,1275.8 L793.5,1275.8 L794.5,1275.8 L795.5,1275.8 L796.5,1275.8 L797.5,1275.8 L798.5,1275.8 L799.5,1275.8 L800.5,1275.8 L801.5,1275.9 L802.5,1276.0 L803.5,1276.2 L804.5,1276.3 L805.5,1276.6 L806.5,1276.8 L807.5,1277.1 L808.5,1277.3 L809.5,1277.6 L810.5,1277.9 L811.5,1278.2 L812.5,1278.5 L813.5,1278.8 L814.5,1279.0 L815.5,1279.3 L816.5,1279.5 L817.5,1279.7 L818.5,1279.8 L819.5,1279.9 L820.5,1280.0 L821.5,1280.0 L822.5,1280.0 L823.5,1280.0 L824.5,1279.9 L825.5,1279.9 L826.5,1279.9 L827.5,1279.8 L828.5,1279.8 L829.5,1279.8 L830.5,1279.7 L831.5,1279.7 L832.5,1279.6 L833.5,1279.6 L834.5,1279.5 L835.5,1279.5 L836.5,1279.4 L837.5,1279.4 L838.5,1279.3 L839.5,1279.3 L840.5,1279.2 L841.5,1279.2 L842.5,1279.1 L843.5,1279.0 L844.5,1279.0 L845.5,1278.9 L846.5,1278.8 L847.5,1278.7 L848.5,1278.6 L849.5,1278.4 L850.5,1278.3 L851.5,1278.2 L852.5,1278.1 L853.5,1277.9 L854.5,1277.8 L855.5,1277.7 L856.5,1277.6 L857.5,1277.4 L858.5,1277.3 L859.5,1277.2 L860.5,1277.1 L861.5,1277.0 L862.5,1276.9 L863.5,1276.8 L864.5,1276.7 L865.5,1276.7 L866.5,1276.6 L867.5,1276.6 L868.5,1276.6 L869.5,1276.6 L870.5,1276.6 L871.5,1276.6 L872.5,1276.7 L873.5,1276.7 L874.5,1276.8 L875.5,1276.9 L876.5,1277.0 L877.5,1277.1 L878.5,1277.2 L879.5,1277.5 L880.5,1277.8 L881.5,1278.1 L882.5,1278.5 L883.5,1278.9 L884.5,1279.3 L885.5,1279.7 L886.5,1280.0 L887.5,1280.3 L888.5,1280.6 L889.5,1280.7 L890.5,1280.9 L891.5,1281.0 L892.5,1281.2 L893.5,1281.3 L894.5,1281.4 L895.5,1281.5 L896.5,1281.6 L897.5,1281.7 L898.5,1281.8 L899.5,1281.9 L900.5,1282.0 L901.5,1282.0 L902.5,1282.1 L903.5,1282.1 L904.5,1282.2 L905.5,1282.3 L906.5,1282.3 L907.5,1282.3 L908.5,1282.4 L909.5,1282.4 L910.5,1282.4 L911.5,1282.5 L912.5,1282.5 L913.5,1282.5 L914.5,1282.5 L915.5,1282.5 L916.5,1282.5 L917.5,1282.6 L918.5,1282.6 L919.5,1282.6 L920.5,1282.6 L921.5,1282.5 L922.5,1282.5 L923.5,1282.5 L924.5,1282.5 L925.5,1282.4 L926.5,1282.4 L927.5,1282.4 L928.5,1282.3 L929.5,1282.3 L930.5,1282.2 L931.5,1282.2 L932.5,1282.1 L933.5,1282.1 L934.5,1282.1 L935.5,1282.0 L936.5,1281.9 L937.5,1281.9 L938.5,1281.8 L939.5,1281.7 L940.5,1281.6 L941.5,1281.5 L942.5,1281.5 L943.5,1281.4 L944.5,1281.2 L945.5,1281.1 L946.5,1281.0 L947.5,1280.9 L948.5,1280.8 L949.5,1280.7 L950.5,1280.6 L951.5,1280.5 L952.5,1280.3 L953.5,1280.2 L954.5,1280.1 L955.5,1280.0 L956.5,1279.9 L957.5,1279.7 L958.5,1279.6 L959.5,1279.5 L960.5,1279.4 L961.5,1279.5 L962.5,1279.5 L963.5,1279.6 L964.5,1279.7 L965.5,1279.8 L966.5,1279.8 L967.5,1279.7 L968.5,1279.5 L969.5,1279.2 L970.5,1278.9 L971.5,1278.5 L972.5,1278.1 L973.5,1277.7 L974.5,1277.2 L975.5,1276.8 L976.5,1276.2 L977.5,1275.7 L978.5,1275.1 L979.5,1274.5 L980.5,1273.9 L981.5,1273.3 L982.5,1272.6 L983.5,1271.9 L984.5,1271.1 L985.5,1270.3 L986.5,1269.4 L987.5,1268.5 L988.5,1267.5 L989.5,1266.4 L990.5,1265.3 L991.5,1264.1 L992.5,1262.7 L993.5,1261.3 L994.5,1259.8 L995.5,1258.2 L996.5,1256.5 L997.5,1254.7 L998.5,1252.7 L999.5,1250.6 L1000.5,1248.4 L1001.5,1246.1 L1002.5,1243.6 L1003.5,1241.0 L1004.5,1238.2 L1005.5,1235.2 L1006.5,1232.1 L1007.5,1228.7 L1008.5,1225.2 L1009.5,1221.5 L1010.5,1217.5 L1011.5,1213.3 L1012.5,1208.9 L1013.5,1204.2 L1014.5,1199.3 L1015.5,1194.1 L1016.5,1188.7 L1017.5,1183.1 L1018.5,1177.2 L1019.5,1171.2 L1020.5,1164.9 L1021.5,1158.4 L1022.5,1151.8 L1023.5,1145.0 L1024.5,1138.1 L1025.5,1131.1 L1026.5,1124.1 L1027.5,1117.0 L1028.5,1110.0 L1029.5,1103.0 L1030.5,1096.2 L1031.5,1089.6 L1032.5,1083.2 L1033.5,1077.1 L1034.5,1071.4 L1035.5,1066.1 L1036.5,1061.4 L1037.5,1057.2 L1038.5,1053.6 L1039.5,1050.7 L1040.5,1048.6 L1041.5,1047.2 L1042.5,1046.6 L1043.5,1046.9 L1044.5,1047.9 L1045.5,1049.8 L1046.5,1052.4 L1047.5,1055.8 L1048.5,1059.8 L1049.5,1064.4 L1050.5,1069.6 L1051.5,1075.3 L1052.5,1081.3 L1053.5,1087.7 L1054.5,1094.4 L1055.5,1101.4 L1056.5,1108.5 L1057.5,1115.7 L1058.5,1123.0 L1059.5,1130.2 L1060.5,1137.5 L1061.5,1144.6 L1062.5,1151.7 L1063.5,1158.6 L1064.5,1165.3 L1065.5,1171.9 L1066.5,1178.3 L1067.5,1184.4 L1068.5,1190.4 L1069.5,1196.1 L1070.5,1201.5 L1071.5,1206.8 L1072.5,1211.8 L1073.5,1216.5 L1074.5,1221.1 L1075.5,1225.4 L1076.5,1229.6 L1077.5,1233.5 L1078.5,1237.3 L1079.5,1240.9 L1080.5,1244.4 L1081.5,1247.7 L1082.5,1251.0 L1083.5,1254.2 L1084.5,1257.3 L1085.5,1260.2 L1086.5,1263.1 L1087.5,1265.8 L1088.5,1268.5 L1089.5,1271.0 L1090.5,1273.3 L1091.5,1275.5 L1092.5,1277.6 L1093.5,1279.5 L1094.5,1281.3 L1095.5,1283.0 L1096.5,1284.6 L1097.5,1286.1 L1098.5,1287.5 L1099.5,1288.9 L1100.5,1290.2 L1101.5,1291.4 L1102.5,1292.6 L1103.5,1293.7 L1104.5,1294.7 L1105.5,1295.8 L1106.5,1296.7 L1107.5,1297.6 L1108.5,1298.5 L1109.5,1299.3 L1110.5,1300.1 L1111.5,1300.9 L1112.5,1301.6 L1113.5,1302.3" stroke="#ff10ff" stroke-width="1.7" fill="none"/>
<path d="M632.5,1266.3 L633.5,1266.3 L634.5,1266.3 L635.5,1266.3 L636.5,1266.3 L637.5,1266.4 L638.5,1266.4 L639.5,1266.4 L640.5,1266.4 L641.5,1266.5 L642.5,1266.5 L643.5,1266.5 L644.5,1266.5 L645.5,1266.6 L646.5,1266.6 L647.5,1266.7 L648.5,1266.7 L649.5,1266.7 L650.5,1266.8 L651.5,1266.8 L652.5,1266.9 L653.5,1266.9 L654.5,1267.0 L655.5,1267.0 L656.5,1267.1 L657.5,1267.1 L658.5,1267.2 L659.5,1267.2 L660.5,1267.3 L661.5,1267.3 L662.5,1267.4 L663.5,1267.5 L664.5,1267.5 L665.5,1267.6 L666.5,1267.6 L667.5,1267.7 L668.5,1267.8 L669.5,1267.8 L670.5,1267.9 L671.5,1268.0 L672.5,1268.0 L673.5,1268.1 L674.5,1268.2 L675.5,1268.3 L676.5,1268.5 L677.5,1268.6 L678.5,1268.8 L679.5,1268.9 L680.5,1269.1 L681.5,1269.2 L682.5,1269.4 L683.5,1269.6 L684.5,1269.7 L685.5,1269.9 L686.5,1270.1 L687.5,1270.2 L688.5,1270.4 L689.5,1270.6 L690.5,1270.7 L691.5,1270.9 L692.5,1271.0 L693.5,1271.1 L694.5,1271.3 L695.5,1271.4 L696.5,1271.5 L697.5,1271.6 L698.5,1271.7 L699.5,1271.7 L700.5,1271.8 L701.5,1271.8 L702.5,1271.8 L703.5,1271.8 L704.5,1271.8 L705.5,1271.8 L706.5,1271.7 L707.5,1271.7 L708.5,1271.7 L709.5,1271.6 L710.5,1271.6 L711.5,1271.5 L712.5,1271.5 L713.5,1271.5 L714.5,1271.4 L715.5,1271.3 L716.5,1271.3 L717.5,1271.3 L718.5,1271.2 L719.5,1271.2 L720.5,1271.1 L721.5,1271.1 L722.5,1271.1 L723.5,1271.0 L724.5,1271.0 L725.5,1271.0 L726.5,1271.0 L727.5,1271.0 L728.5,1271.1 L729.5,1271.2 L730.5,1271.3 L731.5,1271.5 L732.5,1271.6 L733.5,1271.8 L734.5,1272.1 L735.5,1272.3 L736.5,1272.5 L737.5,1272.8 L738.5,1273.0 L739.5,1273.3 L740.5,1273.5 L741.5,1273.8 L742.5,1274.0 L743.5,1274.2 L744.5,1274.4 L745.5,1274.6 L746.5,1274.7 L747.5,1274.8 L748.5,1274.9 L749.5,1275.0 L750.5,1275.0 L751.5,1275.0 L752.5,1275.0 L753.5,1275.0 L754.5,1274.9 L755.5,1274.9 L756.5,1274.9 L757.5,1274.8 L758.5,1274.8 L759.5,1274.7 L760.5,1274.7 L761.5,1274.6 L762.5,1274.6 L763.5,1274.5 L764.5,1274.5 L765.5,1274.4 L766.5,1274.4 L767.5,1274.4 L768.5,1274.3 L769.5,1274.3 L770.5,1274.3 L771.5,1274.2 L772.5,1274.2 L773.5,1274.2 L774.5,1274.2 L775.5,1274.3 L776.5,1274.4 L777.5,1274.6 L778.5,1274.8 L779.5,1275.0 L780.5,1275.3 L781.5,1275.6 L782.5,1275.9 L783.5,1276.2 L784.5,1276.5 L785.5,1276.8 L786.5,1277.0 L787.5,1277.2 L788.5,1277.4 L789.5,1277.5 L790.5,1277.5 L791.5,1277.5 L792.5,1277.6 L793.5,1277.6 L794.5,1277.6 L795.5,1277.6 L796.5,1277.6 L797.5,1277.6 L798.5,1277.7 L799.5,1277.7 L800.5,1277.7 L801.5,1277.8 L802.5,1277.9 L803.5,1278.1 L804.5,1278.3 L805.5,1278.5 L806.5,1278.8 L807.5,1279.1 L808.5,1279.4 L809.5,1279.7 L810.5,1280.0 L811.5,1280.3 L812.5,1280.6 L813.5,1280.9 L814.5,1281.2 L815.5,1281.4 L816.5,1281.7 L817.5,1281.9 L818.5,1282.0 L819.5,1282.2 L820.5,1282.3 L821.5,1282.3 L822.5,1282.3 L823.5,1282.3 L824.5,1282.3 L825.5,1282.3 L826.5,1282.3 L827.5,1282.3 L828.5,1282.2 L829.5,1282.2 L830.5,1282.2 L831.5,1282.2 L832.5,1282.2 L833.5,1282.1 L834.5,1282.1 L835.5,1282.1 L836.5,1282.1 L837.5,1282.0 L838.5,1282.0 L839.5,1282.0 L840.5,1281.9 L841.5,1281.9 L842.5,1281.9 L843.5,1281.8 L844.5,1281.8 L845.5,1281.7 L846.5,1281.7 L847.5,1281.6 L848.5,1281.5 L849.5,1281.4 L850.5,1281.3 L851.5,1281.2 L852.5,1281.1 L853.5,1281.1 L854.5,1281.0 L855.5,1280.9 L856.5,1280.8 L857.5,1280.7 L858.5,1280.6 L859.5,1280.5 L860.5,1280.5 L861.5,1280.4 L862.5,1280.3 L863.5,1280.3 L864.5,1280.2 L865.5,1280.2 L866.5,1280.2 L867.5,1280.2 L868.5,1280.2 L869.5,1280.3 L870.5,1280.3 L871.5,1280.4 L872.5,1280.5 L873.5,1280.6 L874.5,1280.7 L875.5,1280.9 L876.5,1281.0 L877.5,1281.1 L878.5,1281.3 L879.5,1281.6 L880.5,1282.0 L881.5,1282.4 L882.5,1282.8 L883.5,1283.3 L884.5,1283.7 L885.5,1284.1 L886.5,1284.5 L887.5,1284.9 L888.5,1285.2 L889.5,1285.4 L890.5,1285.6 L891.5,1285.8 L892.5,1286.0 L893.5,1286.2 L894.5,1286.4 L895.5,1286.6 L896.5,1286.8 L897.5,1286.9 L898.5,1287.1 L899.5,1287.2 L900.5,1287.4 L901.5,1287.5 L902.5,1287.7 L903.5,1287.8 L904.5,1287.9 L905.5,1288.1 L906.5,1288.2 L907.5,1288.3 L908.5,1288.4 L909.5,1288.6 L910.5,1288.7 L911.5,1288.8 L912.5,1288.9 L913.5,1289.0 L914.5,1289.1 L915.5,1289.3 L916.5,1289.4 L917.5,1289.5 L918.5,1289.6 L919.5,1289.7 L920.5,1289.8 L921.5,1289.9 L922.5,1290.0 L923.5,1290.1 L924.5,1290.2 L925.5,1290.3 L926.5,1290.4 L927.5,1290.5 L928.5,1290.6 L929.5,1290.7 L930.5,1290.8 L931.5,1290.9 L932.5,1291.0 L933.5,1291.1 L934.5,1291.2 L935.5,1291.3 L936.5,1291.4 L937.5,1291.5 L938.5,1291.6 L939.5,1291.7 L940.5,1291.8 L941.5,1291.9 L942.5,1292.0 L943.5,1292.2 L944.5,1292.3 L945.5,1292.4 L946.5,1292.5 L947.5,1292.6 L948.5,1292.7 L949.5,1292.8 L950.5,1293.0 L951.5,1293.1 L952.5,1293.2 L953.5,1293.4 L954.5,1293.5 L955.5,1293.7 L956.5,1293.9 L957.5,1294.1 L958.5,1294.3 L959.5,1294.5 L960.5,1294.8 L961.5,1295.1 L962.5,1295.6 L963.5,1296.1 L964.5,1296.6 L965.5,1297.0 L966.5,1297.5 L967.5,1297.8 L968.5,1298.0 L969.5,1298.2 L970.5,1298.4 L971.5,1298.5 L972.5,1298.7 L973.5,1298.8 L974.5,1298.9 L975.5,1299.1 L976.5,1299.2 L977.5,1299.3 L978.5,1299.5 L979.5,1299.6 L980.5,1299.8 L981.5,1300.0 L982.5,1300.2 L983.5,1300.4 L984.5,1300.6 L985.5,1300.8 L986.5,1301.0 L987.5,1301.2 L988.5,1301.4 L989.5,1301.6 L990.5,1301.8 L991.5,1302.0 L992.5,1302.2 L993.5,1302.5 L994.5,1302.7 L995.5,1302.9 L996.5,1303.1 L997.5,1303.3 L998.5,1303.5 L999.5,1303.7 L1000.5,1304.0 L1001.5,1304.2 L1002.5,1304.5 L1003.5,1304.8 L1004.5,1305.0 L1005.5,1305.3 L1006.5,1305.5 L1007.5,1305.8 L1008.5,1306.0 L1009.5,1306.2 L1010.5,1306.4 L1011.5,1306.6 L1012.5,1306.8 L1013.5,1306.9 L1014.5,1307.0 L1015.5,1307.0 L1016.5,1307.0 L1017.5,1307.0 L1018.5,1306.9 L1019.5,1306.9 L1020.5,1306.8 L1021.5,1306.7 L1022.5,1306.7 L1023.5,1306.6 L1024.5,1306.5 L1025.5,1306.5 L1026.5,1306.4 L1027.5,1306.4 L1028.5,1306.4 L1029.5,1306.5 L1030.5,1306.6 L1031.5,1306.7 L1032.5,1306.9 L1033.5,1307.1 L1034.5,1307.3 L1035.5,1307.6 L1036.5,1307.9 L1037.5,1308.2 L1038.5,1308.6 L1039.5,1308.9 L1040.5,1309.3 L1041.5,1309.7 L1042.5,1310.0 L1043.5,1310.4 L1044.5,1310.8 L1045.5,1311.1 L1046.5,1311.5 L1047.5,1311.8 L1048.5,1312.1 L1049.5,1312.4 L1050.5,1312.7 L1051.5,1312.9 L1052.5,1313.1 L1053.5,1313.3 L1054.5,1313.5 L1055.5,1313.8 L1056.5,1314.0 L1057.5,1314.2 L1058.5,1314.4 L1059.5,1314.7 L1060.5,1314.9 L1061.5,1315.1 L1062.5,1315.3 L1063.5,1315.4 L1064.5,1315.6 L1065.5,1315.7 L1066.5,1315.8 L1067.5,1315.9 L1068.5,1316.0 L1069.5,1316.0 L1070.5,1316.0 L1071.5,1316.0 L1072.5,1315.9 L1073.5,1315.8 L1074.5,1315.7 L1075.5,1315.7 L1076.5,1315.6 L1077.5,1315.5 L1078.5,1315.4 L1079.5,1315.4 L1080.5,1315.4 L1081.5,1315.5 L1082.5,1315.7 L1083.5,1315.9 L1084.5,1316.2 L1085.5,1316.6 L1086.5,1316.9 L1087.5,1317.3 L1088.5,1317.7 L1089.5,1318.1 L1090.5,1318.5 L1091.5,1318.9 L1092.5,1319.2 L1093.5,1319.5 L1094.5,1319.7 L1095.5,1319.9 L1096.5,1320.1 L1097.5,1320.4 L1098.5,1320.6 L1099.5,1320.8 L1100.5,1321.0 L1101.5,1321.1 L1102.5,1321.3 L1103.5,1321.5 L1104.5,1321.7 L1105.5,1321.9 L1106.5,1322.0 L1107.5,1322.2 L1108.5,1322.3 L1109.5,1322.5 L1110.5,1322.6 L1111.5,1322.7 L1112.5,1322.9 L1113.5,1323.0" stroke="#1f2cff" stroke-width="1.7" fill="none" transform="translate(0,0.6)"/>
<path d="M632.5,1266.3 L633.5,1266.3 L634.5,1266.3 L635.5,1266.3 L636.5,1266.3 L637.5,1266.4 L638.5,1266.4 L639.5,1266.4 L640.5,1266.4 L641.5,1266.5 L642.5,1266.5 L643.5,1266.5 L644.5,1266.5 L645.5,1266.6 L646.5,1266.6 L647.5,1266.7 L648.5,1266.7 L649.5,1266.7 L650.5,1266.8 L651.5,1266.8 L652.5,1266.9 L653.5,1266.9 L654.5,1267.0 L655.5,1267.0 L656.5,1267.1 L657.5,1267.1 L658.5,1267.2 L659.5,1267.2 L660.5,1267.3 L661.5,1267.3 L662.5,1267.4 L663.5,1267.5 L664.5,1267.5 L665.5,1267.6 L666.5,1267.6 L667.5,1267.7 L668.5,1267.8 L669.5,1267.8 L670.5,1267.9 L671.5,1268.0 L672.5,1268.0 L673.5,1268.1 L674.5,1268.2 L675.5,1268.3 L676.5,1268.5 L677.5,1268.6 L678.5,1268.8 L679.5,1268.9 L680.5,1269.1 L681.5,1269.2 L682.5,1269.4 L683.5,1269.6 L684.5,1269.7 L685.5,1269.9 L686.5,1270.1 L687.5,1270.2 L688.5,1270.4 L689.5,1270.6 L690.5,1270.7 L691.5,1270.9 L692.5,1271.0 L693.5,1271.1 L694.5,1271.3 L695.5,1271.4 L696.5,1271.5 L697.5,1271.6 L698.5,1271.7 L699.5,1271.7 L700.5,1271.8 L701.5,1271.8 L702.5,1271.8 L703.5,1271.8 L704.5,1271.8 L705.5,1271.8 L706.5,1271.7 L707.5,1271.7 L708.5,1271.7 L709.5,1271.6 L710.5,1271.6 L711.5,1271.5 L712.5,1271.5 L713.5,1271.5 L714.5,1271.4 L715.5,1271.3 L716.5,1271.3 L717.5,1271.3 L718.5,1271.2 L719.5,1271.2 L720.5,1271.1 L721.5,1271.1 L722.5,1271.1 L723.5,1271.0 L724.5,1271.0 L725.5,1271.0 L726.5,1271.0 L727.5,1271.0 L728.5,1271.1 L729.5,1271.2 L730.5,1271.3 L731.5,1271.5 L732.5,1271.6 L733.5,1271.8 L734.5,1272.1 L735.5,1272.3 L736.5,1272.5 L737.5,1272.8 L738.5,1273.0 L739.5,1273.3 L740.5,1273.5 L741.5,1273.8 L742.5,1274.0 L743.5,1274.2 L744.5,1274.4 L745.5,1274.6 L746.5,1274.7 L747.5,1274.8 L748.5,1274.9 L749.5,1275.0 L750.5,1275.0 L751.5,1275.0 L752.5,1275.0 L753.5,1275.0 L754.5,1274.9 L755.5,1274.9 L756.5,1274.9 L757.5,1274.8 L758.5,1274.8 L759.5,1274.7 L760.5,1274.7 L761.5,1274.6 L762.5,1274.6 L763.5,1274.5 L764.5,1274.5 L765.5,1274.4 L766.5,1274.4 L767.5,1274.4 L768.5,1274.3 L769.5,1274.3 L770.5,1274.3 L771.5,1274.2 L772.5,1274.2 L773.5,1274.2 L774.5,1274.2 L775.5,1274.3 L776.5,1274.4 L777.5,1274.6 L778.5,1274.8 L779.5,1275.0 L780.5,1275.3 L781.5,1275.6 L782.5,1275.9 L783.5,1276.2 L784.5,1276.5 L785.5,1276.8 L786.5,1277.0 L787.5,1277.2 L788.5,1277.4 L789.5,1277.5 L790.5,1277.5 L791.5,1277.5 L792.5,1277.6 L793.5,1277.6 L794.5,1277.6 L795.5,1277.6 L796.5,1277.6 L797.5,1277.6 L798.5,1277.7 L799.5,1277.7 L800.5,1277.7 L801.5,1277.8 L802.5,1277.9 L803.5,1278.1 L804.5,1278.3 L805.5,1278.5 L806.5,1278.8 L807.5,1279.1 L808.5,1279.4 L809.5,1279.7 L810.5,1280.0 L811.5,1280.3 L812.5,1280.6 L813.5,1280.9 L814.5,1281.2 L815.5,1281.4 L816.5,1281.7 L817.5,1281.9 L818.5,1282.0 L819.5,1282.2 L820.5,1282.3 L821.5,1282.3 L822.5,1282.3 L823.5,1282.3 L824.5,1282.3 L825.5,1282.3 L826.5,1282.3 L827.5,1282.3 L828.5,1282.2 L829.5,1282.2 L830.5,1282.2 L831.5,1282.2 L832.5,1282.2 L833.5,1282.1 L834.5,1282.1 L835.5,1282.1 L836.5,1282.1 L837.5,1282.0 L838.5,1282.0 L839.5,1282.0 L840.5,1281.9 L841.5,1281.9 L842.5,1281.9 L843.5,1281.8 L844.5,1281.8 L845.5,1281.7 L846.5,1281.7 L847.5,1281.6 L848.5,1281.5 L849.5,1281.4 L850.5,1281.3 L851.5,1281.2 L852.5,1281.1 L853.5,1281.1 L854.5,1281.0 L855.5,1280.9 L856.5,1280.8 L857.5,1280.7 L858.5,1280.6 L859.5,1280.5 L860.5,1280.5 L861.5,1280.4 L862.5,1280.3 L863.5,1280.3 L864.5,1280.2 L865.5,1280.2 L866.5,1280.2 L867.5,1280.2 L868.5,1280.2 L869.5,1280.3 L870.5,1280.3 L871.5,1280.4 L872.5,1280.5 L873.5,1280.6 L874.5,1280.7 L875.5,1280.9 L876.5,1281.0 L877.5,1281.1 L878.5,1281.3 L879.5,1281.6 L880.5,1282.0 L881.5,1282.4 L882.5,1282.8 L883.5,1283.3 L884.5,1283.7 L885.5,1284.1 L886.5,1284.5 L887.5,1284.9 L888.5,1285.2 L889.5,1285.4 L890.5,1285.6 L891.5,1285.8 L892.5,1286.0 L893.5,1286.2 L894.5,1286.4 L895.5,1286.6 L896.5,1286.8 L897.5,1286.9 L898.5,1287.1 L899.5,1287.2 L900.5,1287.4 L901.5,1287.5 L902.5,1287.7 L903.5,1287.8 L904.5,1287.9 L905.5,1288.1 L906.5,1288.2 L907.5,1288.3 L908.5,1288.4 L909.5,1288.6 L910.5,1288.7 L911.5,1288.8 L912.5,1288.9 L913.5,1289.0 L914.5,1289.1 L915.5,1289.3 L916.5,1289.4 L917.5,1289.5 L918.5,1289.6 L919.5,1289.7 L920.5,1289.8 L921.5,1289.9 L922.5,1290.0 L923.5,1290.1 L924.5,1290.2 L925.5,1290.3 L926.5,1290.4 L927.5,1290.5 L928.5,1290.6 L929.5,1290.7 L930.5,1290.8 L931.5,1290.9 L932.5,1291.0 L933.5,1291.1 L934.5,1291.2 L935.5,1291.3 L936.5,1291.4 L937.5,1291.5 L938.5,1291.6 L939.5,1291.7 L940.5,1291.8 L941.5,1291.9 L942.5,1292.0 L943.5,1292.2 L944.5,1292.3 L945.5,1292.4 L946.5,1292.5 L947.5,1292.6 L948.5,1292.7 L949.5,1292.8 L950.5,1293.0 L951.5,1293.1 L952.5,1293.2 L953.5,1293.4 L954.5,1293.5 L955.5,1293.7 L956.5,1293.9 L957.5,1294.1 L958.5,1294.3 L959.5,1294.5 L960.5,1294.8 L961.5,1295.1 L962.5,1295.6 L963.5,1296.1 L964.5,1296.6 L965.5,1297.0 L966.5,1297.5 L967.5,1297.8 L968.5,1298.0 L969.5,1298.2 L970.5,1298.4 L971.5,1298.5 L972.5,1298.7 L973.5,1298.8 L974.5,1298.9 L975.5,1299.1 L976.5,1299.2 L977.5,1299.3 L978.5,1299.5 L979.5,1299.6 L980.5,1299.8 L981.5,1300.0 L982.5,1300.2 L983.5,1300.4 L984.5,1300.6 L985.5,1300.8 L986.5,1301.0 L987.5,1301.2 L988.5,1301.4 L989.5,1301.6 L990.5,1301.8 L991.5,1302.0 L992.5,1302.2 L993.5,1302.5 L994.5,1302.7 L995.5,1302.9 L996.5,1303.1 L997.5,1303.3 L998.5,1303.5 L999.5,1303.7 L1000.5,1304.0 L1001.5,1304.2 L1002.5,1304.5 L1003.5,1304.8 L1004.5,1305.0 L1005.5,1305.3 L1006.5,1305.5 L1007.5,1305.8 L1008.5,1306.0 L1009.5,1306.2 L1010.5,1306.4 L1011.5,1306.6 L1012.5,1306.8 L1013.5,1306.9 L1014.5,1307.0 L1015.5,1307.0 L1016.5,1307.0 L1017.5,1307.0 L1018.5,1306.9 L1019.5,1306.9 L1020.5,1306.8 L1021.5,1306.7 L1022.5,1306.7 L1023.5,1306.6 L1024.5,1306.5 L1025.5,1306.5 L1026.5,1306.4 L1027.5,1306.4 L1028.5,1306.4 L1029.5,1306.5 L1030.5,1306.6 L1031.5,1306.7 L1032.5,1306.9 L1033.5,1307.1 L1034.5,1307.3 L1035.5,1307.6 L1036.5,1307.9 L1037.5,1308.2 L1038.5,1308.6 L1039.5,1308.9 L1040.5,1309.3 L1041.5,1309.7 L1042.5,1310.0 L1043.5,1310.4 L1044.5,1310.8 L1045.5,1311.1 L1046.5,1311.5 L1047.5,1311.8 L1048.5,1312.1 L1049.5,1312.4 L1050.5,1312.7 L1051.5,1312.9 L1052.5,1313.1 L1053.5,1313.3 L1054.5,1313.5 L1055.5,1313.8 L1056.5,1314.0 L1057.5,1314.2 L1058.5,1314.4 L1059.5,1314.7 L1060.5,1314.9 L1061.5,1315.1 L1062.5,1315.3 L1063.5,1315.4 L1064.5,1315.6 L1065.5,1315.7 L1066.5,1315.8 L1067.5,1315.9 L1068.5,1316.0 L1069.5,1316.0 L1070.5,1316.0 L1071.5,1316.0 L1072.5,1315.9 L1073.5,1315.8 L1074.5,1315.7 L1075.5,1315.7 L1076.5,1315.6 L1077.5,1315.5 L1078.5,1315.4 L1079.5,1315.4 L1080.5,1315.4 L1081.5,1315.5 L1082.5,1315.7 L1083.5,1315.9 L1084.5,1316.2 L1085.5,1316.6 L1086.5,1316.9 L1087.5,1317.3 L1088.5,1317.7 L1089.5,1318.1 L1090.5,1318.5 L1091.5,1318.9 L1092.5,1319.2 L1093.5,1319.5 L1094.5,1319.7 L1095.5,1319.9 L1096.5,1320.1 L1097.5,1320.4 L1098.5,1320.6 L1099.5,1320.8 L1100.5,1321.0 L1101.5,1321.1 L1102.5,1321.3 L1103.5,1321.5 L1104.5,1321.7 L1105.5,1321.9 L1106.5,1322.0 L1107.5,1322.2 L1108.5,1322.3 L1109.5,1322.5 L1110.5,1322.6 L1111.5,1322.7 L1112.5,1322.9 L1113.5,1323.0" stroke="#9b1cff" stroke-width="1.7" fill="none" transform="translate(0,-0.6)"/>
<path d="M632.3,1260.2 L635.5,1243.8 L639.9,1233.4 L644.4,1260.2 L648.8,1277.3 L653.3,1223.0 L657.8,1243.8 L661.5,1263.2 L669.7,1217.1 L674.9,1208.2 L679.3,1185.8 L683.0,1237.2 L687.5,1218.6 L692.0,1154.6 L696.4,1178.4 L700.9,1132.3 L704.6,1148.7 L709.1,1228.2 L713.5,1178.4 L718.0,1229.7 L726.9,1121.2 L735.8,1144.2 L739.5,1179.9 L744.0,1159.1 L748.0,1189.2 L752.4,1265.1 L756.2,1166.9 L760.6,1263.6 L765.1,1263.6 L769.5,1163.9 L774.0,1166.9 L778.5,1246.5 L781.4,1144.6 L786.6,1113.4 L789.6,1149.1 L795.6,1209.3 L800.0,1114.9 L804.5,1190.7 L808.9,1108.9 L817.9,1143.1 L820.8,1244.3 L826.0,1254.7 L829.8,1275.5 L834.2,1268.8 L838.7,1268.1 L842.4,1283.7 L846.9,1256.2 L851.3,1277.7 L855.8,1231.6 L859.7,1264.1 L864.4,1278.1 L873.7,1220.8 L877.9,1240.7 L883.1,1226.7 L886.6,1226.7 L890.1,1195.1 L894.8,1232.5 L899.4,1206.8 L904.1,1229.0 L908.8,1198.6 L920.5,1167.1 L925.2,1238.4 L932.2,1184.6 L937.5,1022.5 L942.7,1165.9 L958.5,989.0 L963.7,1164.7 L968.7,1037.0 L972.4,1210.5 L976.1,1108.9 L982.3,1138.7 L989.8,1100.2 L994.7,1133.7 L998.4,1108.9 L1003.4,1183.3 L1009.6,1133.7 L1015.8,1071.7 L1020.8,1170.9 L1027.0,1115.1 L1036.9,1027.1 L1045.6,1008.5 L1048.0,1061.8 L1054.2,1198.1 L1059.2,1094.0 L1062.9,1111.4 L1069.1,1242.8 L1075.3,1271.3 L1081.5,1193.2 L1089.0,1247.7 L1093.9,1213.0 L1103.8,1270.0 L1110.0,1247.7 L1114.3,1309.7" stroke="#111" stroke-width="1.8" fill="none" stroke-linejoin="round"/>
<path d="M632.5,1256.4 L633.5,1256.0 L634.5,1255.7 L635.5,1255.4 L636.5,1255.2 L637.5,1254.9 L638.5,1254.7 L639.5,1254.5 L640.5,1254.3 L641.5,1254.1 L642.5,1253.9 L643.5,1253.7 L644.5,1253.5 L645.5,1253.3 L646.5,1253.1 L647.5,1253.0 L648.5,1252.7 L649.5,1252.5 L650.5,1252.3 L651.5,1252.1 L652.5,1251.8 L653.5,1251.5 L654.5,1251.2 L655.5,1250.9 L656.5,1250.6 L657.5,1250.2 L658.5,1249.8 L659.5,1249.3 L660.5,1248.9 L661.5,1248.3 L662.5,1247.8 L663.5,1247.2 L664.5,1246.5 L665.5,1245.8 L666.5,1245.1 L667.5,1244.3 L668.5,1243.4 L669.5,1242.5 L670.5,1241.5 L671.5,1240.5 L672.5,1239.4 L673.5,1238.2 L674.5,1237.0 L675.5,1235.7 L676.5,1234.3 L677.5,1232.8 L678.5,1231.3 L679.5,1229.6 L680.5,1227.9 L681.5,1226.1 L682.5,1224.2 L683.5,1222.2 L684.5,1220.1 L685.5,1217.9 L686.5,1215.6 L687.5,1213.2 L688.5,1210.6 L689.5,1208.0 L690.5,1205.2 L691.5,1202.4 L692.5,1199.4 L693.5,1196.2 L694.5,1193.0 L695.5,1189.6 L696.5,1186.0 L697.5,1182.4 L698.5,1178.5 L699.5,1174.6 L700.5,1170.6 L701.5,1166.6 L702.5,1162.5 L703.5,1158.6 L704.5,1154.7 L705.5,1150.9 L706.5,1147.4 L707.5,1144.1 L708.5,1141.0 L709.5,1138.2 L710.5,1135.8 L711.5,1133.8 L712.5,1132.2 L713.5,1131.1 L714.5,1130.6 L715.5,1130.5 L716.5,1131.0 L717.5,1131.9 L718.5,1133.3 L719.5,1135.1 L720.5,1137.3 L721.5,1139.8 L722.5,1142.5 L723.5,1145.6 L724.5,1148.9 L725.5,1152.3 L726.5,1155.9 L727.5,1159.7 L728.5,1163.5 L729.5,1167.4 L730.5,1171.3 L731.5,1175.1 L732.5,1178.9 L733.5,1182.6 L734.5,1186.2 L735.5,1189.6 L736.5,1192.9 L737.5,1196.0 L738.5,1198.8 L739.5,1201.6 L740.5,1204.1 L741.5,1206.5 L742.5,1208.7 L743.5,1210.8 L744.5,1212.7 L745.5,1214.5 L746.5,1216.1 L747.5,1217.6 L748.5,1219.0 L749.5,1220.2 L750.5,1221.2 L751.5,1222.2 L752.5,1223.0 L753.5,1223.7 L754.5,1224.3 L755.5,1224.7 L756.5,1225.1 L757.5,1225.3 L758.5,1225.5 L759.5,1225.5 L760.5,1225.5 L761.5,1225.3 L762.5,1224.9 L763.5,1224.5 L764.5,1223.9 L765.5,1223.1 L766.5,1222.2 L767.5,1221.1 L768.5,1219.9 L769.5,1218.4 L770.5,1216.8 L771.5,1214.9 L772.5,1212.8 L773.5,1210.5 L774.5,1208.0 L775.5,1205.3 L776.5,1202.3 L777.5,1199.1 L778.5,1195.8 L779.5,1192.3 L780.5,1188.8 L781.5,1185.1 L782.5,1181.4 L783.5,1177.7 L784.5,1173.9 L785.5,1170.2 L786.5,1166.6 L787.5,1163.0 L788.5,1159.5 L789.5,1156.2 L790.5,1153.0 L791.5,1150.1 L792.5,1147.3 L793.5,1144.8 L794.5,1142.5 L795.5,1140.6 L796.5,1138.9 L797.5,1137.7 L798.5,1136.8 L799.5,1136.3 L800.5,1136.2 L801.5,1136.5 L802.5,1137.2 L803.5,1138.3 L804.5,1139.7 L805.5,1141.4 L806.5,1143.4 L807.5,1145.7 L808.5,1148.2 L809.5,1150.9 L810.5,1153.9 L811.5,1157.0 L812.5,1160.3 L813.5,1163.8 L814.5,1167.3 L815.5,1171.0 L816.5,1174.7 L817.5,1178.5 L818.5,1182.3 L819.5,1186.1 L820.5,1190.0 L821.5,1193.7 L822.5,1197.5 L823.5,1201.1 L824.5,1204.7 L825.5,1208.2 L826.5,1211.5 L827.5,1214.6 L828.5,1217.6 L829.5,1220.4 L830.5,1223.1 L831.5,1225.6 L832.5,1228.0 L833.5,1230.3 L834.5,1232.4 L835.5,1234.4 L836.5,1236.2 L837.5,1237.9 L838.5,1239.5 L839.5,1241.0 L840.5,1242.4 L841.5,1243.7 L842.5,1244.9 L843.5,1246.0 L844.5,1247.0 L845.5,1247.9 L846.5,1248.7 L847.5,1249.4 L848.5,1250.1 L849.5,1250.7 L850.5,1251.2 L851.5,1251.7 L852.5,1252.1 L853.5,1252.5 L854.5,1252.8 L855.5,1253.1 L856.5,1253.3 L857.5,1253.5 L858.5,1253.7 L859.5,1253.9 L860.5,1254.0 L861.5,1254.1 L862.5,1254.2 L863.5,1254.3 L864.5,1254.4 L865.5,1254.5 L866.5,1254.6 L867.5,1254.7 L868.5,1254.8 L869.5,1254.9 L870.5,1255.0 L871.5,1255.1 L872.5,1255.2 L873.5,1255.2 L874.5,1255.3 L875.5,1255.4 L876.5,1255.4 L877.5,1255.4 L878.5,1255.5 L879.5,1255.4 L880.5,1255.4 L881.5,1255.4 L882.5,1255.3 L883.5,1255.2 L884.5,1255.1 L885.5,1255.0 L886.5,1254.8 L887.5,1254.6 L888.5,1254.4 L889.5,1254.1 L890.5,1253.9 L891.5,1253.5 L892.5,1253.2 L893.5,1252.8 L894.5,1252.3 L895.5,1251.8 L896.5,1251.3 L897.5,1250.8 L898.5,1250.1 L899.5,1249.5 L900.5,1248.8 L901.5,1248.0 L902.5,1247.2 L903.5,1246.3 L904.5,1245.4 L905.5,1244.4 L906.5,1243.4 L907.5,1242.3 L908.5,1241.1 L909.5,1239.9 L910.5,1238.6 L911.5,1237.3 L912.5,1235.9 L913.5,1234.4 L914.5,1232.8 L915.5,1231.2 L916.5,1229.5 L917.5,1227.7 L918.5,1225.7 L919.5,1223.6 L920.5,1221.2 L921.5,1218.6 L922.5,1215.7 L923.5,1212.4 L924.5,1208.7 L925.5,1204.6 L926.5,1200.1 L927.5,1195.1 L928.5,1189.8 L929.5,1184.1 L930.5,1178.1 L931.5,1171.8 L932.5,1165.3 L933.5,1158.6 L934.5,1151.6 L935.5,1144.6 L936.5,1137.3 L937.5,1130.0 L938.5,1122.5 L939.5,1115.0 L940.5,1107.3 L941.5,1099.6 L942.5,1091.8 L943.5,1084.0 L944.5,1076.1 L945.5,1068.3 L946.5,1060.6 L947.5,1053.1 L948.5,1046.0 L949.5,1039.4 L950.5,1033.3 L951.5,1027.9 L952.5,1023.3 L953.5,1019.6 L954.5,1016.8 L955.5,1015.1 L956.5,1014.6 L957.5,1015.3 L958.5,1016.8 L959.5,1019.3 L960.5,1022.6 L961.5,1026.5 L962.5,1031.0 L963.5,1036.1 L964.5,1041.6 L965.5,1047.4 L966.5,1053.5 L967.5,1059.9 L968.5,1066.3 L969.5,1072.8 L970.5,1079.3 L971.5,1085.7 L972.5,1091.8 L973.5,1097.7 L974.5,1103.4 L975.5,1108.9 L976.5,1114.2 L977.5,1119.3 L978.5,1124.3 L979.5,1129.2 L980.5,1133.9 L981.5,1138.6 L982.5,1143.3 L983.5,1147.9 L984.5,1152.5 L985.5,1157.1 L986.5,1161.7 L987.5,1166.3 L988.5,1170.9 L989.5,1175.3 L990.5,1179.6 L991.5,1183.7 L992.5,1187.6 L993.5,1191.3 L994.5,1194.7 L995.5,1197.8 L996.5,1200.6 L997.5,1203.0 L998.5,1205.0 L999.5,1206.6 L1000.5,1207.7 L1001.5,1208.3 L1002.5,1208.5 L1003.5,1208.3 L1004.5,1207.7 L1005.5,1206.7 L1006.5,1205.3 L1007.5,1203.6 L1008.5,1201.6 L1009.5,1199.2 L1010.5,1196.6 L1011.5,1193.7 L1012.5,1190.5 L1013.5,1187.1 L1014.5,1183.5 L1015.5,1179.7 L1016.5,1175.6 L1017.5,1171.4 L1018.5,1166.9 L1019.5,1162.2 L1020.5,1157.3 L1021.5,1152.1 L1022.5,1146.6 L1023.5,1140.9 L1024.5,1134.8 L1025.5,1128.5 L1026.5,1121.9 L1027.5,1115.0 L1028.5,1107.8 L1029.5,1100.5 L1030.5,1093.0 L1031.5,1085.4 L1032.5,1077.8 L1033.5,1070.4 L1034.5,1063.1 L1035.5,1056.1 L1036.5,1049.5 L1037.5,1043.6 L1038.5,1038.6 L1039.5,1034.6 L1040.5,1031.9 L1041.5,1030.7 L1042.5,1030.7 L1043.5,1032.0 L1044.5,1034.3 L1045.5,1037.6 L1046.5,1041.6 L1047.5,1046.2 L1048.5,1051.3 L1049.5,1056.7 L1050.5,1062.4 L1051.5,1068.3 L1052.5,1074.3 L1053.5,1080.6 L1054.5,1086.9 L1055.5,1093.4 L1056.5,1099.9 L1057.5,1106.6 L1058.5,1113.3 L1059.5,1120.0 L1060.5,1126.8 L1061.5,1133.5 L1062.5,1140.2 L1063.5,1146.9 L1064.5,1153.5 L1065.5,1160.0 L1066.5,1166.4 L1067.5,1172.7 L1068.5,1178.8 L1069.5,1184.8 L1070.5,1190.6 L1071.5,1196.1 L1072.5,1201.4 L1073.5,1206.5 L1074.5,1211.4 L1075.5,1216.1 L1076.5,1220.5 L1077.5,1224.8 L1078.5,1228.8 L1079.5,1232.6 L1080.5,1236.3 L1081.5,1239.7 L1082.5,1243.0 L1083.5,1246.1 L1084.5,1249.0 L1085.5,1251.8 L1086.5,1254.4 L1087.5,1256.9 L1088.5,1259.2 L1089.5,1261.5 L1090.5,1263.5 L1091.5,1265.5 L1092.5,1267.4 L1093.5,1269.2 L1094.5,1270.9 L1095.5,1272.5 L1096.5,1274.1 L1097.5,1275.6 L1098.5,1277.0 L1099.5,1278.5 L1100.5,1279.8 L1101.5,1281.2 L1102.5,1282.6 L1103.5,1283.9 L1104.5,1285.2 L1105.5,1286.6 L1106.5,1288.0 L1107.5,1289.4 L1108.5,1290.8 L1109.5,1292.3 L1110.5,1293.9 L1111.5,1295.5 L1112.5,1297.2 L1113.5,1299.0" stroke="#ff1010" stroke-width="1.7" fill="none"/>
<text x="720.6" y="1007.4" font-family='"Liberation Serif", serif' font-size="24" fill="#000">TiO</text>
<text x="757.7" y="1015.8" font-family='"Liberation Serif", serif' font-size="14.5" fill="#000">2</text>
<text x="770.8" y="1007.4" font-family='"Liberation Serif", serif' font-size="24" fill="#000">coated</text>
<text x="845.1" y="1007.4" font-family='"Liberation Serif", serif' font-size="24" fill="#000">Ti</text>
<text x="865.6" y="1015.8" font-family='"Liberation Serif", serif' font-size="13.5" fill="#000">2p</text>
<text x="695.6" y="1017.6" font-family='"Liberation Sans", sans-serif' font-size="40.5" font-weight="bold" fill="#000" text-anchor="end">(h)</text>
<text x="635.9" y="1110.1" font-family='"Liberation Serif", serif' font-size="20.5" fill="#111">O-Ti</text>
<text x="675.7" y="1099.8" font-family='"Liberation Serif", serif' font-size="12" fill="#111">3+</text>
<text x="688.1" y="1117.0" font-family='"Liberation Serif", serif' font-size="12.4" fill="#111">2p1/2</text>
<text x="719.9" y="1091.5" font-family='"Liberation Serif", serif' font-size="20.5" fill="#111">O-Ti</text>
<text x="758.7" y="1083.9" font-family='"Liberation Serif", serif' font-size="12" fill="#111">4+</text>
<text x="772.4" y="1099.0" font-family='"Liberation Serif", serif' font-size="12.4" fill="#111">2p1/2</text>
<text x="837.1" y="1129.0" font-family='"Liberation Serif", serif' font-size="20.5" fill="#111">O-Ti</text>
<text x="878.0" y="1119.5" font-family='"Liberation Serif", serif' font-size="12" fill="#111">3+</text>
<text x="889.6" y="1136.7" font-family='"Liberation Serif", serif' font-size="12.4" fill="#111">2p3/2</text>
<text x="971.1" y="999.5" font-family='"Liberation Serif", serif' font-size="20.5" fill="#111">O-Ti</text>
<text x="1010.6" y="988.8" font-family='"Liberation Serif", serif' font-size="12" fill="#111">4+</text>
<text x="1023.0" y="1006.5" font-family='"Liberation Serif", serif' font-size="12.4" fill="#111">2p3/2</text>
<path d="M660.7,1123.4L704.8,1242.3" stroke="#222" stroke-width="0.9" stroke-dasharray="1.1,1.1" fill="none"/>
<path d="M707.6,1249.8L702.2,1243.3L705.5,1244.2L707.4,1241.3Z" fill="#222"/>
<path d="M753.9,1114.9L792.9,1223.4" stroke="#222" stroke-width="0.9" stroke-dasharray="1.1,1.1" fill="none"/>
<path d="M795.6,1230.9L790.3,1224.3L793.6,1225.3L795.5,1222.4Z" fill="#222"/>
<path d="M879.6,1144.9L948.8,1215.1" stroke="#222" stroke-width="0.9" fill="none"/>
<path d="M954.4,1220.8L946.8,1217.1L950.2,1216.5L950.8,1213.1Z" fill="#222"/>
<path d="M1008.4,1023.4L1031.9,1160.5" stroke="#222" stroke-width="0.9" stroke-dasharray="1.1,1.1" fill="none"/>
<path d="M1033.2,1168.4L1029.1,1161.0L1032.2,1162.5L1034.6,1160.0Z" fill="#222"/>
<text x="748.6" y="1395.4" font-family='"Liberation Serif", serif' font-size="30" fill="#000">Binding energy (eV)</text>
<text transform="translate(606.3,1194.4) rotate(-90)" font-family='"Liberation Serif", serif' font-size="30" fill="#000" x="-1">Intensity</text>
</svg></body></html>
